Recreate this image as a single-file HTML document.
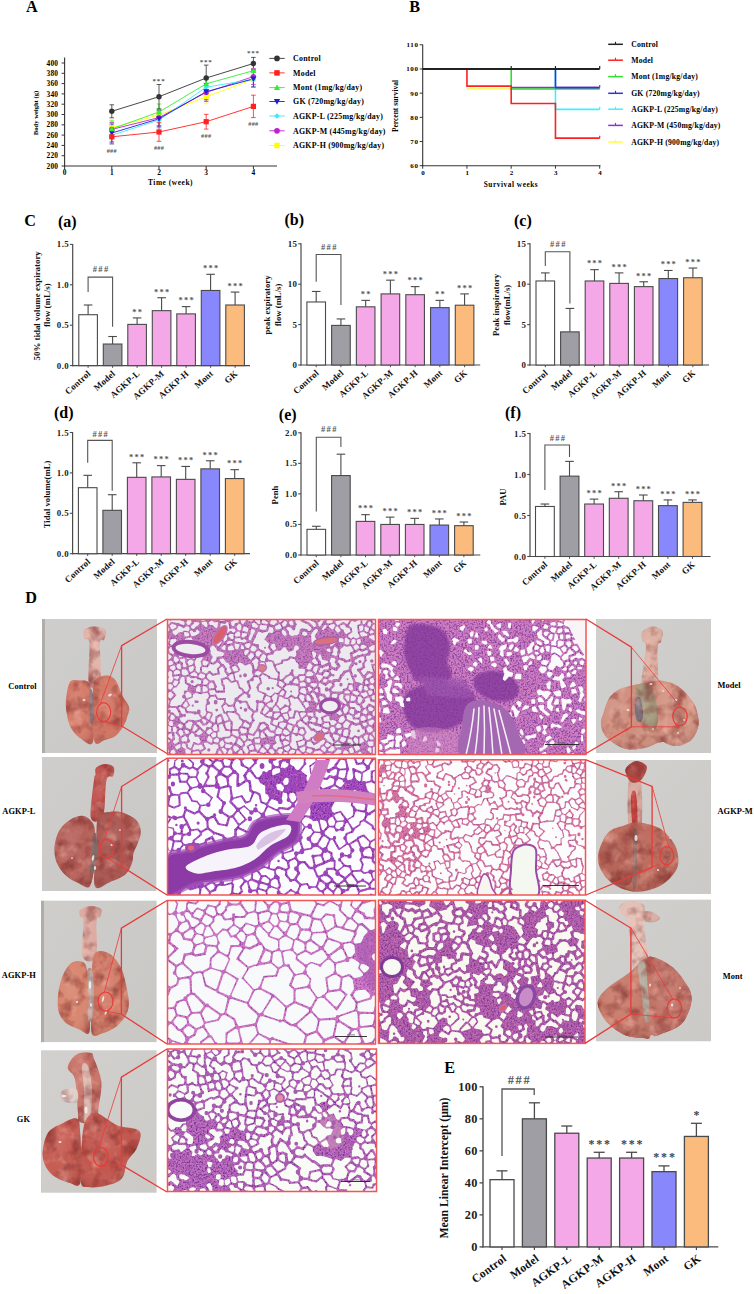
<!DOCTYPE html>
<html><head><meta charset="utf-8"><title>Figure</title>
<style>
html,body{margin:0;padding:0;background:#fff;}
body{width:754px;height:1294px;overflow:hidden;}
svg{display:block;font-family:"Liberation Serif", serif;font-weight:bold;}
</style></head>
<body>
<svg width="754" height="1294" viewBox="0 0 754 1294">
<defs><filter id="spk" x="0" y="0" width="1" height="1" color-interpolation-filters="sRGB">
<feTurbulence type="fractalNoise" baseFrequency="0.55" numOctaves="2" seed="4"/>
<feColorMatrix type="matrix" values="0 0 0 0 0.42 0 0 0 0 0.16 0 0 0 0 0.55 3.2 0 0 0 -1.45"/>
</filter><filter id="spk2" x="0" y="0" width="1" height="1" color-interpolation-filters="sRGB">
<feTurbulence type="fractalNoise" baseFrequency="0.7" numOctaves="2" seed="9"/>
<feColorMatrix type="matrix" values="0 0 0 0 0.95 0 0 0 0 0.55 0 0 0 0 0.75 0 3.0 0 0 -1.5"/>
</filter><filter id="soft" x="-2%" y="-2%" width="104%" height="104%"><feGaussianBlur stdDeviation="0.55"/></filter><filter id="soft2" x="-5%" y="-5%" width="110%" height="110%"><feGaussianBlur stdDeviation="1.2"/></filter><filter id="soft3" x="-20%" y="-20%" width="140%" height="140%"><feGaussianBlur stdDeviation="2.5"/></filter><filter id="lt" x="-5%" y="-5%" width="110%" height="110%" color-interpolation-filters="sRGB">
<feTurbulence type="fractalNoise" baseFrequency="0.07" numOctaves="3" seed="2" result="n"/>
<feColorMatrix in="n" type="matrix" values="0 0 0 0 0.45 0 0 0 0 0.12 0 0 0 0 0.12 1.4 0 0 0 -0.62" result="d"/>
<feComposite in="d" in2="SourceGraphic" operator="in" result="d2"/>
<feColorMatrix in="n" type="matrix" values="0 0 0 0 1 0 0 0 0 0.78 0 0 0 0 0.72 0 0 1.3 0 -0.7" result="l"/>
<feComposite in="l" in2="SourceGraphic" operator="in" result="l2"/>
<feMerge><feMergeNode in="SourceGraphic"/><feMergeNode in="d2"/><feMergeNode in="l2"/></feMerge>
<feGaussianBlur stdDeviation="0.75"/>
</filter><linearGradient id="bgg" x1="0" y1="0" x2="1" y2="1"><stop offset="0" stop-color="#d2d1cf"/><stop offset="1" stop-color="#c6c4c1"/></linearGradient><radialGradient id="lobeg" cx="0.4" cy="0.35" r="0.75"><stop offset="0" stop-color="#fff" stop-opacity="0.1"/><stop offset="0.55" stop-color="#fff" stop-opacity="0"/><stop offset="1" stop-color="#400" stop-opacity="0.18"/></radialGradient><clipPath id="c1"><rect x="167.5" y="619.5" width="208" height="135"/></clipPath><clipPath id="c2"><rect x="378.5" y="619.5" width="207.5" height="135"/></clipPath><clipPath id="c3"><rect x="167.5" y="758.2" width="208" height="136.8"/></clipPath><clipPath id="c4"><rect x="378.5" y="759.8" width="207" height="135.2"/></clipPath><clipPath id="c5"><rect x="167.5" y="900.5" width="208" height="143.5"/></clipPath><clipPath id="c6"><rect x="378.5" y="900.2" width="206.5" height="143.2"/></clipPath><clipPath id="c7"><rect x="167.5" y="1049" width="209" height="142.5"/></clipPath><clipPath id="c8"><rect x="42" y="619" width="115" height="134"/></clipPath><clipPath id="c9"><rect x="596" y="619" width="115" height="134"/></clipPath><clipPath id="c10"><rect x="42" y="757" width="114.5" height="134"/></clipPath><clipPath id="c11"><rect x="596" y="760" width="115" height="134"/></clipPath><clipPath id="c12"><rect x="41" y="900.5" width="115.7" height="141.8"/></clipPath><clipPath id="c13"><rect x="596" y="899.5" width="115" height="141.9"/></clipPath><clipPath id="c14"><rect x="41" y="1050.2" width="115.7" height="142.6"/></clipPath></defs>
<text x="26.00" y="12.40" font-size="16.2">A</text>
<text x="409.30" y="12.40" font-size="16.2">B</text>
<text x="24.30" y="226.20" font-size="16.2">C</text>
<text x="25.30" y="602.70" font-size="16.2">D</text>
<text x="444.30" y="1072.70" font-size="16.2">E</text>
<line x1="64.60" y1="57.40" x2="64.60" y2="166.60" stroke="#333" stroke-width="1.1"/>
<line x1="64.10" y1="166.00" x2="277.00" y2="166.00" stroke="#333" stroke-width="1.1"/>
<line x1="61.60" y1="166.00" x2="64.60" y2="166.00" stroke="#333" stroke-width="1"/>
<text x="58.00" y="168.60" font-size="7.4" text-anchor="end" letter-spacing="0.1">200</text>
<line x1="61.60" y1="155.70" x2="64.60" y2="155.70" stroke="#333" stroke-width="1"/>
<text x="58.00" y="158.30" font-size="7.4" text-anchor="end" letter-spacing="0.1">220</text>
<line x1="61.60" y1="145.40" x2="64.60" y2="145.40" stroke="#333" stroke-width="1"/>
<text x="58.00" y="148.00" font-size="7.4" text-anchor="end" letter-spacing="0.1">240</text>
<line x1="61.60" y1="135.10" x2="64.60" y2="135.10" stroke="#333" stroke-width="1"/>
<text x="58.00" y="137.70" font-size="7.4" text-anchor="end" letter-spacing="0.1">260</text>
<line x1="61.60" y1="124.80" x2="64.60" y2="124.80" stroke="#333" stroke-width="1"/>
<text x="58.00" y="127.40" font-size="7.4" text-anchor="end" letter-spacing="0.1">280</text>
<line x1="61.60" y1="114.50" x2="64.60" y2="114.50" stroke="#333" stroke-width="1"/>
<text x="58.00" y="117.10" font-size="7.4" text-anchor="end" letter-spacing="0.1">300</text>
<line x1="61.60" y1="104.20" x2="64.60" y2="104.20" stroke="#333" stroke-width="1"/>
<text x="58.00" y="106.80" font-size="7.4" text-anchor="end" letter-spacing="0.1">320</text>
<line x1="61.60" y1="93.90" x2="64.60" y2="93.90" stroke="#333" stroke-width="1"/>
<text x="58.00" y="96.50" font-size="7.4" text-anchor="end" letter-spacing="0.1">340</text>
<line x1="61.60" y1="83.60" x2="64.60" y2="83.60" stroke="#333" stroke-width="1"/>
<text x="58.00" y="86.20" font-size="7.4" text-anchor="end" letter-spacing="0.1">360</text>
<line x1="61.60" y1="73.30" x2="64.60" y2="73.30" stroke="#333" stroke-width="1"/>
<text x="58.00" y="75.90" font-size="7.4" text-anchor="end" letter-spacing="0.1">380</text>
<line x1="61.60" y1="63.00" x2="64.60" y2="63.00" stroke="#333" stroke-width="1"/>
<text x="58.00" y="65.60" font-size="7.4" text-anchor="end" letter-spacing="0.1">400</text>
<line x1="64.60" y1="166.00" x2="64.60" y2="169.00" stroke="#333" stroke-width="1"/>
<text x="64.60" y="175.30" font-size="7.4" text-anchor="middle">0</text>
<line x1="111.80" y1="166.00" x2="111.80" y2="169.00" stroke="#333" stroke-width="1"/>
<text x="111.80" y="175.30" font-size="7.4" text-anchor="middle">1</text>
<line x1="159.00" y1="166.00" x2="159.00" y2="169.00" stroke="#333" stroke-width="1"/>
<text x="159.00" y="175.30" font-size="7.4" text-anchor="middle">2</text>
<line x1="206.20" y1="166.00" x2="206.20" y2="169.00" stroke="#333" stroke-width="1"/>
<text x="206.20" y="175.30" font-size="7.4" text-anchor="middle">3</text>
<line x1="253.40" y1="166.00" x2="253.40" y2="169.00" stroke="#333" stroke-width="1"/>
<text x="253.40" y="175.30" font-size="7.4" text-anchor="middle">4</text>
<text x="170.50" y="185.00" font-size="7.4" text-anchor="middle" letter-spacing="0.55">Time (week)</text>
<text x="38.00" y="113.00" font-size="6.6" text-anchor="middle" transform="rotate(-90 38.00 113.00)">Body weight (g)</text>
<polyline points="111.80,127.80 159.00,115.00 206.20,96.70 253.40,79.30" fill="none" stroke="#ffff00" stroke-width="0.9"/>
<line x1="111.80" y1="119.80" x2="111.80" y2="135.80" stroke="#ffff00" stroke-width="0.8"/>
<line x1="109.50" y1="119.80" x2="114.10" y2="119.80" stroke="#ffff00" stroke-width="0.8"/>
<line x1="109.50" y1="135.80" x2="114.10" y2="135.80" stroke="#ffff00" stroke-width="0.8"/>
<line x1="159.00" y1="108.00" x2="159.00" y2="122.00" stroke="#ffff00" stroke-width="0.8"/>
<line x1="156.70" y1="108.00" x2="161.30" y2="108.00" stroke="#ffff00" stroke-width="0.8"/>
<line x1="156.70" y1="122.00" x2="161.30" y2="122.00" stroke="#ffff00" stroke-width="0.8"/>
<line x1="206.20" y1="89.70" x2="206.20" y2="103.70" stroke="#ffff00" stroke-width="0.8"/>
<line x1="203.90" y1="89.70" x2="208.50" y2="89.70" stroke="#ffff00" stroke-width="0.8"/>
<line x1="203.90" y1="103.70" x2="208.50" y2="103.70" stroke="#ffff00" stroke-width="0.8"/>
<line x1="253.40" y1="71.30" x2="253.40" y2="87.30" stroke="#ffff00" stroke-width="0.8"/>
<line x1="251.10" y1="71.30" x2="255.70" y2="71.30" stroke="#ffff00" stroke-width="0.8"/>
<line x1="251.10" y1="87.30" x2="255.70" y2="87.30" stroke="#ffff00" stroke-width="0.8"/>
<polyline points="111.80,129.40 159.00,117.60 206.20,92.40 253.40,76.60" fill="none" stroke="#c020d0" stroke-width="0.9"/>
<line x1="111.80" y1="122.40" x2="111.80" y2="136.40" stroke="#c020d0" stroke-width="0.8"/>
<line x1="109.50" y1="122.40" x2="114.10" y2="122.40" stroke="#c020d0" stroke-width="0.8"/>
<line x1="109.50" y1="136.40" x2="114.10" y2="136.40" stroke="#c020d0" stroke-width="0.8"/>
<line x1="159.00" y1="109.60" x2="159.00" y2="125.60" stroke="#c020d0" stroke-width="0.8"/>
<line x1="156.70" y1="109.60" x2="161.30" y2="109.60" stroke="#c020d0" stroke-width="0.8"/>
<line x1="156.70" y1="125.60" x2="161.30" y2="125.60" stroke="#c020d0" stroke-width="0.8"/>
<line x1="206.20" y1="83.40" x2="206.20" y2="101.40" stroke="#c020d0" stroke-width="0.8"/>
<line x1="203.90" y1="83.40" x2="208.50" y2="83.40" stroke="#c020d0" stroke-width="0.8"/>
<line x1="203.90" y1="101.40" x2="208.50" y2="101.40" stroke="#c020d0" stroke-width="0.8"/>
<line x1="253.40" y1="68.60" x2="253.40" y2="84.60" stroke="#c020d0" stroke-width="0.8"/>
<line x1="251.10" y1="68.60" x2="255.70" y2="68.60" stroke="#c020d0" stroke-width="0.8"/>
<line x1="251.10" y1="84.60" x2="255.70" y2="84.60" stroke="#c020d0" stroke-width="0.8"/>
<polyline points="111.80,135.20 159.00,120.00 206.20,87.20 253.40,79.30" fill="none" stroke="#40e8ff" stroke-width="0.9"/>
<line x1="111.80" y1="126.20" x2="111.80" y2="144.20" stroke="#40e8ff" stroke-width="0.8"/>
<line x1="109.50" y1="126.20" x2="114.10" y2="126.20" stroke="#40e8ff" stroke-width="0.8"/>
<line x1="109.50" y1="144.20" x2="114.10" y2="144.20" stroke="#40e8ff" stroke-width="0.8"/>
<line x1="159.00" y1="112.00" x2="159.00" y2="128.00" stroke="#40e8ff" stroke-width="0.8"/>
<line x1="156.70" y1="112.00" x2="161.30" y2="112.00" stroke="#40e8ff" stroke-width="0.8"/>
<line x1="156.70" y1="128.00" x2="161.30" y2="128.00" stroke="#40e8ff" stroke-width="0.8"/>
<line x1="206.20" y1="79.20" x2="206.20" y2="95.20" stroke="#40e8ff" stroke-width="0.8"/>
<line x1="203.90" y1="79.20" x2="208.50" y2="79.20" stroke="#40e8ff" stroke-width="0.8"/>
<line x1="203.90" y1="95.20" x2="208.50" y2="95.20" stroke="#40e8ff" stroke-width="0.8"/>
<line x1="253.40" y1="71.30" x2="253.40" y2="87.30" stroke="#40e8ff" stroke-width="0.8"/>
<line x1="251.10" y1="71.30" x2="255.70" y2="71.30" stroke="#40e8ff" stroke-width="0.8"/>
<line x1="251.10" y1="87.30" x2="255.70" y2="87.30" stroke="#40e8ff" stroke-width="0.8"/>
<polyline points="111.80,133.00 159.00,118.80 206.20,91.70 253.40,78.90" fill="none" stroke="#2020d0" stroke-width="0.9"/>
<line x1="111.80" y1="124.00" x2="111.80" y2="142.00" stroke="#2020d0" stroke-width="0.8"/>
<line x1="109.50" y1="124.00" x2="114.10" y2="124.00" stroke="#2020d0" stroke-width="0.8"/>
<line x1="109.50" y1="142.00" x2="114.10" y2="142.00" stroke="#2020d0" stroke-width="0.8"/>
<line x1="159.00" y1="110.80" x2="159.00" y2="126.80" stroke="#2020d0" stroke-width="0.8"/>
<line x1="156.70" y1="110.80" x2="161.30" y2="110.80" stroke="#2020d0" stroke-width="0.8"/>
<line x1="156.70" y1="126.80" x2="161.30" y2="126.80" stroke="#2020d0" stroke-width="0.8"/>
<line x1="206.20" y1="83.70" x2="206.20" y2="99.70" stroke="#2020d0" stroke-width="0.8"/>
<line x1="203.90" y1="83.70" x2="208.50" y2="83.70" stroke="#2020d0" stroke-width="0.8"/>
<line x1="203.90" y1="99.70" x2="208.50" y2="99.70" stroke="#2020d0" stroke-width="0.8"/>
<line x1="253.40" y1="70.90" x2="253.40" y2="86.90" stroke="#2020d0" stroke-width="0.8"/>
<line x1="251.10" y1="70.90" x2="255.70" y2="70.90" stroke="#2020d0" stroke-width="0.8"/>
<line x1="251.10" y1="86.90" x2="255.70" y2="86.90" stroke="#2020d0" stroke-width="0.8"/>
<polyline points="111.80,128.90 159.00,112.00 206.20,83.80 253.40,70.70" fill="none" stroke="#30f030" stroke-width="0.9"/>
<line x1="111.80" y1="120.90" x2="111.80" y2="136.90" stroke="#30f030" stroke-width="0.8"/>
<line x1="109.50" y1="120.90" x2="114.10" y2="120.90" stroke="#30f030" stroke-width="0.8"/>
<line x1="109.50" y1="136.90" x2="114.10" y2="136.90" stroke="#30f030" stroke-width="0.8"/>
<line x1="159.00" y1="104.00" x2="159.00" y2="120.00" stroke="#30f030" stroke-width="0.8"/>
<line x1="156.70" y1="104.00" x2="161.30" y2="104.00" stroke="#30f030" stroke-width="0.8"/>
<line x1="156.70" y1="120.00" x2="161.30" y2="120.00" stroke="#30f030" stroke-width="0.8"/>
<line x1="206.20" y1="77.80" x2="206.20" y2="89.80" stroke="#30f030" stroke-width="0.8"/>
<line x1="203.90" y1="77.80" x2="208.50" y2="77.80" stroke="#30f030" stroke-width="0.8"/>
<line x1="203.90" y1="89.80" x2="208.50" y2="89.80" stroke="#30f030" stroke-width="0.8"/>
<line x1="253.40" y1="64.70" x2="253.40" y2="76.70" stroke="#30f030" stroke-width="0.8"/>
<line x1="251.10" y1="64.70" x2="255.70" y2="64.70" stroke="#30f030" stroke-width="0.8"/>
<line x1="251.10" y1="76.70" x2="255.70" y2="76.70" stroke="#30f030" stroke-width="0.8"/>
<polyline points="111.80,136.80 159.00,132.00 206.20,121.70 253.40,106.40" fill="none" stroke="#ff2020" stroke-width="0.9"/>
<line x1="111.80" y1="129.80" x2="111.80" y2="143.80" stroke="#ff2020" stroke-width="0.8"/>
<line x1="109.50" y1="129.80" x2="114.10" y2="129.80" stroke="#ff2020" stroke-width="0.8"/>
<line x1="109.50" y1="143.80" x2="114.10" y2="143.80" stroke="#ff2020" stroke-width="0.8"/>
<line x1="159.00" y1="122.70" x2="159.00" y2="141.30" stroke="#ff2020" stroke-width="0.8"/>
<line x1="156.70" y1="122.70" x2="161.30" y2="122.70" stroke="#ff2020" stroke-width="0.8"/>
<line x1="156.70" y1="141.30" x2="161.30" y2="141.30" stroke="#ff2020" stroke-width="0.8"/>
<line x1="206.20" y1="114.30" x2="206.20" y2="129.10" stroke="#ff2020" stroke-width="0.8"/>
<line x1="203.90" y1="114.30" x2="208.50" y2="114.30" stroke="#ff2020" stroke-width="0.8"/>
<line x1="203.90" y1="129.10" x2="208.50" y2="129.10" stroke="#ff2020" stroke-width="0.8"/>
<line x1="253.40" y1="95.20" x2="253.40" y2="117.60" stroke="#ff2020" stroke-width="0.8"/>
<line x1="251.10" y1="95.20" x2="255.70" y2="95.20" stroke="#ff2020" stroke-width="0.8"/>
<line x1="251.10" y1="117.60" x2="255.70" y2="117.60" stroke="#ff2020" stroke-width="0.8"/>
<polyline points="111.80,111.30 159.00,96.70 206.20,78.00 253.40,63.50" fill="none" stroke="#333333" stroke-width="0.9"/>
<line x1="111.80" y1="104.80" x2="111.80" y2="117.80" stroke="#333333" stroke-width="0.8"/>
<line x1="109.50" y1="104.80" x2="114.10" y2="104.80" stroke="#333333" stroke-width="0.8"/>
<line x1="109.50" y1="117.80" x2="114.10" y2="117.80" stroke="#333333" stroke-width="0.8"/>
<line x1="159.00" y1="84.50" x2="159.00" y2="108.90" stroke="#333333" stroke-width="0.8"/>
<line x1="156.70" y1="84.50" x2="161.30" y2="84.50" stroke="#333333" stroke-width="0.8"/>
<line x1="156.70" y1="108.90" x2="161.30" y2="108.90" stroke="#333333" stroke-width="0.8"/>
<line x1="206.20" y1="65.10" x2="206.20" y2="90.90" stroke="#333333" stroke-width="0.8"/>
<line x1="203.90" y1="65.10" x2="208.50" y2="65.10" stroke="#333333" stroke-width="0.8"/>
<line x1="203.90" y1="90.90" x2="208.50" y2="90.90" stroke="#333333" stroke-width="0.8"/>
<line x1="253.40" y1="57.40" x2="253.40" y2="69.60" stroke="#333333" stroke-width="0.8"/>
<line x1="251.10" y1="57.40" x2="255.70" y2="57.40" stroke="#333333" stroke-width="0.8"/>
<line x1="251.10" y1="69.60" x2="255.70" y2="69.60" stroke="#333333" stroke-width="0.8"/>
<rect x="109.20" y="125.20" width="5.20" height="5.20" fill="#ffff00"/>
<rect x="156.40" y="112.40" width="5.20" height="5.20" fill="#ffff00"/>
<rect x="203.60" y="94.10" width="5.20" height="5.20" fill="#ffff00"/>
<rect x="250.80" y="76.70" width="5.20" height="5.20" fill="#ffff00"/>
<circle cx="111.80" cy="129.40" r="2.70" fill="#c020d0"/>
<circle cx="159.00" cy="117.60" r="2.70" fill="#c020d0"/>
<circle cx="206.20" cy="92.40" r="2.70" fill="#c020d0"/>
<circle cx="253.40" cy="76.60" r="2.70" fill="#c020d0"/>
<path d="M111.80 132.60L114.40 135.20L111.80 137.80L109.20 135.20Z" fill="#40e8ff"/>
<path d="M159.00 117.40L161.60 120.00L159.00 122.60L156.40 120.00Z" fill="#40e8ff"/>
<path d="M206.20 84.60L208.80 87.20L206.20 89.80L203.60 87.20Z" fill="#40e8ff"/>
<path d="M253.40 76.70L256.00 79.30L253.40 81.90L250.80 79.30Z" fill="#40e8ff"/>
<path d="M111.80 136.00L114.80 130.60L108.80 130.60Z" fill="#2020d0"/>
<path d="M159.00 121.80L162.00 116.40L156.00 116.40Z" fill="#2020d0"/>
<path d="M206.20 94.70L209.20 89.30L203.20 89.30Z" fill="#2020d0"/>
<path d="M253.40 81.90L256.40 76.50L250.40 76.50Z" fill="#2020d0"/>
<path d="M111.80 125.90L114.80 131.30L108.80 131.30Z" fill="#30f030"/>
<path d="M159.00 109.00L162.00 114.40L156.00 114.40Z" fill="#30f030"/>
<path d="M206.20 80.80L209.20 86.20L203.20 86.20Z" fill="#30f030"/>
<path d="M253.40 67.70L256.40 73.10L250.40 73.10Z" fill="#30f030"/>
<rect x="109.20" y="134.20" width="5.20" height="5.20" fill="#ff2020"/>
<rect x="156.40" y="129.40" width="5.20" height="5.20" fill="#ff2020"/>
<rect x="203.60" y="119.10" width="5.20" height="5.20" fill="#ff2020"/>
<rect x="250.80" y="103.80" width="5.20" height="5.20" fill="#ff2020"/>
<circle cx="111.80" cy="111.30" r="2.70" fill="#333333"/>
<circle cx="159.00" cy="96.70" r="2.70" fill="#333333"/>
<circle cx="206.20" cy="78.00" r="2.70" fill="#333333"/>
<circle cx="253.40" cy="63.50" r="2.70" fill="#333333"/>
<text x="159.00" y="83.40" font-size="7" text-anchor="middle" letter-spacing="0.8" fill="#555">***</text>
<text x="206.20" y="64.20" font-size="7" text-anchor="middle" letter-spacing="0.8" fill="#555">***</text>
<text x="253.40" y="55.40" font-size="7" text-anchor="middle" letter-spacing="0.8" fill="#555">***</text>
<text x="111.80" y="153.30" font-size="6.2" text-anchor="middle" letter-spacing="0.3" fill="#555">###</text>
<text x="159.00" y="149.90" font-size="6.2" text-anchor="middle" letter-spacing="0.3" fill="#555">###</text>
<text x="206.20" y="137.50" font-size="6.2" text-anchor="middle" letter-spacing="0.3" fill="#555">###</text>
<text x="253.40" y="125.60" font-size="6.2" text-anchor="middle" letter-spacing="0.3" fill="#555">###</text>
<line x1="269.30" y1="58.40" x2="284.70" y2="58.40" stroke="#333333" stroke-width="0.9"/>
<circle cx="277.00" cy="58.40" r="2.84" fill="#333333"/>
<text x="293.00" y="61.10" font-size="7.9" letter-spacing="0.25">Control</text>
<line x1="269.30" y1="72.90" x2="284.70" y2="72.90" stroke="#ff2020" stroke-width="0.9"/>
<rect x="274.27" y="70.17" width="5.46" height="5.46" fill="#ff2020"/>
<text x="293.00" y="75.60" font-size="7.9" letter-spacing="0.25">Model</text>
<line x1="269.30" y1="87.60" x2="284.70" y2="87.60" stroke="#30f030" stroke-width="0.9"/>
<path d="M277.00 84.45L280.15 90.12L273.85 90.12Z" fill="#30f030"/>
<text x="293.00" y="90.30" font-size="7.9" letter-spacing="0.25">Mont (1mg/kg/day)</text>
<line x1="269.30" y1="101.50" x2="284.70" y2="101.50" stroke="#2020d0" stroke-width="0.9"/>
<path d="M277.00 104.65L280.15 98.98L273.85 98.98Z" fill="#2020d0"/>
<text x="293.00" y="104.20" font-size="7.9" letter-spacing="0.25">GK (720mg/kg/day)</text>
<line x1="269.30" y1="116.00" x2="284.70" y2="116.00" stroke="#40e8ff" stroke-width="0.9"/>
<path d="M277.00 113.27L279.73 116.00L277.00 118.73L274.27 116.00Z" fill="#40e8ff"/>
<text x="293.00" y="118.70" font-size="7.9" letter-spacing="0.25">AGKP-L (225mg/kg/day)</text>
<line x1="269.30" y1="130.80" x2="284.70" y2="130.80" stroke="#c020d0" stroke-width="0.9"/>
<circle cx="277.00" cy="130.80" r="2.84" fill="#c020d0"/>
<text x="293.00" y="133.50" font-size="7.9" letter-spacing="0.25">AGKP-M (445mg/kg/day)</text>
<line x1="269.30" y1="145.50" x2="284.70" y2="145.50" stroke="#ffff00" stroke-width="0.9"/>
<rect x="274.27" y="142.77" width="5.46" height="5.46" fill="#ffff00"/>
<text x="293.00" y="148.20" font-size="7.9" letter-spacing="0.25">AGKP-H (900mg/kg/day)</text>
<line x1="422.70" y1="44.50" x2="422.70" y2="166.30" stroke="#333" stroke-width="1.1"/>
<line x1="422.20" y1="165.70" x2="600.50" y2="165.70" stroke="#333" stroke-width="1.1"/>
<line x1="419.70" y1="165.70" x2="422.70" y2="165.70" stroke="#333" stroke-width="1"/>
<text x="418.50" y="168.20" font-size="7.0" text-anchor="end" letter-spacing="0.6">60</text>
<line x1="419.70" y1="141.52" x2="422.70" y2="141.52" stroke="#333" stroke-width="1"/>
<text x="418.50" y="144.02" font-size="7.0" text-anchor="end" letter-spacing="0.6">70</text>
<line x1="419.70" y1="117.34" x2="422.70" y2="117.34" stroke="#333" stroke-width="1"/>
<text x="418.50" y="119.84" font-size="7.0" text-anchor="end" letter-spacing="0.6">80</text>
<line x1="419.70" y1="93.16" x2="422.70" y2="93.16" stroke="#333" stroke-width="1"/>
<text x="418.50" y="95.66" font-size="7.0" text-anchor="end" letter-spacing="0.6">90</text>
<line x1="419.70" y1="68.98" x2="422.70" y2="68.98" stroke="#333" stroke-width="1"/>
<text x="418.50" y="71.48" font-size="7.0" text-anchor="end" letter-spacing="0.6">100</text>
<line x1="419.70" y1="44.80" x2="422.70" y2="44.80" stroke="#333" stroke-width="1"/>
<text x="418.50" y="47.30" font-size="7.0" text-anchor="end" letter-spacing="0.6">110</text>
<line x1="422.70" y1="165.70" x2="422.70" y2="168.70" stroke="#333" stroke-width="1"/>
<text x="423.00" y="175.30" font-size="7.0" text-anchor="middle">0</text>
<line x1="466.95" y1="165.70" x2="466.95" y2="168.70" stroke="#333" stroke-width="1"/>
<text x="467.25" y="175.30" font-size="7.0" text-anchor="middle">1</text>
<line x1="511.20" y1="165.70" x2="511.20" y2="168.70" stroke="#333" stroke-width="1"/>
<text x="511.50" y="175.30" font-size="7.0" text-anchor="middle">2</text>
<line x1="555.45" y1="165.70" x2="555.45" y2="168.70" stroke="#333" stroke-width="1"/>
<text x="555.75" y="175.30" font-size="7.0" text-anchor="middle">3</text>
<line x1="599.70" y1="165.70" x2="599.70" y2="168.70" stroke="#333" stroke-width="1"/>
<text x="600.00" y="175.30" font-size="7.0" text-anchor="middle">4</text>
<text x="511.00" y="187.00" font-size="7.3" text-anchor="middle" letter-spacing="0.55">Survival weeks</text>
<text x="397.80" y="106.00" font-size="7.5" text-anchor="middle" transform="rotate(-90 397.80 106.00)">Percent survival</text>
<path d="M466.95 89.05 L511.20 89.05" stroke="#ffff40" stroke-width="1.6" fill="none"/>
<path d="M511.20 87.60 L555.45 87.60 L599.70 87.60" stroke="#9030d0" stroke-width="1.6" fill="none"/>
<path d="M555.45 68.98 L555.45 109.36 L599.70 109.36" stroke="#40f0ff" stroke-width="1.6" fill="none"/>
<path d="M511.20 68.98 L511.20 89.05 L599.70 89.05" stroke="#30e030" stroke-width="1.6" fill="none"/>
<path d="M555.45 68.98 L555.45 87.60 L599.70 87.60" stroke="#3030e0" stroke-width="1.6" fill="none"/>
<path d="M466.95 68.98 L466.95 86.15 L511.20 86.15 L511.20 103.56 L555.45 103.56 L555.45 138.13 L599.70 138.13" stroke="#ff2020" stroke-width="1.6" fill="none"/>
<path d="M422.70 68.98 L599.70 68.98" stroke="#222" stroke-width="2.0" fill="none"/>
<line x1="511.20" y1="65.98" x2="511.20" y2="68.98" stroke="#222" stroke-width="1.2"/>
<line x1="555.45" y1="65.98" x2="555.45" y2="68.98" stroke="#222" stroke-width="1.2"/>
<line x1="599.70" y1="65.98" x2="599.70" y2="68.98" stroke="#222" stroke-width="1.2"/>
<line x1="599.70" y1="85.10" x2="599.70" y2="87.60" stroke="#9030d0" stroke-width="1.2"/>
<line x1="599.70" y1="106.86" x2="599.70" y2="109.36" stroke="#40f0ff" stroke-width="1.2"/>
<line x1="599.70" y1="135.63" x2="599.70" y2="138.13" stroke="#ff2020" stroke-width="1.2"/>
<line x1="608.20" y1="44.30" x2="622.90" y2="44.30" stroke="#222" stroke-width="1.5"/>
<line x1="615.50" y1="41.80" x2="615.50" y2="44.30" stroke="#222" stroke-width="1.1"/>
<text x="631.20" y="47.00" font-size="7.7" letter-spacing="0.2">Control</text>
<line x1="608.20" y1="60.20" x2="622.90" y2="60.20" stroke="#ff2020" stroke-width="1.5"/>
<line x1="615.50" y1="57.70" x2="615.50" y2="60.20" stroke="#ff2020" stroke-width="1.1"/>
<text x="631.20" y="62.90" font-size="7.7" letter-spacing="0.2">Model</text>
<line x1="608.20" y1="76.60" x2="622.90" y2="76.60" stroke="#30e030" stroke-width="1.5"/>
<line x1="615.50" y1="74.10" x2="615.50" y2="76.60" stroke="#30e030" stroke-width="1.1"/>
<text x="631.20" y="79.30" font-size="7.7" letter-spacing="0.2">Mont (1mg/kg/day)</text>
<line x1="608.20" y1="93.30" x2="622.90" y2="93.30" stroke="#3030e0" stroke-width="1.5"/>
<line x1="615.50" y1="90.80" x2="615.50" y2="93.30" stroke="#3030e0" stroke-width="1.1"/>
<text x="631.20" y="96.00" font-size="7.7" letter-spacing="0.2">GK (720mg/kg/day)</text>
<line x1="608.20" y1="109.20" x2="622.90" y2="109.20" stroke="#40f0ff" stroke-width="1.5"/>
<line x1="615.50" y1="106.70" x2="615.50" y2="109.20" stroke="#40f0ff" stroke-width="1.1"/>
<text x="631.20" y="111.90" font-size="7.7" letter-spacing="0.2">AGKP-L (225mg/kg/day)</text>
<line x1="608.20" y1="125.40" x2="622.90" y2="125.40" stroke="#9030d0" stroke-width="1.5"/>
<line x1="615.50" y1="122.90" x2="615.50" y2="125.40" stroke="#9030d0" stroke-width="1.1"/>
<text x="631.20" y="128.10" font-size="7.7" letter-spacing="0.2">AGKP-M (450mg/kg/day)</text>
<line x1="608.20" y1="142.00" x2="622.90" y2="142.00" stroke="#ffff40" stroke-width="1.5"/>
<line x1="615.50" y1="139.50" x2="615.50" y2="142.00" stroke="#ffff40" stroke-width="1.1"/>
<text x="631.20" y="144.70" font-size="7.7" letter-spacing="0.2">AGKP-H (900mg/kg/day)</text>
<line x1="72.70" y1="243.90" x2="72.70" y2="366.20" stroke="#4a4a4a" stroke-width="1.2"/>
<line x1="72.10" y1="365.60" x2="250.00" y2="365.60" stroke="#4a4a4a" stroke-width="1.2"/>
<line x1="69.90" y1="365.60" x2="72.70" y2="365.60" stroke="#4a4a4a" stroke-width="1.1"/>
<text x="69.10" y="368.63" font-size="8.9" text-anchor="end" letter-spacing="0.4" fill="#222">0.0</text>
<line x1="69.90" y1="325.20" x2="72.70" y2="325.20" stroke="#4a4a4a" stroke-width="1.1"/>
<text x="69.10" y="328.23" font-size="8.9" text-anchor="end" letter-spacing="0.4" fill="#222">0.5</text>
<line x1="69.90" y1="284.80" x2="72.70" y2="284.80" stroke="#4a4a4a" stroke-width="1.1"/>
<text x="69.10" y="287.83" font-size="8.9" text-anchor="end" letter-spacing="0.4" fill="#222">1.0</text>
<line x1="69.90" y1="244.40" x2="72.70" y2="244.40" stroke="#4a4a4a" stroke-width="1.1"/>
<text x="69.10" y="247.43" font-size="8.9" text-anchor="end" letter-spacing="0.4" fill="#222">1.5</text>
<line x1="88.10" y1="314.70" x2="88.10" y2="305.00" stroke="#4a4a4a" stroke-width="1.1"/>
<line x1="83.80" y1="305.00" x2="92.40" y2="305.00" stroke="#4a4a4a" stroke-width="1.1"/>
<rect x="78.80" y="314.70" width="18.60" height="50.90" fill="#ffffff" stroke="#4a4a4a" stroke-width="1.1"/>
<line x1="88.10" y1="365.60" x2="88.10" y2="367.80" stroke="#4a4a4a" stroke-width="1"/>
<text x="91.30" y="374.40" font-size="9.0" text-anchor="end" transform="rotate(-42 91.30 374.40)" letter-spacing="0.15" fill="#111">Control</text>
<line x1="112.60" y1="344.03" x2="112.60" y2="336.51" stroke="#4a4a4a" stroke-width="1.1"/>
<line x1="108.30" y1="336.51" x2="116.90" y2="336.51" stroke="#4a4a4a" stroke-width="1.1"/>
<rect x="103.30" y="344.03" width="18.60" height="21.57" fill="#9e9ea4" stroke="#4a4a4a" stroke-width="1.1"/>
<line x1="112.60" y1="365.60" x2="112.60" y2="367.80" stroke="#4a4a4a" stroke-width="1"/>
<text x="115.80" y="374.40" font-size="9.0" text-anchor="end" transform="rotate(-42 115.80 374.40)" letter-spacing="0.15" fill="#111">Model</text>
<line x1="137.10" y1="324.39" x2="137.10" y2="317.93" stroke="#4a4a4a" stroke-width="1.1"/>
<line x1="132.80" y1="317.93" x2="141.40" y2="317.93" stroke="#4a4a4a" stroke-width="1.1"/>
<rect x="127.80" y="324.39" width="18.60" height="41.21" fill="#f5a8e8" stroke="#4a4a4a" stroke-width="1.1"/>
<line x1="137.10" y1="365.60" x2="137.10" y2="367.80" stroke="#4a4a4a" stroke-width="1"/>
<text x="140.30" y="374.40" font-size="9.0" text-anchor="end" transform="rotate(-42 140.30 374.40)" letter-spacing="0.15" fill="#111">AGKP-L</text>
<text x="137.70" y="314.73" font-size="8.5" text-anchor="middle" letter-spacing="1.2" fill="#555">**</text>
<line x1="161.60" y1="310.66" x2="161.60" y2="297.73" stroke="#4a4a4a" stroke-width="1.1"/>
<line x1="157.30" y1="297.73" x2="165.90" y2="297.73" stroke="#4a4a4a" stroke-width="1.1"/>
<rect x="152.30" y="310.66" width="18.60" height="54.94" fill="#f5a8e8" stroke="#4a4a4a" stroke-width="1.1"/>
<line x1="161.60" y1="365.60" x2="161.60" y2="367.80" stroke="#4a4a4a" stroke-width="1"/>
<text x="164.80" y="374.40" font-size="9.0" text-anchor="end" transform="rotate(-42 164.80 374.40)" letter-spacing="0.15" fill="#111">AGKP-M</text>
<text x="162.20" y="294.53" font-size="8.5" text-anchor="middle" letter-spacing="1.2" fill="#555">***</text>
<line x1="186.10" y1="313.89" x2="186.10" y2="306.62" stroke="#4a4a4a" stroke-width="1.1"/>
<line x1="181.80" y1="306.62" x2="190.40" y2="306.62" stroke="#4a4a4a" stroke-width="1.1"/>
<rect x="176.80" y="313.89" width="18.60" height="51.71" fill="#f5a8e8" stroke="#4a4a4a" stroke-width="1.1"/>
<line x1="186.10" y1="365.60" x2="186.10" y2="367.80" stroke="#4a4a4a" stroke-width="1"/>
<text x="189.30" y="374.40" font-size="9.0" text-anchor="end" transform="rotate(-42 189.30 374.40)" letter-spacing="0.15" fill="#111">AGKP-H</text>
<text x="186.70" y="303.42" font-size="8.5" text-anchor="middle" letter-spacing="1.2" fill="#555">***</text>
<line x1="210.60" y1="290.46" x2="210.60" y2="274.30" stroke="#4a4a4a" stroke-width="1.1"/>
<line x1="206.30" y1="274.30" x2="214.90" y2="274.30" stroke="#4a4a4a" stroke-width="1.1"/>
<rect x="201.30" y="290.46" width="18.60" height="75.14" fill="#8888fc" stroke="#4a4a4a" stroke-width="1.1"/>
<line x1="210.60" y1="365.60" x2="210.60" y2="367.80" stroke="#4a4a4a" stroke-width="1"/>
<text x="213.80" y="374.40" font-size="9.0" text-anchor="end" transform="rotate(-42 213.80 374.40)" letter-spacing="0.15" fill="#111">Mont</text>
<text x="211.20" y="271.10" font-size="8.5" text-anchor="middle" letter-spacing="1.2" fill="#555">***</text>
<line x1="235.10" y1="305.00" x2="235.10" y2="292.07" stroke="#4a4a4a" stroke-width="1.1"/>
<line x1="230.80" y1="292.07" x2="239.40" y2="292.07" stroke="#4a4a4a" stroke-width="1.1"/>
<rect x="225.80" y="305.00" width="18.60" height="60.60" fill="#fbbb7c" stroke="#4a4a4a" stroke-width="1.1"/>
<line x1="235.10" y1="365.60" x2="235.10" y2="367.80" stroke="#4a4a4a" stroke-width="1"/>
<text x="238.30" y="374.40" font-size="9.0" text-anchor="end" transform="rotate(-42 238.30 374.40)" letter-spacing="0.15" fill="#111">GK</text>
<text x="235.70" y="288.87" font-size="8.5" text-anchor="middle" letter-spacing="1.2" fill="#555">***</text>
<path d="M88.10 292.00V277.10H112.60V326.80" stroke="#555" stroke-width="1.1" fill="none"/>
<text x="101.15" y="272.00" font-size="8.5" text-anchor="middle" letter-spacing="1.3" fill="#555">###</text>
<line x1="301.00" y1="243.30" x2="301.00" y2="365.60" stroke="#4a4a4a" stroke-width="1.2"/>
<line x1="300.40" y1="365.00" x2="480.20" y2="365.00" stroke="#4a4a4a" stroke-width="1.2"/>
<line x1="298.20" y1="365.00" x2="301.00" y2="365.00" stroke="#4a4a4a" stroke-width="1.1"/>
<text x="297.40" y="368.03" font-size="8.9" text-anchor="end" letter-spacing="0.4" fill="#222">0</text>
<line x1="298.20" y1="324.60" x2="301.00" y2="324.60" stroke="#4a4a4a" stroke-width="1.1"/>
<text x="297.40" y="327.63" font-size="8.9" text-anchor="end" letter-spacing="0.4" fill="#222">5</text>
<line x1="298.20" y1="284.20" x2="301.00" y2="284.20" stroke="#4a4a4a" stroke-width="1.1"/>
<text x="297.40" y="287.23" font-size="8.9" text-anchor="end" letter-spacing="0.4" fill="#222">10</text>
<line x1="298.20" y1="243.80" x2="301.00" y2="243.80" stroke="#4a4a4a" stroke-width="1.1"/>
<text x="297.40" y="246.83" font-size="8.9" text-anchor="end" letter-spacing="0.4" fill="#222">15</text>
<line x1="316.20" y1="301.98" x2="316.20" y2="291.47" stroke="#4a4a4a" stroke-width="1.1"/>
<line x1="311.90" y1="291.47" x2="320.50" y2="291.47" stroke="#4a4a4a" stroke-width="1.1"/>
<rect x="306.90" y="301.98" width="18.60" height="63.02" fill="#ffffff" stroke="#4a4a4a" stroke-width="1.1"/>
<line x1="316.20" y1="365.00" x2="316.20" y2="367.20" stroke="#4a4a4a" stroke-width="1"/>
<text x="319.40" y="373.80" font-size="9.0" text-anchor="end" transform="rotate(-42 319.40 373.80)" letter-spacing="0.15" fill="#111">Control</text>
<line x1="340.93" y1="325.41" x2="340.93" y2="318.94" stroke="#4a4a4a" stroke-width="1.1"/>
<line x1="336.63" y1="318.94" x2="345.23" y2="318.94" stroke="#4a4a4a" stroke-width="1.1"/>
<rect x="331.63" y="325.41" width="18.60" height="39.59" fill="#9e9ea4" stroke="#4a4a4a" stroke-width="1.1"/>
<line x1="340.93" y1="365.00" x2="340.93" y2="367.20" stroke="#4a4a4a" stroke-width="1"/>
<text x="344.13" y="373.80" font-size="9.0" text-anchor="end" transform="rotate(-42 344.13 373.80)" letter-spacing="0.15" fill="#111">Model</text>
<line x1="365.66" y1="306.82" x2="365.66" y2="300.36" stroke="#4a4a4a" stroke-width="1.1"/>
<line x1="361.36" y1="300.36" x2="369.96" y2="300.36" stroke="#4a4a4a" stroke-width="1.1"/>
<rect x="356.36" y="306.82" width="18.60" height="58.18" fill="#f5a8e8" stroke="#4a4a4a" stroke-width="1.1"/>
<line x1="365.66" y1="365.00" x2="365.66" y2="367.20" stroke="#4a4a4a" stroke-width="1"/>
<text x="368.86" y="373.80" font-size="9.0" text-anchor="end" transform="rotate(-42 368.86 373.80)" letter-spacing="0.15" fill="#111">AGKP-L</text>
<text x="366.26" y="297.16" font-size="8.5" text-anchor="middle" letter-spacing="1.2" fill="#555">**</text>
<line x1="390.39" y1="293.90" x2="390.39" y2="280.16" stroke="#4a4a4a" stroke-width="1.1"/>
<line x1="386.09" y1="280.16" x2="394.69" y2="280.16" stroke="#4a4a4a" stroke-width="1.1"/>
<rect x="381.09" y="293.90" width="18.60" height="71.10" fill="#f5a8e8" stroke="#4a4a4a" stroke-width="1.1"/>
<line x1="390.39" y1="365.00" x2="390.39" y2="367.20" stroke="#4a4a4a" stroke-width="1"/>
<text x="393.59" y="373.80" font-size="9.0" text-anchor="end" transform="rotate(-42 393.59 373.80)" letter-spacing="0.15" fill="#111">AGKP-M</text>
<text x="390.99" y="276.96" font-size="8.5" text-anchor="middle" letter-spacing="1.2" fill="#555">***</text>
<line x1="415.12" y1="294.70" x2="415.12" y2="286.62" stroke="#4a4a4a" stroke-width="1.1"/>
<line x1="410.82" y1="286.62" x2="419.42" y2="286.62" stroke="#4a4a4a" stroke-width="1.1"/>
<rect x="405.82" y="294.70" width="18.60" height="70.30" fill="#f5a8e8" stroke="#4a4a4a" stroke-width="1.1"/>
<line x1="415.12" y1="365.00" x2="415.12" y2="367.20" stroke="#4a4a4a" stroke-width="1"/>
<text x="418.32" y="373.80" font-size="9.0" text-anchor="end" transform="rotate(-42 418.32 373.80)" letter-spacing="0.15" fill="#111">AGKP-H</text>
<text x="415.72" y="283.42" font-size="8.5" text-anchor="middle" letter-spacing="1.2" fill="#555">***</text>
<line x1="439.85" y1="307.63" x2="439.85" y2="300.36" stroke="#4a4a4a" stroke-width="1.1"/>
<line x1="435.55" y1="300.36" x2="444.15" y2="300.36" stroke="#4a4a4a" stroke-width="1.1"/>
<rect x="430.55" y="307.63" width="18.60" height="57.37" fill="#8888fc" stroke="#4a4a4a" stroke-width="1.1"/>
<line x1="439.85" y1="365.00" x2="439.85" y2="367.20" stroke="#4a4a4a" stroke-width="1"/>
<text x="443.05" y="373.80" font-size="9.0" text-anchor="end" transform="rotate(-42 443.05 373.80)" letter-spacing="0.15" fill="#111">Mont</text>
<text x="440.45" y="297.16" font-size="8.5" text-anchor="middle" letter-spacing="1.2" fill="#555">**</text>
<line x1="464.58" y1="305.21" x2="464.58" y2="293.90" stroke="#4a4a4a" stroke-width="1.1"/>
<line x1="460.28" y1="293.90" x2="468.88" y2="293.90" stroke="#4a4a4a" stroke-width="1.1"/>
<rect x="455.28" y="305.21" width="18.60" height="59.79" fill="#fbbb7c" stroke="#4a4a4a" stroke-width="1.1"/>
<line x1="464.58" y1="365.00" x2="464.58" y2="367.20" stroke="#4a4a4a" stroke-width="1"/>
<text x="467.78" y="373.80" font-size="9.0" text-anchor="end" transform="rotate(-42 467.78 373.80)" letter-spacing="0.15" fill="#111">GK</text>
<text x="465.18" y="290.70" font-size="8.5" text-anchor="middle" letter-spacing="1.2" fill="#555">***</text>
<path d="M316.20 281.70V254.50H340.93V305.00" stroke="#555" stroke-width="1.1" fill="none"/>
<text x="329.37" y="250.00" font-size="8.5" text-anchor="middle" letter-spacing="1.3" fill="#555">###</text>
<line x1="530.00" y1="243.30" x2="530.00" y2="365.60" stroke="#4a4a4a" stroke-width="1.2"/>
<line x1="529.40" y1="365.00" x2="709.00" y2="365.00" stroke="#4a4a4a" stroke-width="1.2"/>
<line x1="527.20" y1="365.00" x2="530.00" y2="365.00" stroke="#4a4a4a" stroke-width="1.1"/>
<text x="526.40" y="368.03" font-size="8.9" text-anchor="end" letter-spacing="0.4" fill="#222">0</text>
<line x1="527.20" y1="324.60" x2="530.00" y2="324.60" stroke="#4a4a4a" stroke-width="1.1"/>
<text x="526.40" y="327.63" font-size="8.9" text-anchor="end" letter-spacing="0.4" fill="#222">5</text>
<line x1="527.20" y1="284.20" x2="530.00" y2="284.20" stroke="#4a4a4a" stroke-width="1.1"/>
<text x="526.40" y="287.23" font-size="8.9" text-anchor="end" letter-spacing="0.4" fill="#222">10</text>
<line x1="527.20" y1="243.80" x2="530.00" y2="243.80" stroke="#4a4a4a" stroke-width="1.1"/>
<text x="526.40" y="246.83" font-size="8.9" text-anchor="end" letter-spacing="0.4" fill="#222">15</text>
<line x1="545.30" y1="280.97" x2="545.30" y2="272.89" stroke="#4a4a4a" stroke-width="1.1"/>
<line x1="541.00" y1="272.89" x2="549.60" y2="272.89" stroke="#4a4a4a" stroke-width="1.1"/>
<rect x="536.00" y="280.97" width="18.60" height="84.03" fill="#ffffff" stroke="#4a4a4a" stroke-width="1.1"/>
<line x1="545.30" y1="365.00" x2="545.30" y2="367.20" stroke="#4a4a4a" stroke-width="1"/>
<text x="548.50" y="373.80" font-size="9.0" text-anchor="end" transform="rotate(-42 548.50 373.80)" letter-spacing="0.15" fill="#111">Control</text>
<line x1="569.90" y1="331.87" x2="569.90" y2="308.44" stroke="#4a4a4a" stroke-width="1.1"/>
<line x1="565.60" y1="308.44" x2="574.20" y2="308.44" stroke="#4a4a4a" stroke-width="1.1"/>
<rect x="560.60" y="331.87" width="18.60" height="33.13" fill="#9e9ea4" stroke="#4a4a4a" stroke-width="1.1"/>
<line x1="569.90" y1="365.00" x2="569.90" y2="367.20" stroke="#4a4a4a" stroke-width="1"/>
<text x="573.10" y="373.80" font-size="9.0" text-anchor="end" transform="rotate(-42 573.10 373.80)" letter-spacing="0.15" fill="#111">Model</text>
<line x1="594.50" y1="280.97" x2="594.50" y2="269.66" stroke="#4a4a4a" stroke-width="1.1"/>
<line x1="590.20" y1="269.66" x2="598.80" y2="269.66" stroke="#4a4a4a" stroke-width="1.1"/>
<rect x="585.20" y="280.97" width="18.60" height="84.03" fill="#f5a8e8" stroke="#4a4a4a" stroke-width="1.1"/>
<line x1="594.50" y1="365.00" x2="594.50" y2="367.20" stroke="#4a4a4a" stroke-width="1"/>
<text x="597.70" y="373.80" font-size="9.0" text-anchor="end" transform="rotate(-42 597.70 373.80)" letter-spacing="0.15" fill="#111">AGKP-L</text>
<text x="595.10" y="266.46" font-size="8.5" text-anchor="middle" letter-spacing="1.2" fill="#555">***</text>
<line x1="619.10" y1="283.39" x2="619.10" y2="272.89" stroke="#4a4a4a" stroke-width="1.1"/>
<line x1="614.80" y1="272.89" x2="623.40" y2="272.89" stroke="#4a4a4a" stroke-width="1.1"/>
<rect x="609.80" y="283.39" width="18.60" height="81.61" fill="#f5a8e8" stroke="#4a4a4a" stroke-width="1.1"/>
<line x1="619.10" y1="365.00" x2="619.10" y2="367.20" stroke="#4a4a4a" stroke-width="1"/>
<text x="622.30" y="373.80" font-size="9.0" text-anchor="end" transform="rotate(-42 622.30 373.80)" letter-spacing="0.15" fill="#111">AGKP-M</text>
<text x="619.70" y="269.69" font-size="8.5" text-anchor="middle" letter-spacing="1.2" fill="#555">***</text>
<line x1="643.70" y1="286.62" x2="643.70" y2="281.78" stroke="#4a4a4a" stroke-width="1.1"/>
<line x1="639.40" y1="281.78" x2="648.00" y2="281.78" stroke="#4a4a4a" stroke-width="1.1"/>
<rect x="634.40" y="286.62" width="18.60" height="78.38" fill="#f5a8e8" stroke="#4a4a4a" stroke-width="1.1"/>
<line x1="643.70" y1="365.00" x2="643.70" y2="367.20" stroke="#4a4a4a" stroke-width="1"/>
<text x="646.90" y="373.80" font-size="9.0" text-anchor="end" transform="rotate(-42 646.90 373.80)" letter-spacing="0.15" fill="#111">AGKP-H</text>
<text x="644.30" y="278.58" font-size="8.5" text-anchor="middle" letter-spacing="1.2" fill="#555">***</text>
<line x1="668.30" y1="278.54" x2="668.30" y2="270.46" stroke="#4a4a4a" stroke-width="1.1"/>
<line x1="664.00" y1="270.46" x2="672.60" y2="270.46" stroke="#4a4a4a" stroke-width="1.1"/>
<rect x="659.00" y="278.54" width="18.60" height="86.46" fill="#8888fc" stroke="#4a4a4a" stroke-width="1.1"/>
<line x1="668.30" y1="365.00" x2="668.30" y2="367.20" stroke="#4a4a4a" stroke-width="1"/>
<text x="671.50" y="373.80" font-size="9.0" text-anchor="end" transform="rotate(-42 671.50 373.80)" letter-spacing="0.15" fill="#111">Mont</text>
<text x="668.90" y="267.26" font-size="8.5" text-anchor="middle" letter-spacing="1.2" fill="#555">***</text>
<line x1="692.90" y1="277.74" x2="692.90" y2="268.04" stroke="#4a4a4a" stroke-width="1.1"/>
<line x1="688.60" y1="268.04" x2="697.20" y2="268.04" stroke="#4a4a4a" stroke-width="1.1"/>
<rect x="683.60" y="277.74" width="18.60" height="87.26" fill="#fbbb7c" stroke="#4a4a4a" stroke-width="1.1"/>
<line x1="692.90" y1="365.00" x2="692.90" y2="367.20" stroke="#4a4a4a" stroke-width="1"/>
<text x="696.10" y="373.80" font-size="9.0" text-anchor="end" transform="rotate(-42 696.10 373.80)" letter-spacing="0.15" fill="#111">GK</text>
<text x="693.50" y="264.84" font-size="8.5" text-anchor="middle" letter-spacing="1.2" fill="#555">***</text>
<path d="M545.30 266.00V251.70H569.90V303.40" stroke="#555" stroke-width="1.1" fill="none"/>
<text x="558.40" y="247.00" font-size="8.5" text-anchor="middle" letter-spacing="1.3" fill="#555">###</text>
<line x1="72.60" y1="432.00" x2="72.60" y2="554.30" stroke="#4a4a4a" stroke-width="1.2"/>
<line x1="72.00" y1="553.70" x2="250.00" y2="553.70" stroke="#4a4a4a" stroke-width="1.2"/>
<line x1="69.80" y1="553.70" x2="72.60" y2="553.70" stroke="#4a4a4a" stroke-width="1.1"/>
<text x="69.00" y="556.73" font-size="8.9" text-anchor="end" letter-spacing="0.4" fill="#222">0.0</text>
<line x1="69.80" y1="513.30" x2="72.60" y2="513.30" stroke="#4a4a4a" stroke-width="1.1"/>
<text x="69.00" y="516.33" font-size="8.9" text-anchor="end" letter-spacing="0.4" fill="#222">0.5</text>
<line x1="69.80" y1="472.90" x2="72.60" y2="472.90" stroke="#4a4a4a" stroke-width="1.1"/>
<text x="69.00" y="475.93" font-size="8.9" text-anchor="end" letter-spacing="0.4" fill="#222">1.0</text>
<line x1="69.80" y1="432.50" x2="72.60" y2="432.50" stroke="#4a4a4a" stroke-width="1.1"/>
<text x="69.00" y="435.53" font-size="8.9" text-anchor="end" letter-spacing="0.4" fill="#222">1.5</text>
<line x1="87.70" y1="487.69" x2="87.70" y2="475.32" stroke="#4a4a4a" stroke-width="1.1"/>
<line x1="83.40" y1="475.32" x2="92.00" y2="475.32" stroke="#4a4a4a" stroke-width="1.1"/>
<rect x="78.40" y="487.69" width="18.60" height="66.01" fill="#ffffff" stroke="#4a4a4a" stroke-width="1.1"/>
<line x1="87.70" y1="553.70" x2="87.70" y2="555.90" stroke="#4a4a4a" stroke-width="1"/>
<text x="90.90" y="562.50" font-size="9.0" text-anchor="end" transform="rotate(-42 90.90 562.50)" letter-spacing="0.15" fill="#111">Control</text>
<line x1="112.20" y1="510.31" x2="112.20" y2="494.72" stroke="#4a4a4a" stroke-width="1.1"/>
<line x1="107.90" y1="494.72" x2="116.50" y2="494.72" stroke="#4a4a4a" stroke-width="1.1"/>
<rect x="102.90" y="510.31" width="18.60" height="43.39" fill="#9e9ea4" stroke="#4a4a4a" stroke-width="1.1"/>
<line x1="112.20" y1="553.70" x2="112.20" y2="555.90" stroke="#4a4a4a" stroke-width="1"/>
<text x="115.40" y="562.50" font-size="9.0" text-anchor="end" transform="rotate(-42 115.40 562.50)" letter-spacing="0.15" fill="#111">Model</text>
<line x1="136.70" y1="477.34" x2="136.70" y2="462.80" stroke="#4a4a4a" stroke-width="1.1"/>
<line x1="132.40" y1="462.80" x2="141.00" y2="462.80" stroke="#4a4a4a" stroke-width="1.1"/>
<rect x="127.40" y="477.34" width="18.60" height="76.36" fill="#f5a8e8" stroke="#4a4a4a" stroke-width="1.1"/>
<line x1="136.70" y1="553.70" x2="136.70" y2="555.90" stroke="#4a4a4a" stroke-width="1"/>
<text x="139.90" y="562.50" font-size="9.0" text-anchor="end" transform="rotate(-42 139.90 562.50)" letter-spacing="0.15" fill="#111">AGKP-L</text>
<text x="137.30" y="459.60" font-size="8.5" text-anchor="middle" letter-spacing="1.2" fill="#555">***</text>
<line x1="161.20" y1="476.94" x2="161.20" y2="465.63" stroke="#4a4a4a" stroke-width="1.1"/>
<line x1="156.90" y1="465.63" x2="165.50" y2="465.63" stroke="#4a4a4a" stroke-width="1.1"/>
<rect x="151.90" y="476.94" width="18.60" height="76.76" fill="#f5a8e8" stroke="#4a4a4a" stroke-width="1.1"/>
<line x1="161.20" y1="553.70" x2="161.20" y2="555.90" stroke="#4a4a4a" stroke-width="1"/>
<text x="164.40" y="562.50" font-size="9.0" text-anchor="end" transform="rotate(-42 164.40 562.50)" letter-spacing="0.15" fill="#111">AGKP-M</text>
<text x="161.80" y="462.43" font-size="8.5" text-anchor="middle" letter-spacing="1.2" fill="#555">***</text>
<line x1="185.70" y1="479.36" x2="185.70" y2="466.44" stroke="#4a4a4a" stroke-width="1.1"/>
<line x1="181.40" y1="466.44" x2="190.00" y2="466.44" stroke="#4a4a4a" stroke-width="1.1"/>
<rect x="176.40" y="479.36" width="18.60" height="74.34" fill="#f5a8e8" stroke="#4a4a4a" stroke-width="1.1"/>
<line x1="185.70" y1="553.70" x2="185.70" y2="555.90" stroke="#4a4a4a" stroke-width="1"/>
<text x="188.90" y="562.50" font-size="9.0" text-anchor="end" transform="rotate(-42 188.90 562.50)" letter-spacing="0.15" fill="#111">AGKP-H</text>
<text x="186.30" y="463.24" font-size="8.5" text-anchor="middle" letter-spacing="1.2" fill="#555">***</text>
<line x1="210.20" y1="468.86" x2="210.20" y2="460.78" stroke="#4a4a4a" stroke-width="1.1"/>
<line x1="205.90" y1="460.78" x2="214.50" y2="460.78" stroke="#4a4a4a" stroke-width="1.1"/>
<rect x="200.90" y="468.86" width="18.60" height="84.84" fill="#8888fc" stroke="#4a4a4a" stroke-width="1.1"/>
<line x1="210.20" y1="553.70" x2="210.20" y2="555.90" stroke="#4a4a4a" stroke-width="1"/>
<text x="213.40" y="562.50" font-size="9.0" text-anchor="end" transform="rotate(-42 213.40 562.50)" letter-spacing="0.15" fill="#111">Mont</text>
<text x="210.80" y="457.58" font-size="8.5" text-anchor="middle" letter-spacing="1.2" fill="#555">***</text>
<line x1="234.70" y1="478.56" x2="234.70" y2="469.67" stroke="#4a4a4a" stroke-width="1.1"/>
<line x1="230.40" y1="469.67" x2="239.00" y2="469.67" stroke="#4a4a4a" stroke-width="1.1"/>
<rect x="225.40" y="478.56" width="18.60" height="75.14" fill="#fbbb7c" stroke="#4a4a4a" stroke-width="1.1"/>
<line x1="234.70" y1="553.70" x2="234.70" y2="555.90" stroke="#4a4a4a" stroke-width="1"/>
<text x="237.90" y="562.50" font-size="9.0" text-anchor="end" transform="rotate(-42 237.90 562.50)" letter-spacing="0.15" fill="#111">GK</text>
<text x="235.30" y="466.47" font-size="8.5" text-anchor="middle" letter-spacing="1.2" fill="#555">***</text>
<path d="M87.70 462.70V440.40H112.20V490.80" stroke="#555" stroke-width="1.1" fill="none"/>
<text x="100.75" y="436.50" font-size="8.5" text-anchor="middle" letter-spacing="1.3" fill="#555">###</text>
<line x1="301.00" y1="432.30" x2="301.00" y2="555.60" stroke="#4a4a4a" stroke-width="1.2"/>
<line x1="300.40" y1="555.00" x2="480.30" y2="555.00" stroke="#4a4a4a" stroke-width="1.2"/>
<line x1="298.20" y1="555.00" x2="301.00" y2="555.00" stroke="#4a4a4a" stroke-width="1.1"/>
<text x="297.40" y="558.03" font-size="8.9" text-anchor="end" letter-spacing="0.4" fill="#222">0.0</text>
<line x1="298.20" y1="524.45" x2="301.00" y2="524.45" stroke="#4a4a4a" stroke-width="1.1"/>
<text x="297.40" y="527.48" font-size="8.9" text-anchor="end" letter-spacing="0.4" fill="#222">0.5</text>
<line x1="298.20" y1="493.90" x2="301.00" y2="493.90" stroke="#4a4a4a" stroke-width="1.1"/>
<text x="297.40" y="496.93" font-size="8.9" text-anchor="end" letter-spacing="0.4" fill="#222">1.0</text>
<line x1="298.20" y1="463.35" x2="301.00" y2="463.35" stroke="#4a4a4a" stroke-width="1.1"/>
<text x="297.40" y="466.38" font-size="8.9" text-anchor="end" letter-spacing="0.4" fill="#222">1.5</text>
<line x1="298.20" y1="432.80" x2="301.00" y2="432.80" stroke="#4a4a4a" stroke-width="1.1"/>
<text x="297.40" y="435.83" font-size="8.9" text-anchor="end" letter-spacing="0.4" fill="#222">2.0</text>
<line x1="316.30" y1="529.34" x2="316.30" y2="526.28" stroke="#4a4a4a" stroke-width="1.1"/>
<line x1="312.00" y1="526.28" x2="320.60" y2="526.28" stroke="#4a4a4a" stroke-width="1.1"/>
<rect x="307.00" y="529.34" width="18.60" height="25.66" fill="#ffffff" stroke="#4a4a4a" stroke-width="1.1"/>
<line x1="316.30" y1="555.00" x2="316.30" y2="557.20" stroke="#4a4a4a" stroke-width="1"/>
<text x="319.50" y="563.80" font-size="9.0" text-anchor="end" transform="rotate(-42 319.50 563.80)" letter-spacing="0.15" fill="#111">Control</text>
<line x1="340.90" y1="475.57" x2="340.90" y2="454.19" stroke="#4a4a4a" stroke-width="1.1"/>
<line x1="336.60" y1="454.19" x2="345.20" y2="454.19" stroke="#4a4a4a" stroke-width="1.1"/>
<rect x="331.60" y="475.57" width="18.60" height="79.43" fill="#9e9ea4" stroke="#4a4a4a" stroke-width="1.1"/>
<line x1="340.90" y1="555.00" x2="340.90" y2="557.20" stroke="#4a4a4a" stroke-width="1"/>
<text x="344.10" y="563.80" font-size="9.0" text-anchor="end" transform="rotate(-42 344.10 563.80)" letter-spacing="0.15" fill="#111">Model</text>
<line x1="365.50" y1="521.39" x2="365.50" y2="514.67" stroke="#4a4a4a" stroke-width="1.1"/>
<line x1="361.20" y1="514.67" x2="369.80" y2="514.67" stroke="#4a4a4a" stroke-width="1.1"/>
<rect x="356.20" y="521.39" width="18.60" height="33.61" fill="#f5a8e8" stroke="#4a4a4a" stroke-width="1.1"/>
<line x1="365.50" y1="555.00" x2="365.50" y2="557.20" stroke="#4a4a4a" stroke-width="1"/>
<text x="368.70" y="563.80" font-size="9.0" text-anchor="end" transform="rotate(-42 368.70 563.80)" letter-spacing="0.15" fill="#111">AGKP-L</text>
<text x="366.10" y="511.47" font-size="8.5" text-anchor="middle" letter-spacing="1.2" fill="#555">***</text>
<line x1="390.10" y1="524.45" x2="390.10" y2="517.12" stroke="#4a4a4a" stroke-width="1.1"/>
<line x1="385.80" y1="517.12" x2="394.40" y2="517.12" stroke="#4a4a4a" stroke-width="1.1"/>
<rect x="380.80" y="524.45" width="18.60" height="30.55" fill="#f5a8e8" stroke="#4a4a4a" stroke-width="1.1"/>
<line x1="390.10" y1="555.00" x2="390.10" y2="557.20" stroke="#4a4a4a" stroke-width="1"/>
<text x="393.30" y="563.80" font-size="9.0" text-anchor="end" transform="rotate(-42 393.30 563.80)" letter-spacing="0.15" fill="#111">AGKP-M</text>
<text x="390.70" y="513.92" font-size="8.5" text-anchor="middle" letter-spacing="1.2" fill="#555">***</text>
<line x1="414.70" y1="524.45" x2="414.70" y2="518.34" stroke="#4a4a4a" stroke-width="1.1"/>
<line x1="410.40" y1="518.34" x2="419.00" y2="518.34" stroke="#4a4a4a" stroke-width="1.1"/>
<rect x="405.40" y="524.45" width="18.60" height="30.55" fill="#f5a8e8" stroke="#4a4a4a" stroke-width="1.1"/>
<line x1="414.70" y1="555.00" x2="414.70" y2="557.20" stroke="#4a4a4a" stroke-width="1"/>
<text x="417.90" y="563.80" font-size="9.0" text-anchor="end" transform="rotate(-42 417.90 563.80)" letter-spacing="0.15" fill="#111">AGKP-H</text>
<text x="415.30" y="515.14" font-size="8.5" text-anchor="middle" letter-spacing="1.2" fill="#555">***</text>
<line x1="439.30" y1="525.06" x2="439.30" y2="518.95" stroke="#4a4a4a" stroke-width="1.1"/>
<line x1="435.00" y1="518.95" x2="443.60" y2="518.95" stroke="#4a4a4a" stroke-width="1.1"/>
<rect x="430.00" y="525.06" width="18.60" height="29.94" fill="#8888fc" stroke="#4a4a4a" stroke-width="1.1"/>
<line x1="439.30" y1="555.00" x2="439.30" y2="557.20" stroke="#4a4a4a" stroke-width="1"/>
<text x="442.50" y="563.80" font-size="9.0" text-anchor="end" transform="rotate(-42 442.50 563.80)" letter-spacing="0.15" fill="#111">Mont</text>
<text x="439.90" y="515.75" font-size="8.5" text-anchor="middle" letter-spacing="1.2" fill="#555">***</text>
<line x1="463.90" y1="525.67" x2="463.90" y2="522.01" stroke="#4a4a4a" stroke-width="1.1"/>
<line x1="459.60" y1="522.01" x2="468.20" y2="522.01" stroke="#4a4a4a" stroke-width="1.1"/>
<rect x="454.60" y="525.67" width="18.60" height="29.33" fill="#fbbb7c" stroke="#4a4a4a" stroke-width="1.1"/>
<line x1="463.90" y1="555.00" x2="463.90" y2="557.20" stroke="#4a4a4a" stroke-width="1"/>
<text x="467.10" y="563.80" font-size="9.0" text-anchor="end" transform="rotate(-42 467.10 563.80)" letter-spacing="0.15" fill="#111">GK</text>
<text x="464.50" y="518.81" font-size="8.5" text-anchor="middle" letter-spacing="1.2" fill="#555">***</text>
<path d="M316.30 511.40V437.20H340.90V447.00" stroke="#555" stroke-width="1.1" fill="none"/>
<text x="329.40" y="431.60" font-size="8.5" text-anchor="middle" letter-spacing="1.3" fill="#555">###</text>
<line x1="530.00" y1="433.00" x2="530.00" y2="557.10" stroke="#4a4a4a" stroke-width="1.2"/>
<line x1="529.40" y1="556.50" x2="710.60" y2="556.50" stroke="#4a4a4a" stroke-width="1.2"/>
<line x1="527.20" y1="556.50" x2="530.00" y2="556.50" stroke="#4a4a4a" stroke-width="1.1"/>
<text x="526.40" y="559.53" font-size="8.9" text-anchor="end" letter-spacing="0.4" fill="#222">0.0</text>
<line x1="527.20" y1="515.50" x2="530.00" y2="515.50" stroke="#4a4a4a" stroke-width="1.1"/>
<text x="526.40" y="518.53" font-size="8.9" text-anchor="end" letter-spacing="0.4" fill="#222">0.5</text>
<line x1="527.20" y1="474.50" x2="530.00" y2="474.50" stroke="#4a4a4a" stroke-width="1.1"/>
<text x="526.40" y="477.53" font-size="8.9" text-anchor="end" letter-spacing="0.4" fill="#222">1.0</text>
<line x1="527.20" y1="433.50" x2="530.00" y2="433.50" stroke="#4a4a4a" stroke-width="1.1"/>
<text x="526.40" y="436.53" font-size="8.9" text-anchor="end" letter-spacing="0.4" fill="#222">1.5</text>
<line x1="544.90" y1="506.48" x2="544.90" y2="504.02" stroke="#4a4a4a" stroke-width="1.1"/>
<line x1="540.60" y1="504.02" x2="549.20" y2="504.02" stroke="#4a4a4a" stroke-width="1.1"/>
<rect x="535.50" y="506.48" width="18.80" height="50.02" fill="#ffffff" stroke="#4a4a4a" stroke-width="1.1"/>
<line x1="544.90" y1="556.50" x2="544.90" y2="558.70" stroke="#4a4a4a" stroke-width="1"/>
<text x="548.10" y="565.30" font-size="9.0" text-anchor="end" transform="rotate(-42 548.10 565.30)" letter-spacing="0.15" fill="#111">Control</text>
<line x1="569.50" y1="476.14" x2="569.50" y2="461.38" stroke="#4a4a4a" stroke-width="1.1"/>
<line x1="565.20" y1="461.38" x2="573.80" y2="461.38" stroke="#4a4a4a" stroke-width="1.1"/>
<rect x="560.10" y="476.14" width="18.80" height="80.36" fill="#9e9ea4" stroke="#4a4a4a" stroke-width="1.1"/>
<line x1="569.50" y1="556.50" x2="569.50" y2="558.70" stroke="#4a4a4a" stroke-width="1"/>
<text x="572.70" y="565.30" font-size="9.0" text-anchor="end" transform="rotate(-42 572.70 565.30)" letter-spacing="0.15" fill="#111">Model</text>
<line x1="594.10" y1="504.02" x2="594.10" y2="499.10" stroke="#4a4a4a" stroke-width="1.1"/>
<line x1="589.80" y1="499.10" x2="598.40" y2="499.10" stroke="#4a4a4a" stroke-width="1.1"/>
<rect x="584.70" y="504.02" width="18.80" height="52.48" fill="#f5a8e8" stroke="#4a4a4a" stroke-width="1.1"/>
<line x1="594.10" y1="556.50" x2="594.10" y2="558.70" stroke="#4a4a4a" stroke-width="1"/>
<text x="597.30" y="565.30" font-size="9.0" text-anchor="end" transform="rotate(-42 597.30 565.30)" letter-spacing="0.15" fill="#111">AGKP-L</text>
<text x="594.70" y="495.90" font-size="8.5" text-anchor="middle" letter-spacing="1.2" fill="#555">***</text>
<line x1="618.70" y1="498.28" x2="618.70" y2="491.72" stroke="#4a4a4a" stroke-width="1.1"/>
<line x1="614.40" y1="491.72" x2="623.00" y2="491.72" stroke="#4a4a4a" stroke-width="1.1"/>
<rect x="609.30" y="498.28" width="18.80" height="58.22" fill="#f5a8e8" stroke="#4a4a4a" stroke-width="1.1"/>
<line x1="618.70" y1="556.50" x2="618.70" y2="558.70" stroke="#4a4a4a" stroke-width="1"/>
<text x="621.90" y="565.30" font-size="9.0" text-anchor="end" transform="rotate(-42 621.90 565.30)" letter-spacing="0.15" fill="#111">AGKP-M</text>
<text x="619.30" y="488.52" font-size="8.5" text-anchor="middle" letter-spacing="1.2" fill="#555">***</text>
<line x1="643.30" y1="500.74" x2="643.30" y2="495.00" stroke="#4a4a4a" stroke-width="1.1"/>
<line x1="639.00" y1="495.00" x2="647.60" y2="495.00" stroke="#4a4a4a" stroke-width="1.1"/>
<rect x="633.90" y="500.74" width="18.80" height="55.76" fill="#f5a8e8" stroke="#4a4a4a" stroke-width="1.1"/>
<line x1="643.30" y1="556.50" x2="643.30" y2="558.70" stroke="#4a4a4a" stroke-width="1"/>
<text x="646.50" y="565.30" font-size="9.0" text-anchor="end" transform="rotate(-42 646.50 565.30)" letter-spacing="0.15" fill="#111">AGKP-H</text>
<text x="643.90" y="491.80" font-size="8.5" text-anchor="middle" letter-spacing="1.2" fill="#555">***</text>
<line x1="667.90" y1="505.66" x2="667.90" y2="499.92" stroke="#4a4a4a" stroke-width="1.1"/>
<line x1="663.60" y1="499.92" x2="672.20" y2="499.92" stroke="#4a4a4a" stroke-width="1.1"/>
<rect x="658.50" y="505.66" width="18.80" height="50.84" fill="#8888fc" stroke="#4a4a4a" stroke-width="1.1"/>
<line x1="667.90" y1="556.50" x2="667.90" y2="558.70" stroke="#4a4a4a" stroke-width="1"/>
<text x="671.10" y="565.30" font-size="9.0" text-anchor="end" transform="rotate(-42 671.10 565.30)" letter-spacing="0.15" fill="#111">Mont</text>
<text x="668.50" y="496.72" font-size="8.5" text-anchor="middle" letter-spacing="1.2" fill="#555">***</text>
<line x1="692.50" y1="502.38" x2="692.50" y2="499.92" stroke="#4a4a4a" stroke-width="1.1"/>
<line x1="688.20" y1="499.92" x2="696.80" y2="499.92" stroke="#4a4a4a" stroke-width="1.1"/>
<rect x="683.10" y="502.38" width="18.80" height="54.12" fill="#fbbb7c" stroke="#4a4a4a" stroke-width="1.1"/>
<line x1="692.50" y1="556.50" x2="692.50" y2="558.70" stroke="#4a4a4a" stroke-width="1"/>
<text x="695.70" y="565.30" font-size="9.0" text-anchor="end" transform="rotate(-42 695.70 565.30)" letter-spacing="0.15" fill="#111">GK</text>
<text x="693.10" y="496.72" font-size="8.5" text-anchor="middle" letter-spacing="1.2" fill="#555">***</text>
<path d="M544.90 490.00V445.00H569.50V457.00" stroke="#555" stroke-width="1.1" fill="none"/>
<text x="558.00" y="441.30" font-size="8.5" text-anchor="middle" letter-spacing="1.3" fill="#555">###</text>
<text x="58.00" y="226.50" font-size="16">(a)</text>
<text x="284.50" y="224.70" font-size="16">(b)</text>
<text x="514.00" y="225.80" font-size="16">(c)</text>
<text x="54.00" y="418.40" font-size="16">(d)</text>
<text x="278.80" y="420.20" font-size="16">(e)</text>
<text x="505.00" y="418.20" font-size="16">(f)</text>
<text x="39.80" y="305.80" font-size="8.9" text-anchor="middle" transform="rotate(-90 39.80 305.80)" fill="#111">50% tidal volume expiratory</text>
<text x="50.10" y="305.10" font-size="8.9" text-anchor="middle" transform="rotate(-90 50.10 305.10)" fill="#111">flow (mL/s)</text>
<text x="269.50" y="305.00" font-size="8.7" text-anchor="middle" transform="rotate(-90 269.50 305.00)" fill="#111">peak expiratory</text>
<text x="280.50" y="305.00" font-size="8.7" text-anchor="middle" transform="rotate(-90 280.50 305.00)" fill="#111">flow (mL/s)</text>
<text x="498.50" y="305.00" font-size="8.7" text-anchor="middle" transform="rotate(-90 498.50 305.00)" fill="#111">Peak inspiratory</text>
<text x="509.50" y="305.00" font-size="8.7" text-anchor="middle" transform="rotate(-90 509.50 305.00)" fill="#111">flow(mL/s)</text>
<text x="49.50" y="494.50" font-size="8.7" text-anchor="middle" transform="rotate(-90 49.50 494.50)" fill="#111">Tidal volume(mL)</text>
<text x="277.80" y="495.00" font-size="8.7" text-anchor="middle" transform="rotate(-90 277.80 495.00)" fill="#111">Penh</text>
<text x="505.60" y="497.00" font-size="8.7" text-anchor="middle" transform="rotate(-90 505.60 497.00)" fill="#111">PAU</text>
<line x1="483.00" y1="1086.30" x2="483.00" y2="1247.60" stroke="#4a4a4a" stroke-width="1.4"/>
<line x1="482.30" y1="1246.90" x2="718.30" y2="1246.90" stroke="#4a4a4a" stroke-width="1.4"/>
<line x1="479.50" y1="1246.90" x2="483.00" y2="1246.90" stroke="#4a4a4a" stroke-width="1.3"/>
<text x="477.70" y="1251.10" font-size="12.3" text-anchor="end" letter-spacing="0.3" fill="#222">0</text>
<line x1="479.50" y1="1214.88" x2="483.00" y2="1214.88" stroke="#4a4a4a" stroke-width="1.3"/>
<text x="477.70" y="1219.08" font-size="12.3" text-anchor="end" letter-spacing="0.3" fill="#222">20</text>
<line x1="479.50" y1="1182.86" x2="483.00" y2="1182.86" stroke="#4a4a4a" stroke-width="1.3"/>
<text x="477.70" y="1187.06" font-size="12.3" text-anchor="end" letter-spacing="0.3" fill="#222">40</text>
<line x1="479.50" y1="1150.84" x2="483.00" y2="1150.84" stroke="#4a4a4a" stroke-width="1.3"/>
<text x="477.70" y="1155.04" font-size="12.3" text-anchor="end" letter-spacing="0.3" fill="#222">60</text>
<line x1="479.50" y1="1118.82" x2="483.00" y2="1118.82" stroke="#4a4a4a" stroke-width="1.3"/>
<text x="477.70" y="1123.02" font-size="12.3" text-anchor="end" letter-spacing="0.3" fill="#222">80</text>
<line x1="479.50" y1="1086.80" x2="483.00" y2="1086.80" stroke="#4a4a4a" stroke-width="1.3"/>
<text x="477.70" y="1091.00" font-size="12.3" text-anchor="end" letter-spacing="0.3" fill="#222">100</text>
<line x1="502.00" y1="1179.66" x2="502.00" y2="1170.85" stroke="#4a4a4a" stroke-width="1.3"/>
<line x1="496.50" y1="1170.85" x2="507.50" y2="1170.85" stroke="#4a4a4a" stroke-width="1.3"/>
<rect x="490.00" y="1179.66" width="24.00" height="67.24" fill="#ffffff" stroke="#4a4a4a" stroke-width="1.3"/>
<line x1="502.00" y1="1246.90" x2="502.00" y2="1249.90" stroke="#4a4a4a" stroke-width="1.2"/>
<text x="507.40" y="1260.10" font-size="11.6" text-anchor="end" transform="rotate(-36 507.40 1260.10)" letter-spacing="0.2" fill="#111">Control</text>
<line x1="534.40" y1="1118.82" x2="534.40" y2="1102.81" stroke="#4a4a4a" stroke-width="1.3"/>
<line x1="528.90" y1="1102.81" x2="539.90" y2="1102.81" stroke="#4a4a4a" stroke-width="1.3"/>
<rect x="522.40" y="1118.82" width="24.00" height="128.08" fill="#9e9ea4" stroke="#4a4a4a" stroke-width="1.3"/>
<line x1="534.40" y1="1246.90" x2="534.40" y2="1249.90" stroke="#4a4a4a" stroke-width="1.2"/>
<text x="539.80" y="1260.10" font-size="11.6" text-anchor="end" transform="rotate(-36 539.80 1260.10)" letter-spacing="0.2" fill="#111">Model</text>
<line x1="566.80" y1="1133.23" x2="566.80" y2="1126.02" stroke="#4a4a4a" stroke-width="1.3"/>
<line x1="561.30" y1="1126.02" x2="572.30" y2="1126.02" stroke="#4a4a4a" stroke-width="1.3"/>
<rect x="554.80" y="1133.23" width="24.00" height="113.67" fill="#f5a8e8" stroke="#4a4a4a" stroke-width="1.3"/>
<line x1="566.80" y1="1246.90" x2="566.80" y2="1249.90" stroke="#4a4a4a" stroke-width="1.2"/>
<text x="572.20" y="1260.10" font-size="11.6" text-anchor="end" transform="rotate(-36 572.20 1260.10)" letter-spacing="0.2" fill="#111">AGKP-L</text>
<line x1="599.20" y1="1158.04" x2="599.20" y2="1152.28" stroke="#4a4a4a" stroke-width="1.3"/>
<line x1="593.70" y1="1152.28" x2="604.70" y2="1152.28" stroke="#4a4a4a" stroke-width="1.3"/>
<rect x="587.20" y="1158.04" width="24.00" height="88.86" fill="#f5a8e8" stroke="#4a4a4a" stroke-width="1.3"/>
<line x1="599.20" y1="1246.90" x2="599.20" y2="1249.90" stroke="#4a4a4a" stroke-width="1.2"/>
<text x="604.60" y="1260.10" font-size="11.6" text-anchor="end" transform="rotate(-36 604.60 1260.10)" letter-spacing="0.2" fill="#111">AGKP-M</text>
<text x="600.20" y="1147.78" font-size="12" text-anchor="middle" letter-spacing="1.8" fill="#444">***</text>
<line x1="631.60" y1="1158.04" x2="631.60" y2="1152.28" stroke="#4a4a4a" stroke-width="1.3"/>
<line x1="626.10" y1="1152.28" x2="637.10" y2="1152.28" stroke="#4a4a4a" stroke-width="1.3"/>
<rect x="619.60" y="1158.04" width="24.00" height="88.86" fill="#f5a8e8" stroke="#4a4a4a" stroke-width="1.3"/>
<line x1="631.60" y1="1246.90" x2="631.60" y2="1249.90" stroke="#4a4a4a" stroke-width="1.2"/>
<text x="637.00" y="1260.10" font-size="11.6" text-anchor="end" transform="rotate(-36 637.00 1260.10)" letter-spacing="0.2" fill="#111">AGKP-H</text>
<text x="632.60" y="1147.78" font-size="12" text-anchor="middle" letter-spacing="1.8" fill="#444">***</text>
<line x1="664.00" y1="1171.65" x2="664.00" y2="1165.89" stroke="#4a4a4a" stroke-width="1.3"/>
<line x1="658.50" y1="1165.89" x2="669.50" y2="1165.89" stroke="#4a4a4a" stroke-width="1.3"/>
<rect x="652.00" y="1171.65" width="24.00" height="75.25" fill="#8888fc" stroke="#4a4a4a" stroke-width="1.3"/>
<line x1="664.00" y1="1246.90" x2="664.00" y2="1249.90" stroke="#4a4a4a" stroke-width="1.2"/>
<text x="669.40" y="1260.10" font-size="11.6" text-anchor="end" transform="rotate(-36 669.40 1260.10)" letter-spacing="0.2" fill="#111">Mont</text>
<text x="665.00" y="1161.39" font-size="12" text-anchor="middle" letter-spacing="1.8" fill="#444">***</text>
<line x1="696.40" y1="1136.43" x2="696.40" y2="1123.30" stroke="#4a4a4a" stroke-width="1.3"/>
<line x1="690.90" y1="1123.30" x2="701.90" y2="1123.30" stroke="#4a4a4a" stroke-width="1.3"/>
<rect x="684.40" y="1136.43" width="24.00" height="110.47" fill="#fbbb7c" stroke="#4a4a4a" stroke-width="1.3"/>
<line x1="696.40" y1="1246.90" x2="696.40" y2="1249.90" stroke="#4a4a4a" stroke-width="1.2"/>
<text x="701.80" y="1260.10" font-size="11.6" text-anchor="end" transform="rotate(-36 701.80 1260.10)" letter-spacing="0.2" fill="#111">GK</text>
<text x="697.40" y="1118.80" font-size="12" text-anchor="middle" letter-spacing="1.8" fill="#444">*</text>
<path d="M502 1156.0V1089H534.2V1095" stroke="#555" stroke-width="1.3" fill="none"/>
<text x="519.50" y="1083.50" font-size="12.5" text-anchor="middle" letter-spacing="1.6" fill="#555">###</text>
<text x="447.50" y="1168.00" font-size="11.7" text-anchor="middle" transform="rotate(-90 447.50 1168.00)" fill="#111">Mean Linear Intercept (μm)</text>
<g clip-path="url(#c1)"><g filter="url(#soft)"><rect x="167.5" y="619.5" width="208" height="135" fill="#c47cbc"/><rect x="167.5" y="619.5" width="208" height="135" filter="url(#spk2)" opacity="0.5"/><rect x="167.5" y="619.5" width="208" height="135" filter="url(#spk)" opacity="0.6"/><path fill="#eceaef" stroke="#eceaef" stroke-width="4.0" stroke-linejoin="round" transform="scale(.5)" d="M482 1400l13-1 7 14 7 6 1 0 2-19 11-1 3-9-12-5-3-10 2-7 5-4-2-7-6-1-3 6-6 3 4 12-9 14-6-2-11 9zM523 1354l4 13-7 6-1 2 1 5 12 4 1 3 8 3 8-8 5 2 6-6-10-6 3-10-18-3 0-3-9-5zM399 1382l0-7-2-1-3 4 0 3zM673 1244l2 4 1 0 10-6zM694 1246l4-8-4-3-4 1-3 6zM350 1486l6-4-1-2 1-5-5-7 1 12-4 3zM352 1459l-2-4-2 1 0 6 2 1zM613 1414l3-3-1-4-4-1-2 1zM333 1381l-4-4 0 10zM542 1431l2-8-9 7zM557 1421l-5-7-6 7zM564 1424l9-2 3-4-1-2-4 0-8 6zM615 1392l0 7 4 1 1-2-4-6zM619 1381l3-2-5-4zM619 1362l0-3-4-1 0 2 2 4zM638 1315l6 8 0 5 10-4-11-3-3-10zM663 1324l2 7 6 2 1-1-5-7 2-6-5-2-3 5zM447 1240l2-1-2-6-5 1-1 6zM487 1497l6 9 2-4-4-9zM502 1485l-6-2-4 4 0 3zM741 1477l4 0-4-5zM753 1488l4-3 0-3-3-1-2 1zM405 1505l1 6-4 4 14 0 7-9 6 0 3-9 3-2-1-4-7-1-4 3-11-6-2 1 5 10zM607 1465l-2-5-3 0-2 5 5 2zM356 1320l-5-5-1 0-1 3 2 5zM367 1324l2-3-1-2-6 1zM368 1332l3 0-3-7zM668 1251l-1-1-7 2 0 1 5 4zM337 1242l-4 2 1 2 3 1 3-4zM359 1245l8 3 0-3-8-3 0-9-4 0-1 4-10 5zM383 1411l-8 7 1 2 14 1 1 1 7-1 8 11 1 0 4-7-2-3 0-13 4-4-2-5 5-8-2-4-9 1-2 2-12-3-3 2-1 7-10 4zM396 1446l6 6 7 7 3-6-8 0-5-7zM420 1452l2-3-3-2-5 6zM593 1239l-1 1 4 9-7 12-12-5-2 1 5 5 0 6 5 2 4-2 4 1 3-2 2-9 5-3 11 1 4 4 3-3-6-6-15-6-1-5zM414 1303l-1-5-3-2-2 3 1 6zM682 1303l-2 10 12 3 1 2 6-2-2-11 7-4-3-7-8 2-4-2-7 6zM416 1337l-10-1 0 6 6 3 7-6 8 6 6-1-2-7 7-7-3-3-8 5-6-2zM362 1365l-8 12-4 0-3 3 9 10-11 12-1 0-2 8 12 0 1-2 6 0 7-9-4-4 3-14 6-2 1-7-6-3-1-13-2-1-4 7zM563 1357l8-9 2 0 11-6 7 9 2 0 4-5 10 0 1-4 0-2-11-2-3-10-3-1-3-7-6-1-2 3-12 3-1 4-13 4 3 7 5 3-1 14zM753 1368l-1 1 1 3 4 0 0-5zM704 1244l-4 7 5 4 2 10-9 7 4 3 5-3 6 3 4-2-3-6-2-18 7-3 0-5-9 5zM733 1479l1-8-5 3 4 6zM560 1323l1-5 14-3 4-5 10 2 3-4-2-5 6-7-2-3-3 0-2 9-12 5-8-11-8 8-6-1-6 3-1 4-11 3 0 4 12 3 2 6zM646 1241l1 0 1-4-5 0 0 5-5 4 1 5zM568 1485l1 4 7-3-6-3zM438 1511l4-3-3-5-1 6 0 6 1 0zM625 1387l-1 1 6 8-1 3 4 4 1 0-4-11zM595 1365l-2-6-2 1-3 4zM602 1371l8-1 0-1-2-3-7 2zM571 1446l-10 2-1 3 6 4 2-1zM656 1434l-7 3 1 4 11 0 3 7 3 0 4-4-12-4-1-4zM734 1339l10 3-4-13 3-4 12 1 1-7-5-4 0-6-2-2-7 0-1 4-7 3 2 8-5 6 2 8-9 6 4 6zM671 1490l2 3 7-1 1-3-5-3-3 1zM496 1453l1-2-7-5-2 5zM518 1484l0-5-7 1-1 3zM519 1287l1 9 11 4 0 2 3 2 5-1-6-8 3-7-10-9 10-14-12 3-6-3-4 7 1 1-7 12zM544 1264l1-4-1-3-4-1-2 8zM542 1415l6-8 0-2 3-3 2-11-2-1-5 5 2 9-12 5zM428 1235l4 2 1-4-5 0zM606 1268l3 2 4-2-3-3-3 0zM625 1283l4 2 11 1 1-2-10-4-4-8 7-11-1-1-3 1-6 8zM651 1253l0-2-5 7zM731 1426l2-1-3-5-3 5zM737 1404l2 1-2-8-5 2 1 5-7 6 3 4zM751 1411l-1-4-10-2zM705 1341l8 21 4 0 2 2 4 1 2-7-1 0-12-19 11-7-1-6 5-6-1-5-8 2-7 5 2 4-8 11 1 3zM400 1350l-1 3 6 2 3-2 0-2-6-2zM379 1365l10 5 6-5 5 1 0-4-7-2-1-2-11 1-4-4-2 1 1 8zM601 1354l-1 1 2 5 5-2 1-4zM622 1351l3-3-4-3-5 0-2 5zM597 1449l3 3 9-1-8-7-3 2zM616 1466l-5 6 1 4 2 2 4-1 2-4 10-4 0-2-4-3-4 1-11-13-1 0zM463 1438l5 5-1 13 8 0 3-5 2-1 3-6-7-5-1-6-7-5-11-1zM674 1506l6-1 1-4-6 0-1 3-5 4 0 6zM740 1447l3 1 4-5-2-2-6 3zM517 1443l13-2 8 7 2-9-11-3-2-3-10-5 1-2-7 1-3 6 4 8-7 9 0 5-4 4-1 5 5 2 7-10zM526 1410l-2-2-5 0-1 16zM540 1453l3 6 4 0 2-4-9-4zM683 1512l-4 1-1 2 6 0 1-1zM693 1423l2-6-2-3-2 1-3 5 2 5zM457 1508l3 2 4-4-3-5-2 1zM476 1239l-7 2-2 3-3 1 1 5 2 0 2-5 6-2zM343 1476l-1-7-3 1-2 2zM672 1259l4 4 3-2-4-6-1 0zM555 1442l-7 0-1 4 6 3zM565 1440l-3-5-6 7zM747 1241l1 3 6 1 2-1-5-6zM610 1386l1-1-2-7-6 1-1 4zM702 1505l4-2-3-6-1 0-2 2zM690 1406l1 0-7-8 1-8-4 1-1 6 2 3zM698 1385l-3-2-3 1-1 1zM714 1389l2-2-2-2-5-1-2 1zM702 1412l9 0 4 8 4 0 1-2-3-5-4-1-3-4-9 0zM628 1235l0 2 5 2 1-1 1-5-4 0zM425 1354l-6-5-3 3 0 2 5 5 8-1 7 15-2 4 1 2 9 0 0-5-3-3-2-15 12-4 1-1-6-8 1-4-3-4-4 4 3 11zM594 1508l2 4 5-4-6-5zM613 1512l2-2-4-2-1 1zM420 1429l-3-1-3 6 3 3zM476 1421l-1 2 7 6 1 5 5 4 3-1 9 6 2-3-3-7 4-8-10-8 0-3-3-7-10 1-6-3-2 6zM509 1327l2 9 4-1-2-9 2-4-1-2-2-1-6 5zM582 1414l2 5-5 7 2 6 3 0 3-12 8-2 3 2 11 0-15-21-5 1-6-4-2 2 4 11zM724 1259l1-6-2 0-3 1 1 6zM683 1381l2-5 7-2 3-11 10 2-8-19-5 2-3 6-2 0-6 12-10 0 1 7-7 7 1 1zM359 1329l-4 2 1 4 4 1zM366 1348l4 1 5-2-3-6-7 0zM522 1317l1 3 7 0 0-8-3-2zM537 1336l-9 6 1 2 13 7 0 2 11 2 1-8-3-2-6-12-2-7-10-2zM503 1265l1 2-5 9 1 3 8-17-4-2zM683 1444l5-5-2-5-5 2-2 6zM672 1479l2-1 2-5-5-3-4 1zM669 1460l-2-4-3 0-2 2 2 6 4-2zM746 1427l2 3 4-3-2-4zM625 1455l3-1 7 6 6-2 0-2-13-3 0-1-8-3zM649 1463l5-2-8-2zM336 1509l-6-1-1 4 2 3zM347 1501l-3 1-1 3 4 2 3-2zM559 1515l-7-5-4 4zM559 1250l-7 4 1 3 8-1 0-1zM702 1458l2 3-3 11 2 1 6-5 8 3 11-7-1-3-4-1-4-8-9 2-5-3zM561 1414l9-6 6 1 1-1-3-8-7 0-2-3-5-2-2 11-2 2zM565 1238l0-1-7-1 0 1 2 6zM473 1358l5 1 4 14 4 1 5 7 2 1 3-6-5-13 3-4 7-3 3-5-2-6 2-3-3-10-2-2-8 4-10-7-3 1-1 1 6 10-5 7-7 2zM350 1254l1-2-7-2-2 2 2 5zM508 1301l3-3 0-3-6-1-2 4 1 2zM428 1382l-8 1 2 5 8-1zM437 1394l17 0 0 10 5 4 5-1 4-8-1-2 16-13-2-3-5-2-4-13-2 0-8 3-9-9-5 2 1 5 3 3 0 17-18 1zM732 1366l3 0-2-4zM742 1350l-4-1-4 5 1 1zM352 1494l2 3 5-3 0-4zM626 1305l2 9 3-6-4-3zM626 1322l4 4 4 0-5-7zM350 1270l6-7 8-1 2-3 10 1 1-2-1-3-4 0-4 3-10-4-3 6-8 4zM343 1281l-1 6 4 1 5-7-2-3zM360 1416l8 16-6 5 1 4 5 3 6-7 14 1 1 1 11-2-5-7-6 1-2-2-17-1-2-8-7-4zM409 1445l2-2-3-3-2 0zM387 1461l1 0 5-5-3-4zM720 1514l5-1-5-8-2 2zM744 1512l-7-1-5 4 11 0zM498 1475l6 2 2-3-8-2zM516 1472l0-8 0 0-6 9zM448 1326l8 11-1 4 3 3 3-1-4-8 1-3-3-5-4 0-5-8-5 1 4 6zM724 1291l-1 1 0 3 2 1 6-3-1-1zM742 1300l5-1 1-7-8 4zM717 1307l1 1 6-2-5-3-7 5-2 0-3 2 1 2zM729 1306l5-2-1-2-6 3zM345 1390l-5-5-3 6 1 2 3 2zM733 1239l-5-1-2 1 1 7 1 1zM372 1451l0 1 8 4 3-10-5-1zM629 1513l7-4 4 1 3-4-4-3-9 2-4 5zM682 1461l-5 2 0 1 3 2zM682 1480l4 3 3-2 1-3-6-2zM640 1474l3-1 0-4-2-2-3 1-1 3zM587 1505l1-3-4-1-4 4 0 1zM568 1475l-4-2 1 4zM577 1478l0-4-4 2zM747 1467l4 7 1 0 1-6-3-3zM390 1265l-8-2 0 1 2 6 2 1 3-2 6-1 2-4-3-3zM508 1509l4-3-2-1 0 0-8 1-2 3zM520 1492l-1-1-7 0 3 8zM523 1515l1 0 0-4-8-3zM694 1287l3-1 0-5-5-4-1 9zM449 1298l0-6-4 4zM463 1284l-4-1-3 3zM570 1361l3 4 6-1 5-8-2-4-8 5zM754 1394l-6-2-3 2 1 3 7 1 3-2zM453 1483l10 0 4 2 3-7-6-4-3 4-10 1zM375 1243l0 4 3 1 3-4 1-2-2-2zM504 1240l1-2-3-4-5 3 0 2 5 2zM680 1423l-4-1-2 3 5 3 3-1zM724 1388l4 4 5-2-2-4-4 0zM440 1412l6-8 0-2-13 0-4-7-7 1-3 5 2 6-5 5 0 8 1 1 9 1 2 8-5 10 5 3 1-11 12-7 4 1zM450 1440l5-2-5-9-4 0 0-1zM518 1246l0-7-6 2zM521 1256l4 2 6-1 1-4-10-1zM366 1493l5 3-2-7-3 0zM372 1509l-12 5-5-2-3 3 34 0-8-3 2-9-1-1-6-3zM645 1339l-3-1-2 5 2 0zM655 1337l1-3-8 3zM458 1237l4-1-1-3-5 0zM729 1451l3-2-1-2-4 1zM741 1434l-2-2-2 2 0 2zM634 1379l-3 2 3 2zM644 1405l1-2 13 6-2-7-6 0-5-7-5-1zM637 1412l-2 4 4 1 4-9zM637 1495l4-7 4-1 3-5-3-1-3 0-2 6-13 6-7-8-4 1-1 4 1 1 14 3 1 2zM739 1504l2 0 0-7-3 0-1 1zM649 1360l-1 2 2 1 3-3zM663 1359l3-3 9 0 5-10 2 0 3-6 11-3-1-3 6-9-12 3-3-4-8-2 0 1 6 9-10 13-10-4-1 1 4 9-8 7zM397 1496l3 2 5-2-3-5-5 2-7-2-3 7zM697 1431l-2 1 1 5 8 3-1-6zM712 1444l5-1-1-2-10 0zM329 1418l0 3 5 5-1 5 3 1 4-10 7 1 8 8 2-1-6-12-18-1 0-3zM336 1402l-1-1-5 4 4 8zM427 1473l3-1 0-5-2 0-4 3zM440 1451l1 13-4 2 0 6 5 3 2-1 1-2 12-1 2-2-1-5-9 0-5-14zM521 1457l2 1 7-5-3-3-4 1zM742 1372l-1 1 0 2 5 1-1-4zM751 1384l3 1 1-5-5-1zM659 1302l0-4-4 2zM671 1283l0 0 0-3-1 0-4 7-4 0 0 4zM629 1483l5-2 1-2-2-2-7 2zM332 1366l4-4 6 1 3-7-2 0-1-11-2-1-3 3 3 8-2 3-9 5zM355 1357l1-3-6 1zM333 1294l2-3-6-1 0 4zM408 1323l-1 1 1 5 4 0 3-4zM412 1367l3-3-4-4-2 1-1 6zM345 1438l3-3-4-4-2 6zM499 1289l-2-1-5 2 2 4 3 0zM633 1431l6 4-2 10 4 1 1-2-3-11 11-5-6-3-4 2-7-2zM600 1394l5 7 1-1 1-7-5-2zM450 1249l-7 0-1 11-3 1 0 5 4 0 5-4 6 2 7-4 6 3 2-2-1-2-11 1-2-14zM420 1245l1 3 5 0 5 5 2 1 1-8-5 1-6-4zM334 1337l-1-2-4 1 0 6zM466 1298l-2-5-6 2 0 4zM468 1496l3 6 5-5-6-4zM469 1513l5 2 0 0-3-5zM670 1416l3-3-6 1zM681 1414l1-2-3-2-3 3zM420 1375l7-1-3-7-3 1-2 4zM459 1271l1 4 5 1 0-6-3-1zM367 1236l3 2 4-2-5-3-2 0zM697 1393l-4 0-1 2 4 5zM565 1389l2-5-2-1-4 5zM566 1369l-3-4-3-1-1 5 5 3zM440 1282l-5 6 2 2 4-5-1-9-1 0zM639 1372l4 3 0 10 7 1 5 7 2 0 1-6-5-8 9-9 0-1-3-1-7 7-12-7zM666 1404l5 0 1-2-6 0zM397 1247l-7-1-1 3-5 4 1 2 2 1zM752 1285l2 2 3 0 0-4-3 1zM391 1329l3 4-1 7 4 4 1-2 0-8 3-3-2-9 4-5 0-5-1-1-2-10-2 0-2 2 4 6-8 14zM739 1251l2-4-2-2-2 4zM741 1265l5-1-3-2zM554 1474l-2 3 3 10-8 6 5 4 3-4 7-1-2-6-2 0-2-12zM710 1477l-1 2 3 6 2 0 0-6zM444 1482l-3 5 2 5 2-1 2-4zM612 1443l3-2 0-4-2-2-5 4zM752 1500l-2-5-2 1 0 10 1 0zM362 1470l3-2-2-6-3 0-1 2zM384 1468l-5 5 2 11-4 3 1 6 3 1 5-13 11 4 2-2-3-7-7-2-2-4zM544 1507l3-3-4-5-3 3zM333 1485l5-3-5-4-2 1 1 5zM688 1469l5 2 2-9-1-1-4 0zM336 1454l-2 3 4 5 2 0 0-6zM639 1360l5-7-10-2zM653 1351l3-3-1-2-4 0-3 5zM570 1506l-3 7 5 0 2-3-1-3zM634 1334l-4 1-2 5 3 4zM360 1454l4-1 0-1-4-2-2 1zM373 1466l1 0 2-2-5-3zM675 1236l7-1 1-2-7 0zM576 1382l-4 11 3 0 7-7 9 6 2 0 2-6-1-2 1-8-1-2-13-2-8 1-3 4zM672 1310l2-10-4-4-2 2 1 6-3 4zM661 1515l0-6-6-1-2 2-2 0-5 5zM621 1244l8 8 1-1-1-4-9-4-1-7-2-2-7 5zM706 1511l1 3 6 1-2-6zM583 1453l-6-2-1 4 5 5zM545 1471l2-2-1-1-8-2-4-5-3 2 7 8zM494 1262l1-4-6-3-2 5zM719 1405l4-5 0-2-3-3-2 1-1 6zM416 1480l6 3 1-4-5-5zM703 1372l-3 0-1 5 4 2 1-1zM467 1467l8 4 1-2-2-5-8 0zM476 1486l6 4 2-2 0-1-6-7zM668 1233l-4 0-1 1 5 2zM340 1299l1 5 5 2 0-9 0-1-4 0zM334 1444l2-4-7-2 0 3zM498 1313l3 4 5-5-1-3-3-1zM589 1447l3-7 6-3-4-11-4 12-9 2-3 3zM452 1493l4 2 5-2 1-2-9-1zM580 1245l0 2 5 2-2-6zM709 1238l4-2-1-3-2 0-5 4zM426 1323l5-4 0-7 14-2 1-3-14-4 0-3-6-7-4 4 2 7-1 2 5 8-4 8zM336 1318l5-3 0-2-6-4-3-7-3 0 0 11zM525 1497l-3 5 5 2 3-2zM367 1301l4 2 2-10 8 1 4-7-2-3 0-6-2-1-9 2-1 2-7 3 5 10-2 2zM373 1313l3 3 2-1 0-3-4-2zM489 1480l2-3-1-4-7 0zM682 1253l5 6 6 7 6-4-1-3-11-8zM484 1244l2 2 4-5-1-2-1-1-4 1zM652 1490l3 3 4-3-5-3zM455 1456l4 1 0-12-7 3zM381 1392l0-3-5-4-3 2-1 5 2 2zM711 1298l5-3 0-2-4-2-3 2zM606 1502l2-1 1-6-8 3zM433 1460l-1-9-2 0-3 5 2 4zM475 1296l2-6-6-1 2 8zM492 1269l-6-1-1 5 5-1zM568 1465l4 3 5-2-7-6-1 1zM585 1485l-2 2-1 2 3 5 7 2 1 0-4-15 15-4-1-3-7-2-3 1-8-3zM420 1236l0-3-3 0-2 1 1 4zM448 1414l3 8 2-2 14 0-2-5-9 1-5-5zM697 1483l4 6 2 0 2-1-3-7-4-1zM339 1329l5-2-2-4-3 1zM472 1279l0 2 15 2 0 1 4-2-1-2-8 2-3-4zM483 1296l4 1-3-5zM491 1308l1 0 4-6-6-1zM578 1237l-2-4-3 0-1 2 0 2 3 2zM566 1261l0 6 4 3 1-1 0-3zM711 1433l6 0 2-5-5 0zM451 1513l-1 0-3 2 7 0zM598 1486l1 4 8-3 1-3-1-1zM386 1334l-7 2 0 1 2 5 4-3zM753 1360l4 0 0-4-6-2zM588 1514l-1-2-7 1 0 2 7 0zM665 1485l0-1-7-12 0-2-7 1-1 3 6 4 0 2zM482 1460l2 5 7-1 1-3-9-3zM704 1287l5-2 0-4-2-1-2 1zM449 1281l4-4-1-5-2-1-1 1zM537 1239l1-1-1-5-7 0zM358 1346l0-3-5-1-3 2 0 3zM552 1434l6-6-8 1-1 5zM700 1515l-1-3-5 3zM518 1349l3-4-1-2-9 3 0 1zM391 1309l-2-3-4 5 1 4 2 1zM423 1463l-2-3-3 0-3 5 3 2zM656 1453l1-1-1-4-6 0-2 3zM553 1464l1 2 4 0 3-1 1-5-6-2zM689 1453l5 1 4-7-5-3-5 6zM723 1380l0-8-3 0-1 7 3 2zM573 1439l2-3-2-7-5 1zM384 1350l9 0 0-1-5-3-5 3zM398 1468l5-3-3-4-6 6zM735 1458l3 5 2 0 4-3-3-4-3-1zM681 1453l0-2-5-2-2 3 1 3zM413 1381l1-2-3-4-4-1 0 8zM382 1321l-4 2-1 2 2 4 5-2 1-4zM413 1251l-1-6-7 1 7 6zM527 1327l-4 0-1 1 2 8 5-3zM628 1373l3-2 1-2-7-1-2 1zM544 1242l-2 4 5 2 5-4-1-2zM339 1377l2 0 3-4-1-2-4-1-3 3zM644 1497l6 5 1-1 0-2-4-5zM665 1494l-7 6 6 1 3-2 0-2zM695 1506l-2-3-4 0-1 4 2 2zM751 1339l5-3 1-2-8-1zM500 1494l1 4 5-1-1-5zM539 1400l0-3-6-3-3 8 2 1zM703 1400l6-1 1-3-6-3zM739 1490l4 0 2-1 0-4-8 0zM335 1255l-2-1-3 4 2 4 5-2zM532 1415l-5 10 2 1 7-7zM540 1514l-6-6-2 2 0 4zM718 1497l-2-5-5 0-1 1 3 7zM616 1499l-1 3 5 2 3-3zM655 1244l2 1 7-2-7-4zM620 1337l3-5-4-4-4 9zM754 1269l1 7 2-1 0-5zM722 1267l2 4 9-1-1-1-5-3zM593 1465l1-7-3-3-3 8zM435 1483l2-3-4-2-3 2-1 2zM475 1254l2 4 3 1 1-7-2-2-4 2zM629 1443l1-4-3-2-4 2-1 2zM343 1450l2-1-2-5-2 0-2 4zM371 1481l2-1-1-5-2-1-5 3 0 4zM573 1248l-1-3-2-1-4 4 1 3zM442 1442l-2-7-3 2-1 7zM360 1313l6-2 1-2-3-2-5 4zM733 1375l-3-1 0 5 4 0zM740 1388l3-2 0-3-5 0zM395 1510l2-2 0-2-2-2-8 2 0 1zM561 1507l3-6 0-1-5 0-2 3zM335 1283l1-3-6-4-1 6zM748 1251l-2 4 4 2 1-6zM604 1433l6-6-8 0zM571 1498l4 2 3-4-1-2-7 3zM484 1507l-2-5-4 4 2 3zM382 1301l-4-1-1 4 4 2 2-4zM648 1418l5 2 2-3-6-3zM535 1497l4-5-4-2-4 2zM746 1365l1-2-2-5-4 2 2 4zM706 1427l2-3-2-4-4 0-1 4zM370 1266l1 5 6-1-2-3zM469 1341l5-1 0-1-3-5-5 1zM726 1482l-3-5-2 2 0 6zM331 1327l1-3-3-2 0 6zM521 1306l-5-2-3 3 1 3 3 1zM665 1393l7 1 1-4-7 0zM745 1418l-6-3-1 2 3 5zM755 1302l0 1 2-1 0-7-2 0zM548 1289l-3 1-2 4 4 5 3-2zM513 1254l1-2-6-5-2 1 0 4zM466 1359l-2-9-5 3 0 1 5 6zM372 1405l-4 6 3 2 3-3zM330 1500l1 2 5 1 0-4-3-2zM731 1260l3 2 2-4-5-3zM716 1285l3 2 1-1-1-6-3 1zM526 1245l8 1-8-6zM351 1370l4-6-5-1-2 5 2 2zM472 1271l6 0 0-5-2-1-4 4zM410 1239l-1-3-4-2-1 6zM529 1473l-5-7-1 8zM342 1336l4 3 3-3-1-3-6 2zM685 1279l-6-1 0 4 6 1zM447 1498l-2 0 5 8 2-5zM729 1435l-4-2-2 3 1 4 6-2zM621 1432l4-1-1-4-7 1zM748 1279l-1-7-7 2z"/><path fill="#b06cb0" d="M264.0 647.8a1.0 1.0 0 1 0 2.1 0a1.0 1.0 0 1 0 -2.1 0zM364.6 644.1a1.4 1.4 0 1 0 2.7 0a1.4 1.4 0 1 0 -2.7 0zM373.3 643.9a0.9 0.9 0 1 0 1.7 0a0.9 0.9 0 1 0 -1.7 0zM271.7 653.2a0.9 0.9 0 1 0 1.7 0a0.9 0.9 0 1 0 -1.7 0zM360.1 643.7a1.4 1.4 0 1 0 2.9 0a1.4 1.4 0 1 0 -2.9 0zM368.0 651.8a1.9 1.9 0 1 0 3.8 0a1.9 1.9 0 1 0 -3.8 0zM289.8 673.6a1.8 1.8 0 1 0 3.5 0a1.8 1.8 0 1 0 -3.5 0zM290.9 670.7a1.4 1.4 0 1 0 2.8 0a1.4 1.4 0 1 0 -2.8 0zM325.0 689.4a1.7 1.7 0 1 0 3.3 0a1.7 1.7 0 1 0 -3.3 0zM366.8 637.4a0.9 0.9 0 1 0 1.7 0a0.9 0.9 0 1 0 -1.7 0zM176.1 624.5a1.7 1.7 0 1 0 3.4 0a1.7 1.7 0 1 0 -3.4 0zM182.1 626.8a1.4 1.4 0 1 0 2.8 0a1.4 1.4 0 1 0 -2.8 0zM370.8 747.1a1.2 1.2 0 1 0 2.4 0a1.2 1.2 0 1 0 -2.4 0zM357.0 669.8a1.2 1.2 0 1 0 2.4 0a1.2 1.2 0 1 0 -2.4 0zM372.2 693.7a1.4 1.4 0 1 0 2.8 0a1.4 1.4 0 1 0 -2.8 0zM358.2 645.2a1.4 1.4 0 1 0 2.8 0a1.4 1.4 0 1 0 -2.8 0zM358.4 661.6a1.6 1.6 0 1 0 3.2 0a1.6 1.6 0 1 0 -3.2 0zM357.4 656.3a1.2 1.2 0 1 0 2.5 0a1.2 1.2 0 1 0 -2.5 0zM354.6 663.7a1.5 1.5 0 1 0 3.0 0a1.5 1.5 0 1 0 -3.0 0zM367.2 654.0a1.7 1.7 0 1 0 3.5 0a1.7 1.7 0 1 0 -3.5 0zM370.0 661.0a1.8 1.8 0 1 0 3.6 0a1.8 1.8 0 1 0 -3.6 0zM339.5 684.6a1.5 1.5 0 1 0 2.9 0a1.5 1.5 0 1 0 -2.9 0zM325.1 698.7a1.0 1.0 0 1 0 2.0 0a1.0 1.0 0 1 0 -2.0 0zM252.8 621.0a1.1 1.1 0 1 0 2.2 0a1.1 1.1 0 1 0 -2.2 0zM260.8 631.3a1.4 1.4 0 1 0 2.9 0a1.4 1.4 0 1 0 -2.9 0zM307.4 661.7a0.9 0.9 0 1 0 1.9 0a0.9 0.9 0 1 0 -1.9 0zM271.6 652.0a1.3 1.3 0 1 0 2.7 0a1.3 1.3 0 1 0 -2.7 0zM289.2 683.0a2.0 2.0 0 1 0 3.9 0a2.0 2.0 0 1 0 -3.9 0zM311.5 698.5a1.0 1.0 0 1 0 2.0 0a1.0 1.0 0 1 0 -2.0 0zM316.2 695.6a1.7 1.7 0 1 0 3.3 0a1.7 1.7 0 1 0 -3.3 0zM316.5 696.3a0.9 0.9 0 1 0 1.9 0a0.9 0.9 0 1 0 -1.9 0zM298.8 687.7a1.0 1.0 0 1 0 2.1 0a1.0 1.0 0 1 0 -2.1 0zM267.2 624.9a1.2 1.2 0 1 0 2.4 0a1.2 1.2 0 1 0 -2.4 0zM267.8 634.4a1.9 1.9 0 1 0 3.9 0a1.9 1.9 0 1 0 -3.9 0zM367.2 635.3a0.9 0.9 0 1 0 1.8 0a0.9 0.9 0 1 0 -1.8 0zM191.1 620.6a1.9 1.9 0 1 0 3.8 0a1.9 1.9 0 1 0 -3.8 0zM184.1 620.7a1.4 1.4 0 1 0 2.8 0a1.4 1.4 0 1 0 -2.8 0zM214.9 723.3a1.1 1.1 0 1 0 2.3 0a1.1 1.1 0 1 0 -2.3 0zM221.6 722.6a1.9 1.9 0 1 0 3.8 0a1.9 1.9 0 1 0 -3.8 0zM180.7 675.5a0.9 0.9 0 1 0 1.8 0a0.9 0.9 0 1 0 -1.8 0zM178.1 682.4a1.0 1.0 0 1 0 2.0 0a1.0 1.0 0 1 0 -2.0 0zM169.5 630.9a1.2 1.2 0 1 0 2.3 0a1.2 1.2 0 1 0 -2.3 0zM172.0 636.9a1.9 1.9 0 1 0 3.7 0a1.9 1.9 0 1 0 -3.7 0zM179.6 674.6a1.3 1.3 0 1 0 2.6 0a1.3 1.3 0 1 0 -2.6 0zM179.2 670.3a1.3 1.3 0 1 0 2.6 0a1.3 1.3 0 1 0 -2.6 0zM186.4 668.6a1.2 1.2 0 1 0 2.3 0a1.2 1.2 0 1 0 -2.3 0zM170.4 659.1a1.4 1.4 0 1 0 2.8 0a1.4 1.4 0 1 0 -2.8 0zM235.5 753.0a1.1 1.1 0 1 0 2.3 0a1.1 1.1 0 1 0 -2.3 0zM341.1 743.8a1.4 1.4 0 1 0 2.8 0a1.4 1.4 0 1 0 -2.8 0zM223.6 712.6a0.9 0.9 0 1 0 1.8 0a0.9 0.9 0 1 0 -1.8 0zM273.8 742.7a1.3 1.3 0 1 0 2.6 0a1.3 1.3 0 1 0 -2.6 0zM366.3 753.4a1.8 1.8 0 1 0 3.5 0a1.8 1.8 0 1 0 -3.5 0zM360.1 749.1a1.1 1.1 0 1 0 2.1 0a1.1 1.1 0 1 0 -2.1 0zM362.8 700.9a1.1 1.1 0 1 0 2.2 0a1.1 1.1 0 1 0 -2.2 0zM373.0 684.2a1.0 1.0 0 1 0 1.9 0a1.0 1.0 0 1 0 -1.9 0zM354.0 675.9a1.4 1.4 0 1 0 2.7 0a1.4 1.4 0 1 0 -2.7 0zM356.9 670.1a1.7 1.7 0 1 0 3.4 0a1.7 1.7 0 1 0 -3.4 0zM346.6 679.2a0.9 0.9 0 1 0 1.9 0a0.9 0.9 0 1 0 -1.9 0zM346.1 704.8a1.6 1.6 0 1 0 3.2 0a1.6 1.6 0 1 0 -3.2 0zM341.8 692.7a1.1 1.1 0 1 0 2.2 0a1.1 1.1 0 1 0 -2.2 0zM297.1 748.0a1.1 1.1 0 1 0 2.3 0a1.1 1.1 0 1 0 -2.3 0zM246.2 620.8a0.9 0.9 0 1 0 1.8 0a0.9 0.9 0 1 0 -1.8 0zM248.7 627.9a0.9 0.9 0 1 0 1.9 0a0.9 0.9 0 1 0 -1.9 0zM207.4 653.1a1.2 1.2 0 1 0 2.5 0a1.2 1.2 0 1 0 -2.5 0zM295.8 651.9a1.5 1.5 0 1 0 3.1 0a1.5 1.5 0 1 0 -3.1 0zM300.0 648.0a0.9 0.9 0 1 0 1.7 0a0.9 0.9 0 1 0 -1.7 0zM298.3 667.2a1.6 1.6 0 1 0 3.2 0a1.6 1.6 0 1 0 -3.2 0zM304.8 670.5a1.6 1.6 0 1 0 3.3 0a1.6 1.6 0 1 0 -3.3 0zM303.2 659.3a1.4 1.4 0 1 0 2.8 0a1.4 1.4 0 1 0 -2.8 0zM296.2 654.4a1.8 1.8 0 1 0 3.6 0a1.8 1.8 0 1 0 -3.6 0zM294.7 658.4a1.0 1.0 0 1 0 1.9 0a1.0 1.0 0 1 0 -1.9 0zM280.9 680.6a1.6 1.6 0 1 0 3.2 0a1.6 1.6 0 1 0 -3.2 0zM255.2 645.8a1.9 1.9 0 1 0 3.8 0a1.9 1.9 0 1 0 -3.8 0zM225.9 646.0a1.4 1.4 0 1 0 2.8 0a1.4 1.4 0 1 0 -2.8 0zM335.7 698.9a1.7 1.7 0 1 0 3.5 0a1.7 1.7 0 1 0 -3.5 0zM296.8 697.4a1.0 1.0 0 1 0 2.0 0a1.0 1.0 0 1 0 -2.0 0zM279.8 629.9a1.3 1.3 0 1 0 2.6 0a1.3 1.3 0 1 0 -2.6 0zM345.4 625.7a1.9 1.9 0 1 0 3.9 0a1.9 1.9 0 1 0 -3.9 0zM359.8 637.5a1.0 1.0 0 1 0 2.0 0a1.0 1.0 0 1 0 -2.0 0zM194.3 735.2a1.5 1.5 0 1 0 3.0 0a1.5 1.5 0 1 0 -3.0 0zM187.1 741.0a1.4 1.4 0 1 0 2.7 0a1.4 1.4 0 1 0 -2.7 0zM185.9 735.5a1.7 1.7 0 1 0 3.4 0a1.7 1.7 0 1 0 -3.4 0zM195.2 628.0a1.4 1.4 0 1 0 2.8 0a1.4 1.4 0 1 0 -2.8 0zM206.4 712.1a1.2 1.2 0 1 0 2.4 0a1.2 1.2 0 1 0 -2.4 0zM182.5 727.2a1.8 1.8 0 1 0 3.5 0a1.8 1.8 0 1 0 -3.5 0zM197.0 674.1a1.2 1.2 0 1 0 2.5 0a1.2 1.2 0 1 0 -2.5 0zM204.7 677.5a1.0 1.0 0 1 0 2.0 0a1.0 1.0 0 1 0 -2.0 0zM181.0 646.9a1.2 1.2 0 1 0 2.4 0a1.2 1.2 0 1 0 -2.4 0zM180.5 663.5a0.9 0.9 0 1 0 1.9 0a0.9 0.9 0 1 0 -1.9 0zM207.2 749.9a1.6 1.6 0 1 0 3.2 0a1.6 1.6 0 1 0 -3.2 0zM254.2 750.2a1.2 1.2 0 1 0 2.4 0a1.2 1.2 0 1 0 -2.4 0zM325.2 751.6a1.7 1.7 0 1 0 3.4 0a1.7 1.7 0 1 0 -3.4 0zM326.1 748.7a1.2 1.2 0 1 0 2.5 0a1.2 1.2 0 1 0 -2.5 0zM226.3 711.7a1.0 1.0 0 1 0 2.0 0a1.0 1.0 0 1 0 -2.0 0zM266.2 736.7a0.9 0.9 0 1 0 1.8 0a0.9 0.9 0 1 0 -1.8 0zM269.6 747.1a1.7 1.7 0 1 0 3.3 0a1.7 1.7 0 1 0 -3.3 0zM283.1 750.5a1.0 1.0 0 1 0 2.0 0a1.0 1.0 0 1 0 -2.0 0zM284.0 739.7a1.1 1.1 0 1 0 2.2 0a1.1 1.1 0 1 0 -2.2 0zM374.1 730.3a1.2 1.2 0 1 0 2.5 0a1.2 1.2 0 1 0 -2.5 0zM370.3 733.4a0.9 0.9 0 1 0 1.9 0a0.9 0.9 0 1 0 -1.9 0zM354.1 712.1a1.9 1.9 0 1 0 3.7 0a1.9 1.9 0 1 0 -3.7 0zM348.5 708.1a1.3 1.3 0 1 0 2.6 0a1.3 1.3 0 1 0 -2.6 0zM359.9 714.4a1.6 1.6 0 1 0 3.3 0a1.6 1.6 0 1 0 -3.3 0zM369.0 713.3a1.8 1.8 0 1 0 3.5 0a1.8 1.8 0 1 0 -3.5 0zM344.7 661.2a0.8 0.8 0 1 0 1.7 0a0.8 0.8 0 1 0 -1.7 0zM366.8 679.4a1.7 1.7 0 1 0 3.4 0a1.7 1.7 0 1 0 -3.4 0zM328.4 663.6a1.1 1.1 0 1 0 2.1 0a1.1 1.1 0 1 0 -2.1 0zM335.0 662.0a1.2 1.2 0 1 0 2.4 0a1.2 1.2 0 1 0 -2.4 0zM329.0 674.7a1.4 1.4 0 1 0 2.9 0a1.4 1.4 0 1 0 -2.9 0zM331.9 675.3a1.3 1.3 0 1 0 2.6 0a1.3 1.3 0 1 0 -2.6 0zM343.5 672.2a0.9 0.9 0 1 0 1.8 0a0.9 0.9 0 1 0 -1.8 0zM349.0 670.3a1.0 1.0 0 1 0 1.9 0a1.0 1.0 0 1 0 -1.9 0zM357.0 684.3a1.8 1.8 0 1 0 3.6 0a1.8 1.8 0 1 0 -3.6 0zM361.6 691.1a1.6 1.6 0 1 0 3.1 0a1.6 1.6 0 1 0 -3.1 0zM326.5 712.2a1.1 1.1 0 1 0 2.2 0a1.1 1.1 0 1 0 -2.2 0zM328.3 707.8a1.6 1.6 0 1 0 3.2 0a1.6 1.6 0 1 0 -3.2 0zM240.7 638.7a1.1 1.1 0 1 0 2.2 0a1.1 1.1 0 1 0 -2.2 0zM242.0 644.1a1.6 1.6 0 1 0 3.2 0a1.6 1.6 0 1 0 -3.2 0zM239.9 631.5a1.2 1.2 0 1 0 2.4 0a1.2 1.2 0 1 0 -2.4 0zM253.2 636.6a1.4 1.4 0 1 0 2.8 0a1.4 1.4 0 1 0 -2.8 0zM253.4 636.0a0.9 0.9 0 1 0 1.7 0a0.9 0.9 0 1 0 -1.7 0zM244.4 637.9a1.9 1.9 0 1 0 3.8 0a1.9 1.9 0 1 0 -3.8 0zM216.5 649.0a1.7 1.7 0 1 0 3.4 0a1.7 1.7 0 1 0 -3.4 0zM203.3 645.7a1.1 1.1 0 1 0 2.1 0a1.1 1.1 0 1 0 -2.1 0zM183.1 638.9a1.0 1.0 0 1 0 2.0 0a1.0 1.0 0 1 0 -2.0 0zM296.5 644.1a1.2 1.2 0 1 0 2.4 0a1.2 1.2 0 1 0 -2.4 0zM296.7 677.4a1.2 1.2 0 1 0 2.5 0a1.2 1.2 0 1 0 -2.5 0zM311.2 658.6a0.8 0.8 0 1 0 1.7 0a0.8 0.8 0 1 0 -1.7 0zM290.1 691.6a1.0 1.0 0 1 0 2.0 0a1.0 1.0 0 1 0 -2.0 0zM290.3 684.1a1.0 1.0 0 1 0 2.0 0a1.0 1.0 0 1 0 -2.0 0zM289.8 683.8a1.3 1.3 0 1 0 2.6 0a1.3 1.3 0 1 0 -2.6 0zM279.4 634.8a1.7 1.7 0 1 0 3.4 0a1.7 1.7 0 1 0 -3.4 0zM282.2 642.5a1.8 1.8 0 1 0 3.6 0a1.8 1.8 0 1 0 -3.6 0zM274.3 637.3a1.7 1.7 0 1 0 3.5 0a1.7 1.7 0 1 0 -3.5 0zM275.2 640.9a1.0 1.0 0 1 0 2.0 0a1.0 1.0 0 1 0 -2.0 0zM363.0 625.4a1.2 1.2 0 1 0 2.4 0a1.2 1.2 0 1 0 -2.4 0zM166.9 733.0a1.3 1.3 0 1 0 2.7 0a1.3 1.3 0 1 0 -2.7 0zM192.5 630.3a1.9 1.9 0 1 0 3.8 0a1.9 1.9 0 1 0 -3.8 0zM191.5 637.8a1.8 1.8 0 1 0 3.6 0a1.8 1.8 0 1 0 -3.6 0zM167.6 690.4a1.2 1.2 0 1 0 2.4 0a1.2 1.2 0 1 0 -2.4 0zM215.3 710.1a1.4 1.4 0 1 0 2.8 0a1.4 1.4 0 1 0 -2.8 0zM213.9 702.2a1.8 1.8 0 1 0 3.5 0a1.8 1.8 0 1 0 -3.5 0zM212.1 681.5a1.0 1.0 0 1 0 2.0 0a1.0 1.0 0 1 0 -2.0 0zM214.3 686.7a1.3 1.3 0 1 0 2.6 0a1.3 1.3 0 1 0 -2.6 0zM206.3 702.9a1.9 1.9 0 1 0 3.9 0a1.9 1.9 0 1 0 -3.9 0zM167.0 706.9a1.6 1.6 0 1 0 3.2 0a1.6 1.6 0 1 0 -3.2 0zM192.1 721.1a0.9 0.9 0 1 0 1.7 0a0.9 0.9 0 1 0 -1.7 0zM198.7 727.9a1.2 1.2 0 1 0 2.4 0a1.2 1.2 0 1 0 -2.4 0zM206.0 728.4a1.6 1.6 0 1 0 3.3 0a1.6 1.6 0 1 0 -3.3 0zM199.8 720.6a0.9 0.9 0 1 0 1.7 0a0.9 0.9 0 1 0 -1.7 0zM202.9 717.6a1.7 1.7 0 1 0 3.5 0a1.7 1.7 0 1 0 -3.5 0zM174.3 654.7a1.2 1.2 0 1 0 2.4 0a1.2 1.2 0 1 0 -2.4 0zM175.7 655.3a1.4 1.4 0 1 0 2.9 0a1.4 1.4 0 1 0 -2.9 0zM232.2 753.1a1.8 1.8 0 1 0 3.7 0a1.8 1.8 0 1 0 -3.7 0zM226.5 749.6a1.3 1.3 0 1 0 2.5 0a1.3 1.3 0 1 0 -2.5 0zM218.7 739.4a1.8 1.8 0 1 0 3.6 0a1.8 1.8 0 1 0 -3.6 0zM251.2 741.2a1.8 1.8 0 1 0 3.6 0a1.8 1.8 0 1 0 -3.6 0zM243.6 709.8a1.9 1.9 0 1 0 3.8 0a1.9 1.9 0 1 0 -3.8 0zM242.0 721.2a1.5 1.5 0 1 0 3.0 0a1.5 1.5 0 1 0 -3.0 0zM258.4 731.2a1.7 1.7 0 1 0 3.4 0a1.7 1.7 0 1 0 -3.4 0zM255.6 701.6a1.7 1.7 0 1 0 3.5 0a1.7 1.7 0 1 0 -3.5 0zM272.2 712.5a1.3 1.3 0 1 0 2.7 0a1.3 1.3 0 1 0 -2.7 0zM279.7 714.2a1.5 1.5 0 1 0 3.0 0a1.5 1.5 0 1 0 -3.0 0zM283.4 721.0a1.9 1.9 0 1 0 3.9 0a1.9 1.9 0 1 0 -3.9 0zM353.3 744.2a1.4 1.4 0 1 0 2.7 0a1.4 1.4 0 1 0 -2.7 0zM328.0 728.9a1.0 1.0 0 1 0 2.0 0a1.0 1.0 0 1 0 -2.0 0zM223.2 633.6a1.3 1.3 0 1 0 2.6 0a1.3 1.3 0 1 0 -2.6 0zM226.8 638.9a1.9 1.9 0 1 0 3.8 0a1.9 1.9 0 1 0 -3.8 0zM229.1 632.4a1.5 1.5 0 1 0 3.1 0a1.5 1.5 0 1 0 -3.1 0zM234.6 624.5a1.5 1.5 0 1 0 3.1 0a1.5 1.5 0 1 0 -3.1 0zM229.2 627.7a1.1 1.1 0 1 0 2.3 0a1.1 1.1 0 1 0 -2.3 0zM226.0 620.2a1.1 1.1 0 1 0 2.2 0a1.1 1.1 0 1 0 -2.2 0zM209.3 634.0a1.1 1.1 0 1 0 2.2 0a1.1 1.1 0 1 0 -2.2 0zM222.6 622.3a1.7 1.7 0 1 0 3.4 0a1.7 1.7 0 1 0 -3.4 0zM218.2 622.0a1.1 1.1 0 1 0 2.2 0a1.1 1.1 0 1 0 -2.2 0zM224.0 628.1a1.0 1.0 0 1 0 2.0 0a1.0 1.0 0 1 0 -2.0 0zM222.3 629.7a1.2 1.2 0 1 0 2.4 0a1.2 1.2 0 1 0 -2.4 0zM200.9 654.4a1.7 1.7 0 1 0 3.4 0a1.7 1.7 0 1 0 -3.4 0zM184.7 646.0a1.1 1.1 0 1 0 2.3 0a1.1 1.1 0 1 0 -2.3 0zM185.9 643.4a1.0 1.0 0 1 0 2.0 0a1.0 1.0 0 1 0 -2.0 0zM208.3 672.0a1.3 1.3 0 1 0 2.6 0a1.3 1.3 0 1 0 -2.6 0zM192.4 665.0a1.4 1.4 0 1 0 2.8 0a1.4 1.4 0 1 0 -2.8 0zM309.6 677.4a1.7 1.7 0 1 0 3.5 0a1.7 1.7 0 1 0 -3.5 0zM305.9 684.7a1.9 1.9 0 1 0 3.7 0a1.9 1.9 0 1 0 -3.7 0zM312.9 645.3a1.2 1.2 0 1 0 2.4 0a1.2 1.2 0 1 0 -2.4 0zM340.6 631.0a1.7 1.7 0 1 0 3.4 0a1.7 1.7 0 1 0 -3.4 0zM268.2 678.1a0.9 0.9 0 1 0 1.9 0a0.9 0.9 0 1 0 -1.9 0zM276.6 679.5a1.7 1.7 0 1 0 3.5 0a1.7 1.7 0 1 0 -3.5 0zM271.6 688.2a1.1 1.1 0 1 0 2.2 0a1.1 1.1 0 1 0 -2.2 0zM264.0 694.7a1.3 1.3 0 1 0 2.5 0a1.3 1.3 0 1 0 -2.5 0zM252.1 671.2a1.8 1.8 0 1 0 3.5 0a1.8 1.8 0 1 0 -3.5 0zM259.1 669.4a1.3 1.3 0 1 0 2.6 0a1.3 1.3 0 1 0 -2.6 0zM260.6 670.3a1.5 1.5 0 1 0 2.9 0a1.5 1.5 0 1 0 -2.9 0zM208.4 661.2a0.9 0.9 0 1 0 1.8 0a0.9 0.9 0 1 0 -1.8 0zM234.2 650.7a1.1 1.1 0 1 0 2.3 0a1.1 1.1 0 1 0 -2.3 0zM234.2 650.8a1.3 1.3 0 1 0 2.5 0a1.3 1.3 0 1 0 -2.5 0zM182.4 752.9a1.6 1.6 0 1 0 3.2 0a1.6 1.6 0 1 0 -3.2 0zM175.5 753.6a1.5 1.5 0 1 0 2.9 0a1.5 1.5 0 1 0 -2.9 0zM234.3 699.3a1.8 1.8 0 1 0 3.7 0a1.8 1.8 0 1 0 -3.7 0zM229.6 667.4a1.3 1.3 0 1 0 2.6 0a1.3 1.3 0 1 0 -2.6 0zM199.9 685.7a1.7 1.7 0 1 0 3.4 0a1.7 1.7 0 1 0 -3.4 0zM190.6 681.7a1.6 1.6 0 1 0 3.2 0a1.6 1.6 0 1 0 -3.2 0zM183.9 692.0a1.2 1.2 0 1 0 2.3 0a1.2 1.2 0 1 0 -2.3 0zM182.1 696.7a1.9 1.9 0 1 0 3.8 0a1.9 1.9 0 1 0 -3.8 0zM193.5 712.9a1.6 1.6 0 1 0 3.2 0a1.6 1.6 0 1 0 -3.2 0zM197.0 711.8a1.8 1.8 0 1 0 3.5 0a1.8 1.8 0 1 0 -3.5 0zM174.7 717.6a1.6 1.6 0 1 0 3.3 0a1.6 1.6 0 1 0 -3.3 0zM167.7 718.4a1.3 1.3 0 1 0 2.6 0a1.3 1.3 0 1 0 -2.6 0zM167.5 711.5a1.6 1.6 0 1 0 3.1 0a1.6 1.6 0 1 0 -3.1 0zM182.8 715.3a1.6 1.6 0 1 0 3.3 0a1.6 1.6 0 1 0 -3.3 0zM179.6 715.5a1.7 1.7 0 1 0 3.3 0a1.7 1.7 0 1 0 -3.3 0zM166.9 661.1a0.9 0.9 0 1 0 1.8 0a0.9 0.9 0 1 0 -1.8 0zM221.6 738.6a1.5 1.5 0 1 0 3.0 0a1.5 1.5 0 1 0 -3.0 0zM229.6 743.3a1.5 1.5 0 1 0 3.0 0a1.5 1.5 0 1 0 -3.0 0zM256.5 687.4a1.1 1.1 0 1 0 2.3 0a1.1 1.1 0 1 0 -2.3 0zM266.4 688.7a1.8 1.8 0 1 0 3.6 0a1.8 1.8 0 1 0 -3.6 0zM247.3 696.0a1.6 1.6 0 1 0 3.1 0a1.6 1.6 0 1 0 -3.1 0zM245.4 693.2a1.6 1.6 0 1 0 3.3 0a1.6 1.6 0 1 0 -3.3 0zM270.6 718.0a1.7 1.7 0 1 0 3.4 0a1.7 1.7 0 1 0 -3.4 0zM249.4 724.3a1.2 1.2 0 1 0 2.3 0a1.2 1.2 0 1 0 -2.3 0zM288.3 709.4a1.6 1.6 0 1 0 3.3 0a1.6 1.6 0 1 0 -3.3 0zM279.2 709.5a1.0 1.0 0 1 0 2.0 0a1.0 1.0 0 1 0 -2.0 0zM283.7 705.7a1.5 1.5 0 1 0 3.0 0a1.5 1.5 0 1 0 -3.0 0zM270.3 701.0a1.5 1.5 0 1 0 3.1 0a1.5 1.5 0 1 0 -3.1 0zM275.0 703.2a0.9 0.9 0 1 0 1.8 0a0.9 0.9 0 1 0 -1.8 0zM269.0 709.7a1.9 1.9 0 1 0 3.7 0a1.9 1.9 0 1 0 -3.7 0zM269.4 709.7a1.9 1.9 0 1 0 3.9 0a1.9 1.9 0 1 0 -3.9 0zM270.8 718.6a1.8 1.8 0 1 0 3.7 0a1.8 1.8 0 1 0 -3.7 0zM350.8 722.4a1.1 1.1 0 1 0 2.2 0a1.1 1.1 0 1 0 -2.2 0zM348.7 730.9a0.9 0.9 0 1 0 1.8 0a0.9 0.9 0 1 0 -1.8 0zM304.5 711.6a1.7 1.7 0 1 0 3.4 0a1.7 1.7 0 1 0 -3.4 0zM318.3 711.1a1.6 1.6 0 1 0 3.1 0a1.6 1.6 0 1 0 -3.1 0zM318.3 739.0a1.4 1.4 0 1 0 2.7 0a1.4 1.4 0 1 0 -2.7 0zM322.1 734.0a1.5 1.5 0 1 0 3.0 0a1.5 1.5 0 1 0 -3.0 0zM312.8 743.8a1.4 1.4 0 1 0 2.9 0a1.4 1.4 0 1 0 -2.9 0zM312.9 749.0a1.0 1.0 0 1 0 2.0 0a1.0 1.0 0 1 0 -2.0 0zM329.8 734.2a1.6 1.6 0 1 0 3.3 0a1.6 1.6 0 1 0 -3.3 0zM329.5 735.6a1.7 1.7 0 1 0 3.5 0a1.7 1.7 0 1 0 -3.5 0zM292.5 717.4a1.2 1.2 0 1 0 2.4 0a1.2 1.2 0 1 0 -2.4 0zM293.9 711.7a1.3 1.3 0 1 0 2.6 0a1.3 1.3 0 1 0 -2.6 0zM308.2 717.9a1.7 1.7 0 1 0 3.3 0a1.7 1.7 0 1 0 -3.3 0zM199.3 621.7a1.1 1.1 0 1 0 2.3 0a1.1 1.1 0 1 0 -2.3 0zM205.4 620.8a1.3 1.3 0 1 0 2.7 0a1.3 1.3 0 1 0 -2.7 0zM196.3 627.9a1.0 1.0 0 1 0 2.0 0a1.0 1.0 0 1 0 -2.0 0zM192.2 651.2a1.3 1.3 0 1 0 2.5 0a1.3 1.3 0 1 0 -2.5 0zM286.5 632.1a1.1 1.1 0 1 0 2.2 0a1.1 1.1 0 1 0 -2.2 0zM337.8 649.1a1.3 1.3 0 1 0 2.6 0a1.3 1.3 0 1 0 -2.6 0zM337.2 651.9a1.8 1.8 0 1 0 3.6 0a1.8 1.8 0 1 0 -3.6 0zM329.7 641.1a1.8 1.8 0 1 0 3.7 0a1.8 1.8 0 1 0 -3.7 0zM265.1 660.1a1.7 1.7 0 1 0 3.3 0a1.7 1.7 0 1 0 -3.3 0zM245.7 656.3a1.1 1.1 0 1 0 2.2 0a1.1 1.1 0 1 0 -2.2 0zM241.2 650.7a1.8 1.8 0 1 0 3.6 0a1.8 1.8 0 1 0 -3.6 0zM244.0 648.7a1.5 1.5 0 1 0 3.0 0a1.5 1.5 0 1 0 -3.0 0zM239.3 676.0a1.2 1.2 0 1 0 2.3 0a1.2 1.2 0 1 0 -2.3 0zM243.1 675.2a1.9 1.9 0 1 0 3.9 0a1.9 1.9 0 1 0 -3.9 0zM225.4 651.6a1.8 1.8 0 1 0 3.6 0a1.8 1.8 0 1 0 -3.6 0zM286.2 624.9a1.9 1.9 0 1 0 3.8 0a1.9 1.9 0 1 0 -3.8 0zM279.4 623.5a1.2 1.2 0 1 0 2.4 0a1.2 1.2 0 1 0 -2.4 0zM168.2 749.2a1.8 1.8 0 1 0 3.6 0a1.8 1.8 0 1 0 -3.6 0zM175.7 750.8a1.1 1.1 0 1 0 2.2 0a1.1 1.1 0 1 0 -2.2 0zM173.0 747.7a1.1 1.1 0 1 0 2.2 0a1.1 1.1 0 1 0 -2.2 0zM208.7 696.0a1.1 1.1 0 1 0 2.3 0a1.1 1.1 0 1 0 -2.3 0zM206.5 700.3a1.0 1.0 0 1 0 1.9 0a1.0 1.0 0 1 0 -1.9 0zM196.3 701.7a1.2 1.2 0 1 0 2.4 0a1.2 1.2 0 1 0 -2.4 0zM188.0 684.8a1.3 1.3 0 1 0 2.6 0a1.3 1.3 0 1 0 -2.6 0zM245.2 734.4a1.5 1.5 0 1 0 3.0 0a1.5 1.5 0 1 0 -3.0 0zM250.3 679.6a1.8 1.8 0 1 0 3.6 0a1.8 1.8 0 1 0 -3.6 0zM239.2 702.0a1.3 1.3 0 1 0 2.5 0a1.3 1.3 0 1 0 -2.5 0zM239.7 707.9a1.2 1.2 0 1 0 2.5 0a1.2 1.2 0 1 0 -2.5 0zM357.2 730.9a1.3 1.3 0 1 0 2.7 0a1.3 1.3 0 1 0 -2.7 0zM361.9 728.0a1.1 1.1 0 1 0 2.3 0a1.1 1.1 0 1 0 -2.3 0zM358.9 723.1a1.6 1.6 0 1 0 3.1 0a1.6 1.6 0 1 0 -3.1 0zM315.6 718.6a1.2 1.2 0 1 0 2.4 0a1.2 1.2 0 1 0 -2.4 0zM340.7 724.2a1.3 1.3 0 1 0 2.5 0a1.3 1.3 0 1 0 -2.5 0zM337.9 716.3a1.4 1.4 0 1 0 2.8 0a1.4 1.4 0 1 0 -2.8 0zM344.9 719.9a1.2 1.2 0 1 0 2.4 0a1.2 1.2 0 1 0 -2.4 0zM343.7 715.0a1.0 1.0 0 1 0 2.0 0a1.0 1.0 0 1 0 -2.0 0zM335.2 729.8a1.5 1.5 0 1 0 2.9 0a1.5 1.5 0 1 0 -2.9 0zM333.9 732.8a1.8 1.8 0 1 0 3.7 0a1.8 1.8 0 1 0 -3.7 0zM283.7 728.1a1.7 1.7 0 1 0 3.4 0a1.7 1.7 0 1 0 -3.4 0zM286.2 723.1a1.2 1.2 0 1 0 2.5 0a1.2 1.2 0 1 0 -2.5 0zM196.7 635.7a1.9 1.9 0 1 0 3.9 0a1.9 1.9 0 1 0 -3.9 0zM330.0 648.2a1.8 1.8 0 1 0 3.6 0a1.8 1.8 0 1 0 -3.6 0zM321.9 651.2a1.6 1.6 0 1 0 3.3 0a1.6 1.6 0 1 0 -3.3 0zM291.6 627.3a1.9 1.9 0 1 0 3.7 0a1.9 1.9 0 1 0 -3.7 0zM336.9 642.1a1.1 1.1 0 1 0 2.3 0a1.1 1.1 0 1 0 -2.3 0zM219.9 665.0a1.4 1.4 0 1 0 2.9 0a1.4 1.4 0 1 0 -2.9 0zM232.1 658.4a1.5 1.5 0 1 0 3.1 0a1.5 1.5 0 1 0 -3.1 0zM240.3 656.8a1.2 1.2 0 1 0 2.4 0a1.2 1.2 0 1 0 -2.4 0zM194.4 701.7a1.4 1.4 0 1 0 2.9 0a1.4 1.4 0 1 0 -2.9 0zM191.6 705.6a1.1 1.1 0 1 0 2.3 0a1.1 1.1 0 1 0 -2.3 0zM329.5 718.4a1.6 1.6 0 1 0 3.1 0a1.6 1.6 0 1 0 -3.1 0zM314.2 724.0a1.5 1.5 0 1 0 3.1 0a1.5 1.5 0 1 0 -3.1 0zM294.9 734.5a1.7 1.7 0 1 0 3.4 0a1.7 1.7 0 1 0 -3.4 0zM289.6 733.9a1.0 1.0 0 1 0 2.0 0a1.0 1.0 0 1 0 -2.0 0zM327.3 646.7a1.5 1.5 0 1 0 2.9 0a1.5 1.5 0 1 0 -2.9 0zM326.6 641.5a1.4 1.4 0 1 0 2.8 0a1.4 1.4 0 1 0 -2.8 0zM317.9 629.3a1.9 1.9 0 1 0 3.7 0a1.9 1.9 0 1 0 -3.7 0zM300.7 629.9a1.7 1.7 0 1 0 3.4 0a1.7 1.7 0 1 0 -3.4 0zM304.4 630.3a1.6 1.6 0 1 0 3.2 0a1.6 1.6 0 1 0 -3.2 0zM293.7 624.5a1.3 1.3 0 1 0 2.7 0a1.3 1.3 0 1 0 -2.7 0zM317.9 619.9a1.2 1.2 0 1 0 2.3 0a1.2 1.2 0 1 0 -2.3 0zM322.8 622.6a1.6 1.6 0 1 0 3.1 0a1.6 1.6 0 1 0 -3.1 0zM335.8 637.2a1.8 1.8 0 1 0 3.7 0a1.8 1.8 0 1 0 -3.7 0zM316.0 638.0a1.1 1.1 0 1 0 2.1 0a1.1 1.1 0 1 0 -2.1 0zM292.0 628.8a1.6 1.6 0 1 0 3.3 0a1.6 1.6 0 1 0 -3.3 0zM292.1 628.8a1.5 1.5 0 1 0 3.1 0a1.5 1.5 0 1 0 -3.1 0zM302.7 637.7a1.5 1.5 0 1 0 2.9 0a1.5 1.5 0 1 0 -2.9 0z"/><g transform="rotate(6 190.5 649)"><ellipse cx="190.5" cy="649" rx="19" ry="9" fill="#9c4ca2"/><ellipse cx="190.5" cy="649" rx="15.0" ry="5.0" fill="#efecf2"/></g><g transform="rotate(-55 220 635)"><ellipse cx="220" cy="635" rx="11.5" ry="5.1" fill="#c070b0"/><ellipse cx="220" cy="635" rx="10" ry="3.6" fill="#d8606a"/></g><g transform="rotate(-8 326 641)"><ellipse cx="326" cy="641" rx="13" ry="4.5" fill="#b060aa"/><ellipse cx="326" cy="641" rx="11.4" ry="2.9" fill="#d9727c"/></g><g transform="rotate(0 330 706)"><ellipse cx="330" cy="706" rx="11" ry="8.5" fill="#9c4ca2"/><ellipse cx="330" cy="706" rx="7.8" ry="5.3" fill="#efecf2"/></g><g transform="rotate(-30 319 737)"><ellipse cx="319" cy="737" rx="6.0" ry="4.5" fill="#c070b0"/><ellipse cx="319" cy="737" rx="4.5" ry="3" fill="#d8707a"/></g><g transform="rotate(0 262 668)"><ellipse cx="262" cy="668" rx="5.0" ry="4.1" fill="#c070b0"/><ellipse cx="262" cy="668" rx="3.5" ry="2.6" fill="#d8808a"/></g><line x1="333" y1="745" x2="361" y2="745" stroke="#222" stroke-width="0.9"/><line x1="343.0" y1="743.4" x2="351.0" y2="743.4" stroke="#555" stroke-width="0.7"/></g></g><rect x="167.5" y="619.5" width="208" height="135" fill="none" stroke="#f25555" stroke-width="1.5"/>
<g clip-path="url(#c2)"><g filter="url(#soft)"><rect x="378.5" y="619.5" width="207.5" height="135" fill="#c97cc2"/><rect x="378.5" y="619.5" width="207.5" height="135" filter="url(#spk2)" opacity="0.6"/><rect x="378.5" y="619.5" width="207.5" height="135" filter="url(#spk)" opacity="0.55"/><g filter="url(#soft2)" fill="#8c409f" opacity="0.9"><path d="M408.0 628.0C410.7 623.3 415.3 624.2 420.0 624.0C424.7 623.8 431.7 625.3 436.0 627.0C440.3 628.7 443.7 630.5 446.0 634.0C448.3 637.5 449.8 643.3 450.0 648.0C450.2 652.7 446.7 657.5 447.0 662.0C447.3 666.5 452.5 671.3 452.0 675.0C451.5 678.7 447.7 682.5 444.0 684.0C440.3 685.5 434.7 684.7 430.0 684.0C425.3 683.3 419.5 682.7 416.0 680.0C412.5 677.3 411.0 672.7 409.0 668.0C407.0 663.3 404.2 658.7 404.0 652.0C403.8 645.3 405.3 632.7 408.0 628.0Z"/><path d="M406.0 694.0C408.8 690.7 414.3 687.7 420.0 686.0C425.7 684.3 433.7 684.0 440.0 684.0C446.3 684.0 452.7 684.7 458.0 686.0C463.3 687.3 469.0 689.0 472.0 692.0C475.0 695.0 476.3 700.0 476.0 704.0C475.7 708.0 473.3 712.3 470.0 716.0C466.7 719.7 461.7 723.3 456.0 726.0C450.3 728.7 442.3 731.3 436.0 732.0C429.7 732.7 422.8 732.0 418.0 730.0C413.2 728.0 409.5 724.0 407.0 720.0C404.5 716.0 403.2 710.3 403.0 706.0C402.8 701.7 403.2 697.3 406.0 694.0Z"/><path d="M474.0 678.0C475.7 674.5 483.0 671.8 488.0 671.0C493.0 670.2 499.3 671.2 504.0 673.0C508.7 674.8 513.7 678.5 516.0 682.0C518.3 685.5 519.3 690.8 518.0 694.0C516.7 697.2 512.3 700.0 508.0 701.0C503.7 702.0 497.0 701.5 492.0 700.0C487.0 698.5 481.0 695.7 478.0 692.0C475.0 688.3 472.3 681.5 474.0 678.0Z"/></g><g filter="url(#soft2)" fill="#a058b0" opacity="0.75"><path d="M418 676L466 680L474 698L428 696Z"/></g><rect x="378.5" y="619.5" width="207.5" height="135" filter="url(#spk)" opacity="0.35"/><path fill="#fbf9fb" stroke="#fbf9fb" stroke-width="3.2" stroke-linejoin="round" transform="scale(.5)" d="M1000 1515l6 0 2-2 1 1 3-3-11 2-2-4-4 1zM1139 1420l3 2 0-4-2-2zM1159 1439l2 1 2-2-4-2zM1125 1408l2 11 2-1 3-13 8 1 2-3-3-4-6 2-8-3-1 0zM1164 1465l1 1 3-2 2-2-2-3-3 0zM1163 1480l1 2 1-1-1-10zM992 1433l3 7 3-2-2-9 5-4 0-3-8 8zM792 1478l2 3-2 12 6-1-1-9 7-6-2-5-9 1zM1154 1309l-1 3-10 3-1 3 1 1 8-6 7 3 6-3 8 5 2-1 0-4-2-2-8 2-6-6zM999 1298l4 4-2 7 5 3-1-13 5-2 2-7-9 3zM975 1245l5 2 4 10 3 1 4 6 4-2-8-5-2-5-4-3-1-7-2-2zM1028 1279l-11 1-1 2 3 1 7-2 5 3 4-3 0-5-2-1zM760 1345l0-5-1-1-4 2 1 8zM1066 1415l-1 3 2 4 7 1-4-9zM1089 1496l1 0 4-4-3-6-4 10-7 2 1 3zM1102 1475l-4-2-5 3 0 5zM1164 1243l4-1-5-2zM787 1287l5-5-4-1-5 6zM1139 1275l1-2-1-2-6 0 1 5zM1156 1273l-2-4-9 4zM1169 1275l3-2 0-3-5 4zM775 1387l0 8 6 7 1-1 1-10-6-5 3-14 1 0 2-10-1-1-6 3 2 9-8 4 4 9zM1034 1233l-5 0 2 3zM813 1474l9-4 8 6-1-11-1-3-4 1-1 4-12 2zM990 1333l2-2 0-2-2-2-6 2 0 1zM1060 1475l10-1 1-5-10 4-2-1-6 1-1 1 4 4 3-2zM1084 1345l3 0 5-6-1-4-8-1-4 5zM908 1283l-1 2 2 4 3-6 5-2-7-3-1-1-3 2zM1083 1238l3 3 0-5zM1088 1254l1 2 5 0 1-3-1-1-4-2zM970 1512l-5-1 0 4 6 0zM987 1491l-3-2-4 1-1 5 1 1 4 1zM972 1288l1-1-1-4-7 0 0 2zM768 1259l-1 2 1 5 5 1 1-4-4-4zM1090 1281l0 6 6-1 1-3-5-3-1 0-9-9 0-9 0-1-7 6 3 8zM1024 1416l0 2 4 2 3 13 2 0 5-10-4-1-7-10zM1046 1419l10-4 1-2-7-1zM1163 1374l-5 1 5 11-2 4 1 4-4 7 2 2 2-2-1-3 6-8-4-6 2-5zM987 1481l1 1 5-6-5-3-1 1zM1176 1386l2 0 0-3-3 1zM929 1253l-2-1-6 4 1 3 3 1zM753 1403l-2 2 0 6 4 11 4 1 0-7-1-1-2-10zM758 1440l2 3 1 0-1-7zM1057 1306l7-4-2-6 5-8 0-3-2 0-8 11-2 0zM1073 1308l3-1-1-2-4 0zM951 1273l4 1-1-7-1-1zM1099 1354l5-6-1-2-6-1-2 3zM1094 1368l2 8 3 1 1-13-1 0zM1113 1391l5 0 3-1-1-7-1-1-11 3zM928 1237l3-2-6-1zM1130 1340l2-1-1-4-5 4zM1138 1326l-2-1-3 1 0 5zM1152 1328l1-1-1-3-3 2zM1015 1466l-1 1 7 4 0 7 3-1 0-1 0-3-2-1-2-5zM1103 1320l1 3-6 10 0 4 7 2 7-10 8 4 5-3-1-6-5-4-1-4-9-6-4 2zM942 1272l2 0 2-8-2 0-3 3zM1096 1403l0 12 7 6 2-7-5-5 5-13-1-2zM876 1490l4 1 0-2-5-6-1 0zM785 1326l5 4 1 0 1-3-3-4zM1141 1373l9-2 0-1-2-4-2-1zM1096 1323l-9-2-3 3 0 3 8 2zM764 1333l1 1 11-1 7 8 2-5-7-5-2 0-3-2-8-1zM782 1348l2 4 4-3-5-7zM972 1261l2-1-1-4-3 3zM929 1482l2-1-1-4-6 3zM1079 1453l-5 2 1 6 2 1 1 0 3-4zM797 1240l-3-6-1 0-3 1 0 3 2 3zM1140 1300l-1 0-4 8-6 2-4 5 0 2 3 2 7-2 1-8 10-3zM1092 1397l8-11 0-1-8-2-4 2-10-5-3 4 3 5 6-1zM938 1286l4-1 0-6-3 0-3 1zM877 1502l0-4-4-1 0 1-1 6zM961 1440l3 1 3-6 0-2-4-1zM1121 1360l2 14 2 1 6-3-9-13 5-5-1-5-2-1-5 7-9-1-3 5zM1124 1250l1-1-8-3 0 5zM1139 1253l2-2-7-5 0-7-3 1-2 9zM1048 1323l3 0 6-8-4-2-8 3zM1068 1317l0-3-3-4-6 3zM937 1307l1 2 4-1 0-2-7 0-4-6-2 2zM1150 1495l0-2-4 2 1 3zM1155 1486l-4-1 0 5zM1150 1379l-6 1 1 6 7-1zM788 1501l-6-1-10 5 9 10 7 0 0-6 8-1 3-2 0-7zM1104 1454l5-3 11 4 2-1-6-4-4 2-7-4-2 2 1 5zM1152 1236l2-1 0-2-5 0zM962 1322l1 3-1-8-4 2zM1111 1257l-8-1-1 5 1 1 6 2zM1109 1282l-5 2 0 5 7 1 0-9 4-3-1-7-3-2zM1065 1246l4-7-3-3-1 1zM786 1383l2 2 9-1-6-5-4-1zM951 1292l0 6 4 0 1-6zM1164 1252l5 3 5-5zM777 1426l1-1-3-9-7 2-1 7zM1020 1499l6-1-6-1zM1033 1500l9 1 0-8-7 2-3 4zM1048 1487l1-3-3-4-3 11zM1152 1261l1-3-6-2-3 3 0 5zM756 1304l3 1 3 7 2-6 2 0-5-5-6 2zM1135 1348l0 4 4 0 1-2-3-4zM1147 1335l-3-2-4 4 0 2zM776 1355l-3-6 2-6-2-2-5 1 0 3 5 4-1 8zM1064 1400l0 6 5 0 0-6zM1082 1420l1 0 11 10 4 0 0-1-12-10 1-8-9 1zM1151 1341l-6 4 1 2 5-1 0-4zM1022 1309l0-3-7-1 0 6zM1157 1337l5 0 1-1-5-1-2 1zM1178 1333l0-7-4 0-1 5zM1039 1413l3-6-2-3-5 0-1 1zM949 1481l4-2 5 4 2-2-8-3-1-3zM1035 1302l1-3-4-4-3 6zM1069 1261l6-5-7-3-1 0-1 6zM757 1513l1 0 7-6 0-1-7-1zM781 1492l4 1 1-9-6 2-1 3-8 4 0 4zM1000 1472l1-2-4-5-3 3zM1121 1271l1 6 3 0 0-7zM1157 1425l2 0 9 4 2-2-1-3-9-1-2-3-5 1zM997 1499l0-5 0-1 4-9-1-2-5 5 2 3-4 10zM1102 1269l-4 6 4 3 1-1 1-7zM1006 1461l1-2-1-7-1-5-1-1-2 2 2 7-2 3zM808 1492l3-4-2-5-4 3 1 6zM1011 1346l-4 12 3 2 7-8 6 0 2-5-11-4-2-6-1-1-3 2 1 7zM756 1332l0-4-5-1 0 7zM1142 1515l5 0 2-1-3-7-5 4zM768 1486l6-2 1-4 11-3 0-4-9-3-2 9-12 3zM1041 1357l0-8-8 0-2 7 2 1zM940 1489l-1-3-4 0-1 1 0 6zM1075 1286l7 3 0 0 0-3-7-4-1 0zM952 1449l3-1 1-1-3-3-4 4zM1014 1328l1 1 2-3-5-7-2 1zM1019 1446l1-5-3 0-4 3 1 4zM761 1396l5-3-6 0-2 2zM1134 1288l4 5 3-5-2-4-5 1zM1170 1400l4 2 2-1 1-6-3-1zM1156 1251l0-2-1-6-1 0-3 5zM1160 1263l3 3 3-3-5-3zM790 1370l6 0 6 6 1-4-2-4-10-1zM792 1395l0 5 8 3 2 8 5 2-1-6-2-2 2-7-4-4zM1155 1299l0-1-2-4-5-1-2 3 6 5zM1124 1297l4 6 2-1 2-4-3-4zM1087 1403l-6-7-2 0-2 2 1 5zM758 1497l0 1 5 0 0-6-3-3zM1114 1417l-1 4 4 1-1-5zM1123 1442l2 0 6-9 3 0 0-4-2-1-4 2zM1072 1292l-2 6 5 0 2-3zM1089 1458l4-4 0-2-6-1zM1086 1465l3 3 3-1-3-6zM1135 1496l0 7 2 2 3-3-3-6zM1009 1268l3 0 2 3 3 0-5-8-6 0zM1147 1446l3-5 0-2-6 1zM751 1485l0 6 1 0 2-6zM997 1272l2 5 2 1 3 4 3-1 1-3-1-1-4-1-4-6zM794 1460l0 5 7-1-2-7zM1117 1265l6-2 0-5-5 1-2 5zM1039 1512l0-3-5-1-2 7 3 0zM1161 1323l0 4 4 2 2-5-3-2zM1119 1283l-2 1 0 8 2 0 7-4 0-4zM1026 1291l-1-1-4 1-2 6 3 1zM1083 1437l2-2-4-4-1 1zM1092 1508l-2-3-5 3 2 4zM1094 1301l3 1 1-9-6 1zM819 1401l0-4-1-1-4 2 0 3zM1050 1339l2 0 2-7-6 0zM1062 1327l1-3-2 0-3 5zM977 1294l0 1 6 1-3-5zM1087 1302l-2-7-1 1-3 5 2 4zM1105 1482l-5 4 2 4 1 0 5-5zM1044 1309l5-2-1-7-5 1-1 4zM1006 1497l-1 6 7-1 0-3zM954 1328l-3-3-4 3 0 1 4 3zM1110 1303l11 7 2-3-5-8-4-1-2-2-7-1-2 10zM942 1342l4-4-3-3-6 2 0 1zM981 1316l2 5 4-1 0-4-3-1zM759 1380l1 4 5 1-2-7zM1096 1265l-6 0-1 3 3 3zM977 1310l4-1 0-5-5-1zM793 1257l-5-2-1 4 3 2 3 0zM1042 1460l-1 5 4 4 1-1-3-8zM1149 1286l4 0 1-5-7 0zM1111 1408l5-1 0-8-3 0-4 8zM1107 1245l-5 3 1 1 7 1 0-4zM1032 1472l0 1 8 2 1-1-5-4zM853 1479l-2-5-1 0-3 7 0 1zM751 1314l0 6 4 0-3-7zM1018 1255l2 0 1-8-4 1zM795 1252l3-3 0-2-5 0-1 3zM774 1407l-5-5-4 2 1 5zM1131 1263l6 0-1-3-6-2zM1122 1236l-2 0 0 4 4 1 1-3zM1000 1248l-6 3 6 4zM973 1499l-5 1 0 4 3 1 3-5zM1075 1315l0 3 4 1 3-3-1-4zM1023 1434l-2-8 0 0-4 3 1 4zM798 1359l-3-6-6 5z"/><g><path d="M466.0 706.0C469.0 701.3 475.0 700.3 480.0 700.0C485.0 699.7 491.0 701.7 496.0 704.0C501.0 706.3 506.3 709.3 510.0 714.0C513.7 718.7 516.0 725.2 518.0 732.0C520.0 738.8 531.3 751.2 522.0 755.0C512.7 758.8 472.0 759.5 462.0 755.0C452.0 750.5 461.3 736.2 462.0 728.0C462.7 719.8 463.0 710.7 466.0 706.0Z" fill="#a468b2"/><g stroke="#f6f2f8" stroke-width="1.5" fill="none" stroke-linecap="round"><path d="M474.0 709.0Q472.0 730.0 466.0 755"/><path d="M479.0 707.5Q478.5 730.0 475.0 755"/><path d="M484.0 706.0Q485.0 730.0 484.0 755"/><path d="M489.0 707.5Q491.5 730.0 493.0 755"/><path d="M494.0 709.0Q498.0 730.0 502.0 755"/><path d="M499.0 710.5Q504.5 730.0 511.0 755"/></g><path d="M412 730C428 724 446 728 458 734L458 755L406 755Z" fill="#d08cc4" opacity="0.45"/></g><path d="M566 619L588 619L588 660C580 650 572 635 566 619Z" fill="#f8f4f8"/><line x1="545" y1="744.5" x2="579" y2="744.5" stroke="#222" stroke-width="0.9"/><line x1="558.0" y1="742.9" x2="566.0" y2="742.9" stroke="#555" stroke-width="0.7"/></g></g><rect x="378.5" y="619.5" width="207.5" height="135" fill="none" stroke="#f25555" stroke-width="1.5"/>
<g clip-path="url(#c3)"><g filter="url(#soft)"><rect x="167.5" y="758.2" width="208" height="136.8" fill="#a64cc6"/><rect x="167.5" y="758.2" width="208" height="136.8" filter="url(#spk2)" opacity="0.6"/><rect x="167.5" y="758.2" width="208" height="136.8" filter="url(#spk)" opacity="0.9"/><path fill="#fdfcfe" stroke="#fdfcfe" stroke-width="4.8" stroke-linejoin="round" transform="scale(.5)" d="M580 1666l-4 8 3 11-13 12 0 3 2 2 13-4-1-12 18-11-16-9zM609 1695l11-2 1-2-9-14 11-13-5-7-6 1-9 17zM416 1684l0 2 2 4 10 1-6-10zM435 1708l2 1 6 0 2-11 11-5-3-9-1 0-8 11-10 2zM728 1548l-1 14 12-3 0-18zM755 1536l2 1 0-15-8 0-9 13 1 4zM588 1660l11 6 6-12-6-7-6 0zM539 1636l4 0 14 12 2-1 4-9-9-13-1 0-16-8-6 12zM515 1525l0 2-10 11 10 14 2 0 9-11 11 1 5-8-6-14 10-6 1-4-21 0zM712 1675l1-3 16-6 12 13 12-7-1-6-11-7 0-5-14-9-3 2-1 5-13 9-1 6-12 4-2 5 3 8zM359 1519l-6 5 0 7 5 3 7-9 14 7 3-1 0-3-12-11 2-7-14 0zM440 1552l-3 4 2 13 2 2 11-3-2-10zM660 1522l-10 8 0 2 7 4 9-5 0-2 13-17 11 1 3-2-31-1zM410 1579l19 15-10 19-15 2-1 6 12 12 15-7 10 18 10 2 3-10-17-11 7-18-13-12 4-17-2-2-22 1zM379 1514l12 11-1 7 4 2 7-7-1-5 8-12-9 0-5 4-13-4zM704 1690l6 11-9 16-14-2-3 4 7 8 12 2 3 9 13-1 2-8-5-9 4-7-2-13 1-1-6-14zM355 1543l-6-4-5 2 0 4 11-1zM377 1543l4 7 9 0 1-5 0-2-6-4-6 3-12-6-5 7zM454 1512l10 3 5-3-1-2-15 0zM384 1580l-4 5 7 13 9 1 6 8 12-1 5-9-16-13-2-8zM412 1554l-3-7 4-11-6-3-8 8 2 4-4 9 7 16zM526 1637l-7 5 2 7 5 2 6-10zM554 1742l2 9 3 2 6 19-4 7 0 4 7 2 13-10 11 6 4-10-7-7-9 2-13-15 1-7-11-4zM349 1653l3 10 7 0 0-12 10-6-4-7-15 3-3-2-2 0-8 12zM345 1666l-2-6-8-2-4 7-2 0 0 17 6-10 6 0zM448 1775l-5-3-6 3-3 8-10 4 0 2 8 6 4 0 10-8 6 9 7 0-4-8 5-4 1-13zM379 1645l5 11 13-2 5 5 9-5-1-13-13-13-8 4-15-7-2 8zM333 1514l-4 0 0 16 1 2-1 3 0 17 6-2 1-1-1-13 10-5 1-11 5-4-1-6-13 0zM740 1633l-3 0-3 6 15 10 1 5 6 3 1-1 0-22-6-9zM495 1759l4-3 2-12-4-1-8 11 3 4zM518 1753l-6-8-3 0-1 11 8 3zM521 1774l10 3 2-4-11-3zM545 1763l-2 6 11 4 1-2-3-12zM646 1574l19-7 1-7-6-2-5 5-16-3-1 5zM396 1686l11-4 1-5 16-8-9-7-9 5 0 5-14 11zM436 1686l2 0 6-8-2-3-12-4-2 1zM352 1794l2-2-1-2-12-7-2 0-4 10-6 3 23 0zM553 1793l0 3 29 0 5-9-5-2-12 10-16-7-1-7-12-4-4 6 1 5zM689 1736l-10 8 11 7 9-8-2-6zM717 1759l9-3 12 7 4-5-3-10-12 3-6-5-13 0zM674 1568l7 4 7-8-12-4zM704 1556l-2-20 5-2 17 7 7-5-6-5-14 2-5-13-7-2-3 2 5 20-2 1-4 17zM343 1631l6-1 2 2 12-3 6-16 20 9 5-3 2-7-4-5-10-1-9-16-9 1-1 1 1 21-16 7-11-4-6 9zM330 1560l0 1 5 9 7 1 5 14 10 1 3-4 13-1 3-5-5-8-15 0-2-14-11 0-3 4zM662 1674l7-1 11 20 9-7-4-10 5-12 11-4-7-12-6 14-17 3-5-7-7-1-8 9zM348 1611l7-3-1-14-9 0-2 2-2 12zM464 1721l0-1-15-4-2 1-12 2-6-4-6 3-3 7 2 4 13-3 7 5 9-4 2 1zM487 1559l-4-8 9-12-12-6-2-10-4-3-5 4-3 8 5 7 3 1 7 8-1 16zM638 1796l8 0-4-10-5 0-6-8-14 1-5-7-8 2-4 10 7 5-1 7 13 0 1-4 9-1zM486 1775l3 9-6 6 0 6 5 0 8-9 11 9 6 0-3-11-13 2-5-20zM729 1628l-16-3-3 10-11 6 8 12 9-6 1-6 8-4zM749 1755l8 0-1-11-9 3zM506 1525l-7-8-12 5 1 5 10 6zM378 1563l6 9 11-3-5-11-9 1zM689 1786l-3 6 5 3 7-1 2-3 14-5-4-10-8 1-3 7zM728 1795l4 0 8-11 16 6-1-8-17 0-17 5zM358 1763l-8 6-3 7 9 5 9-12 0-2zM589 1721l-8 4 2 12-6 5 0 6 6 8 4-1 5-9-4-8 5-12zM526 1665l11 9 7-7 0-3 6-11-10-7-10 16-12-4-7 5 5 6zM561 1655l-2 1-6 10 0 4-11 13 3 4-1 12 1 1 13-2 0-5 11-11-2-9 5-10zM513 1768l-10-4-3 1 4 12 8-1zM523 1796l13 0-6-2-1-8-11-4zM461 1753l-15 2 1 9 2 2 12-4 2-8zM430 1661l19 6 4 7 3 1 10-5 0-12 6-6 1-1-9-13-2 0-5 18-23-4-8-14-7 3 1 13zM668 1716l6 4-1 16 2 1 8-6-8-11 7-15 15 3 3-7-5-9-16 11-4-1-11-20-1 0-7 16 11 5zM664 1619l4 4 14-5 13 17 8-5 2-10 0-2-6-6 2-13-4-6-5 0-3 9-17 2zM461 1569l4 2 3 21 17-5 9 13 3-1 4-12-5-3-1-17-1-1-17 11-7-3 1-23-2-2-9 8zM681 1783l-5-5-5 8 0 2 3 2 3-1zM638 1525l-14 9 1 10 8 4 8-14-1-8 12-9 1-7-19 0zM553 1616l4-5 18 2 6-4-8-7-1-13-4-3-4 22-20-7-5 8zM566 1575l-5-5-6 1 1 6 9 3zM426 1519l1-1 0-8-9 0zM548 1735l7-6 16 6 2-1-2-9-10-8 0-8-1-3-12 3 0 11-4 3-2 11zM481 1597l-15 4 0 1 11 12 11-6zM503 1620l8-5 13 9 6-12-11-4-4-16-5-3-7 17-11 4zM751 1703l1 13-2 2 0 2 7 6 0-24zM399 1759l2-8-6-5-9 7zM440 1592l14 13-7 16 12 8 4-1 7-8-15-16 4-7-2-20-14 3zM581 1589l0 9 5 4 6-6-1-5-5-3zM578 1639l-6 2-4 8 10 8 2 0 6-15zM599 1639l8-12 11 2 1-10-8-7 0-5-1-2-13-3-6 7 10 10-9 19zM755 1574l-12-7-9 2 4 13 11 2 4 17 2 2 2 0 0-21-5-7 5-2 0-2zM469 1796l5 0 0-4-7-1zM621 1512l-7 7-1 5 2 4-10 13 12 9-2 7 9 16-2 4 8 6 8-4-10-12 2-11-12-7-2-19 13-9-2-7zM650 1784l4 9 9-5 0-1-9-7zM621 1648l9 12 8 1-4-17-9 1-6-7-8-1-5 6 5 7zM402 1729l-3 5 0 3 9 8 12-4 7 6 8-1 2-8-4-3-14 4-6-10zM482 1705l-8-8-9 4-3-1-9 4 0 4 13 4zM729 1595l1 6 8 6-2 16 1 0 15-10-8-6-3-15-6-1zM713 1616l14 2 1-7-6-5-2-10-10 5-2 8 4 4zM605 1527l0-8-9-7-5 3-3 0-7 8 2 5 6 2 5 8 2 0zM382 1694l1 12 3 2-4 17 10 2 5-7 15 0 5-10 8-3 0-6-8-1-4 9-20 4-2-19-5-3zM495 1552l2 5 7 3 2 18 2 2 4 0 11 6 3 15 6 2 5-9-9-6 0-15-9-5-4-7-5-1-11-14zM652 1553l5-5-10-6-6 9zM670 1550l2-9-1-1-13 7zM528 1738l-7 4 4 6 7-1 10 8 5-3-1-8zM495 1729l4 6 7 2 1-10-9-7zM430 1755l-1 7 4 4 6-2-2-10zM757 1773l0-9-9 0-4 5 0 4zM648 1744l3-11 14 0 0-8-1-1-12 5-1 1-18 7 5 12zM472 1690l2-8-4-4-8 4 3 10zM498 1640l-17 13 15 7 7-3 10-6-3-12 10-8-9-7-8 6-15-13-6 4zM406 1795l9-7 0-3-9-10-3 21 3 0zM420 1761l1-8-3-2-8 2-3 13 0 2zM687 1555l3-12-9 0-2 9zM478 1510l5 4 8-4zM510 1516l5-6-10 0zM329 1706l0 11 4 0 10 13 9-3 7 7 9-2 1-1-9-7-7 4-16-14 0-11zM340 1698l3-14-3-3-4 5zM654 1764l5-4-8-7-7 3zM641 1766l-3 7 4 5 2 0 5-6zM532 1682l-8-6-2 1 2 9zM755 1693l2-14-13 8-1 4 4 4zM338 1746l0-6-9 5 0 5zM527 1700l8-2 1-7-11 5 0 1-11 6-13-7-6 11 3 3 2 0 12 10 7-3 2-5 1 0zM366 1717l7 5 2-9-8 2zM476 1671l9 8-4 12 7 8 9-17 17 9 2 0-4-12-10-12-6 3-19-9-1 1zM565 1527l-1 7 2 2 9-6-4-8zM580 1510l-9 1 2 8zM598 1737l5 9-7 12 7 7 13-2 5 7 9 0 4-12-3-2-6-15-8 0-10-12-6 1zM753 1736l-12-12 0-4-14-1-1 1 4 8-3 12 2 2 13-3 1 0zM621 1712l2-4 17-2 2-4-10-7-3 0-4 6-16 3-2 3-10 4-1 3 4 6 11-1 10 12 4 0zM329 1735l5-2-5-7zM462 1744l5 3 5-14-5-5-12 9-4-1-6 3-2 8zM468 1765l3 3-2 15 7 1 3-3-3-8 9-11-4-4-10-3zM490 1738l-2-3-8 1-4 12 6 1zM355 1697l7-8-1-2-10 0-2 10zM658 1742l-1 3 12 11 0 3 7 6 8-7-13-8-1-5-3-3zM700 1767l11-1-9-13-7 6zM721 1777l14-4-1-2-9-6-8 4zM729 1709l13 2-1-9-3-4-10 5zM570 1632l7-3 8 3 5-11-4-4-8 6-17-2zM675 1639l11-1-7-10-8 3zM714 1589l-4-7-5 1-2 5 4 5zM346 1710l8 7 3-1 3-9 14-3-2-9-4-1-8 11-14 0zM433 1525l-3 4 9 8 4-4-3-7zM424 1537l-2 0-3 9 3 8-7 13 14 0-2-14 7-8zM641 1669l-11-1-7 10 6 8 2 0zM545 1545l2 3 13-6-2-3-9 0zM473 1721l5 6 8-2 4-10-2-2-16 6zM740 1519l-5-5-3 3-1 7 4 4zM748 1513l6 0 0-3-9 0zM753 1545l-5 1 0 13 5 3 4-5 0-10zM332 1605l2-8-5-2 0 8zM726 1693l9-3 1-5-10-9-6 3zM723 1517l-5-2-3 3 2 5 5-1zM375 1664l1-3-4-8-4 3 0 9zM655 1680l-7-5-9 14 9 6zM648 1711l3 8 8-3-1-7-7-4zM376 1736l4 11 11-9 0-2-14-3zM350 1678l9 0 1-6-8-1-3 5zM527 1757l-2 4 10 3 1-3-6-5zM407 1702l3-8-1-3-9 3 1 9zM540 1706l-1 0-6 1-2 6 9 3zM598 1793l-3-3-4 6 7 0zM526 1729l8 2 1-8-8-3-2 3-10 5 0 8zM397 1666l-3-3-10 2-3 7-12 2-2 8 2 3 7 2 7-4 0-4 14-11zM633 1727l10-4-3-8-9 1zM363 1788l0 1 11 3 7-5 14 4 1-12-16 5-9-7zM570 1710l0 3 6 5 11-5 1-8zM601 1699l-4-13-8 5 1 12zM454 1549l8-6-4-5-8 0-4 6zM410 1524l8 4 2-1 1-1-8-7zM479 1644l7-6-10-12-5 7zM685 1646l-10 1-2 6 2 3 7-2zM575 1566l0-7-3-2-4 7 3 4zM666 1778l4-6-6-4-5 4zM687 1777l5-1 1-3-4-7-7 5zM364 1559l7 0 2-4-1-3-10-1zM666 1649l2-5-4-8-6 5 2 8zM338 1588l0 0-3-8-2 0-4 3 0 2zM436 1516l6 1 3-3-1-3-8-1zM554 1520l-6 4 2 5 5 1 1-9 7-4-1-4-6-2zM675 1579l-6-4-5 3 5 7zM451 1529l6 0 2-6-9-3-1 2zM679 1535l11-1-2-11-5-1-7 10zM416 1773l5 6 5-3 1-3-3-4zM646 1658l6-7-2-7-8-2zM331 1645l5-7-7-3 0 8zM713 1556l6 4 1-11-8-3z"/><path fill="#9a44b8" d="M167.0 760.4a1.2 1.2 0 1 0 2.5 0a1.2 1.2 0 1 0 -2.5 0zM185.8 845.8a2.4 2.4 0 1 0 4.8 0a2.4 2.4 0 1 0 -4.8 0zM243.0 853.5a1.8 1.8 0 1 0 3.6 0a1.8 1.8 0 1 0 -3.6 0zM242.3 839.7a2.3 2.3 0 1 0 4.7 0a2.3 2.3 0 1 0 -4.7 0zM246.5 857.3a1.3 1.3 0 1 0 2.6 0a1.3 1.3 0 1 0 -2.6 0zM243.1 864.8a1.8 1.8 0 1 0 3.7 0a1.8 1.8 0 1 0 -3.7 0zM371.5 794.2a1.1 1.1 0 1 0 2.2 0a1.1 1.1 0 1 0 -2.2 0zM364.8 793.0a2.2 2.2 0 1 0 4.5 0a2.2 2.2 0 1 0 -4.5 0zM362.4 783.1a1.7 1.7 0 1 0 3.3 0a1.7 1.7 0 1 0 -3.3 0zM368.1 813.9a1.2 1.2 0 1 0 2.5 0a1.2 1.2 0 1 0 -2.5 0zM373.0 802.0a1.2 1.2 0 1 0 2.5 0a1.2 1.2 0 1 0 -2.5 0zM365.2 813.8a1.6 1.6 0 1 0 3.1 0a1.6 1.6 0 1 0 -3.1 0zM361.3 801.9a1.7 1.7 0 1 0 3.5 0a1.7 1.7 0 1 0 -3.5 0zM355.2 788.6a1.1 1.1 0 1 0 2.2 0a1.1 1.1 0 1 0 -2.2 0zM335.2 873.5a2.4 2.4 0 1 0 4.8 0a2.4 2.4 0 1 0 -4.8 0zM321.0 891.3a1.6 1.6 0 1 0 3.3 0a1.6 1.6 0 1 0 -3.3 0zM289.7 890.1a1.2 1.2 0 1 0 2.5 0a1.2 1.2 0 1 0 -2.5 0zM276.8 892.8a1.9 1.9 0 1 0 3.7 0a1.9 1.9 0 1 0 -3.7 0zM196.6 823.1a1.5 1.5 0 1 0 3.1 0a1.5 1.5 0 1 0 -3.1 0zM171.0 784.0a2.0 2.0 0 1 0 3.9 0a2.0 2.0 0 1 0 -3.9 0zM166.6 776.8a2.2 2.2 0 1 0 4.4 0a2.2 2.2 0 1 0 -4.4 0zM173.1 818.2a2.1 2.1 0 1 0 4.3 0a2.1 2.1 0 1 0 -4.3 0zM175.2 824.9a1.2 1.2 0 1 0 2.4 0a1.2 1.2 0 1 0 -2.4 0zM179.5 826.7a2.2 2.2 0 1 0 4.3 0a2.2 2.2 0 1 0 -4.3 0zM172.8 833.2a2.0 2.0 0 1 0 4.1 0a2.0 2.0 0 1 0 -4.1 0zM169.3 838.1a2.0 2.0 0 1 0 3.9 0a2.0 2.0 0 1 0 -3.9 0zM176.6 850.4a2.1 2.1 0 1 0 4.1 0a2.1 2.1 0 1 0 -4.1 0zM186.2 864.1a2.1 2.1 0 1 0 4.3 0a2.1 2.1 0 1 0 -4.3 0zM185.4 864.6a1.8 1.8 0 1 0 3.6 0a1.8 1.8 0 1 0 -3.6 0zM188.0 854.0a1.5 1.5 0 1 0 3.0 0a1.5 1.5 0 1 0 -3.0 0zM178.9 859.5a1.2 1.2 0 1 0 2.4 0a1.2 1.2 0 1 0 -2.4 0zM180.0 855.3a1.7 1.7 0 1 0 3.4 0a1.7 1.7 0 1 0 -3.4 0zM226.9 840.0a1.4 1.4 0 1 0 2.8 0a1.4 1.4 0 1 0 -2.8 0zM237.2 840.1a2.3 2.3 0 1 0 4.6 0a2.3 2.3 0 1 0 -4.6 0zM222.7 839.1a2.0 2.0 0 1 0 3.9 0a2.0 2.0 0 1 0 -3.9 0zM281.4 857.5a1.5 1.5 0 1 0 3.0 0a1.5 1.5 0 1 0 -3.0 0zM247.8 818.7a2.1 2.1 0 1 0 4.1 0a2.1 2.1 0 1 0 -4.1 0zM351.3 829.4a1.7 1.7 0 1 0 3.4 0a1.7 1.7 0 1 0 -3.4 0zM204.9 818.9a2.2 2.2 0 1 0 4.5 0a2.2 2.2 0 1 0 -4.5 0zM230.1 799.0a1.7 1.7 0 1 0 3.4 0a1.7 1.7 0 1 0 -3.4 0zM284.5 836.9a1.5 1.5 0 1 0 3.0 0a1.5 1.5 0 1 0 -3.0 0zM276.5 837.3a1.2 1.2 0 1 0 2.4 0a1.2 1.2 0 1 0 -2.4 0zM325.4 759.6a2.2 2.2 0 1 0 4.4 0a2.2 2.2 0 1 0 -4.4 0zM340.6 891.1a2.3 2.3 0 1 0 4.7 0a2.3 2.3 0 1 0 -4.7 0zM306.5 838.8a2.3 2.3 0 1 0 4.6 0a2.3 2.3 0 1 0 -4.6 0zM298.4 837.4a2.2 2.2 0 1 0 4.4 0a2.2 2.2 0 1 0 -4.4 0zM323.3 873.4a2.4 2.4 0 1 0 4.7 0a2.4 2.4 0 1 0 -4.7 0zM195.1 845.6a2.5 2.5 0 1 0 5.0 0a2.5 2.5 0 1 0 -5.0 0zM203.9 843.1a1.3 1.3 0 1 0 2.7 0a1.3 1.3 0 1 0 -2.7 0zM166.1 889.9a1.9 1.9 0 1 0 3.7 0a1.9 1.9 0 1 0 -3.7 0zM223.6 850.5a1.3 1.3 0 1 0 2.6 0a1.3 1.3 0 1 0 -2.6 0zM203.8 852.5a1.1 1.1 0 1 0 2.3 0a1.1 1.1 0 1 0 -2.3 0zM225.5 825.2a1.1 1.1 0 1 0 2.2 0a1.1 1.1 0 1 0 -2.2 0zM247.2 857.3a1.8 1.8 0 1 0 3.6 0a1.8 1.8 0 1 0 -3.6 0zM260.9 858.0a1.3 1.3 0 1 0 2.5 0a1.3 1.3 0 1 0 -2.5 0zM276.1 844.2a1.5 1.5 0 1 0 3.0 0a1.5 1.5 0 1 0 -3.0 0zM267.6 850.7a2.4 2.4 0 1 0 4.8 0a2.4 2.4 0 1 0 -4.8 0zM270.7 852.4a1.3 1.3 0 1 0 2.6 0a1.3 1.3 0 1 0 -2.6 0zM297.9 839.6a1.8 1.8 0 1 0 3.5 0a1.8 1.8 0 1 0 -3.5 0zM260.7 815.4a2.3 2.3 0 1 0 4.5 0a2.3 2.3 0 1 0 -4.5 0zM261.2 835.4a1.2 1.2 0 1 0 2.5 0a1.2 1.2 0 1 0 -2.5 0zM257.0 826.2a1.7 1.7 0 1 0 3.4 0a1.7 1.7 0 1 0 -3.4 0zM255.8 837.3a2.2 2.2 0 1 0 4.5 0a2.2 2.2 0 1 0 -4.5 0zM256.4 888.5a1.6 1.6 0 1 0 3.2 0a1.6 1.6 0 1 0 -3.2 0zM261.9 866.7a1.6 1.6 0 1 0 3.2 0a1.6 1.6 0 1 0 -3.2 0zM257.4 882.2a1.9 1.9 0 1 0 3.9 0a1.9 1.9 0 1 0 -3.9 0zM250.0 870.8a2.5 2.5 0 1 0 5.0 0a2.5 2.5 0 1 0 -5.0 0zM253.2 869.9a1.9 1.9 0 1 0 3.7 0a1.9 1.9 0 1 0 -3.7 0zM267.5 868.0a1.2 1.2 0 1 0 2.4 0a1.2 1.2 0 1 0 -2.4 0zM277.3 861.0a1.2 1.2 0 1 0 2.5 0a1.2 1.2 0 1 0 -2.5 0zM213.8 889.9a1.2 1.2 0 1 0 2.5 0a1.2 1.2 0 1 0 -2.5 0zM219.5 883.3a2.3 2.3 0 1 0 4.5 0a2.3 2.3 0 1 0 -4.5 0zM371.2 849.7a1.8 1.8 0 1 0 3.6 0a1.8 1.8 0 1 0 -3.6 0zM360.0 850.4a1.3 1.3 0 1 0 2.5 0a1.3 1.3 0 1 0 -2.5 0zM359.4 849.5a2.5 2.5 0 1 0 4.9 0a2.5 2.5 0 1 0 -4.9 0zM348.7 789.5a2.5 2.5 0 1 0 4.9 0a2.5 2.5 0 1 0 -4.9 0zM352.8 810.0a2.0 2.0 0 1 0 4.0 0a2.0 2.0 0 1 0 -4.0 0zM352.6 807.8a1.4 1.4 0 1 0 2.8 0a1.4 1.4 0 1 0 -2.8 0zM200.9 791.0a2.3 2.3 0 1 0 4.7 0a2.3 2.3 0 1 0 -4.7 0zM217.7 773.1a2.1 2.1 0 1 0 4.1 0a2.1 2.1 0 1 0 -4.1 0zM214.6 785.7a2.5 2.5 0 1 0 4.9 0a2.5 2.5 0 1 0 -4.9 0zM206.0 804.7a2.3 2.3 0 1 0 4.6 0a2.3 2.3 0 1 0 -4.6 0zM212.9 814.9a1.6 1.6 0 1 0 3.3 0a1.6 1.6 0 1 0 -3.3 0zM214.4 760.1a1.5 1.5 0 1 0 3.0 0a1.5 1.5 0 1 0 -3.0 0zM267.3 773.0a2.5 2.5 0 1 0 4.9 0a2.5 2.5 0 1 0 -4.9 0zM262.3 772.5a1.6 1.6 0 1 0 3.2 0a1.6 1.6 0 1 0 -3.2 0zM254.8 805.3a1.2 1.2 0 1 0 2.5 0a1.2 1.2 0 1 0 -2.5 0zM249.2 812.4a2.2 2.2 0 1 0 4.5 0a2.2 2.2 0 1 0 -4.5 0zM253.4 809.9a2.1 2.1 0 1 0 4.1 0a2.1 2.1 0 1 0 -4.1 0zM236.7 809.7a1.4 1.4 0 1 0 2.7 0a1.4 1.4 0 1 0 -2.7 0zM218.7 811.5a2.1 2.1 0 1 0 4.1 0a2.1 2.1 0 1 0 -4.1 0zM221.9 803.1a2.1 2.1 0 1 0 4.2 0a2.1 2.1 0 1 0 -4.2 0zM325.0 820.0a1.7 1.7 0 1 0 3.5 0a1.7 1.7 0 1 0 -3.5 0zM320.4 833.0a2.1 2.1 0 1 0 4.1 0a2.1 2.1 0 1 0 -4.1 0zM286.6 800.0a1.9 1.9 0 1 0 3.9 0a1.9 1.9 0 1 0 -3.9 0zM277.8 801.2a2.4 2.4 0 1 0 4.7 0a2.4 2.4 0 1 0 -4.7 0zM352.4 779.6a1.9 1.9 0 1 0 3.7 0a1.9 1.9 0 1 0 -3.7 0zM319.1 808.9a2.0 2.0 0 1 0 4.0 0a2.0 2.0 0 1 0 -4.0 0zM316.8 819.7a1.5 1.5 0 1 0 3.1 0a1.5 1.5 0 1 0 -3.1 0zM346.5 769.1a1.3 1.3 0 1 0 2.5 0a1.3 1.3 0 1 0 -2.5 0zM282.2 759.5a2.1 2.1 0 1 0 4.3 0a2.1 2.1 0 1 0 -4.3 0zM280.1 770.5a2.4 2.4 0 1 0 4.7 0a2.4 2.4 0 1 0 -4.7 0zM280.6 772.6a1.7 1.7 0 1 0 3.3 0a1.7 1.7 0 1 0 -3.3 0zM273.6 783.6a1.2 1.2 0 1 0 2.3 0a1.2 1.2 0 1 0 -2.3 0zM285.5 760.9a2.4 2.4 0 1 0 4.8 0a2.4 2.4 0 1 0 -4.8 0zM288.1 766.0a1.7 1.7 0 1 0 3.4 0a1.7 1.7 0 1 0 -3.4 0zM348.7 866.6a1.3 1.3 0 1 0 2.5 0a1.3 1.3 0 1 0 -2.5 0zM338.3 859.8a1.4 1.4 0 1 0 2.7 0a1.4 1.4 0 1 0 -2.7 0zM329.7 859.4a2.3 2.3 0 1 0 4.6 0a2.3 2.3 0 1 0 -4.6 0zM347.1 886.1a2.0 2.0 0 1 0 4.0 0a2.0 2.0 0 1 0 -4.0 0zM322.9 849.9a2.5 2.5 0 1 0 4.9 0a2.5 2.5 0 1 0 -4.9 0zM321.3 834.5a1.8 1.8 0 1 0 3.6 0a1.8 1.8 0 1 0 -3.6 0zM313.0 866.4a2.0 2.0 0 1 0 4.0 0a2.0 2.0 0 1 0 -4.0 0zM294.0 853.5a2.1 2.1 0 1 0 4.3 0a2.1 2.1 0 1 0 -4.3 0zM307.9 887.6a1.6 1.6 0 1 0 3.2 0a1.6 1.6 0 1 0 -3.2 0zM325.0 885.0a2.1 2.1 0 1 0 4.1 0a2.1 2.1 0 1 0 -4.1 0zM335.9 885.3a2.0 2.0 0 1 0 4.1 0a2.0 2.0 0 1 0 -4.1 0zM189.5 788.2a1.4 1.4 0 1 0 2.7 0a1.4 1.4 0 1 0 -2.7 0zM180.8 760.9a1.5 1.5 0 1 0 3.0 0a1.5 1.5 0 1 0 -3.0 0zM187.0 834.0a2.1 2.1 0 1 0 4.3 0a2.1 2.1 0 1 0 -4.3 0zM172.4 817.3a1.5 1.5 0 1 0 2.9 0a1.5 1.5 0 1 0 -2.9 0zM183.8 807.9a1.5 1.5 0 1 0 3.1 0a1.5 1.5 0 1 0 -3.1 0zM169.8 874.1a1.1 1.1 0 1 0 2.2 0a1.1 1.1 0 1 0 -2.2 0zM177.0 893.4a1.9 1.9 0 1 0 3.7 0a1.9 1.9 0 1 0 -3.7 0zM168.4 888.9a2.3 2.3 0 1 0 4.5 0a2.3 2.3 0 1 0 -4.5 0zM182.2 881.9a2.2 2.2 0 1 0 4.4 0a2.2 2.2 0 1 0 -4.4 0zM187.0 876.7a2.4 2.4 0 1 0 4.7 0a2.4 2.4 0 1 0 -4.7 0zM199.2 885.1a2.5 2.5 0 1 0 4.9 0a2.5 2.5 0 1 0 -4.9 0zM236.9 865.8a1.4 1.4 0 1 0 2.8 0a1.4 1.4 0 1 0 -2.8 0zM289.2 880.5a1.6 1.6 0 1 0 3.2 0a1.6 1.6 0 1 0 -3.2 0zM267.9 886.4a1.7 1.7 0 1 0 3.5 0a1.7 1.7 0 1 0 -3.5 0zM267.1 884.6a1.8 1.8 0 1 0 3.6 0a1.8 1.8 0 1 0 -3.6 0zM275.7 877.9a2.1 2.1 0 1 0 4.2 0a2.1 2.1 0 1 0 -4.2 0zM285.1 842.0a1.9 1.9 0 1 0 3.7 0a1.9 1.9 0 1 0 -3.7 0zM278.9 850.7a2.2 2.2 0 1 0 4.5 0a2.2 2.2 0 1 0 -4.5 0zM235.8 809.8a2.2 2.2 0 1 0 4.4 0a2.2 2.2 0 1 0 -4.4 0zM247.9 890.9a2.3 2.3 0 1 0 4.7 0a2.3 2.3 0 1 0 -4.7 0zM233.9 875.5a1.3 1.3 0 1 0 2.7 0a1.3 1.3 0 1 0 -2.7 0zM243.6 880.9a1.5 1.5 0 1 0 3.0 0a1.5 1.5 0 1 0 -3.0 0zM231.0 893.3a1.3 1.3 0 1 0 2.6 0a1.3 1.3 0 1 0 -2.6 0zM348.1 794.3a1.2 1.2 0 1 0 2.3 0a1.2 1.2 0 1 0 -2.3 0zM229.4 786.9a1.1 1.1 0 1 0 2.3 0a1.1 1.1 0 1 0 -2.3 0zM232.1 771.9a2.1 2.1 0 1 0 4.3 0a2.1 2.1 0 1 0 -4.3 0zM240.5 764.8a1.8 1.8 0 1 0 3.6 0a1.8 1.8 0 1 0 -3.6 0zM333.1 837.9a1.5 1.5 0 1 0 2.9 0a1.5 1.5 0 1 0 -2.9 0zM335.0 830.1a1.7 1.7 0 1 0 3.4 0a1.7 1.7 0 1 0 -3.4 0zM340.2 829.0a2.2 2.2 0 1 0 4.4 0a2.2 2.2 0 1 0 -4.4 0zM343.2 838.1a1.8 1.8 0 1 0 3.7 0a1.8 1.8 0 1 0 -3.7 0zM278.6 825.4a2.5 2.5 0 1 0 5.0 0a2.5 2.5 0 1 0 -5.0 0zM263.0 830.2a1.7 1.7 0 1 0 3.4 0a1.7 1.7 0 1 0 -3.4 0zM261.9 827.9a2.1 2.1 0 1 0 4.2 0a2.1 2.1 0 1 0 -4.2 0zM277.8 801.0a2.3 2.3 0 1 0 4.5 0a2.3 2.3 0 1 0 -4.5 0zM268.3 795.4a2.5 2.5 0 1 0 5.0 0a2.5 2.5 0 1 0 -5.0 0zM342.6 780.2a2.5 2.5 0 1 0 5.0 0a2.5 2.5 0 1 0 -5.0 0zM307.5 826.3a2.3 2.3 0 1 0 4.5 0a2.3 2.3 0 1 0 -4.5 0zM296.0 798.5a2.0 2.0 0 1 0 4.0 0a2.0 2.0 0 1 0 -4.0 0zM291.4 805.3a1.8 1.8 0 1 0 3.7 0a1.8 1.8 0 1 0 -3.7 0zM283.2 790.9a1.6 1.6 0 1 0 3.1 0a1.6 1.6 0 1 0 -3.1 0zM297.5 781.7a1.5 1.5 0 1 0 2.9 0a1.5 1.5 0 1 0 -2.9 0zM293.8 771.4a1.9 1.9 0 1 0 3.8 0a1.9 1.9 0 1 0 -3.8 0zM307.9 786.6a1.7 1.7 0 1 0 3.3 0a1.7 1.7 0 1 0 -3.3 0zM278.4 762.1a1.9 1.9 0 1 0 3.9 0a1.9 1.9 0 1 0 -3.9 0zM271.4 767.1a2.0 2.0 0 1 0 4.0 0a2.0 2.0 0 1 0 -4.0 0zM272.3 758.3a2.3 2.3 0 1 0 4.7 0a2.3 2.3 0 1 0 -4.7 0zM268.5 760.8a2.3 2.3 0 1 0 4.5 0a2.3 2.3 0 1 0 -4.5 0zM282.3 776.1a2.3 2.3 0 1 0 4.6 0a2.3 2.3 0 1 0 -4.6 0zM288.3 784.1a1.7 1.7 0 1 0 3.3 0a1.7 1.7 0 1 0 -3.3 0zM283.6 786.7a1.7 1.7 0 1 0 3.5 0a1.7 1.7 0 1 0 -3.5 0zM361.5 880.1a1.3 1.3 0 1 0 2.5 0a1.3 1.3 0 1 0 -2.5 0zM368.2 871.8a2.4 2.4 0 1 0 4.8 0a2.4 2.4 0 1 0 -4.8 0zM340.0 854.9a2.1 2.1 0 1 0 4.1 0a2.1 2.1 0 1 0 -4.1 0zM347.2 856.2a2.3 2.3 0 1 0 4.6 0a2.3 2.3 0 1 0 -4.6 0zM350.2 850.4a2.1 2.1 0 1 0 4.3 0a2.1 2.1 0 1 0 -4.3 0zM321.7 850.4a2.2 2.2 0 1 0 4.4 0a2.2 2.2 0 1 0 -4.4 0zM320.4 855.2a1.3 1.3 0 1 0 2.6 0a1.3 1.3 0 1 0 -2.6 0zM311.1 845.2a2.2 2.2 0 1 0 4.4 0a2.2 2.2 0 1 0 -4.4 0zM314.4 844.9a2.0 2.0 0 1 0 4.1 0a2.0 2.0 0 1 0 -4.1 0zM299.7 851.4a2.3 2.3 0 1 0 4.5 0a2.3 2.3 0 1 0 -4.5 0zM311.3 856.3a1.7 1.7 0 1 0 3.4 0a1.7 1.7 0 1 0 -3.4 0zM311.7 856.3a1.3 1.3 0 1 0 2.5 0a1.3 1.3 0 1 0 -2.5 0zM296.3 892.7a1.3 1.3 0 1 0 2.5 0a1.3 1.3 0 1 0 -2.5 0zM197.7 786.0a2.4 2.4 0 1 0 4.7 0a2.4 2.4 0 1 0 -4.7 0zM177.7 773.5a1.6 1.6 0 1 0 3.3 0a1.6 1.6 0 1 0 -3.3 0zM177.6 769.9a1.5 1.5 0 1 0 3.1 0a1.5 1.5 0 1 0 -3.1 0zM180.7 765.3a2.4 2.4 0 1 0 4.9 0a2.4 2.4 0 1 0 -4.9 0zM170.3 794.6a1.6 1.6 0 1 0 3.2 0a1.6 1.6 0 1 0 -3.2 0zM167.9 787.8a1.5 1.5 0 1 0 3.1 0a1.5 1.5 0 1 0 -3.1 0zM197.6 862.7a2.2 2.2 0 1 0 4.3 0a2.2 2.2 0 1 0 -4.3 0zM220.9 856.7a1.8 1.8 0 1 0 3.7 0a1.8 1.8 0 1 0 -3.7 0zM223.0 865.9a2.4 2.4 0 1 0 4.8 0a2.4 2.4 0 1 0 -4.8 0zM297.4 873.2a1.4 1.4 0 1 0 2.9 0a1.4 1.4 0 1 0 -2.9 0zM273.8 876.9a2.3 2.3 0 1 0 4.6 0a2.3 2.3 0 1 0 -4.6 0zM337.0 769.6a1.5 1.5 0 1 0 3.1 0a1.5 1.5 0 1 0 -3.1 0zM333.7 778.0a2.3 2.3 0 1 0 4.5 0a2.3 2.3 0 1 0 -4.5 0zM327.4 809.9a2.2 2.2 0 1 0 4.5 0a2.2 2.2 0 1 0 -4.5 0zM320.6 808.2a1.2 1.2 0 1 0 2.4 0a1.2 1.2 0 1 0 -2.4 0zM259.7 766.0a2.4 2.4 0 1 0 4.7 0a2.4 2.4 0 1 0 -4.7 0zM254.1 762.9a1.3 1.3 0 1 0 2.7 0a1.3 1.3 0 1 0 -2.7 0zM254.0 761.9a1.2 1.2 0 1 0 2.4 0a1.2 1.2 0 1 0 -2.4 0zM352.4 769.5a1.2 1.2 0 1 0 2.3 0a1.2 1.2 0 1 0 -2.3 0zM365.5 767.4a2.3 2.3 0 1 0 4.7 0a2.3 2.3 0 1 0 -4.7 0zM310.4 808.7a1.8 1.8 0 1 0 3.5 0a1.8 1.8 0 1 0 -3.5 0zM309.2 817.4a1.5 1.5 0 1 0 3.0 0a1.5 1.5 0 1 0 -3.0 0zM297.2 783.6a1.3 1.3 0 1 0 2.6 0a1.3 1.3 0 1 0 -2.6 0zM291.5 786.4a2.5 2.5 0 1 0 5.0 0a2.5 2.5 0 1 0 -5.0 0zM295.1 794.4a2.3 2.3 0 1 0 4.6 0a2.3 2.3 0 1 0 -4.6 0zM303.7 763.7a1.3 1.3 0 1 0 2.7 0a1.3 1.3 0 1 0 -2.7 0zM371.3 858.1a1.3 1.3 0 1 0 2.6 0a1.3 1.3 0 1 0 -2.6 0zM205.1 773.2a1.5 1.5 0 1 0 3.0 0a1.5 1.5 0 1 0 -3.0 0zM199.9 761.6a2.4 2.4 0 1 0 4.8 0a2.4 2.4 0 1 0 -4.8 0zM168.3 796.8a1.1 1.1 0 1 0 2.2 0a1.1 1.1 0 1 0 -2.2 0zM210.7 875.5a2.3 2.3 0 1 0 4.6 0a2.3 2.3 0 1 0 -4.6 0zM219.2 867.9a1.5 1.5 0 1 0 3.0 0a1.5 1.5 0 1 0 -3.0 0zM294.0 868.8a2.4 2.4 0 1 0 4.9 0a2.4 2.4 0 1 0 -4.9 0zM297.4 862.8a1.7 1.7 0 1 0 3.3 0a1.7 1.7 0 1 0 -3.3 0zM327.1 771.1a1.6 1.6 0 1 0 3.1 0a1.6 1.6 0 1 0 -3.1 0zM321.5 767.5a1.3 1.3 0 1 0 2.6 0a1.3 1.3 0 1 0 -2.6 0zM293.9 821.3a1.5 1.5 0 1 0 3.0 0a1.5 1.5 0 1 0 -3.0 0zM332.1 795.9a1.6 1.6 0 1 0 3.2 0a1.6 1.6 0 1 0 -3.2 0zM332.7 800.1a1.6 1.6 0 1 0 3.1 0a1.6 1.6 0 1 0 -3.1 0z"/><g><path d="M166.0 858.0C169.2 850.5 178.5 853.2 185.0 851.0C191.5 848.8 198.3 846.8 205.0 845.0C211.7 843.2 218.3 841.5 225.0 840.0C231.7 838.5 240.0 839.0 245.0 836.0C250.0 833.0 249.8 825.3 255.0 822.0C260.2 818.7 269.2 817.0 276.0 816.0C282.8 815.0 292.0 814.3 296.0 816.0C300.0 817.7 300.0 821.7 300.0 826.0C300.0 830.3 299.7 837.5 296.0 842.0C292.3 846.5 283.7 849.0 278.0 853.0C272.3 857.0 268.3 862.0 262.0 866.0C255.7 870.0 247.8 874.5 240.0 877.0C232.2 879.5 222.5 879.8 215.0 881.0C207.5 882.2 201.7 881.8 195.0 884.0C188.3 886.2 179.8 892.0 175.0 894.0C170.2 896.0 167.5 902.0 166.0 896.0C164.5 890.0 162.8 865.5 166.0 858.0Z" fill="#8c3aa6"/><path d="M166.0 858.0C169.2 850.5 178.5 853.2 185.0 851.0C191.5 848.8 198.3 846.8 205.0 845.0C211.7 843.2 218.3 841.5 225.0 840.0C231.7 838.5 240.0 839.0 245.0 836.0C250.0 833.0 249.8 825.3 255.0 822.0C260.2 818.7 269.2 817.0 276.0 816.0C282.8 815.0 292.0 814.3 296.0 816.0C300.0 817.7 300.0 821.7 300.0 826.0C300.0 830.3 299.7 837.5 296.0 842.0C292.3 846.5 283.7 849.0 278.0 853.0C272.3 857.0 268.3 862.0 262.0 866.0C255.7 870.0 247.8 874.5 240.0 877.0C232.2 879.5 222.5 879.8 215.0 881.0C207.5 882.2 201.7 881.8 195.0 884.0C188.3 886.2 179.8 892.0 175.0 894.0C170.2 896.0 167.5 902.0 166.0 896.0C164.5 890.0 162.8 865.5 166.0 858.0Z" fill="none" stroke="#a352b8" stroke-width="4" opacity="0.7"/><path d="M185.9 866.6C187.6 863.6 200.0 858.4 206.8 855.6C213.6 852.8 219.4 851.4 226.7 849.7C234.0 848.1 244.9 848.5 250.5 845.7C256.1 842.9 255.8 836.1 260.5 832.8C265.1 829.5 273.4 827.0 278.4 825.8C283.4 824.6 288.6 824.1 290.3 825.8C292.0 827.5 291.6 832.5 288.3 835.8C285.0 839.1 276.0 841.7 270.4 845.7C264.8 849.7 260.1 856.0 254.5 859.6C248.9 863.2 243.5 865.6 236.6 867.6C229.7 869.6 219.4 870.6 212.8 871.6C206.2 872.6 201.3 874.3 196.8 873.5C192.3 872.7 184.2 869.6 185.9 866.6Z" fill="#f7f3fa"/><path d="M256 846C262 836 272 830 286 829C282 836 272 842 258 850Z" fill="#d9c2e4"/><path d="M286 820C296 806 306 790 316 760L330 760C322 786 312 806 300 822Z" fill="#cf7cc4"/><path d="M296 792C326 786 354 790 378 794L378 806C354 802 326 800 298 804Z" fill="#d282bc"/><path d="M312 796C334 794 356 798 378 800" stroke="#e46a8a" stroke-width="1.6" fill="none"/><ellipse cx="191" cy="848" rx="6" ry="5" fill="#a24ea8"/><ellipse cx="191" cy="848" rx="3" ry="2.4" fill="#e06a80"/></g><line x1="334" y1="886" x2="366" y2="886" stroke="#222" stroke-width="0.9"/><line x1="346.0" y1="884.4" x2="354.0" y2="884.4" stroke="#555" stroke-width="0.7"/></g></g><rect x="167.5" y="758.2" width="208" height="136.8" fill="none" stroke="#f25555" stroke-width="1.5"/>
<g clip-path="url(#c4)"><g filter="url(#soft)"><rect x="378.5" y="759.8" width="207" height="135.2" fill="#d9789f"/><rect x="378.5" y="759.8" width="207" height="135.2" filter="url(#spk2)" opacity="0.6"/><rect x="378.5" y="759.8" width="207" height="135.2" filter="url(#spk)" opacity="0.55"/><path fill="#fdfcfd" stroke="#fdfcfd" stroke-width="4.0" stroke-linejoin="round" transform="scale(.5)" d="M905 1674l12-4 3 3 4-1 6-7 12 4 3-3-1-5 10-8-9 0-4-7-5 7-13-2-2 6-10 1-5 9zM922 1641l-4 1 3 6zM946 1636l-3-5-3 0-1 6 2 3zM966 1657l2-6-6 1zM819 1568l0-4-2-2 2-14-4-9-2 1 0 10-2 2 3 7-1 12zM907 1627l2 1 2-3-1-4-1-1-3 2zM879 1522l-8 2-2 5 0 1 12-4 8-4 8 3 1-1-2-5-2-1 0 1-14-2zM987 1527l8-2 8 12-3 9-1 1 3 11 1 0 9-10 7 1 12 5 0-9 6-3 1-4-2-1-12 2-3-12-3-1-7 2-7-5-2-8-2-1-12 5-2-5-10 0 4 7 0 1zM911 1651l4 0-4-7-4 2zM823 1582l1-3-3-4-5 3zM754 1698l9-12 5 4 9 1 1-2-6-8 1-3-3-8-4-2-3 12-10 2-2-3 0 16zM767 1657l-5-4-1-8-6 5 1 3 5 4 1 5 4 4zM763 1643l3-6-1-4-2-1-3 7 1 5zM751 1713l7 2 2-5-5-4zM1049 1729l2 5 2-1 4-8zM1067 1727l3-2-9-9 4-10 14 1 3 4 7-1-4-9-4 0-5-3-4-13 4-7 0-1-8-4-2-7-4-2-6 5 8 9 0 3-8 6 8 13-8 5-2 6 6 6-2 7zM1079 1731l2-3-4-4-6 2zM1126 1657l1-9-6-2-2 2 5 9zM1131 1676l-6 3 1 14-11 0-3 3 7 8 0 2 6 11 0 2 7 2 3-1-2-7 6-7 0-3 8-7 0 0-9-2-5-9 2-7 12-1 1-4-11 1-3-10-6-3zM981 1604l9-4 7 10 5-3-4-11 11-6 0-6-3-2 0-2-11-3-2-10-4 1-6-4-1 1-2 5 5 4-1 7 6 4 1 6-4 7-9 1zM1082 1694l7 0 7 16-1 3 2 4-3 7 3 3 7-10 13-1-5-10-6-7-4 0-6-13-2-1-4 1-9-3-2 3zM1074 1744l3 5-2 4 9 9-3-14 12-7-12-2zM1101 1746l7 0 5 6 8-3-1-4 4-7-4-4-8 4-7-11-4 6 0 3-5 6zM1109 1763l4 2 1-1-2-6zM1071 1771l1 2 5 3 2 0 5-9 12 3 2-4-5-3-9 1 0-1zM807 1565l-5 1 0 3 5 2zM788 1626l9-5-3-7 2-5-6-1-5-6-6 5-7-4-3 2 2 3-1 7 8-1 3 16-8 3 5 1 1-2 10 0zM800 1606l3-4-1-1-1 0-4 6zM1009 1515l1 4 2 1 3-1 0-5-4 0zM814 1703l4-3 0-6-5 8zM818 1692l6-3-1-4-4-1-1 1-5 0-1 3 6 5zM1016 1585l0 9-9 5 2 7-1 3 5 6 5-1 3-2 9 3 3-2 6 2 2-2-2-4-6 1-6-4 0-4-9-6 5-10-2-2zM1043 1687l-2-5-4-2-4 7zM1047 1694l7 4 1 0-6-8-3 0zM1119 1757l1 4 7 0-4-6zM1131 1763l9 5 1 3 6-1 1-4-8 1-4-6-5 1zM1175 1583l2-1 0-5-1 0-2 2zM954 1713l3 2 0-5-3-1zM957 1727l6 11 3 2-3 10 9 10-1 4-5 5 0 1 6 7 2 0 2 4 9 2 2-9 0-9-5-3 2-7-8-8 5-9-1-3-12 2-5-12-3-1zM990 1793l1 3 6 0-1-3-6-1zM990 1645l2 0 2-8 9-2 2-10 14 2 1-1 8 0 1-1 9-1-1-3-2 0-4 2-9-3-1 1-11 1-6-7-5 2-2 5-11-1-1 2 5 4 0 11-7 5-9-2-1 5 8 2 4 6zM875 1628l1-3-1-3-5 1-1 2zM1155 1534l2-5-5 1zM1167 1523l4-5-4-4-3 2 1 6zM1150 1715l1-3 14 3 3 14 2 5-3 11 6 3 2-12 2 0 0-12-2 1-7-12 6-7-10-10-10-4 0 7-8 7 0 2-6 7 1 2zM1150 1685l-1-1-9 0 2 4 9 2zM928 1690l-6 8 2 6-2 11 4 4 3-1 12 2 3 5 7-1 2-3-7-6 1-6-6-4-2-10-4-8-7 0-4-8-3 0 0 4zM775 1787l3-5-1-2 5-10-3-2-3 9-8 2-1 2zM859 1667l6 3 1-7-4 0zM847 1726l0 2 5 3 7-4 7 10 2-2-4-14 13-3 5 6 4-1-5-12 3-2-2-7-8 0-3-7-3-1-2 2-2 8-2 0-4 12-7 2-7-4-4 5zM895 1733l1-1 0-6-3 0zM770 1583l2-5 8-2 2-4-2-4 6-7-11 1-2-3-4 1-3 9-9-2-2 5 8 2 1 10zM803 1792l-6 1-2 3 15 0-1-9-3-2zM835 1792l-1-4-13 8 11 0zM832 1687l3 0 4 4 2 8 1 1 4-2-2-11 1-1-10-5-1-1-5-1zM884 1602l-4-7-3 6zM1158 1522l-1-5-4-2-6 5 1 4zM1036 1636l8 1 2 3 13 2-2 11 3 2 3-12 13 1-3-9 4-6-2-2-10 7-6-10-7 0-4-8-3 3 3 12-13 1zM1050 1608l-5-2 3 7zM861 1651l0 1 2 4 7 1 0-3-5-5zM872 1672l1 0 6-6-6-6zM792 1556l1 2 1 0 1-5 5-3-2-2-4 2zM1019 1556l-5-1-5 6 5 7-2 9 2 1 9-1 5 4 5-5-4-8 2-6zM1045 1555l6 5 2 0 2-10-10 5-6-7-2 1 0 8zM1062 1548l1-2-2-3-4 1-2 6zM1026 1594l7 4 1 4 1 1 4-1 5-5 11 5 1-5-2-3-7-1-2 3-11 0-6-6zM752 1528l3 1 3 6 2-6 5-3 0-2-1-2 0-8-3 4 1 7-11 2zM1126 1788l0 4 5 0 1-7-3 0zM933 1791l-1 0-3 2 1 3 3 0zM1106 1580l-1 7 7-2 11 9-5 10 3 3 3 7 3-1 1-12 7-1 8-8 8 4 6-3 0-2-5-8 7-8 0-4-5 0-3 7-8 1-5 11-11 0-12-20-1 0-4 9zM801 1592l7-1 3 7 5 1 5 9-1 7 4-5-1-9 10-4-13-6 0-1-13-8-1-3-4-2-3 10-1-1zM816 1618l-2 4 2 1 2-4-1-1zM829 1642l0-2-1-2-8 0-3-2-3 2 0 2 3 3zM816 1653l2 2 1 0-1-6zM947 1731l3 11-4 5 3 5 1 1 6-4 2-6-7-13zM1155 1666l-1 13 3 4 0 4 11 3 1 1 8-5 0-8-3-1 3-4 0-10-3-3 2-6-1-1-13 6-6-4-8 2-5-6-9 0-1 5 7 3 2 8zM832 1745l-6 2-4 9-8-3-2 2 3 5-5 6 4 2 2-3 8-2 2-9 7-3 5 4 5 0 1-5 6-2 1-2-10 1-3-8-4 1zM837 1626l-3 7 1 1 9-3 4 2 1 9 2 0 1-8 5-2 1-3-6-3-7 0-6-5-3 4zM860 1793l-5 0-1 3 7 0zM886 1663l4-3 6-2 6 2 3-5-5-8 0-1-3-2-10 6-5-4-5 7 0 3zM1082 1608l5 2 3-6-2-3-4-2-4 3zM1173 1552l-1-5-3-1-4 6zM952 1793l-1 3 5 0 2-3zM972 1792l3 4 1 0 7-5 0-1-11-3-2-3-8 4-1 2zM890 1542l-11 6-1 4 6 2 6-11 16 6 2 4 11-7 2 0 6-4-1-7 6-4-1-4-9 0-4-9-14 1 3 8-9 7-9-4-2 2zM1082 1648l0 6 12 8-12 13 0 1 8 3 4-1 7 3 5 11 6-6 7 0 0-10 5-3-2-10-2 0-10-17 7-5 0-5-5-1-2 10-15 1zM824 1780l-1 2 2 3 7-5zM837 1781l4-2 1-5-3-1-4 2-2 4zM917 1775l-3-1-7 8-6-1-2 1-1 5 10 3 1 2 4 1 3-3-4-5 6-9zM1063 1796l0-2-6 2zM1049 1796l-3-9-4 2 1 7zM953 1590l6 0 0-5-3-3zM962 1571l-2-5 9-11 9 3 2 0 0-3-10-6-1-3-9 8-10-2-2-8-2 0-4 4 1 3 6 1 8 14-13 7 0 1 12 3zM974 1535l6-1 2-2-5-4-4 5-2 0-4 6 2 5zM1160 1565l0-6-6 3 0 2zM825 1544l4-1 0-3-4-3-3 1zM842 1558l-2 9-14 0 0 2 7 8-4 9 10 4 2 4 5 0 1-1 1-8 17-7 3 4 5 1 3-7-9-4-2-6-12 0-6-11 0-2-4-5-6 1zM1034 1517l0 1 7 4-1 10 2 1 3-1 4-10 12 5 1-4-8-5 0-4-15 0zM752 1587l4-1-1-5-4-2 0 8zM1030 1668l-5-5-3 3 0 4zM1028 1653l-1-1-3 3 1 5zM802 1516l3-2-9 0-2 3 1 1 7 0zM868 1750l5 3 0 0 14 4 2 4 6 0 0-8 5-4 0-1-8-5 0-4-5-10-7 3-5-7-3 1 3 11-5 6-2 0zM992 1785l10 3 1 8 6 0 1-7 5-4 1-5-4-2-2-8-5 0-4 8-8 0zM867 1539l-5-6-5-1-2 2 7 11 0 3-7 6 3 5 13 0 2 7 13 6-7 14 1 1 1 1 7-4 2-5 11 0 2-8 3-1 2-7-2-3-2 0-3-5-8-3-5 10-18-4 2-14 10-5-1-5zM1074 1581l-1 4 4-1zM1086 1592l3 1 6-7 3 0 1-7-4-2-1-8-5 0 4 11-1 3-8 4zM1043 1771l6 6 3-1 9 1 4-3-2-5-9 3-7-5-4 2zM1073 1761l-6-7 2-5-1-4-3-1-4 7 5 4 0 11zM1028 1783l-5-2-1 1 0 3 3 4 4-4zM961 1704l6-3-4-5-5 3 0 4zM900 1694l2 6 5 0 3 2 6-1 0-1-9-4-1-3zM905 1634l-4 2 3 4 8-4zM913 1636l11-3 2 2 6-1 2-17-11 2-1-1-5 3 2 6-7 8zM762 1701l9 7-5 8 5 2 6-5 1 1 1-13 7-1 0-4-2-1-3 5-16-2zM788 1678l6 1 2-5 0-5-2 0-6 9-9-8 3 8-1 2 3 3zM1062 1579l2 6-4 6 3 4-2 12-3 2-2 5 1 3 6 0 4 6 7-5 7 4 3-6-7-2-6-14 8-6-1-2-10 1-4-8 3-7-3-1zM758 1598l2 0-2-4-2 1zM1131 1583l2 0 5-11 8 0 1-4-1-3 1-5-5-7 0-5-6 0-6-5-3 8-7 1-3 4-7 0-5 8-4 2 1 6 2 1 1 0 4-9 10-2zM1149 1543l2-4-4-3 0 8zM788 1751l3 1-2-7-2 0-2 3zM793 1771l-3 0-5 9 1 2-4 8 5 5 0 0 5-9 6-1 4-7 6 0 5 3 3-1 2-5-6 1-13-9 7-8-8-2-2 1zM828 1773l-2-3-5 1-1 2zM793 1578l1-3-6 0-1 3zM965 1520l0 3 4 2 4-3-4-7zM904 1774l8-8 7 2 3-4 0-6 6-7 11 5 3-2-3-8 4-6-2-6-6 6 1 5-6 6-11-3-3 10-3 6-11 2zM791 1687l-1 1 1 1 7-1zM804 1686l2-4-3-3-3 8zM1047 1565l-4-3-6 2-1 3 3 4 7-1zM964 1717l4 2 5 10 11-2 4 8 5 1 2-1 2-8 3-2 2-7-11-1-3-5-14 4-5-9-4 3zM825 1517l0 2 3 3 10-3 2 1 10-4-1-2-21 0zM787 1765l2-7-2 0-4 4zM800 1525l-7 0-1 2 3 4 5 1zM1060 1514l5 3 2-1 0-2-7 0zM945 1691l2 10 4 2 0-8 7-4-5-6 4-13-1 1-6-2-6 6-12-4-2 3 2 4 7 1zM967 1672l2-5-3-2-9 7zM1164 1758l4 0 1-5-5-3-2 1zM795 1658l0 2 5 2 1-1 1-4-4-2-1 0zM1016 1766l2 8 1 1 5-1 6 2 6-5 0-5 1-3 10-3 8 5 4-2 0-5-7-5 6-11-3-3-9 2-3-12-7-3-12 6 9 5 0 10 4 4-12 14-8-1zM939 1530l5 1 3 5 4 1 0-8 7-5 0-2-5 0-4 6-11-3zM956 1545l2 1 3-3-1-2-6-2zM766 1746l-2 5-11 6-2-1 0 20 2 1-1 13 2 1 9-18 7-2 2-6-5-5-1-3 5-8-3-4zM1157 1734l-6 4-7-3-8 6-4-2-1 1-3 6 0 4 3 4 8-1 4 7 2-1 0-6 16-9 2-10-1 0-3-13-3-1zM947 1767l2-3-2-5-4 3-1 5zM1074 1668l3 2 7-7-8-5-1-7-6 0-2 8 5 3zM822 1708l-7 4-4-1-2 2 1 2 9-3 3 3 5 2-5-5 1-4zM892 1719l5 0-4-6-4 0zM903 1736l-5 3 9 6 0 8-5 3 0 3 6-1 6-18 14 4 1-1-1-6 10-9-1-2-7-1-5 2-10-10 2-8-5 0 0 9-3 5-6 0zM813 1729l0 12 2 4 3 1 0-1-4-4 1-18-4 1-1 2zM1040 1668l-3 2 1 3 8 3 3 7 1 0 6-4-8-10zM1056 1661l-4-3-1 0-1 8zM1127 1514l4 3 4-2-1-1zM795 1741l2 7 3-4-4-4zM952 1665l3 0 6-4-3-3-6 5zM1053 1531l-3 7-6 2-1 3 4 3 2-1 2-6 8-3 1-2zM1070 1529l4-4-1-2-2-1-2 1-1 6zM1004 1731l-1 5 5 4 3-1 2-6zM1161 1584l1 2 6-1-1-4-3 0zM862 1775l-5 11 3 1 7-8 1 1 4-6-4-16-6-4-1 12-13 1-4-5-3 0 1 5 6 1 0 2zM861 1746l-3 1-1 3 4 2zM884 1774l3-2 9 3 1 0-2-8-8 1-9 4zM1161 1638l2 5-2 7 2 1 14-6 0-20-4 0-2-2-8 9zM862 1622l1-2-1-2-4 2zM863 1638l-4 2 0 4 7-3 7 6 4-7-1-2-10-7zM889 1630l-1-3-6 1-2 6zM1127 1625l3 1 10-11-5-8-1 0-1 10-8 4zM1150 1629l-2 5 7 1 3-8 2-1 6-6-6-2-4 7-13-7-1 1zM1174 1617l3 2 0-5-2 1zM994 1762l9-17-5-3-4 2-7-2-2 4 7 6-1 7 3 2 1 10 2 0 1-3zM766 1548l0 4 0 1 5-1-3-5zM753 1642l-1-3 6-15-4-4-1 1 0 7-2 2 0 13zM1001 1571l5 2 1-3-4-6-4 1zM1076 1793l6-4-1-7-5 2-7-4-3 3 0 4 5 3 0 6 4 0zM1100 1781l1 3 4 4 1 0 5-9 10 3 2-2-2-5 3-7-4 0-4 8-11-8-4 11-14-3-2 4zM1102 1515l2 3 8 2 2-5 3-1-14 0zM862 1587l-7 3 0 2 5 2zM1174 1540l2-2-1-4-3-1-1 6zM1160 1775l-3-7-2 1-1 3 4 6 0 0zM871 1688l5 1 2 5 10 0 3 11 5 0-7-16 19-5 1 1 5-3 0-3-9 4-8-5 1-11-3-1-1 0-5 4-3 0-11 10-5-1zM904 1716l1 0 0-8-7-1zM1082 1636l1 5 9-2 13 0 4-21 8-2-2-5-4-3-15 0-4 8-1 0-4 14-2 1zM1114 1596l-4-3-1 0 1 10zM764 1788l-4 8 0 0 6 0 4-4zM809 1695l-3-3-2 1 0 5 3 1zM796 1569l0-4-3 0-3 4zM848 1619l2 0 1-3 14-8 4 8 3 0-4-9 2-3-6-3-2 8-10 1 0 2-9 3zM899 1592l5 2 3 9 5-2 3-7 6-1-1-12 9-3 7 4 2-5-4-7 13-7-3-5-3 0-3 3-14-1-4-7-7 5 2 4-3 12-3 2-2 10-12 0zM1010 1633l-1 8-10 2-1 3 6 5-3 9 5 7 0 5-9 4 4 7 5-2 1-7 9-3-1-7 3-4-1-4-12-3 3-12 9-2 0-5zM811 1647l-2-2-4 2-2 3 3 1 3-1zM1095 1601l8 0-1-8-3 0-5 5zM936 1610l2 1 4-1 6 1 8-6 5 2 4-11-16 3-2-6-9-3-1 1-9-6-1 0 1 10-3 3-5 2-2 3 7 6 0 2zM966 1595l17-3 1-3-4-2-6 2-4-3-4 0 0 10zM1008 1725l6 1-1-11 6-5-2-3-5-3zM1035 1718l6-9 7-1 1-4-8-5-2-4-5-1 4 12-9 6zM934 1542l3 1 3-4-1-2-3-1-2 2zM866 1791l3 5 6 0-3-2-1-5-2-2zM1101 1558l5-8 8-1 2-3 6-1 3-8 4-1 3-6 10-2-2-8-9 5-9-6-3 1-4 7-12-2-1 1-1 6 6 7-2 6-9 5zM979 1658l-2-4-3 0-2 7 2 1zM944 1624l3-2-1-4-4-1-1 7zM1166 1771l11-5 0-12-1 0-2 9-10 2zM833 1732l5 0 1-3-4-4-1 0-2 6zM959 1770l0 0-5-2-1 3 1 3zM1093 1735l1-2-7-5-1 5zM1089 1717l-6 0-1 3 4 4zM825 1559l9 0-4-8-4 1zM969 1692l5 8 0 1 4 7 10-3 0-2 9-6-1-3-14-1-2-6-6-1zM794 1646l1 2 2 0 1-4-3-6zM928 1645l4 1 3-3-1-2-6 0zM783 1640l0 4 4 0 1-5zM777 1549l3-5-5 1zM788 1541l3 3 5-3 1-2-7-2-4-6-2 10zM1083 1550l4-2-4-6-2 1-2 3 2 4zM1151 1649l3-1 2-5-1-2-6 0-1 5zM970 1680l-8-1-1 4 3 3zM985 1680l2 6 8 0-8-13 11-5-3-4-7 2-3-3-9 7-4 9zM851 1522l-8 3 1 6-8 9 0 2 10-1 6 6 3-2-8-12 6-5zM812 1676l0 1 3 0 0-4zM967 1644l1-7 6-3 7 2 2-2 0-4-6-4 4-12 11 0-4-6-10 5-7-13-7 14-7-2-5 4 3 8-6 5 5 9-7 6 2 2 10 0 0 0zM812 1611l1-1-2-4-2 0-2 3zM752 1515l-1 0 0 4 3 0-1-3 2-2-2 0zM859 1526l3 0 2-4-3-4-5 0zM1022 1520l1 1 4-3 0-2-3-2-1 0zM878 1790l5 2 6-3 2-1 1-7-4-1-3 1-8-2-2 4 3 3zM806 1533l4 1 3-1-1-6-5-2zM762 1725l8 5 0 8 9-7 7 7 3-1 1-1-4-5-1 0-8-7-4 3-11-4zM1015 1756l7 1 5-6-2-1 1-9-6-3-4 8-6 1-3 5zM841 1644l0-3-4 1 0 1zM848 1652l5-2-5 0zM841 1662l1 2 3 0-1-4zM1174 1775l-7 3-3 5-2 1 1 8 3 1 5-4 0-4 2-2zM1029 1722l-6-6-3 3 1 7zM1042 1721l4 2 7-4-4-3-4 0zM1023 1643l-9 3-1 2 6 2 9-9 7 11 4-2 1-6-10 0-2-11-4 0zM1032 1660l3 4 0-1 0-8zM782 1653l3 5-2 5 3 2 2-3-1-4 3-6-1-1-6 0zM1005 1700l4-2 2-7-4-3-4 1-1 2 2 9-10 7 1 4 8 0zM877 1765l5-3-7-2zM765 1591l2 6 2-1 1-5zM1119 1789l-4-1-4 8-5 0 5 0 1-1 7 1zM1142 1795l0-6-3-1-1 8zM807 1752l2-4-1-2-2 0-3 5zM761 1616l1-6-2-3-3-1-2 2 3 5zM853 1697l5 1 1-3-6-5zM1169 1600l5 8 3-1 0-6-5-2-2-8-6 2-1 1zM969 1568l3 1 2-4-3-1-2 3zM1019 1689l-3 10 3 1 7-9-4-1-4-13-5 2-1 4zM1173 1696l4 4 0-6zM1067 1554l-6 2-2 10-5 1-3 9-11 2 0 1-6 6 3 4 4-1 3-3 10 2 2-3-2-7 6-8 4 0 4-12 13 6-1-6-5-2-2-6-4 0zM1079 1576l4 3 2-1-3-6zM823 1631l4 0 2-5-5-2-3 6zM987 1551l0 7 4 2 4 0-4-16 3-2 1-4-3-5-3 1-4 7-6 1-2 3zM1124 1640l4 1 2-6-1-3-4-1-2 3zM758 1674l1-5-1-2-6 3-1 0 5 4zM1080 1524l3 1 1-1 0-6-4 3zM878 1613l5-4-7-1zM774 1661l2 0 0-2-1-3zM926 1551l2 3 7 0 1-1-1-3-4-2zM1173 1796l4 0 0-3zM775 1742l2 4 2 0 2-3-3-3zM751 1721l0 9 1 0 10 7 0-3-8-5 1-7zM1090 1756l2 0 3-5-1-2-5 2zM1073 1515l2 1 3-2-5 0zM823 1725l0 13 1 1 2-1 1-1-4-5 2-6zM1038 1784l5-3-4-4-4 4 0 2zM1069 1739l1 0 5-4-5-2zM776 1596l2 1 5-5-2-8-2 1zM1154 1616l1-2-1-2-5-4-2-6-3-1-3 3 4 8zM914 1607l-4 2 1 5 2 1 6-3zM819 1527l1 3 5-1-4-4zM833 1533l4-4-1-2-8 2zM781 1520l4 4 3-3-1-3-5-3zM838 1610l9-4 1-2 8-1 1-3-5-2-3 3-9 0-1 2-7 3 0 3 5 2zM881 1621l12-2 3 11 1 1 3-3-2-9 7-4-1-6-2-2-3-8-1 0-7 5-1 2 2 4-12 9zM826 1697l0 3 6 4 0 5 3 4 3-5-5-4-2-8-2-1zM835 1767l-1-6-2-2-1 6 2 3zM795 1696l0 10-8 2 0 3 5 2 3-5 7 1 2-3-6-3-1-7zM831 1620l3-3-4-2-3 3zM752 1748l6-2 0-2-7-6 0 8zM803 1543l4 4 0 0 0-7-3-1zM824 1660l-4 2-1 4 2 1 1 0 3-4zM842 1787l0 2 7 1 0-1 0-3 3-7-3-1-2 6zM932 1519l0-2-5-3-2 0 0 1 2 4zM888 1642l6-4 0-1-1-1-8 4zM1141 1644l0-5-5 0-2 5zM772 1623l-6 1 0 2 2 1 4-2zM1139 1541l1 0 0-6-4 1-1 2zM755 1661l-3-2-1 0 0 4zM861 1676l-7-4-2 10zM1149 1784l1 12 4 0 2-2-1-10-2 0-5-7-7 1-1 2zM1177 1528l0-6 0 0-4 5zM800 1728l-6-3-2 2 3 4zM1022 1795l-5-4-1 1 0 4zM1095 1796l3 0 2-4-2-1zM1093 1544l6-3-2-4-8 1zM1135 1773l-4-2-2 4 1 3 3 0 2-4zM933 1780l1 4 3 1 6-4 7 5 5 0-2-5-3-1-3-6-9 0zM1115 1729l2-1 2-5-8 1zM926 1769l-2 3 0 2 4 1 3-3zM1152 1549l-3 1 0 1 3 4 6-2zM776 1759l5-5-1-2-2 0-4 5zM1079 1536l4-1-1-4-4-1-2 2zM846 1677l1-5-5 0-1 3zM804 1722l0-1-2-5-4 0-1 2zM1157 1606l5-4-3-3-5 3 1 2zM1166 1574l3 1 2-2-1-3-5-1zM1096 1518l-6 0 1 8-3 3 1 2 6-1 0-6 2-3zM852 1710l3-6-4-1-5 4zM939 1519l7 1 1-3-1-2-4-1-2 2zM960 1782l5-3-3-3-3 2zM873 1590l-4-1-2 6 4 3 3-7zM1066 1538l2 4 5 0 1-1-5-5-2-1zM1162 1612l7 2 0-1-3-5-5 3zM1139 1730l-1-4-5 2-8-1 0 2 4 3 4-1 2 1zM1146 1728l4 2-1-8-5 1zM1152 1757l1 5 4-1-1-6zM1102 1761l5-7-2-1-3 0-4 5zM1034 1531l0-5-3-2-4 2 2 6zM1095 1561l-5-7-3 2 1 6zM922 1788l2 0 4-2-2-5-3-1-3 5zM1025 1707l5-3-2-5-4 6zM1135 1631l7 1 0-2-3-4-4 4zM843 1735l2 5 4-1 0-3-5-2zM762 1557l-1-1-5 1-1 2 6 2zM821 1789l-3-3-2 1 0 5zM1118 1629l3-2-2-4-4 1-1 5zM1165 1537l1-7-2-1-2 7zM814 1521l4-3 0-1-4-2-4 4zM1032 1675l-7 2 2 6zM953 1515l6 1 2-2-8 0zM1059 1787l0-3-7-1 2 7zM895 1794l0 2 7 0zM805 1636l-3 1 2 4 3-1 0-3zM1167 1563l4 1 4-6-9 1zM855 1756l-2-2-3 1 0 3 1 2 4 0zM1064 1732l-3-1-2 4 4 3zM839 1655l2-2 0-2-5-1-1 3zM1076 1718l1-3-1-2-7 0 0 1 4 5zM772 1527l1 1 7-1-3-3-5 1zM961 1763l2-2-5-5-3 2 1 3zM940 1791l0 5 5 0 0-4-2-2zM1072 1567l-1 5 1 1 4-4zM863 1690l1-1-1-7-5 4zM928 1760l1 3 6 4 1-5-7-3zM785 1554l2-5-1-1-5 7zM778 1538l1-5-4 1-1 4zM771 1519l4-1 1-3-5-1zM806 1740l-1-8 0 0-5 4zM866 1514l3 3 4-1 1-2zM857 1735l-2 2 0 4 5-2zM967 1575l-4 5 1 1 5-1 0-5zM890 1590l-4 2 3 5 4-3zM1048 1652l2 0 1-4-5-1-1 4zM1036 1795l-1-5-1-1-4 5zM1088 1790l2 1 3-4-5 0zM918 1693l2-2-3-3-4 2zM962 1529l-4 4 0 1 3 1 3-5zM1042 1662l3 0 0-5-3-1-1 0zM995 1657l2-4-3-2-4 7zM1162 1543l-4-2-2 3 4 3zM807 1559l-2-5-4 3 0 3zM949 1582l-5-1-2 4 5 1zM1002 1761l2 3 6-1 0-1-7-3z"/><path fill="#d0709a" d="M555.1 837.2a0.9 0.9 0 1 0 1.9 0a0.9 0.9 0 1 0 -1.9 0zM451.8 786.8a1.1 1.1 0 1 0 2.2 0a1.1 1.1 0 1 0 -2.2 0zM583.0 847.7a1.1 1.1 0 1 0 2.2 0a1.1 1.1 0 1 0 -2.2 0zM526.9 875.9a1.4 1.4 0 1 0 2.8 0a1.4 1.4 0 1 0 -2.8 0zM529.9 878.4a1.4 1.4 0 1 0 2.8 0a1.4 1.4 0 1 0 -2.8 0zM377.6 760.8a1.1 1.1 0 1 0 2.1 0a1.1 1.1 0 1 0 -2.1 0zM484.4 850.4a1.0 1.0 0 1 0 2.0 0a1.0 1.0 0 1 0 -2.0 0zM424.8 867.4a1.1 1.1 0 1 0 2.2 0a1.1 1.1 0 1 0 -2.2 0zM420.4 871.6a1.3 1.3 0 1 0 2.6 0a1.3 1.3 0 1 0 -2.6 0zM382.4 804.5a0.8 0.8 0 1 0 1.5 0a0.8 0.8 0 1 0 -1.5 0zM493.3 893.7a0.7 0.7 0 1 0 1.4 0a0.7 0.7 0 1 0 -1.4 0zM500.8 889.7a1.4 1.4 0 1 0 2.8 0a1.4 1.4 0 1 0 -2.8 0zM504.7 883.1a1.4 1.4 0 1 0 2.9 0a1.4 1.4 0 1 0 -2.9 0zM505.9 880.3a1.4 1.4 0 1 0 2.9 0a1.4 1.4 0 1 0 -2.9 0zM579.8 827.4a1.4 1.4 0 1 0 2.7 0a1.4 1.4 0 1 0 -2.7 0zM568.2 835.2a1.5 1.5 0 1 0 3.0 0a1.5 1.5 0 1 0 -3.0 0zM580.1 858.8a1.0 1.0 0 1 0 2.0 0a1.0 1.0 0 1 0 -2.0 0zM513.9 845.3a0.7 0.7 0 1 0 1.4 0a0.7 0.7 0 1 0 -1.4 0zM483.8 851.1a1.5 1.5 0 1 0 3.1 0a1.5 1.5 0 1 0 -3.1 0zM479.6 854.0a1.0 1.0 0 1 0 2.0 0a1.0 1.0 0 1 0 -2.0 0zM428.3 863.7a1.1 1.1 0 1 0 2.3 0a1.1 1.1 0 1 0 -2.3 0zM425.9 871.9a1.5 1.5 0 1 0 2.9 0a1.5 1.5 0 1 0 -2.9 0zM410.4 781.7a1.0 1.0 0 1 0 1.9 0a1.0 1.0 0 1 0 -1.9 0zM583.3 763.6a0.7 0.7 0 1 0 1.5 0a0.7 0.7 0 1 0 -1.5 0zM485.3 841.2a0.9 0.9 0 1 0 1.8 0a0.9 0.9 0 1 0 -1.8 0zM473.7 818.7a1.4 1.4 0 1 0 2.8 0a1.4 1.4 0 1 0 -2.8 0zM490.2 829.7a1.5 1.5 0 1 0 2.9 0a1.5 1.5 0 1 0 -2.9 0zM523.5 890.7a0.7 0.7 0 1 0 1.3 0a0.7 0.7 0 1 0 -1.3 0zM578.0 818.9a0.8 0.8 0 1 0 1.5 0a0.8 0.8 0 1 0 -1.5 0zM578.7 821.5a1.2 1.2 0 1 0 2.3 0a1.2 1.2 0 1 0 -2.3 0zM581.3 839.1a1.2 1.2 0 1 0 2.4 0a1.2 1.2 0 1 0 -2.4 0zM577.5 834.4a1.5 1.5 0 1 0 2.9 0a1.5 1.5 0 1 0 -2.9 0zM579.4 880.9a1.1 1.1 0 1 0 2.2 0a1.1 1.1 0 1 0 -2.2 0zM581.9 865.7a0.8 0.8 0 1 0 1.6 0a0.8 0.8 0 1 0 -1.6 0zM573.3 881.5a1.2 1.2 0 1 0 2.4 0a1.2 1.2 0 1 0 -2.4 0zM574.2 866.9a1.1 1.1 0 1 0 2.3 0a1.1 1.1 0 1 0 -2.3 0zM502.1 857.2a1.0 1.0 0 1 0 2.1 0a1.0 1.0 0 1 0 -2.1 0zM502.6 851.0a1.2 1.2 0 1 0 2.4 0a1.2 1.2 0 1 0 -2.4 0zM507.6 865.4a1.2 1.2 0 1 0 2.3 0a1.2 1.2 0 1 0 -2.3 0zM513.1 846.1a1.4 1.4 0 1 0 2.8 0a1.4 1.4 0 1 0 -2.8 0zM549.0 888.8a1.1 1.1 0 1 0 2.3 0a1.1 1.1 0 1 0 -2.3 0zM552.2 860.3a0.7 0.7 0 1 0 1.4 0a0.7 0.7 0 1 0 -1.4 0zM384.7 770.7a0.7 0.7 0 1 0 1.5 0a0.7 0.7 0 1 0 -1.5 0zM450.7 875.5a0.9 0.9 0 1 0 1.8 0a0.9 0.9 0 1 0 -1.8 0zM443.3 846.8a0.9 0.9 0 1 0 1.8 0a0.9 0.9 0 1 0 -1.8 0zM403.3 860.3a0.8 0.8 0 1 0 1.6 0a0.8 0.8 0 1 0 -1.6 0zM409.3 875.5a0.8 0.8 0 1 0 1.6 0a0.8 0.8 0 1 0 -1.6 0zM393.6 883.8a1.2 1.2 0 1 0 2.5 0a1.2 1.2 0 1 0 -2.5 0zM412.4 882.9a1.0 1.0 0 1 0 2.0 0a1.0 1.0 0 1 0 -2.0 0zM435.2 878.5a1.1 1.1 0 1 0 2.2 0a1.1 1.1 0 1 0 -2.2 0zM399.6 837.4a1.0 1.0 0 1 0 1.9 0a1.0 1.0 0 1 0 -1.9 0zM393.4 837.1a0.9 0.9 0 1 0 1.9 0a0.9 0.9 0 1 0 -1.9 0zM407.2 767.6a1.0 1.0 0 1 0 2.1 0a1.0 1.0 0 1 0 -2.1 0zM430.2 789.5a1.4 1.4 0 1 0 2.8 0a1.4 1.4 0 1 0 -2.8 0zM394.0 774.0a1.4 1.4 0 1 0 2.7 0a1.4 1.4 0 1 0 -2.7 0zM392.6 778.4a1.2 1.2 0 1 0 2.5 0a1.2 1.2 0 1 0 -2.5 0zM394.9 780.7a1.0 1.0 0 1 0 1.9 0a1.0 1.0 0 1 0 -1.9 0zM397.5 780.8a1.1 1.1 0 1 0 2.2 0a1.1 1.1 0 1 0 -2.2 0zM403.9 780.4a1.2 1.2 0 1 0 2.4 0a1.2 1.2 0 1 0 -2.4 0zM582.2 770.8a1.5 1.5 0 1 0 3.1 0a1.5 1.5 0 1 0 -3.1 0zM546.1 821.3a1.0 1.0 0 1 0 2.1 0a1.0 1.0 0 1 0 -2.1 0zM552.1 828.3a0.7 0.7 0 1 0 1.4 0a0.7 0.7 0 1 0 -1.4 0zM471.2 814.0a1.4 1.4 0 1 0 2.9 0a1.4 1.4 0 1 0 -2.9 0zM453.7 794.0a0.8 0.8 0 1 0 1.6 0a0.8 0.8 0 1 0 -1.6 0zM470.5 821.5a1.0 1.0 0 1 0 1.9 0a1.0 1.0 0 1 0 -1.9 0zM478.5 824.9a0.7 0.7 0 1 0 1.3 0a0.7 0.7 0 1 0 -1.3 0zM465.8 824.8a1.2 1.2 0 1 0 2.5 0a1.2 1.2 0 1 0 -2.5 0zM530.4 894.8a1.1 1.1 0 1 0 2.2 0a1.1 1.1 0 1 0 -2.2 0zM523.4 890.7a0.7 0.7 0 1 0 1.4 0a0.7 0.7 0 1 0 -1.4 0zM494.8 887.6a0.7 0.7 0 1 0 1.4 0a0.7 0.7 0 1 0 -1.4 0zM571.3 823.6a1.0 1.0 0 1 0 1.9 0a1.0 1.0 0 1 0 -1.9 0zM575.0 882.7a0.7 0.7 0 1 0 1.3 0a0.7 0.7 0 1 0 -1.3 0zM577.8 874.8a1.2 1.2 0 1 0 2.4 0a1.2 1.2 0 1 0 -2.4 0zM582.2 865.8a0.7 0.7 0 1 0 1.3 0a0.7 0.7 0 1 0 -1.3 0zM575.2 842.0a1.5 1.5 0 1 0 3.0 0a1.5 1.5 0 1 0 -3.0 0zM574.4 840.3a0.8 0.8 0 1 0 1.7 0a0.8 0.8 0 1 0 -1.7 0zM568.7 845.5a1.4 1.4 0 1 0 2.7 0a1.4 1.4 0 1 0 -2.7 0zM566.8 868.3a0.8 0.8 0 1 0 1.6 0a0.8 0.8 0 1 0 -1.6 0zM523.8 855.8a1.3 1.3 0 1 0 2.7 0a1.3 1.3 0 1 0 -2.7 0zM509.4 836.9a0.8 0.8 0 1 0 1.5 0a0.8 0.8 0 1 0 -1.5 0zM508.1 836.5a1.5 1.5 0 1 0 2.9 0a1.5 1.5 0 1 0 -2.9 0zM537.9 854.8a0.8 0.8 0 1 0 1.6 0a0.8 0.8 0 1 0 -1.6 0zM380.7 765.7a0.9 0.9 0 1 0 1.8 0a0.9 0.9 0 1 0 -1.8 0zM377.4 760.9a1.3 1.3 0 1 0 2.7 0a1.3 1.3 0 1 0 -2.7 0zM377.7 763.1a1.1 1.1 0 1 0 2.3 0a1.1 1.1 0 1 0 -2.3 0zM442.5 882.0a0.9 0.9 0 1 0 1.7 0a0.9 0.9 0 1 0 -1.7 0zM451.4 839.3a1.1 1.1 0 1 0 2.2 0a1.1 1.1 0 1 0 -2.2 0zM453.1 844.5a1.3 1.3 0 1 0 2.7 0a1.3 1.3 0 1 0 -2.7 0zM428.9 850.6a1.5 1.5 0 1 0 3.1 0a1.5 1.5 0 1 0 -3.1 0zM470.6 864.2a0.7 0.7 0 1 0 1.5 0a0.7 0.7 0 1 0 -1.5 0zM449.8 888.3a0.7 0.7 0 1 0 1.4 0a0.7 0.7 0 1 0 -1.4 0zM382.3 870.5a0.7 0.7 0 1 0 1.4 0a0.7 0.7 0 1 0 -1.4 0zM386.7 874.5a1.2 1.2 0 1 0 2.4 0a1.2 1.2 0 1 0 -2.4 0zM384.1 879.1a1.1 1.1 0 1 0 2.1 0a1.1 1.1 0 1 0 -2.1 0zM401.7 863.9a1.0 1.0 0 1 0 2.0 0a1.0 1.0 0 1 0 -2.0 0zM403.5 871.4a1.3 1.3 0 1 0 2.5 0a1.3 1.3 0 1 0 -2.5 0zM417.2 879.6a1.3 1.3 0 1 0 2.6 0a1.3 1.3 0 1 0 -2.6 0zM414.2 888.3a1.2 1.2 0 1 0 2.4 0a1.2 1.2 0 1 0 -2.4 0zM436.5 884.6a0.9 0.9 0 1 0 1.8 0a0.9 0.9 0 1 0 -1.8 0zM382.0 822.5a1.0 1.0 0 1 0 1.9 0a1.0 1.0 0 1 0 -1.9 0zM381.5 841.2a1.1 1.1 0 1 0 2.2 0a1.1 1.1 0 1 0 -2.2 0zM379.2 838.4a1.1 1.1 0 1 0 2.2 0a1.1 1.1 0 1 0 -2.2 0zM383.2 785.6a0.8 0.8 0 1 0 1.6 0a0.8 0.8 0 1 0 -1.6 0zM391.6 785.7a1.4 1.4 0 1 0 2.8 0a1.4 1.4 0 1 0 -2.8 0zM410.6 793.9a1.5 1.5 0 1 0 3.0 0a1.5 1.5 0 1 0 -3.0 0zM415.1 769.4a1.2 1.2 0 1 0 2.4 0a1.2 1.2 0 1 0 -2.4 0zM415.5 772.7a0.8 0.8 0 1 0 1.5 0a0.8 0.8 0 1 0 -1.5 0zM579.5 795.1a1.0 1.0 0 1 0 1.9 0a1.0 1.0 0 1 0 -1.9 0zM579.5 762.4a1.3 1.3 0 1 0 2.6 0a1.3 1.3 0 1 0 -2.6 0zM564.7 769.2a0.8 0.8 0 1 0 1.6 0a0.8 0.8 0 1 0 -1.6 0zM563.4 763.1a1.4 1.4 0 1 0 2.9 0a1.4 1.4 0 1 0 -2.9 0zM578.5 807.5a1.0 1.0 0 1 0 2.0 0a1.0 1.0 0 1 0 -2.0 0zM577.8 804.8a0.9 0.9 0 1 0 1.8 0a0.9 0.9 0 1 0 -1.8 0zM461.6 819.2a1.0 1.0 0 1 0 2.1 0a1.0 1.0 0 1 0 -2.1 0zM466.2 796.9a1.0 1.0 0 1 0 2.0 0a1.0 1.0 0 1 0 -2.0 0zM467.3 799.5a1.4 1.4 0 1 0 2.8 0a1.4 1.4 0 1 0 -2.8 0zM452.9 778.6a1.5 1.5 0 1 0 3.0 0a1.5 1.5 0 1 0 -3.0 0zM465.8 785.6a0.8 0.8 0 1 0 1.7 0a0.8 0.8 0 1 0 -1.7 0zM457.8 788.3a1.1 1.1 0 1 0 2.2 0a1.1 1.1 0 1 0 -2.2 0zM488.5 804.4a1.3 1.3 0 1 0 2.6 0a1.3 1.3 0 1 0 -2.6 0zM492.9 802.3a1.5 1.5 0 1 0 3.0 0a1.5 1.5 0 1 0 -3.0 0zM438.5 842.6a1.1 1.1 0 1 0 2.3 0a1.1 1.1 0 1 0 -2.3 0zM457.7 826.8a1.5 1.5 0 1 0 3.0 0a1.5 1.5 0 1 0 -3.0 0zM494.2 881.7a0.9 0.9 0 1 0 1.8 0a0.9 0.9 0 1 0 -1.8 0zM568.7 809.9a1.0 1.0 0 1 0 2.0 0a1.0 1.0 0 1 0 -2.0 0zM554.1 877.1a1.0 1.0 0 1 0 2.0 0a1.0 1.0 0 1 0 -2.0 0zM576.7 890.4a0.9 0.9 0 1 0 1.8 0a0.9 0.9 0 1 0 -1.8 0zM563.3 879.2a1.4 1.4 0 1 0 2.9 0a1.4 1.4 0 1 0 -2.9 0zM561.6 874.6a0.7 0.7 0 1 0 1.4 0a0.7 0.7 0 1 0 -1.4 0zM567.0 857.0a1.3 1.3 0 1 0 2.6 0a1.3 1.3 0 1 0 -2.6 0zM541.6 891.8a1.0 1.0 0 1 0 1.9 0a1.0 1.0 0 1 0 -1.9 0zM535.3 874.6a1.1 1.1 0 1 0 2.2 0a1.1 1.1 0 1 0 -2.2 0zM550.8 847.7a1.1 1.1 0 1 0 2.1 0a1.1 1.1 0 1 0 -2.1 0zM546.1 872.4a1.0 1.0 0 1 0 1.9 0a1.0 1.0 0 1 0 -1.9 0zM445.4 868.4a1.2 1.2 0 1 0 2.4 0a1.2 1.2 0 1 0 -2.4 0zM439.9 873.3a1.0 1.0 0 1 0 2.0 0a1.0 1.0 0 1 0 -2.0 0zM423.6 849.7a1.5 1.5 0 1 0 3.0 0a1.5 1.5 0 1 0 -3.0 0zM454.9 870.1a1.5 1.5 0 1 0 3.1 0a1.5 1.5 0 1 0 -3.1 0zM458.1 857.9a1.4 1.4 0 1 0 2.9 0a1.4 1.4 0 1 0 -2.9 0zM462.1 861.5a0.7 0.7 0 1 0 1.5 0a0.7 0.7 0 1 0 -1.5 0zM460.2 888.2a0.9 0.9 0 1 0 1.7 0a0.9 0.9 0 1 0 -1.7 0zM387.6 881.5a1.0 1.0 0 1 0 1.9 0a1.0 1.0 0 1 0 -1.9 0zM385.7 887.1a0.8 0.8 0 1 0 1.6 0a0.8 0.8 0 1 0 -1.6 0zM398.1 876.5a0.9 0.9 0 1 0 1.8 0a0.9 0.9 0 1 0 -1.8 0zM390.7 871.0a1.4 1.4 0 1 0 2.8 0a1.4 1.4 0 1 0 -2.8 0zM388.5 847.3a0.7 0.7 0 1 0 1.3 0a0.7 0.7 0 1 0 -1.3 0zM416.8 859.9a1.0 1.0 0 1 0 1.9 0a1.0 1.0 0 1 0 -1.9 0zM407.3 859.0a1.5 1.5 0 1 0 3.0 0a1.5 1.5 0 1 0 -3.0 0zM411.6 840.9a1.3 1.3 0 1 0 2.7 0a1.3 1.3 0 1 0 -2.7 0zM385.0 833.4a1.3 1.3 0 1 0 2.5 0a1.3 1.3 0 1 0 -2.5 0zM387.7 826.7a1.4 1.4 0 1 0 2.7 0a1.4 1.4 0 1 0 -2.7 0zM411.2 793.3a0.8 0.8 0 1 0 1.6 0a0.8 0.8 0 1 0 -1.6 0zM396.4 795.0a0.9 0.9 0 1 0 1.7 0a0.9 0.9 0 1 0 -1.7 0zM385.8 809.5a1.3 1.3 0 1 0 2.7 0a1.3 1.3 0 1 0 -2.7 0zM394.5 817.9a1.1 1.1 0 1 0 2.2 0a1.1 1.1 0 1 0 -2.2 0zM412.2 762.6a1.5 1.5 0 1 0 3.0 0a1.5 1.5 0 1 0 -3.0 0zM483.7 778.4a0.8 0.8 0 1 0 1.6 0a0.8 0.8 0 1 0 -1.6 0zM466.3 761.4a0.8 0.8 0 1 0 1.5 0a0.8 0.8 0 1 0 -1.5 0zM452.3 778.3a0.8 0.8 0 1 0 1.6 0a0.8 0.8 0 1 0 -1.6 0zM424.2 785.5a1.5 1.5 0 1 0 2.9 0a1.5 1.5 0 1 0 -2.9 0zM427.9 773.0a1.5 1.5 0 1 0 3.1 0a1.5 1.5 0 1 0 -3.1 0zM563.8 776.5a1.4 1.4 0 1 0 2.8 0a1.4 1.4 0 1 0 -2.8 0zM575.2 772.8a0.7 0.7 0 1 0 1.5 0a0.7 0.7 0 1 0 -1.5 0zM455.4 819.8a1.0 1.0 0 1 0 2.1 0a1.0 1.0 0 1 0 -2.1 0zM466.7 806.5a1.2 1.2 0 1 0 2.4 0a1.2 1.2 0 1 0 -2.4 0zM465.2 802.3a1.3 1.3 0 1 0 2.5 0a1.3 1.3 0 1 0 -2.5 0zM519.3 768.4a1.2 1.2 0 1 0 2.4 0a1.2 1.2 0 1 0 -2.4 0zM484.3 791.3a1.4 1.4 0 1 0 2.8 0a1.4 1.4 0 1 0 -2.8 0zM473.8 795.3a0.9 0.9 0 1 0 1.8 0a0.9 0.9 0 1 0 -1.8 0zM481.3 783.4a0.9 0.9 0 1 0 1.9 0a0.9 0.9 0 1 0 -1.9 0zM488.5 781.3a0.8 0.8 0 1 0 1.7 0a0.8 0.8 0 1 0 -1.7 0zM503.3 789.7a1.3 1.3 0 1 0 2.7 0a1.3 1.3 0 1 0 -2.7 0zM503.8 821.9a1.5 1.5 0 1 0 3.1 0a1.5 1.5 0 1 0 -3.1 0zM404.1 820.8a0.8 0.8 0 1 0 1.6 0a0.8 0.8 0 1 0 -1.6 0zM433.0 845.4a0.7 0.7 0 1 0 1.4 0a0.7 0.7 0 1 0 -1.4 0zM433.5 837.1a1.0 1.0 0 1 0 1.9 0a1.0 1.0 0 1 0 -1.9 0zM445.7 839.6a0.8 0.8 0 1 0 1.7 0a0.8 0.8 0 1 0 -1.7 0zM436.0 828.4a0.8 0.8 0 1 0 1.6 0a0.8 0.8 0 1 0 -1.6 0zM418.9 806.2a1.3 1.3 0 1 0 2.6 0a1.3 1.3 0 1 0 -2.6 0zM461.5 882.8a1.3 1.3 0 1 0 2.6 0a1.3 1.3 0 1 0 -2.6 0zM461.2 879.6a1.4 1.4 0 1 0 2.7 0a1.4 1.4 0 1 0 -2.7 0zM468.0 885.2a1.0 1.0 0 1 0 2.0 0a1.0 1.0 0 1 0 -2.0 0zM487.7 885.1a0.8 0.8 0 1 0 1.7 0a0.8 0.8 0 1 0 -1.7 0zM565.2 817.2a1.5 1.5 0 1 0 3.0 0a1.5 1.5 0 1 0 -3.0 0zM559.7 821.3a0.7 0.7 0 1 0 1.4 0a0.7 0.7 0 1 0 -1.4 0zM564.6 814.9a0.7 0.7 0 1 0 1.5 0a0.7 0.7 0 1 0 -1.5 0zM560.2 893.1a0.9 0.9 0 1 0 1.8 0a0.9 0.9 0 1 0 -1.8 0zM555.5 891.7a0.8 0.8 0 1 0 1.6 0a0.8 0.8 0 1 0 -1.6 0zM531.3 870.3a1.5 1.5 0 1 0 3.1 0a1.5 1.5 0 1 0 -3.1 0zM538.7 839.2a1.1 1.1 0 1 0 2.2 0a1.1 1.1 0 1 0 -2.2 0zM546.5 869.1a0.8 0.8 0 1 0 1.6 0a0.8 0.8 0 1 0 -1.6 0zM525.2 827.0a1.2 1.2 0 1 0 2.5 0a1.2 1.2 0 1 0 -2.5 0zM530.3 830.3a1.1 1.1 0 1 0 2.2 0a1.1 1.1 0 1 0 -2.2 0zM504.2 830.6a0.7 0.7 0 1 0 1.4 0a0.7 0.7 0 1 0 -1.4 0zM514.9 826.5a1.1 1.1 0 1 0 2.1 0a1.1 1.1 0 1 0 -2.1 0zM522.6 832.7a1.0 1.0 0 1 0 2.0 0a1.0 1.0 0 1 0 -2.0 0zM523.3 828.0a0.8 0.8 0 1 0 1.5 0a0.8 0.8 0 1 0 -1.5 0zM524.6 843.2a1.1 1.1 0 1 0 2.3 0a1.1 1.1 0 1 0 -2.3 0zM453.5 853.0a0.8 0.8 0 1 0 1.5 0a0.8 0.8 0 1 0 -1.5 0zM470.1 847.1a1.0 1.0 0 1 0 2.0 0a1.0 1.0 0 1 0 -2.0 0zM390.4 852.6a1.5 1.5 0 1 0 3.1 0a1.5 1.5 0 1 0 -3.1 0zM412.5 865.8a1.4 1.4 0 1 0 2.7 0a1.4 1.4 0 1 0 -2.7 0zM408.6 865.9a1.0 1.0 0 1 0 1.9 0a1.0 1.0 0 1 0 -1.9 0zM416.7 859.7a1.1 1.1 0 1 0 2.2 0a1.1 1.1 0 1 0 -2.2 0zM417.6 850.8a1.0 1.0 0 1 0 1.9 0a1.0 1.0 0 1 0 -1.9 0zM397.4 842.0a1.3 1.3 0 1 0 2.6 0a1.3 1.3 0 1 0 -2.6 0zM402.6 844.4a0.9 0.9 0 1 0 1.8 0a0.9 0.9 0 1 0 -1.8 0zM427.8 881.3a1.2 1.2 0 1 0 2.5 0a1.2 1.2 0 1 0 -2.5 0zM429.4 882.5a0.9 0.9 0 1 0 1.8 0a0.9 0.9 0 1 0 -1.8 0zM396.6 790.8a1.2 1.2 0 1 0 2.4 0a1.2 1.2 0 1 0 -2.4 0zM397.9 786.4a1.1 1.1 0 1 0 2.2 0a1.1 1.1 0 1 0 -2.2 0zM475.9 774.2a0.7 0.7 0 1 0 1.5 0a0.7 0.7 0 1 0 -1.5 0zM476.1 768.0a1.2 1.2 0 1 0 2.4 0a1.2 1.2 0 1 0 -2.4 0zM483.6 764.7a0.7 0.7 0 1 0 1.4 0a0.7 0.7 0 1 0 -1.4 0zM433.3 767.4a0.7 0.7 0 1 0 1.4 0a0.7 0.7 0 1 0 -1.4 0zM441.9 779.4a1.3 1.3 0 1 0 2.7 0a1.3 1.3 0 1 0 -2.7 0zM447.7 784.8a1.3 1.3 0 1 0 2.6 0a1.3 1.3 0 1 0 -2.6 0zM447.7 782.0a1.1 1.1 0 1 0 2.3 0a1.1 1.1 0 1 0 -2.3 0zM574.5 800.1a0.7 0.7 0 1 0 1.4 0a0.7 0.7 0 1 0 -1.4 0zM565.8 780.6a0.9 0.9 0 1 0 1.7 0a0.9 0.9 0 1 0 -1.7 0zM564.7 780.0a1.2 1.2 0 1 0 2.4 0a1.2 1.2 0 1 0 -2.4 0zM531.8 815.8a1.0 1.0 0 1 0 1.9 0a1.0 1.0 0 1 0 -1.9 0zM531.2 803.9a0.9 0.9 0 1 0 1.9 0a0.9 0.9 0 1 0 -1.9 0zM494.4 773.1a0.7 0.7 0 1 0 1.5 0a0.7 0.7 0 1 0 -1.5 0zM521.7 760.4a0.8 0.8 0 1 0 1.6 0a0.8 0.8 0 1 0 -1.6 0zM503.1 788.7a1.1 1.1 0 1 0 2.1 0a1.1 1.1 0 1 0 -2.1 0zM498.3 786.9a0.8 0.8 0 1 0 1.6 0a0.8 0.8 0 1 0 -1.6 0zM501.1 780.6a1.2 1.2 0 1 0 2.4 0a1.2 1.2 0 1 0 -2.4 0zM496.0 818.4a1.1 1.1 0 1 0 2.3 0a1.1 1.1 0 1 0 -2.3 0zM490.4 819.6a0.7 0.7 0 1 0 1.4 0a0.7 0.7 0 1 0 -1.4 0zM499.4 798.2a0.9 0.9 0 1 0 1.7 0a0.9 0.9 0 1 0 -1.7 0zM425.6 842.7a0.9 0.9 0 1 0 1.8 0a0.9 0.9 0 1 0 -1.8 0zM435.3 800.9a1.0 1.0 0 1 0 2.0 0a1.0 1.0 0 1 0 -2.0 0zM423.4 804.6a1.3 1.3 0 1 0 2.5 0a1.3 1.3 0 1 0 -2.5 0zM449.8 810.3a1.0 1.0 0 1 0 2.0 0a1.0 1.0 0 1 0 -2.0 0zM486.0 874.0a1.5 1.5 0 1 0 2.9 0a1.5 1.5 0 1 0 -2.9 0zM566.2 891.0a1.4 1.4 0 1 0 2.9 0a1.4 1.4 0 1 0 -2.9 0zM563.0 882.8a1.4 1.4 0 1 0 2.8 0a1.4 1.4 0 1 0 -2.8 0zM567.7 885.0a1.1 1.1 0 1 0 2.1 0a1.1 1.1 0 1 0 -2.1 0zM568.1 887.3a1.4 1.4 0 1 0 2.9 0a1.4 1.4 0 1 0 -2.9 0zM507.5 801.8a1.0 1.0 0 1 0 2.0 0a1.0 1.0 0 1 0 -2.0 0zM501.7 804.9a0.9 0.9 0 1 0 1.8 0a0.9 0.9 0 1 0 -1.8 0zM504.8 808.9a1.0 1.0 0 1 0 2.1 0a1.0 1.0 0 1 0 -2.1 0zM510.2 814.9a0.7 0.7 0 1 0 1.5 0a0.7 0.7 0 1 0 -1.5 0zM515.5 803.3a1.5 1.5 0 1 0 3.0 0a1.5 1.5 0 1 0 -3.0 0zM407.2 830.0a1.5 1.5 0 1 0 3.0 0a1.5 1.5 0 1 0 -3.0 0zM406.8 833.5a1.1 1.1 0 1 0 2.2 0a1.1 1.1 0 1 0 -2.2 0zM436.5 887.4a1.4 1.4 0 1 0 2.8 0a1.4 1.4 0 1 0 -2.8 0zM557.8 797.5a1.5 1.5 0 1 0 3.0 0a1.5 1.5 0 1 0 -3.0 0zM555.7 802.7a0.9 0.9 0 1 0 1.8 0a0.9 0.9 0 1 0 -1.8 0zM561.1 796.8a1.2 1.2 0 1 0 2.5 0a1.2 1.2 0 1 0 -2.5 0zM560.1 809.5a0.8 0.8 0 1 0 1.6 0a0.8 0.8 0 1 0 -1.6 0zM558.3 804.4a1.0 1.0 0 1 0 2.0 0a1.0 1.0 0 1 0 -2.0 0zM550.1 780.5a1.3 1.3 0 1 0 2.7 0a1.3 1.3 0 1 0 -2.7 0zM543.9 806.5a0.8 0.8 0 1 0 1.6 0a0.8 0.8 0 1 0 -1.6 0zM536.1 811.4a1.0 1.0 0 1 0 2.1 0a1.0 1.0 0 1 0 -2.1 0zM514.9 814.2a0.7 0.7 0 1 0 1.4 0a0.7 0.7 0 1 0 -1.4 0zM516.1 808.3a0.9 0.9 0 1 0 1.7 0a0.9 0.9 0 1 0 -1.7 0zM519.3 808.9a0.9 0.9 0 1 0 1.8 0a0.9 0.9 0 1 0 -1.8 0zM521.6 814.8a1.5 1.5 0 1 0 3.0 0a1.5 1.5 0 1 0 -3.0 0zM512.9 792.6a1.2 1.2 0 1 0 2.4 0a1.2 1.2 0 1 0 -2.4 0zM395.2 814.1a1.2 1.2 0 1 0 2.5 0a1.2 1.2 0 1 0 -2.5 0zM410.0 809.4a1.3 1.3 0 1 0 2.5 0a1.3 1.3 0 1 0 -2.5 0zM438.8 819.0a1.3 1.3 0 1 0 2.7 0a1.3 1.3 0 1 0 -2.7 0zM444.2 831.3a1.5 1.5 0 1 0 3.1 0a1.5 1.5 0 1 0 -3.1 0zM480.0 886.0a1.3 1.3 0 1 0 2.5 0a1.3 1.3 0 1 0 -2.5 0zM478.0 894.6a1.0 1.0 0 1 0 1.9 0a1.0 1.0 0 1 0 -1.9 0zM473.3 895.0a0.9 0.9 0 1 0 1.7 0a0.9 0.9 0 1 0 -1.7 0zM429.3 829.2a1.0 1.0 0 1 0 2.1 0a1.0 1.0 0 1 0 -2.1 0zM427.7 826.5a0.9 0.9 0 1 0 1.8 0a0.9 0.9 0 1 0 -1.8 0zM566.6 793.4a1.3 1.3 0 1 0 2.6 0a1.3 1.3 0 1 0 -2.6 0zM563.2 793.4a1.2 1.2 0 1 0 2.4 0a1.2 1.2 0 1 0 -2.4 0zM536.3 772.8a1.3 1.3 0 1 0 2.7 0a1.3 1.3 0 1 0 -2.7 0zM534.5 766.1a0.9 0.9 0 1 0 1.8 0a0.9 0.9 0 1 0 -1.8 0zM521.4 800.6a0.9 0.9 0 1 0 1.8 0a0.9 0.9 0 1 0 -1.8 0zM523.1 786.4a1.0 1.0 0 1 0 2.1 0a1.0 1.0 0 1 0 -2.1 0zM528.5 792.3a1.5 1.5 0 1 0 2.9 0a1.5 1.5 0 1 0 -2.9 0zM443.0 823.7a1.0 1.0 0 1 0 2.1 0a1.0 1.0 0 1 0 -2.1 0zM415.7 823.3a0.9 0.9 0 1 0 1.9 0a0.9 0.9 0 1 0 -1.9 0zM543.9 790.1a0.7 0.7 0 1 0 1.4 0a0.7 0.7 0 1 0 -1.4 0zM533.0 797.1a1.3 1.3 0 1 0 2.6 0a1.3 1.3 0 1 0 -2.6 0zM541.5 782.8a1.1 1.1 0 1 0 2.2 0a1.1 1.1 0 1 0 -2.2 0zM533.3 779.3a1.4 1.4 0 1 0 2.7 0a1.4 1.4 0 1 0 -2.7 0zM539.5 783.8a1.1 1.1 0 1 0 2.3 0a1.1 1.1 0 1 0 -2.3 0z"/><g><path d="M512.0 895.0C507.5 890.8 510.8 877.2 511.0 870.0C511.2 862.8 511.5 856.0 513.0 852.0C514.5 848.0 517.2 847.2 520.0 846.0C522.8 844.8 527.3 844.3 530.0 845.0C532.7 845.7 535.0 845.8 536.0 850.0C537.0 854.2 535.7 862.5 536.0 870.0C536.3 877.5 542.0 890.8 538.0 895.0C534.0 899.2 516.5 899.2 512.0 895.0Z" fill="#f4f8f0" stroke="#9c4aa8" stroke-width="2"/><path d="M478.0 895.0C475.5 892.8 479.0 885.5 480.0 882.0C481.0 878.5 482.5 874.7 484.0 874.0C485.5 873.3 487.7 875.7 489.0 878.0C490.3 880.3 491.0 885.2 492.0 888.0C493.0 890.8 497.3 893.8 495.0 895.0C492.7 896.2 480.5 897.2 478.0 895.0Z" fill="#f8f4f0" stroke="#a050a8" stroke-width="1.6"/><path d="M500 895C504 888 510 886 512 890" stroke="#c0609a" stroke-width="2.5" fill="none"/></g><line x1="543" y1="885.5" x2="579" y2="885.5" stroke="#222" stroke-width="0.9"/><line x1="557.0" y1="883.9" x2="565.0" y2="883.9" stroke="#555" stroke-width="0.7"/></g></g><rect x="378.5" y="759.8" width="207" height="135.2" fill="none" stroke="#f25555" stroke-width="1.5"/>
<g clip-path="url(#c5)"><g filter="url(#soft)"><rect x="167.5" y="900.5" width="208" height="143.5" fill="#d07ac8"/><rect x="167.5" y="900.5" width="208" height="143.5" filter="url(#spk2)" opacity="0.6"/><rect x="167.5" y="900.5" width="208" height="143.5" filter="url(#spk)" opacity="0.6"/><g filter="url(#soft2)" fill="#a458ae" opacity="0.55"><path d="M358 922C366 918 376 922 376 930L376 992C370 988 362 980 358 962C355 948 355 930 358 922Z"/><path d="M368 1022C372 1018 376 1020 376 1022L376 1044L364 1044C364 1034 365 1026 368 1022Z"/></g><path fill="#f7f9fb" stroke="#f7f9fb" stroke-width="8.0" stroke-linejoin="round" transform="scale(.5)" d="M346 2088l-1 3 1 3 17 0zM643 2045l-3 15 10 13 12-5 5-24zM443 1886l-3 7 2 6 11 6 5-19 17 0-7-8-9 2-8-14-4-1-8 8zM706 2052l6 0-1-25-29 10zM744 2020l1-9 12-6 0-10-9 0-2 7-27 8 0 9zM522 1898l-2-4-20 10-8-3-9 15 15 13 10-4 3 0zM514 1937l-4-1-9 4-9 15 17 19 6-2 9-24 24-2 2-7-9-8-23 4zM587 1817l31 8 9-17-3-3-9-2-4-8-14 0-3 7-10 2zM623 1931l-6 4-1 9 11 13-3 15 13 18 7-2 6-7-4-28 19-10-1-14-7-6-16 14zM330 1846l-1 11 11 6 8-6 5-11-7-13-8 2-9-7 0 17zM665 1850l-2-14-9-1-6 6 7 15zM499 1890l12-6-5-10-8 2-4 13zM473 1846l8 5 9-11 22 7-2-17-2-1-10 3-6 8-19 0zM707 1856l3-5-10-9-7 11zM705 1821l-10-9 6-17-10 1-4 19-1 1 0 2 13 13zM611 1908l-12 6 0 1 13 10 9-6 18 5 11-10-7-10-21 11zM723 1872l8-9-9-8-1 0-4 9 1 4-7 14 1 1 7-1 4-8zM649 1875l-1-5-19 1-2 6 15 11zM353 1925l7-4 5-17 15-3 3-10-3-5-17-3-4-11-6-4-7 5-1 9 19 15-22 20zM364 1861l10-7-2-6-8 3-3 7zM518 1857l-3 10 9 14 2 1 7 11 12 5 7-3 0-11-19-7-1-6zM533 1838l4-9-1-1-14 3 1 11zM753 2050l4 5 0-19-1 0zM549 1984l24 23 10-6 0-20-10-9 9-22-9-13-4 0-7 4-5 16-25 2-5 15 20 10zM546 2084l-2 10 31 0zM605 1853l10 0 4-14-1-1-11-3-6 12zM439 1947l-17-5-11 6 5 18 14 8zM588 1874l2-1 5-14-3-5-8 1-6 13zM397 2080l14-10-7-10-6 3-4 11-14 8 0 1 15 6zM531 2026l29 10 2 0 4-20-18-17zM676 1931l0 12 9 5 15-5 10 9 12-3-11-12 4-9-11-7-4 1-1 3zM415 1913l-25 5-7-4-8 1-3 9 17 16 11-3 4 1 11-6 1-18 14-13-1-3-11-1zM427 1920l0 12 18 5 8-18-1-1-14-8zM491 2085l-3 9 7 0-4-6 19-22-3-10-24 4 6 23zM340 2039l7-10-2-7-13 1-1 9zM332 2066l14 10 21 7 1-4-9-13-5 0-12-14zM622 2030l-23 20 15 13 14-5 4-17zM699 1910l3-1 4-5-1-11-4-3-11 2zM645 1999l-7 2-10 18 0 1 12 13 29-2 2-3 2-1zM706 2016l1-9-10-14-22 34zM704 1977l-2-15-5-5-8 2-2 18 11 9zM332 1952l0 9 9 8 8-4 2-7-8-11 3-12-16-12zM557 1798l5 4 11-3-3-4-14 0zM732 2082l9-2 8-11 0-5-5-6-21 2zM380 1816l4 4 6-7-11-2zM407 1815l7-11 16 4 3-3 1-5-15-3-4 4-8-1-11 11zM371 1795l-15 0-1 2 6 10-4 14 6 0 5-4 0-11 3-4zM423 2067l3 0 9 16 7 3 5-1 0-22 19-12-3-9-14-8-3 1-6 10-27 6zM648 2094l28 0 4-5-13-9-13 5-2 7zM733 1823l2 6 9 1-1-12 5-8-2-4-17 6-1-1-6 7zM356 2037l-5 7 9 10 10-9-1-5zM477 1796l-13-1-3 4 1 4 11 0 2-1 2-5 5-2-5 0zM752 2085l5 6 0-13zM375 1961l-13 2-3 10-14 8-4 12-9 4-3 7 1 7 15-1 5-11 17-6 4-7 5-2zM432 2035l2-3-20-14-6 9 5 12zM585 2044l3 0 26-23-24-10-12 8-4 18zM558 1906l-1 0-7 2-2 15 9 7 5-3zM398 2019l5-7-17-18-3 0-3 2-2 2 9 22zM557 1873l5-4-10-11-1 0-7 11zM658 1904l18-14-18-6-6 12zM593 1955l-5 14 3 3 22-4 2-8-7-8zM616 1980l-21 3 0 17 24 10 8-14zM660 1872l24 9 15-2 5-11-22-6-1-1-9-2-13 8zM458 1818l1 4-8 8 2 3 10-2 2-3 21 0 1-2-9-12-2 1-15 0zM462 1913l3 5-9 22 24 14 10-17-23-18 13-21-13 0zM467 1990l26 9 8-18-20-21zM332 1880l2-7-5-2 0 10zM391 1982l23 22 2 0 27 19 2 0 6-25-21-10-1-2-23-11-6-25-10 2-3 4 1 26zM444 1852l9 2 9-7-1-3-15 1-6-10-4 0-3 3 0 7-7 7 7 11zM554 1811l-3-2-8 7 0 3 3 2 6 1zM362 1840l4-1-4-8-5 0zM653 1799l0-3 0-1-15 0-3 4 2 3 9 2zM518 2050l3 13 19 9 4-2 34 12 1-1 16 8 7-2 4-15-18-16-6 1-17-10-5 1-37-12zM520 2023l18-30-19-10-7 2-10 21 1 2zM374 1828l-1 1 3 6 3 1-1-4zM386 1850l8-6-13-6zM372 1870l1 2 8 1 3-6-1-4zM675 1974l2-16-7-5-11 6 2 17zM422 1867l-6-10 0 0-4 12zM660 1808l-12 9-11-3-8 17 11 2 10-11 23 4 4 22 5 1 7-11-16-16 1-6zM382 1800l7 1 6-6-13 0zM710 1835l8 8 7-2-3-8-8-4zM742 1856l5-1 2-2 1-9-1-1-22-1zM550 1833l-3 0-3 8 6 6 1 0 2-5zM459 2094l16 0 1-2-18 1zM403 2048l0-2-6-15-11 1-5 5 1 7 11 8zM563 1837l7 1 1-7-11-1zM708 1809l3 3 8-10-8-1zM421 1839l-9-5-4 8 5 4 3 0 5-6zM749 1911l-1 2 2 4 7 0 0-9zM414 1880l-1 3 2 2 16 1 0-1-2-9zM702 2088l16-6-7-18-3 1-12 20zM679 1795l-14 0 0 3 12 7zM485 1880l2-8-4-5-5 5zM333 1978l-4-4 0 11 2-1zM349 1809l-3-5-12 2-1 9 8 8 4-2zM736 1795l-6 0-1 1 1 1zM329 2079l0 10 4-2 1-4zM518 2074l-13 15 2 3 6 2 12 0 8-7 1-4zM593 1884l-3 14 5 5 10-5 0-8zM402 1852l-8 7 2 3 6 2 3-10zM497 1820l8-2 1-22 2-1-5 0 0 2-16 8zM538 1805l7-6 0-3-15-1zM618 2075l-3 13 8 4 18-9 0-1-10-12zM531 1816l0-1-11-13-2 1-2 17zM356 1945l3 6 19-3 1-1-15-14-6 3zM399 1833l4-7-7-3-5 7zM392 1904l12-2 2-9-1-1-10 3zM742 2092l-4 1 0 1 6 0zM724 1935l5 6 5-5-9-5zM457 2024l16 10 6 14 28-5 4-11-19-17-1-4-28-9zM723 2032l1 16 18-2 3-14zM711 1990l5 8 20-6 0-1-8-8-14 2zM358 2025l15 3 3-3-8-20-9 4-3 7zM344 1898l-7-6-8 3 0 4 6 8zM408 2087l-1 5 5 2 2 0 10-8-5-7zM582 1905l-12 2 3 18 7 1 12 18 13-3 1-6-19-14 1-9zM465 1867l3 0 6-7-6-4-6 6zM610 1879l6-4 2-8-2-1-10-1-4 10zM563 1882l0 14 1 1 15-3 3-11-11-6zM533 1906l-7 15 10-2 2-11zM457 1987l11-26-17-11-10 30zM426 1828l2-1-2-8-6-2-4 6zM450 1804l-4-1-1 9-7 5 1 6 2 0 5-6-1-3 6-7zM506 1857l-12-4-4 6 5 5 9-2zM377 2056l-6 5 6 8 6-3 2-5zM476 2081l-4-19-13 8-1 11zM566 1814l-1 4 9 1-1-7zM582 1841l1 1 7 0 4-9-11-4zM674 2070l12 8 10-17-18-12zM644 1859l-6-14-8-1-4 14 1 2zM395 1873l-5 8 2 3 10-3 1-4-1-2zM757 1983l0-10-4 10zM529 1852l8 8 4-6-5-5zM671 1920l17-5-6-13-17 12zM672 2009l13-18-6-5-21 3-3 3zM574 1850l-1-1-10-1-1 3 7 8zM621 1887l-4 2 0 9 6 3 10-5z"/><path fill="#c46cc0" d="M168.9 934.6a1.5 1.5 0 1 0 2.9 0a1.5 1.5 0 1 0 -2.9 0zM183.5 954.8a1.4 1.4 0 1 0 2.8 0a1.4 1.4 0 1 0 -2.8 0zM307.4 986.6a1.7 1.7 0 1 0 3.3 0a1.7 1.7 0 1 0 -3.3 0zM293.2 974.9a1.3 1.3 0 1 0 2.6 0a1.3 1.3 0 1 0 -2.6 0zM170.7 1022.4a0.9 0.9 0 1 0 1.9 0a0.9 0.9 0 1 0 -1.9 0zM168.5 1022.6a0.9 0.9 0 1 0 1.9 0a0.9 0.9 0 1 0 -1.9 0zM258.2 988.3a1.4 1.4 0 1 0 2.7 0a1.4 1.4 0 1 0 -2.7 0zM221.7 971.8a1.7 1.7 0 1 0 3.3 0a1.7 1.7 0 1 0 -3.3 0zM303.2 972.6a1.9 1.9 0 1 0 3.7 0a1.9 1.9 0 1 0 -3.7 0zM333.5 973.1a1.6 1.6 0 1 0 3.1 0a1.6 1.6 0 1 0 -3.1 0zM174.5 930.0a1.8 1.8 0 1 0 3.6 0a1.8 1.8 0 1 0 -3.6 0zM266.6 906.6a2.0 2.0 0 1 0 4.0 0a2.0 2.0 0 1 0 -4.0 0zM220.3 1015.1a0.9 0.9 0 1 0 1.9 0a0.9 0.9 0 1 0 -1.9 0zM179.8 1030.0a1.3 1.3 0 1 0 2.6 0a1.3 1.3 0 1 0 -2.6 0zM185.2 1038.9a2.1 2.1 0 1 0 4.1 0a2.1 2.1 0 1 0 -4.1 0zM189.7 993.8a1.2 1.2 0 1 0 2.5 0a1.2 1.2 0 1 0 -2.5 0zM254.6 1024.6a1.1 1.1 0 1 0 2.1 0a1.1 1.1 0 1 0 -2.1 0zM259.4 1014.6a2.0 2.0 0 1 0 4.0 0a2.0 2.0 0 1 0 -4.0 0zM205.8 1005.3a1.5 1.5 0 1 0 2.9 0a1.5 1.5 0 1 0 -2.9 0zM193.0 994.0a1.2 1.2 0 1 0 2.4 0a1.2 1.2 0 1 0 -2.4 0zM183.5 998.8a2.0 2.0 0 1 0 3.9 0a2.0 2.0 0 1 0 -3.9 0zM370.5 994.4a1.5 1.5 0 1 0 3.0 0a1.5 1.5 0 1 0 -3.0 0zM363.6 987.9a1.3 1.3 0 1 0 2.7 0a1.3 1.3 0 1 0 -2.7 0zM365.6 979.4a1.4 1.4 0 1 0 2.8 0a1.4 1.4 0 1 0 -2.8 0zM371.5 961.4a1.2 1.2 0 1 0 2.4 0a1.2 1.2 0 1 0 -2.4 0zM304.5 966.0a1.7 1.7 0 1 0 3.4 0a1.7 1.7 0 1 0 -3.4 0zM318.4 965.3a1.6 1.6 0 1 0 3.3 0a1.6 1.6 0 1 0 -3.3 0zM350.7 1029.4a1.4 1.4 0 1 0 2.7 0a1.4 1.4 0 1 0 -2.7 0zM309.5 1008.6a1.3 1.3 0 1 0 2.5 0a1.3 1.3 0 1 0 -2.5 0zM336.0 1016.5a1.6 1.6 0 1 0 3.2 0a1.6 1.6 0 1 0 -3.2 0zM217.5 942.8a1.1 1.1 0 1 0 2.1 0a1.1 1.1 0 1 0 -2.1 0zM180.7 934.0a1.6 1.6 0 1 0 3.3 0a1.6 1.6 0 1 0 -3.3 0zM216.6 951.6a1.7 1.7 0 1 0 3.5 0a1.7 1.7 0 1 0 -3.5 0zM193.2 945.3a1.8 1.8 0 1 0 3.7 0a1.8 1.8 0 1 0 -3.7 0zM203.4 911.5a1.3 1.3 0 1 0 2.6 0a1.3 1.3 0 1 0 -2.6 0zM328.6 900.7a1.0 1.0 0 1 0 2.0 0a1.0 1.0 0 1 0 -2.0 0zM274.7 900.5a1.0 1.0 0 1 0 1.9 0a1.0 1.0 0 1 0 -1.9 0zM184.0 1043.6a2.1 2.1 0 1 0 4.1 0a2.1 2.1 0 1 0 -4.1 0zM176.9 978.6a1.4 1.4 0 1 0 2.8 0a1.4 1.4 0 1 0 -2.8 0zM172.7 972.9a1.9 1.9 0 1 0 3.8 0a1.9 1.9 0 1 0 -3.8 0zM180.4 913.5a1.9 1.9 0 1 0 3.7 0a1.9 1.9 0 1 0 -3.7 0zM178.3 923.2a1.6 1.6 0 1 0 3.1 0a1.6 1.6 0 1 0 -3.1 0zM173.1 913.4a1.7 1.7 0 1 0 3.3 0a1.7 1.7 0 1 0 -3.3 0zM174.4 912.9a0.9 0.9 0 1 0 1.8 0a0.9 0.9 0 1 0 -1.8 0zM248.0 1005.8a1.0 1.0 0 1 0 2.0 0a1.0 1.0 0 1 0 -2.0 0zM277.6 949.6a1.3 1.3 0 1 0 2.5 0a1.3 1.3 0 1 0 -2.5 0zM363.6 976.5a0.9 0.9 0 1 0 1.8 0a0.9 0.9 0 1 0 -1.8 0zM368.4 956.4a1.8 1.8 0 1 0 3.7 0a1.8 1.8 0 1 0 -3.7 0zM360.2 962.4a1.9 1.9 0 1 0 3.8 0a1.9 1.9 0 1 0 -3.8 0zM338.6 906.5a1.6 1.6 0 1 0 3.2 0a1.6 1.6 0 1 0 -3.2 0zM332.4 915.5a1.4 1.4 0 1 0 2.9 0a1.4 1.4 0 1 0 -2.9 0zM345.4 959.8a2.0 2.0 0 1 0 3.9 0a2.0 2.0 0 1 0 -3.9 0zM346.4 918.4a1.7 1.7 0 1 0 3.4 0a1.7 1.7 0 1 0 -3.4 0zM357.4 924.7a1.0 1.0 0 1 0 1.9 0a1.0 1.0 0 1 0 -1.9 0zM373.0 930.5a1.7 1.7 0 1 0 3.4 0a1.7 1.7 0 1 0 -3.4 0zM368.7 943.4a1.8 1.8 0 1 0 3.6 0a1.8 1.8 0 1 0 -3.6 0zM363.4 902.1a1.2 1.2 0 1 0 2.4 0a1.2 1.2 0 1 0 -2.4 0zM286.8 965.7a1.6 1.6 0 1 0 3.3 0a1.6 1.6 0 1 0 -3.3 0zM356.9 1012.8a1.5 1.5 0 1 0 3.0 0a1.5 1.5 0 1 0 -3.0 0zM373.3 1013.3a1.5 1.5 0 1 0 3.0 0a1.5 1.5 0 1 0 -3.0 0zM342.7 1044.0a1.5 1.5 0 1 0 3.0 0a1.5 1.5 0 1 0 -3.0 0zM230.4 946.1a1.0 1.0 0 1 0 2.0 0a1.0 1.0 0 1 0 -2.0 0zM192.4 928.8a1.0 1.0 0 1 0 2.1 0a1.0 1.0 0 1 0 -2.1 0zM303.7 943.0a1.5 1.5 0 1 0 3.1 0a1.5 1.5 0 1 0 -3.1 0zM290.2 949.6a1.8 1.8 0 1 0 3.6 0a1.8 1.8 0 1 0 -3.6 0zM278.4 904.5a1.9 1.9 0 1 0 3.8 0a1.9 1.9 0 1 0 -3.8 0zM287.6 901.6a1.3 1.3 0 1 0 2.6 0a1.3 1.3 0 1 0 -2.6 0zM202.0 1026.0a1.5 1.5 0 1 0 3.0 0a1.5 1.5 0 1 0 -3.0 0zM321.6 996.3a1.9 1.9 0 1 0 3.8 0a1.9 1.9 0 1 0 -3.8 0zM322.5 905.3a1.0 1.0 0 1 0 1.9 0a1.0 1.0 0 1 0 -1.9 0zM319.9 919.7a0.9 0.9 0 1 0 1.9 0a0.9 0.9 0 1 0 -1.9 0zM363.8 938.0a1.2 1.2 0 1 0 2.3 0a1.2 1.2 0 1 0 -2.3 0zM293.6 1025.0a1.7 1.7 0 1 0 3.3 0a1.7 1.7 0 1 0 -3.3 0zM214.1 1043.9a1.6 1.6 0 1 0 3.1 0a1.6 1.6 0 1 0 -3.1 0zM224.6 1043.6a1.7 1.7 0 1 0 3.4 0a1.7 1.7 0 1 0 -3.4 0zM309.6 939.7a1.1 1.1 0 1 0 2.3 0a1.1 1.1 0 1 0 -2.3 0zM271.4 1038.3a1.1 1.1 0 1 0 2.1 0a1.1 1.1 0 1 0 -2.1 0zM278.4 1020.9a1.7 1.7 0 1 0 3.4 0a1.7 1.7 0 1 0 -3.4 0zM259.2 943.3a1.0 1.0 0 1 0 2.0 0a1.0 1.0 0 1 0 -2.0 0zM340.1 946.2a1.8 1.8 0 1 0 3.7 0a1.8 1.8 0 1 0 -3.7 0zM320.9 948.3a1.2 1.2 0 1 0 2.4 0a1.2 1.2 0 1 0 -2.4 0zM322.7 1040.2a1.5 1.5 0 1 0 3.0 0a1.5 1.5 0 1 0 -3.0 0zM317.2 1019.6a1.5 1.5 0 1 0 3.0 0a1.5 1.5 0 1 0 -3.0 0zM255.5 926.5a1.1 1.1 0 1 0 2.1 0a1.1 1.1 0 1 0 -2.1 0zM252.3 933.7a2.0 2.0 0 1 0 4.1 0a2.0 2.0 0 1 0 -4.1 0zM239.3 929.6a1.9 1.9 0 1 0 3.8 0a1.9 1.9 0 1 0 -3.8 0zM233.5 936.1a1.9 1.9 0 1 0 3.8 0a1.9 1.9 0 1 0 -3.8 0zM232.8 924.6a1.0 1.0 0 1 0 2.1 0a1.0 1.0 0 1 0 -2.1 0zM226.2 930.4a1.0 1.0 0 1 0 2.0 0a1.0 1.0 0 1 0 -2.0 0zM232.2 915.2a1.5 1.5 0 1 0 2.9 0a1.5 1.5 0 1 0 -2.9 0zM227.4 904.2a2.0 2.0 0 1 0 4.0 0a2.0 2.0 0 1 0 -4.0 0z"/><line x1="335" y1="1036.5" x2="367" y2="1036.5" stroke="#222" stroke-width="0.9"/><line x1="347.0" y1="1034.9" x2="355.0" y2="1034.9" stroke="#555" stroke-width="0.7"/></g></g><rect x="167.5" y="900.5" width="208" height="143.5" fill="none" stroke="#f25555" stroke-width="1.5"/>
<g clip-path="url(#c6)"><g filter="url(#soft)"><rect x="378.5" y="900.2" width="206.5" height="143.2" fill="#b462ad"/><rect x="378.5" y="900.2" width="206.5" height="143.2" filter="url(#spk2)" opacity="0.6"/><rect x="378.5" y="900.2" width="206.5" height="143.2" filter="url(#spk)" opacity="0.8"/><path fill="#f9f9f1" stroke="#f9f9f1" stroke-width="3.6" stroke-linejoin="round" transform="scale(.5)" d="M952 1852l-21 4 4-16-6-5-1 1 2 11-8 5 0 4 10 4 2 8-7 8 1 4 4 1 3-7-1-3 12-14 1 0zM1089 1799l4 3 9-5 8 5 1-8-13 0zM1109 1817l2 3 2 0 5-4-2-3-3-2zM808 2016l-1 5 3 3 7-6 9 4 2-6 7-1-6-2-11-6-3 7zM948 1952l2 0 8 12-3 5 2 2 2-5-1-5 10-8-6-4-3 4-12-4zM819 1913l6-8 11 0 1-4 13-7-1-3-15-1-3-12-2-1-9 9-3 14zM877 1871l-1-1-4 1 0 7 3 2 3-1zM1087 1910l5-1-6-6-4 2zM1098 1915l4-1 0-5-8 1zM941 1891l0 1 8 15-3 5 0 3 6 3 6-10 11 6 2-3-1-2-10-4 4-12-14-4-1-6-7-3-3 6zM996 1813l5 7 4-1 1-2-2-5-5-2-1-1-8-2 1 6zM927 1922l-11 4-1 3-8 3 0 4 3 3 9-6 10 8 2-1-2-10 7-3 1-13-9-1zM885 2093l4 0 3-7zM905 2088l6-10 14 5 1 0 2-5-8-10-2-1-14-2-6 8-14-8-5 5 1 2 15 5 0 7-1 1zM1142 1854l-6 5 0 5-18 4-2-2-5 4-1 10-3 1 0 5 3 1 10-11 4 1 6-1 5 2 6-4-3-11 6-4zM992 1946l11-2 6 6 4-4-1-3-8-4 1-15-2-1-1 1-6 13-6 3-8-11-1 0 1 6 4 3-2 7 5 5zM974 1836l-3-5-4 0 0 2 5 6zM1116 1893l2 11-8 4 0 7 3 2 1-1 6-9 9 2 2-1 4-10 12 3 4-4-2-3-10 2-6-10-4-1-7 1zM887 1832l-1 6 10 4 7 0 3-8-3-3-1-9 3-4-2-6-7 6-1 3-15 3zM821 1846l4-8 0-3 15-4 0-4-1-2-9 4-7-5-7 3-7-4-4 8 8 4 2 12zM982 1812l0-6-2 0-3 6zM1054 2083l3 4 3-5-6-5zM1006 1804l7-5-1-3-5 1-2 7zM756 2004l-4 1-1 5 0 5 1-1 10 12-5-15 2-3zM765 2029l-5 7 2 5 3-2 1-4 8-6 0-1-10 0zM1174 1942l2-1 0-24-1-1-1 9-6 5 3 6-5 8 4 5 3 0zM1176 1909l0-3-1-1-2 4 2 3zM811 1814l6 3 8-4 6 5 6-2-9-4-1 0-15-1zM845 1819l12-5 8 10 5-3-1-1-13-7 3-12-1-1-5 2-1 7-11 6zM783 1836l-8 2-1 1 4 3 7-4 12 6 3 7-3 7 3 2 5-11 1 0-1-7-6-3-2-3-6-2-6-9zM975 1966l5-1 4 2 3-2 1-2-2-3-7-7-1 1 0 5-7 5zM868 1983l-7 10 3 11-1 2 0 2 5 4 5-1 4-7 1 0-1-11-3-2-1-7zM890 2010l4-1-2-3-7 1zM980 1912l-5 9 2 0 8-3 6 9 4-9 3-2-1-4-4-3-3 1-12-8-1-6-5 0-1 4 7 3zM1029 1839l-2 3-8 3-1 3 12 5 1 4 2 1 8 13 4-6-4-9 1-3-9-5 0-8zM1038 1882l1 2 9 2 2-3-7-7zM1141 1909l-2 5-4 2 1 5 6 0 6 8 7-7-4 2-6-14zM1162 1923l3-3 0-5-8 6zM754 1806l8 1-3-6-5-1zM766 1821l3 1 4 6 2 0 2-11 6-2 0-3-8-3-6 2-3 0zM996 2039l-8 3-10 9 10 7-4 11 2 2 15-1 3 10 5 0 3-4-8-6 1-10-6-8 4-7zM1143 2014l2 2 3-1 3-7 12 0 6 9 7 5 0-21-3-2-7 6-9-4-7 5zM894 2018l-1 9-10 5-4-2-4 3 3 5 7-5 11 3 1 10 3 2 7-6 1-2 6-5-1-4-5-4-6 1-7-11zM1149 1963l3 1 5-7 7-1-5-6-5 0-5 7zM1172 1966l4-2 0-6-8 1zM1041 1914l0-6-2 0-1 1 1 4zM1043 1927l1 3 2-2 0-6-1 0zM1044 1946l-2-5-4 3zM1050 1951l9 6-2 10 4-1-2-14 14-3-4-18-3 4 2 6-5 9-13 0zM762 2089l-6 4-5-1 0 1 21 0 1-7-1-1-1-2-9-5zM896 1856l3 7 2 2 0 9 5 2 5-7 10 1 3-4-10-4 0-10-7-2-2 2-7-1zM1173 1812l-6-2-3 2 1 4zM961 1839l-3 1 0 5 2 3 3 1 3-5zM767 1864l3-11 1-1 1-2-5-4-3 1-1 3 2 2 1 12zM1114 1969l-1-2-3-1-2 8 6 6 0 2 2 4 3 1 5-4-3-5 3-9zM1138 1967l3-2 0-8-5-1-2 8zM1074 2092l-1-4-5-1-3 6zM815 1802l9 1 7-9-12 0zM1110 2078l3-5-5 1zM1106 2090l-7 3 16 0-3-5 0-1-2-4zM808 1987l-6-3-4 7 3 7-1 3 0 4 5 3 4-1 5-11 13 7 3-6-2-1-8-2-2-12zM1153 1818l5 1-2-4-4 1zM1162 1828l2 1 2-4-5-1zM790 1984l2 0 7-12 9 5 5-2-9-9 0-4 4-6-1-2-3-1-8 15-8 3zM1035 2071l-1-3-5 2-2 3 4 4zM1042 2056l0-3-3 0-1 0 1 5zM1160 1894l6 9 2-3-7-4 0-15 9-4 2-5-13-5-9-1-1 1 1 6 11 5-5 11 3 5zM1034 1801l7 5 0 10 4 2 0 13 6-7 2 0 3-5-7-4-2-7 6-9-3-1-7 5-8-5zM1055 1892l1 3 6 3 3 8 5 0 3-2 0-3 9-6 1-3-2-5 3-7-4-4-5 0-2 2-7-1zM921 2039l-17 15 1 4 12 1 0-2 14-16 3 1 6-7-8-7-10-3-4-8-2 0-3 5 7 6zM1097 1945l7 5 4-8 3 0 3-6 5-7-4-4-5 1-5-4-4 1-1 4 5 5-9 11 0 2zM1126 2093l21 0-1-3 3-1 1-7-4-2-2 11-15-1-2-3-4 1zM860 1979l3-5 12 1 3-4 3-1 2-4-6-7-3 1-6-4-6 2 0 3 4 7-10 9zM755 2044l-3-5-1 0 0 6zM766 2057l1 1 6 0 4-10 3-2 0-11-7 5 0 5-9 4zM884 1978l-3 3 1 5 1 1 11-1 3 5 13-1 3 1 1 4 9 5 1-3-3-6-7 0-4-15-5-1-7-9-6 3-5 8zM1017 1838l4-2 3-7 12 4 0-10-2 1-17-8 2-9-2-1-5 4 5 8-5 7 3 8-1 1zM981 1797l4 1 5-2 7 2 1-4-19 0zM756 1862l0-4-5 5 0 3zM1166 2044l3 10 3-2-1-4 4-7-1-2-6 3-7-3-1 3zM878 1839l0-4-5-5-6 3-1 2-14 4 0 5 6 5 8-5 5 0zM1122 1838l-2 2 2 2 7 0-3-4zM1133 1849l2-2-1-3-4 0zM760 1945l6-2-1-3-8 2zM940 2056l-6-7-10 11 0 1zM965 2058l2 8 10-1 2-4-13-9 12-12-12-3-2-5-2-1-7 2-1 1 5 10-9 11zM915 1961l-2-2-6 5 2 3 3 0zM921 1983l5 0 4 8 3 0-3-8 4-5-3-1-4 3-8-3zM869 1928l-5 4 1 2 4 2zM872 1947l4 2-3-8-3-2zM1064 2028l1-2-1-4-4 1 0 0zM1066 2037l4 2-4-5zM1073 2051l2 0 5-7 2 0 0-5-8 5-1-1zM886 1926l-8 2 0 6 2 1 3 10 3-1 1-9 12-2 1-7 8-3-2-4-11 2-3-6-6-1zM1091 1887l7 1 1-1 0-5-4-1-2 1zM1165 1995l7-6-6-5-6 9zM1165 1972l-3-6-5 5 1 1 6 3zM1130 1938l0-1 8-4-1-2-8 1-3 4zM1126 1917l-2 0-1 2 3 3zM827 1935l7 6-1 5 3 5 2 0 5-11 6 0 6-4-1-3-16 4-6-11zM836 1915l-6-1-2 3 5 5zM864 1920l-5-2 1 5zM1093 1823l1 5 5 2 1 11 10 3 0 12-9 4 6 3 5-4 3-12-5-6 5-7-3-6-7-1-3-7-5-1zM1073 2021l11-2 4 9 3 1 0 11 4-4-2-6 3-5-6-7 1-7-4-3-4 11-11-1zM1132 1972l-2 6 4 7-9 8 1 2 4 1 8-5 9 7 4-4-8-8 0-6 7-6 0-1-5-2-6 5zM1028 1914l2-1-1-8 4-3-2-3-3 1 1 7-5 4zM848 2029l-11 6 10 9-4 8 3 4 7-1 3-3 10 2 6-8 1-1 0-1-5-8-6-1-2-5-11-4zM861 2067l5-2-1-4-6-1zM848 1852l-4 1-1 2 1 2 7-3zM864 1864l-6 11 2 8-2 4 1 5 8 0 2-6-6-4 0-17 10-3 1-9-6 0-6 4zM888 1851l1-2-7-2-8 6zM908 1801l2 1 3 11 12-2 5 8 3-2 3-7-6-3-3-9 1-4-8 0-2 3-2-1-9 2zM1044 1899l3-2-1-3-7-2-1 2 2 5zM960 1804l1-4-5-2-2 1-2 6zM1103 2031l1 3 5 4 3-1 9 9 4-8 12 2 0-5-8-1-2-2-4-1-8 7-11-9zM1092 1836l-8 4-2 6-6 1-4 7 5 4 0 9 3 0 4-9 10 0-5-10 4-5zM1099 1873l3 1 1-4-3-2zM890 1961l10-3 12-9 12 6 0 2 6 2 8-5 0-7-2 0-8 4-9-7-7 4-4 0-12 8-6-5-6 3zM997 1991l0-3-10 0 0 2 6 3zM779 2079l10-6 8 3 3 5 6-1 1-4-5-1-10-13 1-2-6-7-3 0-1 0-3 8 1 1zM893 1809l6-6-2-5 1-4-9 0 0 8zM819 1869l-7 5 1 4 3 2 8-9zM838 1871l3 11 9 1 1-1-2-8 5-11-13 4-5-6-4 0-3 7zM769 2019l5 1 2-3-9-3zM1116 1959l2 2 8 1 3-12 2-2-11-5-3 6-4 1-4 7 0 2zM1144 1949l5-7 9-1 4-5-2-5-2 0-9 9-3-1-9 4-2 5zM966 1923l0-1-5-2-1 2zM971 1934l2 0 0-4-2-1zM1072 1819l-4-5-4 3 0 1 7 3zM1057 1809l3 2 10-8 8 12 1-12 2-2 0-2-4-3-12 6-3-1zM902 2012l4 8 0-1 3-4-3-4zM979 2087l-3 0-3 6 4 0zM946 1968l1-3-3-5-2 1zM942 1976l1 5-3 4 3 11 4 0-1-10 9-2 1-4-7-2-3-7zM1043 2066l3 6-7 9 2 1 4-1 1-10 5-2 1-5-1-2 1-2zM1054 2053l-2-3-2 2 2 7zM829 1849l3 4 2 0 2-7 8-2 0-5-11 3zM857 1830l-3-5-5 2 0 5zM807 2088l-11 3-6-9-9 5-1 6 30 0zM1043 2031l1-3-7-4-1 8 2 1zM1020 1965l-1 1-2 4 2 3-4 10 9 5 0 4 5 4 2-4-8-6 4-9zM885 1893l0-2-1-4-5 2-3 7 2 2zM892 1874l0-2-5 1 0 6zM933 2017l12-1 0-1-8-1-1 1-9-3-2 2 2 5 5 1zM845 2092l-1-2-12-4-9 7 21 0zM853 2078l-2-4 2-3-1-8-4 1 0 3 4 5-5 12zM1175 1831l-3 0-2 3 1 2 5-1zM1090 2053l-3-1-2 0-3 5 2 4 3 0 5-10zM1093 2050l9 0 11 4 2-1-6-6-1 1-7-5zM1138 2027l1-5-3-5-2 0-1 9zM1050 1937l1 4 7 0 0-1-1-3-5-2zM970 2080l9-2-2-5-10 1-2 4-3 2 3 10zM986 2083l9 3 2 0-2-7-10 1zM1003 2093l6-1-1-3-9-1zM977 1944l1-3-9 2 4 4zM913 1892l-4-3-3 3 2 5zM1028 1961l5 8 3 5 2-3-6-8 8-8-7-3zM1034 1984l2 1 1-2-1-3zM1080 1933l4-10 7 0 1-2-2-2-6 1-7-7 1 13zM1083 1951l-1 3 2 3 3-1 1-5-1-7-6-3zM886 1999l6-2-2-3-5 0zM900 2005l8-3 7 8 3 0 3-3-14-7 0-3-11 1zM935 2006l13 1 0-2-10-2-2-4-5 1-2 4zM1011 1917l17 10 0 4 5 4 2-1-2-6 2-7-1 0-8 3-11-9 1-7 4-4-1-6-5 5 0 2-8 5 1 6 2 1zM816 1952l17 11-9 12 11-1 4 6 4 0 2-3-7-6 2-10-1-1-8 0-8-12 1-4-6-4-1 0-3 8zM831 2045l6 4 1-3-6-6zM983 1836l-4 6 6 4 3-13 6-2 8 4 4-3-2-3-7 0-6-7-5 0-2-2-6 0 0 7zM1012 2022l3 2 6-6 0-2-5-2-1 0zM1087 1991l-9 3 1 3 5 3 4-1 8 5 9-5 4 3 7-1 3-3-2-4-6-2-3-4-11 4-7-9zM844 1918l-2 6 1 3 8-2-1-6zM1153 1906l2 5 5-3-4-5zM993 1848l6 3 2-1-2-7-4-2zM946 2038l-6 7 5 6 6-8-3-5zM1172 1978l3 3 1-1 0-6-3 1zM1021 2067l-3-5-4 1-1 3 6 4zM1016 2086l2 4 5-3 2-3-5-5zM1056 1910l-1-5-3-1-2 2 1 8 2 1zM1056 1927l3 1 1-2-4-4zM842 2024l1-1-1-1-8 2-1 5zM920 1822l-7 2-1 2 2 2 7 1 2-3zM941 1832l2-1 0-1-6-3-1 1zM963 1862l1-3-2-2-2-1-5 6 1 1zM867 2028l2 1 5-5-1-5-4 1-3 7zM1176 1891l0-6-6 2 0 4 4 2zM1031 2090l2 3 4 0 0-4-5-2zM1005 2027l-3 6 5 4 4-7zM845 1907l-1 2 8 1 4-3 10 2 4-4-3-3-12 0zM804 2031l-4-4-3 1-2 3 4 5zM1123 1800l-5-2-1 7 1 0zM1021 1798l3 2 2-6-5 0zM1028 1811l3 2 0-2-3-2zM1146 2039l5 1 3-8 0-4-5-5-2 1-2 8zM997 1966l-1 6-8 3 0 5 13-1 2 3 3 0 3-8-5 0-4-8zM1119 2061l2 4 4-4 0-2-3-2zM1122 2076l-3 5 6-2zM1134 2082l4 0 0-4-5 3zM985 1893l1 4 5 3 1-6-4-4zM939 1969l-3-5-2 1 0 5 3 1zM819 2037l0 6 5 2 2-12 0-1-8-4-3 3zM825 2055l2 2 4-4-5-3zM861 1942l-5 4 3 4 4-2zM916 1907l-2 7 1 2 3-1 1-9 4-4 14 2-6-10 0-3-5-2-3 3 0 3-9 8zM1090 2089l-2-5-4 0-2 2 0 4 8 0zM1120 1859l8-2-4-7-2 0zM914 2087l-3 6 9 0 1-3zM894 1945l2 1 6-4-1-1-7 1zM1001 2000l-1-2-4 2 0 3 2 3 3-1zM797 1826l1 1 3-8-8 1zM1090 1931l-2 4 3 2 4-5-1-1zM767 1797l3 4 2 0 3-7-6 0zM946 2030l1 0 3-5 1 0-9 1zM958 2023l0-5-4-2-2 9zM1007 1841l1 7 3 0 1-5-3-3zM897 2055l-4-2-5 4 0 1 8 5 2-3zM995 1860l-6-4-3 5 1 1zM1002 1865l2-3-1-3-4 2zM777 2009l1-7-2-1-5 5zM802 1892l6 4 1 0 3-9-2-1-7 5zM882 2023l3-1 1-5-6-3zM806 1867l2 1 5-4-2-6zM1142 2003l-4-2-3 1 1 7zM1089 1866l-2 4 3 4 1 0 1-8zM787 1992l-4 4 1 1 9 0-2-3zM979 1876l7 5 1-2-4-7zM926 1971l1-1 0-4-5-1-2 4zM917 1845l4-2-1-5-6-1-2 7zM1073 2029l3 4 5-3-1-2zM1098 1812l5 1 2-4-3-3-4 3zM889 1860l-8 1 0 3 2 1 7-2zM825 1858l-3-4-4 1 3 7 2 0zM1041 1839l0 5 5 3 1-1-3-6zM912 1882l5 3 3-3-1-4-4-1zM1100 2083l1-3-2-3-2 0-3 3 3 4zM1122 1823l-3 3 2 4 4 0 1-3zM1044 2093l5 0 2-1-3-3-4 1zM1083 1973l-2-7-5 6zM1149 2073l6 3 0-8zM1067 1922l2 0-1-7-5-1-1 2zM1172 1800l0 4 3 1 0-6zM1155 1987l4-6-4-2-4 4zM862 2018l-3-3-5 5 6 2zM849 1949l-3 7 0 1 8 0 0-1z"/><path fill="#a4569e" d="M378.1 995.6a1.3 1.3 0 1 0 2.5 0a1.3 1.3 0 1 0 -2.5 0zM451.6 911.8a1.9 1.9 0 1 0 3.7 0a1.9 1.9 0 1 0 -3.7 0zM558.5 940.6a1.9 1.9 0 1 0 3.9 0a1.9 1.9 0 1 0 -3.9 0zM570.8 959.9a0.9 0.9 0 1 0 1.8 0a0.9 0.9 0 1 0 -1.8 0zM565.2 955.3a2.1 2.1 0 1 0 4.1 0a2.1 2.1 0 1 0 -4.1 0zM567.8 951.5a1.1 1.1 0 1 0 2.2 0a1.1 1.1 0 1 0 -2.2 0zM568.4 963.1a1.5 1.5 0 1 0 2.9 0a1.5 1.5 0 1 0 -2.9 0zM418.6 951.7a1.6 1.6 0 1 0 3.2 0a1.6 1.6 0 1 0 -3.2 0zM389.7 983.5a1.4 1.4 0 1 0 2.8 0a1.4 1.4 0 1 0 -2.8 0zM377.2 962.0a1.9 1.9 0 1 0 3.7 0a1.9 1.9 0 1 0 -3.7 0zM403.6 974.5a1.4 1.4 0 1 0 2.9 0a1.4 1.4 0 1 0 -2.9 0zM524.9 984.8a1.0 1.0 0 1 0 1.9 0a1.0 1.0 0 1 0 -1.9 0zM524.8 979.5a1.9 1.9 0 1 0 3.7 0a1.9 1.9 0 1 0 -3.7 0zM565.0 919.6a1.3 1.3 0 1 0 2.7 0a1.3 1.3 0 1 0 -2.7 0zM462.5 912.5a1.9 1.9 0 1 0 3.9 0a1.9 1.9 0 1 0 -3.9 0zM554.7 946.1a0.9 0.9 0 1 0 1.9 0a0.9 0.9 0 1 0 -1.9 0zM552.1 938.4a1.0 1.0 0 1 0 1.9 0a1.0 1.0 0 1 0 -1.9 0zM406.5 942.3a1.9 1.9 0 1 0 3.7 0a1.9 1.9 0 1 0 -3.7 0zM387.3 973.7a1.1 1.1 0 1 0 2.1 0a1.1 1.1 0 1 0 -2.1 0zM380.6 939.1a0.9 0.9 0 1 0 1.8 0a0.9 0.9 0 1 0 -1.8 0zM408.4 967.9a1.6 1.6 0 1 0 3.1 0a1.6 1.6 0 1 0 -3.1 0zM413.0 971.3a1.1 1.1 0 1 0 2.2 0a1.1 1.1 0 1 0 -2.2 0zM419.2 965.6a1.3 1.3 0 1 0 2.5 0a1.3 1.3 0 1 0 -2.5 0zM403.5 982.0a1.3 1.3 0 1 0 2.5 0a1.3 1.3 0 1 0 -2.5 0zM477.2 1039.3a1.1 1.1 0 1 0 2.1 0a1.1 1.1 0 1 0 -2.1 0zM390.0 988.9a1.5 1.5 0 1 0 3.0 0a1.5 1.5 0 1 0 -3.0 0zM409.4 989.4a1.4 1.4 0 1 0 2.9 0a1.4 1.4 0 1 0 -2.9 0zM469.5 959.2a1.0 1.0 0 1 0 2.1 0a1.0 1.0 0 1 0 -2.1 0zM469.4 958.9a1.3 1.3 0 1 0 2.7 0a1.3 1.3 0 1 0 -2.7 0zM461.0 954.3a1.2 1.2 0 1 0 2.4 0a1.2 1.2 0 1 0 -2.4 0zM562.5 983.1a2.1 2.1 0 1 0 4.2 0a2.1 2.1 0 1 0 -4.2 0zM567.8 998.0a1.0 1.0 0 1 0 2.1 0a1.0 1.0 0 1 0 -2.1 0zM563.4 992.1a1.8 1.8 0 1 0 3.7 0a1.8 1.8 0 1 0 -3.7 0zM576.2 997.9a1.8 1.8 0 1 0 3.5 0a1.8 1.8 0 1 0 -3.5 0zM530.8 978.0a1.7 1.7 0 1 0 3.4 0a1.7 1.7 0 1 0 -3.4 0zM466.9 945.7a1.5 1.5 0 1 0 3.0 0a1.5 1.5 0 1 0 -3.0 0zM467.9 936.1a1.6 1.6 0 1 0 3.3 0a1.6 1.6 0 1 0 -3.3 0zM434.7 907.9a2.1 2.1 0 1 0 4.1 0a2.1 2.1 0 1 0 -4.1 0zM422.1 902.9a1.6 1.6 0 1 0 3.2 0a1.6 1.6 0 1 0 -3.2 0zM422.3 923.3a2.1 2.1 0 1 0 4.2 0a2.1 2.1 0 1 0 -4.2 0zM462.5 914.2a1.5 1.5 0 1 0 3.1 0a1.5 1.5 0 1 0 -3.1 0zM481.8 906.0a1.2 1.2 0 1 0 2.5 0a1.2 1.2 0 1 0 -2.5 0zM569.4 924.1a1.1 1.1 0 1 0 2.2 0a1.1 1.1 0 1 0 -2.2 0zM582.3 919.7a2.1 2.1 0 1 0 4.1 0a2.1 2.1 0 1 0 -4.1 0zM553.8 903.7a1.4 1.4 0 1 0 2.8 0a1.4 1.4 0 1 0 -2.8 0zM554.5 903.4a1.9 1.9 0 1 0 3.9 0a1.9 1.9 0 1 0 -3.9 0zM529.7 936.1a2.1 2.1 0 1 0 4.2 0a2.1 2.1 0 1 0 -4.2 0zM527.9 932.2a1.5 1.5 0 1 0 3.1 0a1.5 1.5 0 1 0 -3.1 0zM572.1 952.7a2.1 2.1 0 1 0 4.1 0a2.1 2.1 0 1 0 -4.1 0zM388.2 1015.3a1.6 1.6 0 1 0 3.3 0a1.6 1.6 0 1 0 -3.3 0zM390.6 975.6a1.2 1.2 0 1 0 2.4 0a1.2 1.2 0 1 0 -2.4 0zM379.6 1014.5a1.6 1.6 0 1 0 3.2 0a1.6 1.6 0 1 0 -3.2 0zM401.7 950.4a1.5 1.5 0 1 0 3.0 0a1.5 1.5 0 1 0 -3.0 0zM405.9 959.1a1.0 1.0 0 1 0 2.0 0a1.0 1.0 0 1 0 -2.0 0zM384.4 964.2a1.9 1.9 0 1 0 3.7 0a1.9 1.9 0 1 0 -3.7 0zM399.3 956.8a1.1 1.1 0 1 0 2.1 0a1.1 1.1 0 1 0 -2.1 0zM399.5 958.3a1.8 1.8 0 1 0 3.7 0a1.8 1.8 0 1 0 -3.7 0zM381.4 980.8a1.3 1.3 0 1 0 2.6 0a1.3 1.3 0 1 0 -2.6 0zM379.0 932.1a1.3 1.3 0 1 0 2.5 0a1.3 1.3 0 1 0 -2.5 0zM490.4 1038.0a1.2 1.2 0 1 0 2.4 0a1.2 1.2 0 1 0 -2.4 0zM497.9 1035.9a1.7 1.7 0 1 0 3.4 0a1.7 1.7 0 1 0 -3.4 0zM500.6 1026.0a1.6 1.6 0 1 0 3.2 0a1.6 1.6 0 1 0 -3.2 0zM391.7 994.2a1.1 1.1 0 1 0 2.1 0a1.1 1.1 0 1 0 -2.1 0zM396.6 1000.3a1.2 1.2 0 1 0 2.4 0a1.2 1.2 0 1 0 -2.4 0zM570.5 1036.8a1.2 1.2 0 1 0 2.5 0a1.2 1.2 0 1 0 -2.5 0zM573.9 1028.9a1.1 1.1 0 1 0 2.3 0a1.1 1.1 0 1 0 -2.3 0zM563.8 1043.1a2.0 2.0 0 1 0 4.1 0a2.0 2.0 0 1 0 -4.1 0zM448.4 1016.8a1.3 1.3 0 1 0 2.6 0a1.3 1.3 0 1 0 -2.6 0zM412.7 1003.7a2.0 2.0 0 1 0 3.9 0a2.0 2.0 0 1 0 -3.9 0zM499.2 996.8a1.2 1.2 0 1 0 2.3 0a1.2 1.2 0 1 0 -2.3 0zM489.7 986.5a2.1 2.1 0 1 0 4.1 0a2.1 2.1 0 1 0 -4.1 0zM511.1 963.5a1.8 1.8 0 1 0 3.6 0a1.8 1.8 0 1 0 -3.6 0zM557.7 1009.1a1.2 1.2 0 1 0 2.5 0a1.2 1.2 0 1 0 -2.5 0zM572.1 992.2a1.5 1.5 0 1 0 3.0 0a1.5 1.5 0 1 0 -3.0 0zM559.7 999.2a1.6 1.6 0 1 0 3.2 0a1.6 1.6 0 1 0 -3.2 0zM559.2 1006.5a2.0 2.0 0 1 0 4.0 0a2.0 2.0 0 1 0 -4.0 0zM564.0 1007.1a1.4 1.4 0 1 0 2.8 0a1.4 1.4 0 1 0 -2.8 0zM547.3 996.2a1.2 1.2 0 1 0 2.4 0a1.2 1.2 0 1 0 -2.4 0zM551.1 1001.8a1.4 1.4 0 1 0 2.7 0a1.4 1.4 0 1 0 -2.7 0zM543.1 997.2a2.1 2.1 0 1 0 4.2 0a2.1 2.1 0 1 0 -4.2 0zM516.8 995.3a1.1 1.1 0 1 0 2.3 0a1.1 1.1 0 1 0 -2.3 0zM521.3 975.7a1.2 1.2 0 1 0 2.4 0a1.2 1.2 0 1 0 -2.4 0zM556.1 960.1a2.1 2.1 0 1 0 4.1 0a2.1 2.1 0 1 0 -4.1 0zM551.5 978.4a0.9 0.9 0 1 0 1.8 0a0.9 0.9 0 1 0 -1.8 0zM528.4 1019.7a1.7 1.7 0 1 0 3.5 0a1.7 1.7 0 1 0 -3.5 0zM532.7 1003.1a1.1 1.1 0 1 0 2.2 0a1.1 1.1 0 1 0 -2.2 0zM526.9 996.7a1.5 1.5 0 1 0 2.9 0a1.5 1.5 0 1 0 -2.9 0zM527.2 996.7a1.2 1.2 0 1 0 2.3 0a1.2 1.2 0 1 0 -2.3 0zM529.1 1016.0a1.5 1.5 0 1 0 3.0 0a1.5 1.5 0 1 0 -3.0 0zM524.8 1012.3a1.9 1.9 0 1 0 3.7 0a1.9 1.9 0 1 0 -3.7 0zM502.9 1022.2a1.1 1.1 0 1 0 2.2 0a1.1 1.1 0 1 0 -2.2 0zM525.1 1021.9a1.7 1.7 0 1 0 3.4 0a1.7 1.7 0 1 0 -3.4 0zM535.5 1027.9a1.1 1.1 0 1 0 2.2 0a1.1 1.1 0 1 0 -2.2 0zM537.1 1028.0a1.3 1.3 0 1 0 2.5 0a1.3 1.3 0 1 0 -2.5 0zM551.5 1039.8a1.3 1.3 0 1 0 2.6 0a1.3 1.3 0 1 0 -2.6 0zM378.5 912.2a2.0 2.0 0 1 0 4.0 0a2.0 2.0 0 1 0 -4.0 0zM407.2 942.2a1.2 1.2 0 1 0 2.4 0a1.2 1.2 0 1 0 -2.4 0zM475.2 923.0a1.7 1.7 0 1 0 3.5 0a1.7 1.7 0 1 0 -3.5 0zM472.1 930.9a1.9 1.9 0 1 0 3.7 0a1.9 1.9 0 1 0 -3.7 0zM449.1 945.6a1.6 1.6 0 1 0 3.2 0a1.6 1.6 0 1 0 -3.2 0zM455.5 961.1a1.0 1.0 0 1 0 2.0 0a1.0 1.0 0 1 0 -2.0 0zM443.0 947.8a1.8 1.8 0 1 0 3.6 0a1.8 1.8 0 1 0 -3.6 0zM443.6 927.7a2.1 2.1 0 1 0 4.2 0a2.1 2.1 0 1 0 -4.2 0zM438.8 920.5a1.8 1.8 0 1 0 3.6 0a1.8 1.8 0 1 0 -3.6 0zM434.3 924.2a1.8 1.8 0 1 0 3.5 0a1.8 1.8 0 1 0 -3.5 0zM457.9 978.9a2.1 2.1 0 1 0 4.1 0a2.1 2.1 0 1 0 -4.1 0zM457.9 968.7a1.6 1.6 0 1 0 3.2 0a1.6 1.6 0 1 0 -3.2 0zM402.9 903.0a1.2 1.2 0 1 0 2.3 0a1.2 1.2 0 1 0 -2.3 0zM546.1 907.6a1.6 1.6 0 1 0 3.2 0a1.6 1.6 0 1 0 -3.2 0zM538.9 909.3a1.9 1.9 0 1 0 3.8 0a1.9 1.9 0 1 0 -3.8 0zM524.1 923.8a1.6 1.6 0 1 0 3.3 0a1.6 1.6 0 1 0 -3.3 0zM454.4 916.7a1.5 1.5 0 1 0 3.0 0a1.5 1.5 0 1 0 -3.0 0zM460.1 917.0a1.3 1.3 0 1 0 2.5 0a1.3 1.3 0 1 0 -2.5 0zM451.8 922.9a1.6 1.6 0 1 0 3.2 0a1.6 1.6 0 1 0 -3.2 0zM491.3 912.4a1.0 1.0 0 1 0 2.1 0a1.0 1.0 0 1 0 -2.1 0zM492.4 908.8a1.6 1.6 0 1 0 3.1 0a1.6 1.6 0 1 0 -3.1 0zM476.2 918.6a0.9 0.9 0 1 0 1.8 0a0.9 0.9 0 1 0 -1.8 0zM469.0 903.7a2.0 2.0 0 1 0 4.0 0a2.0 2.0 0 1 0 -4.0 0zM577.3 912.0a0.9 0.9 0 1 0 1.8 0a0.9 0.9 0 1 0 -1.8 0zM580.5 924.9a1.9 1.9 0 1 0 3.7 0a1.9 1.9 0 1 0 -3.7 0zM579.5 931.7a1.6 1.6 0 1 0 3.1 0a1.6 1.6 0 1 0 -3.1 0zM579.4 931.4a1.5 1.5 0 1 0 3.1 0a1.5 1.5 0 1 0 -3.1 0zM581.1 909.8a1.4 1.4 0 1 0 2.8 0a1.4 1.4 0 1 0 -2.8 0zM578.5 904.5a1.0 1.0 0 1 0 1.9 0a1.0 1.0 0 1 0 -1.9 0zM558.0 917.0a1.4 1.4 0 1 0 2.7 0a1.4 1.4 0 1 0 -2.7 0zM581.2 946.6a1.8 1.8 0 1 0 3.5 0a1.8 1.8 0 1 0 -3.5 0zM581.0 954.7a1.5 1.5 0 1 0 3.0 0a1.5 1.5 0 1 0 -3.0 0zM390.2 1016.3a1.6 1.6 0 1 0 3.2 0a1.6 1.6 0 1 0 -3.2 0zM381.8 1030.8a1.3 1.3 0 1 0 2.6 0a1.3 1.3 0 1 0 -2.6 0zM427.1 965.1a2.1 2.1 0 1 0 4.2 0a2.1 2.1 0 1 0 -4.2 0zM433.6 960.9a1.3 1.3 0 1 0 2.6 0a1.3 1.3 0 1 0 -2.6 0zM410.5 950.9a1.3 1.3 0 1 0 2.7 0a1.3 1.3 0 1 0 -2.7 0zM387.1 940.0a1.7 1.7 0 1 0 3.5 0a1.7 1.7 0 1 0 -3.5 0zM394.9 1039.5a1.9 1.9 0 1 0 3.9 0a1.9 1.9 0 1 0 -3.9 0zM398.1 1043.1a1.0 1.0 0 1 0 1.9 0a1.0 1.0 0 1 0 -1.9 0zM400.7 1035.6a1.4 1.4 0 1 0 2.7 0a1.4 1.4 0 1 0 -2.7 0zM495.0 1026.7a1.3 1.3 0 1 0 2.7 0a1.3 1.3 0 1 0 -2.7 0zM503.9 1029.5a1.0 1.0 0 1 0 1.9 0a1.0 1.0 0 1 0 -1.9 0zM502.8 1033.8a1.4 1.4 0 1 0 2.8 0a1.4 1.4 0 1 0 -2.8 0zM407.9 1008.8a1.1 1.1 0 1 0 2.2 0a1.1 1.1 0 1 0 -2.2 0zM569.1 1020.8a2.1 2.1 0 1 0 4.2 0a2.1 2.1 0 1 0 -4.2 0zM568.5 1015.6a1.8 1.8 0 1 0 3.6 0a1.8 1.8 0 1 0 -3.6 0zM469.5 984.8a1.6 1.6 0 1 0 3.3 0a1.6 1.6 0 1 0 -3.3 0zM466.9 997.2a2.1 2.1 0 1 0 4.1 0a2.1 2.1 0 1 0 -4.1 0zM465.8 1005.0a1.7 1.7 0 1 0 3.4 0a1.7 1.7 0 1 0 -3.4 0zM470.3 1029.6a1.4 1.4 0 1 0 2.9 0a1.4 1.4 0 1 0 -2.9 0zM419.1 978.2a1.6 1.6 0 1 0 3.1 0a1.6 1.6 0 1 0 -3.1 0zM423.6 988.0a1.3 1.3 0 1 0 2.7 0a1.3 1.3 0 1 0 -2.7 0zM420.0 984.7a0.9 0.9 0 1 0 1.9 0a0.9 0.9 0 1 0 -1.9 0zM425.9 1029.0a1.7 1.7 0 1 0 3.3 0a1.7 1.7 0 1 0 -3.3 0zM505.6 999.6a2.1 2.1 0 1 0 4.1 0a2.1 2.1 0 1 0 -4.1 0zM478.4 988.9a1.8 1.8 0 1 0 3.5 0a1.8 1.8 0 1 0 -3.5 0zM511.8 959.3a1.7 1.7 0 1 0 3.5 0a1.7 1.7 0 1 0 -3.5 0zM487.4 918.0a1.6 1.6 0 1 0 3.1 0a1.6 1.6 0 1 0 -3.1 0zM508.5 954.8a1.4 1.4 0 1 0 2.8 0a1.4 1.4 0 1 0 -2.8 0zM492.8 942.7a1.1 1.1 0 1 0 2.1 0a1.1 1.1 0 1 0 -2.1 0zM556.7 988.0a1.1 1.1 0 1 0 2.2 0a1.1 1.1 0 1 0 -2.2 0zM543.9 988.5a1.5 1.5 0 1 0 3.0 0a1.5 1.5 0 1 0 -3.0 0zM567.6 1006.7a1.3 1.3 0 1 0 2.6 0a1.3 1.3 0 1 0 -2.6 0zM550.3 1035.5a1.1 1.1 0 1 0 2.3 0a1.1 1.1 0 1 0 -2.3 0zM549.9 1027.6a1.5 1.5 0 1 0 3.0 0a1.5 1.5 0 1 0 -3.0 0zM549.2 1012.2a1.2 1.2 0 1 0 2.3 0a1.2 1.2 0 1 0 -2.3 0zM546.8 1015.2a2.0 2.0 0 1 0 4.1 0a2.0 2.0 0 1 0 -4.1 0zM545.2 1008.5a1.9 1.9 0 1 0 3.9 0a1.9 1.9 0 1 0 -3.9 0zM525.6 991.2a1.0 1.0 0 1 0 1.9 0a1.0 1.0 0 1 0 -1.9 0zM541.0 994.2a1.1 1.1 0 1 0 2.3 0a1.1 1.1 0 1 0 -2.3 0zM517.0 981.6a1.9 1.9 0 1 0 3.8 0a1.9 1.9 0 1 0 -3.8 0zM520.9 985.1a1.1 1.1 0 1 0 2.1 0a1.1 1.1 0 1 0 -2.1 0zM518.5 988.7a1.3 1.3 0 1 0 2.6 0a1.3 1.3 0 1 0 -2.6 0zM502.8 977.3a1.1 1.1 0 1 0 2.2 0a1.1 1.1 0 1 0 -2.2 0zM549.9 966.7a1.2 1.2 0 1 0 2.4 0a1.2 1.2 0 1 0 -2.4 0zM536.9 970.1a1.0 1.0 0 1 0 1.9 0a1.0 1.0 0 1 0 -1.9 0zM536.3 969.6a1.9 1.9 0 1 0 3.7 0a1.9 1.9 0 1 0 -3.7 0zM532.8 945.2a1.6 1.6 0 1 0 3.1 0a1.6 1.6 0 1 0 -3.1 0zM538.2 1007.1a1.8 1.8 0 1 0 3.5 0a1.8 1.8 0 1 0 -3.5 0zM522.5 1029.0a1.2 1.2 0 1 0 2.5 0a1.2 1.2 0 1 0 -2.5 0zM515.4 1010.7a1.0 1.0 0 1 0 1.9 0a1.0 1.0 0 1 0 -1.9 0zM452.7 931.6a1.3 1.3 0 1 0 2.6 0a1.3 1.3 0 1 0 -2.6 0zM453.0 942.3a1.2 1.2 0 1 0 2.4 0a1.2 1.2 0 1 0 -2.4 0zM465.7 971.2a2.0 2.0 0 1 0 4.0 0a2.0 2.0 0 1 0 -4.0 0zM418.2 910.2a1.4 1.4 0 1 0 2.8 0a1.4 1.4 0 1 0 -2.8 0zM410.5 909.6a1.5 1.5 0 1 0 2.9 0a1.5 1.5 0 1 0 -2.9 0zM413.5 912.1a1.9 1.9 0 1 0 3.9 0a1.9 1.9 0 1 0 -3.9 0zM430.7 915.2a1.0 1.0 0 1 0 2.1 0a1.0 1.0 0 1 0 -2.1 0zM430.2 916.1a1.2 1.2 0 1 0 2.4 0a1.2 1.2 0 1 0 -2.4 0zM412.0 902.4a2.0 2.0 0 1 0 4.0 0a2.0 2.0 0 1 0 -4.0 0zM501.5 926.6a1.5 1.5 0 1 0 3.0 0a1.5 1.5 0 1 0 -3.0 0zM523.4 945.4a1.3 1.3 0 1 0 2.5 0a1.3 1.3 0 1 0 -2.5 0zM517.4 918.6a0.9 0.9 0 1 0 1.9 0a0.9 0.9 0 1 0 -1.9 0zM514.3 930.6a1.0 1.0 0 1 0 2.1 0a1.0 1.0 0 1 0 -2.1 0zM485.3 906.6a1.1 1.1 0 1 0 2.2 0a1.1 1.1 0 1 0 -2.2 0zM525.1 904.7a1.1 1.1 0 1 0 2.2 0a1.1 1.1 0 1 0 -2.2 0zM571.9 906.7a1.3 1.3 0 1 0 2.5 0a1.3 1.3 0 1 0 -2.5 0zM572.8 911.1a1.8 1.8 0 1 0 3.7 0a1.8 1.8 0 1 0 -3.7 0zM567.4 907.6a1.2 1.2 0 1 0 2.4 0a1.2 1.2 0 1 0 -2.4 0zM570.5 932.6a1.0 1.0 0 1 0 2.1 0a1.0 1.0 0 1 0 -2.1 0zM535.5 929.9a1.2 1.2 0 1 0 2.4 0a1.2 1.2 0 1 0 -2.4 0zM378.8 1023.5a1.3 1.3 0 1 0 2.7 0a1.3 1.3 0 1 0 -2.7 0zM392.8 1033.8a1.3 1.3 0 1 0 2.6 0a1.3 1.3 0 1 0 -2.6 0zM392.9 1038.7a2.0 2.0 0 1 0 3.9 0a2.0 2.0 0 1 0 -3.9 0zM388.0 1042.0a1.1 1.1 0 1 0 2.2 0a1.1 1.1 0 1 0 -2.2 0zM480.1 1034.7a1.9 1.9 0 1 0 3.9 0a1.9 1.9 0 1 0 -3.9 0zM497.7 1016.7a0.9 0.9 0 1 0 1.8 0a0.9 0.9 0 1 0 -1.8 0zM508.6 1028.5a1.3 1.3 0 1 0 2.6 0a1.3 1.3 0 1 0 -2.6 0zM510.7 1024.9a1.3 1.3 0 1 0 2.5 0a1.3 1.3 0 1 0 -2.5 0zM462.7 1042.8a1.8 1.8 0 1 0 3.6 0a1.8 1.8 0 1 0 -3.6 0zM402.5 1027.1a0.9 0.9 0 1 0 1.9 0a0.9 0.9 0 1 0 -1.9 0zM403.3 1015.4a1.5 1.5 0 1 0 3.0 0a1.5 1.5 0 1 0 -3.0 0zM393.2 1015.6a1.9 1.9 0 1 0 3.8 0a1.9 1.9 0 1 0 -3.8 0zM578.1 1038.7a1.4 1.4 0 1 0 2.7 0a1.4 1.4 0 1 0 -2.7 0zM468.9 999.6a1.3 1.3 0 1 0 2.6 0a1.3 1.3 0 1 0 -2.6 0zM474.2 1000.7a1.6 1.6 0 1 0 3.2 0a1.6 1.6 0 1 0 -3.2 0zM422.9 989.0a2.0 2.0 0 1 0 4.0 0a2.0 2.0 0 1 0 -4.0 0zM421.1 1001.3a1.6 1.6 0 1 0 3.1 0a1.6 1.6 0 1 0 -3.1 0zM421.1 1013.4a1.6 1.6 0 1 0 3.3 0a1.6 1.6 0 1 0 -3.3 0zM413.1 1014.6a1.1 1.1 0 1 0 2.3 0a1.1 1.1 0 1 0 -2.3 0zM427.0 1002.3a2.0 2.0 0 1 0 4.1 0a2.0 2.0 0 1 0 -4.1 0zM518.5 959.7a1.6 1.6 0 1 0 3.2 0a1.6 1.6 0 1 0 -3.2 0zM514.9 953.3a1.7 1.7 0 1 0 3.5 0a1.7 1.7 0 1 0 -3.5 0zM503.9 916.4a1.3 1.3 0 1 0 2.6 0a1.3 1.3 0 1 0 -2.6 0zM475.7 943.0a1.0 1.0 0 1 0 2.1 0a1.0 1.0 0 1 0 -2.1 0zM494.4 939.7a1.1 1.1 0 1 0 2.1 0a1.1 1.1 0 1 0 -2.1 0zM547.1 982.1a1.3 1.3 0 1 0 2.5 0a1.3 1.3 0 1 0 -2.5 0zM575.1 1006.2a1.7 1.7 0 1 0 3.4 0a1.7 1.7 0 1 0 -3.4 0zM570.9 983.3a1.3 1.3 0 1 0 2.7 0a1.3 1.3 0 1 0 -2.7 0zM565.5 975.7a1.2 1.2 0 1 0 2.4 0a1.2 1.2 0 1 0 -2.4 0zM570.6 976.7a1.6 1.6 0 1 0 3.2 0a1.6 1.6 0 1 0 -3.2 0zM564.5 972.3a1.7 1.7 0 1 0 3.5 0a1.7 1.7 0 1 0 -3.5 0zM565.5 970.2a1.6 1.6 0 1 0 3.2 0a1.6 1.6 0 1 0 -3.2 0zM582.2 989.5a1.2 1.2 0 1 0 2.5 0a1.2 1.2 0 1 0 -2.5 0zM575.5 987.5a1.6 1.6 0 1 0 3.2 0a1.6 1.6 0 1 0 -3.2 0zM574.5 984.9a2.0 2.0 0 1 0 4.1 0a2.0 2.0 0 1 0 -4.1 0zM506.2 969.8a1.4 1.4 0 1 0 2.8 0a1.4 1.4 0 1 0 -2.8 0zM514.8 970.5a1.6 1.6 0 1 0 3.3 0a1.6 1.6 0 1 0 -3.3 0zM513.2 975.5a0.9 0.9 0 1 0 1.9 0a0.9 0.9 0 1 0 -1.9 0zM504.6 985.4a1.5 1.5 0 1 0 2.9 0a1.5 1.5 0 1 0 -2.9 0zM541.6 943.6a1.5 1.5 0 1 0 3.0 0a1.5 1.5 0 1 0 -3.0 0zM535.6 942.9a1.4 1.4 0 1 0 2.8 0a1.4 1.4 0 1 0 -2.8 0zM539.4 935.6a1.8 1.8 0 1 0 3.7 0a1.8 1.8 0 1 0 -3.7 0zM534.5 936.4a1.3 1.3 0 1 0 2.7 0a1.3 1.3 0 1 0 -2.7 0zM538.5 1034.6a1.0 1.0 0 1 0 2.0 0a1.0 1.0 0 1 0 -2.0 0zM413.0 919.2a1.8 1.8 0 1 0 3.6 0a1.8 1.8 0 1 0 -3.6 0zM395.2 923.8a1.3 1.3 0 1 0 2.7 0a1.3 1.3 0 1 0 -2.7 0zM390.5 918.4a1.9 1.9 0 1 0 3.8 0a1.9 1.9 0 1 0 -3.8 0zM390.8 934.4a1.3 1.3 0 1 0 2.6 0a1.3 1.3 0 1 0 -2.6 0zM446.1 932.8a1.6 1.6 0 1 0 3.2 0a1.6 1.6 0 1 0 -3.2 0zM446.6 933.4a1.9 1.9 0 1 0 3.8 0a1.9 1.9 0 1 0 -3.8 0zM555.9 930.4a2.0 2.0 0 1 0 4.0 0a2.0 2.0 0 1 0 -4.0 0zM505.2 908.7a0.9 0.9 0 1 0 1.9 0a0.9 0.9 0 1 0 -1.9 0zM499.6 937.4a1.8 1.8 0 1 0 3.7 0a1.8 1.8 0 1 0 -3.7 0zM521.5 918.3a2.1 2.1 0 1 0 4.2 0a2.1 2.1 0 1 0 -4.2 0zM533.4 903.8a1.3 1.3 0 1 0 2.5 0a1.3 1.3 0 1 0 -2.5 0zM440.1 1001.7a0.9 0.9 0 1 0 1.9 0a0.9 0.9 0 1 0 -1.9 0zM404.7 1036.6a1.5 1.5 0 1 0 3.0 0a1.5 1.5 0 1 0 -3.0 0zM417.0 1026.5a1.3 1.3 0 1 0 2.5 0a1.3 1.3 0 1 0 -2.5 0zM418.4 1026.4a1.1 1.1 0 1 0 2.3 0a1.1 1.1 0 1 0 -2.3 0zM462.3 1019.4a1.0 1.0 0 1 0 2.0 0a1.0 1.0 0 1 0 -2.0 0zM509.7 1006.4a1.9 1.9 0 1 0 3.9 0a1.9 1.9 0 1 0 -3.9 0zM399.5 1011.5a1.2 1.2 0 1 0 2.5 0a1.2 1.2 0 1 0 -2.5 0zM401.0 1006.1a1.2 1.2 0 1 0 2.5 0a1.2 1.2 0 1 0 -2.5 0zM555.8 1029.8a1.5 1.5 0 1 0 3.0 0a1.5 1.5 0 1 0 -3.0 0zM557.2 1033.2a0.9 0.9 0 1 0 1.9 0a0.9 0.9 0 1 0 -1.9 0zM561.8 1019.7a1.0 1.0 0 1 0 2.1 0a1.0 1.0 0 1 0 -2.1 0zM558.6 1026.1a1.8 1.8 0 1 0 3.6 0a1.8 1.8 0 1 0 -3.6 0zM559.6 1026.0a1.6 1.6 0 1 0 3.2 0a1.6 1.6 0 1 0 -3.2 0zM562.6 1028.4a1.9 1.9 0 1 0 3.7 0a1.9 1.9 0 1 0 -3.7 0zM578.1 1015.8a1.1 1.1 0 1 0 2.2 0a1.1 1.1 0 1 0 -2.2 0zM575.4 1023.2a1.4 1.4 0 1 0 2.8 0a1.4 1.4 0 1 0 -2.8 0zM581.4 1022.7a2.1 2.1 0 1 0 4.2 0a2.1 2.1 0 1 0 -4.2 0zM479.0 971.9a1.0 1.0 0 1 0 1.9 0a1.0 1.0 0 1 0 -1.9 0zM492.9 977.9a1.9 1.9 0 1 0 3.7 0a1.9 1.9 0 1 0 -3.7 0zM445.0 1000.4a1.7 1.7 0 1 0 3.5 0a1.7 1.7 0 1 0 -3.5 0zM460.4 1002.4a2.1 2.1 0 1 0 4.2 0a2.1 2.1 0 1 0 -4.2 0zM454.2 998.7a1.0 1.0 0 1 0 2.0 0a1.0 1.0 0 1 0 -2.0 0zM461.8 991.8a2.0 2.0 0 1 0 4.0 0a2.0 2.0 0 1 0 -4.0 0zM427.3 980.7a0.9 0.9 0 1 0 1.8 0a0.9 0.9 0 1 0 -1.8 0zM427.1 1021.2a1.2 1.2 0 1 0 2.3 0a1.2 1.2 0 1 0 -2.3 0zM422.7 1010.8a1.0 1.0 0 1 0 1.9 0a1.0 1.0 0 1 0 -1.9 0zM433.7 1033.4a1.8 1.8 0 1 0 3.6 0a1.8 1.8 0 1 0 -3.6 0zM435.6 1034.4a1.8 1.8 0 1 0 3.6 0a1.8 1.8 0 1 0 -3.6 0zM432.6 1042.7a1.0 1.0 0 1 0 1.9 0a1.0 1.0 0 1 0 -1.9 0zM481.1 932.5a1.8 1.8 0 1 0 3.5 0a1.8 1.8 0 1 0 -3.5 0zM476.7 933.8a0.9 0.9 0 1 0 1.8 0a0.9 0.9 0 1 0 -1.8 0zM476.1 939.4a1.3 1.3 0 1 0 2.6 0a1.3 1.3 0 1 0 -2.6 0zM491.6 925.6a1.1 1.1 0 1 0 2.2 0a1.1 1.1 0 1 0 -2.2 0zM496.5 932.4a1.2 1.2 0 1 0 2.4 0a1.2 1.2 0 1 0 -2.4 0zM572.4 967.8a1.6 1.6 0 1 0 3.1 0a1.6 1.6 0 1 0 -3.1 0zM573.9 972.8a1.8 1.8 0 1 0 3.7 0a1.8 1.8 0 1 0 -3.7 0zM583.2 977.0a1.0 1.0 0 1 0 2.0 0a1.0 1.0 0 1 0 -2.0 0zM583.0 985.7a1.7 1.7 0 1 0 3.4 0a1.7 1.7 0 1 0 -3.4 0zM547.2 959.8a1.4 1.4 0 1 0 2.8 0a1.4 1.4 0 1 0 -2.8 0zM514.7 1041.1a1.5 1.5 0 1 0 3.1 0a1.5 1.5 0 1 0 -3.1 0zM518.3 1035.9a2.1 2.1 0 1 0 4.1 0a2.1 2.1 0 1 0 -4.1 0zM531.8 1040.4a1.5 1.5 0 1 0 3.0 0a1.5 1.5 0 1 0 -3.0 0zM413.9 919.6a0.9 0.9 0 1 0 1.8 0a0.9 0.9 0 1 0 -1.8 0zM404.1 925.9a1.5 1.5 0 1 0 3.0 0a1.5 1.5 0 1 0 -3.0 0zM499.3 903.3a1.7 1.7 0 1 0 3.3 0a1.7 1.7 0 1 0 -3.3 0zM528.7 907.8a1.4 1.4 0 1 0 2.7 0a1.4 1.4 0 1 0 -2.7 0zM532.5 904.5a2.1 2.1 0 1 0 4.1 0a2.1 2.1 0 1 0 -4.1 0zM382.1 943.0a1.4 1.4 0 1 0 2.9 0a1.4 1.4 0 1 0 -2.9 0zM404.8 1036.4a1.7 1.7 0 1 0 3.5 0a1.7 1.7 0 1 0 -3.5 0zM411.7 1032.8a1.9 1.9 0 1 0 3.8 0a1.9 1.9 0 1 0 -3.8 0zM411.5 1041.6a2.1 2.1 0 1 0 4.2 0a2.1 2.1 0 1 0 -4.2 0zM421.3 1036.3a1.7 1.7 0 1 0 3.5 0a1.7 1.7 0 1 0 -3.5 0zM419.5 1034.0a1.7 1.7 0 1 0 3.4 0a1.7 1.7 0 1 0 -3.4 0zM500.2 1003.4a1.8 1.8 0 1 0 3.5 0a1.8 1.8 0 1 0 -3.5 0zM504.3 1005.8a2.0 2.0 0 1 0 4.0 0a2.0 2.0 0 1 0 -4.0 0zM466.9 1010.7a1.0 1.0 0 1 0 2.0 0a1.0 1.0 0 1 0 -2.0 0zM481.8 969.5a1.7 1.7 0 1 0 3.4 0a1.7 1.7 0 1 0 -3.4 0zM475.3 962.0a1.7 1.7 0 1 0 3.5 0a1.7 1.7 0 1 0 -3.5 0zM483.2 959.5a2.0 2.0 0 1 0 4.0 0a2.0 2.0 0 1 0 -4.0 0zM490.3 961.9a1.5 1.5 0 1 0 3.0 0a1.5 1.5 0 1 0 -3.0 0zM456.7 993.7a2.0 2.0 0 1 0 4.0 0a2.0 2.0 0 1 0 -4.0 0zM452.6 996.7a2.0 2.0 0 1 0 4.0 0a2.0 2.0 0 1 0 -4.0 0zM449.5 990.0a1.1 1.1 0 1 0 2.3 0a1.1 1.1 0 1 0 -2.3 0zM451.6 985.8a1.8 1.8 0 1 0 3.6 0a1.8 1.8 0 1 0 -3.6 0zM454.9 976.8a1.4 1.4 0 1 0 2.8 0a1.4 1.4 0 1 0 -2.8 0zM430.0 983.9a1.3 1.3 0 1 0 2.5 0a1.3 1.3 0 1 0 -2.5 0zM431.7 989.3a1.2 1.2 0 1 0 2.4 0a1.2 1.2 0 1 0 -2.4 0zM439.6 987.5a1.0 1.0 0 1 0 1.9 0a1.0 1.0 0 1 0 -1.9 0zM435.1 968.0a1.6 1.6 0 1 0 3.1 0a1.6 1.6 0 1 0 -3.1 0zM430.9 969.9a1.6 1.6 0 1 0 3.3 0a1.6 1.6 0 1 0 -3.3 0zM437.9 1012.9a1.4 1.4 0 1 0 2.9 0a1.4 1.4 0 1 0 -2.9 0zM488.5 1008.3a1.7 1.7 0 1 0 3.3 0a1.7 1.7 0 1 0 -3.3 0zM541.8 957.3a1.2 1.2 0 1 0 2.3 0a1.2 1.2 0 1 0 -2.3 0zM545.5 953.1a1.7 1.7 0 1 0 3.3 0a1.7 1.7 0 1 0 -3.3 0zM537.5 951.8a1.4 1.4 0 1 0 2.7 0a1.4 1.4 0 1 0 -2.7 0zM412.8 936.1a1.4 1.4 0 1 0 2.7 0a1.4 1.4 0 1 0 -2.7 0zM411.3 933.5a1.4 1.4 0 1 0 2.8 0a1.4 1.4 0 1 0 -2.8 0zM547.6 922.0a0.9 0.9 0 1 0 1.9 0a0.9 0.9 0 1 0 -1.9 0zM510.4 902.5a1.6 1.6 0 1 0 3.2 0a1.6 1.6 0 1 0 -3.2 0zM506.5 900.5a2.0 2.0 0 1 0 3.9 0a2.0 2.0 0 1 0 -3.9 0zM474.6 1014.7a1.8 1.8 0 1 0 3.6 0a1.8 1.8 0 1 0 -3.6 0zM436.5 968.8a2.0 2.0 0 1 0 3.9 0a2.0 2.0 0 1 0 -3.9 0zM443.0 967.0a1.1 1.1 0 1 0 2.1 0a1.1 1.1 0 1 0 -2.1 0zM447.4 1033.9a0.9 0.9 0 1 0 1.9 0a0.9 0.9 0 1 0 -1.9 0zM547.3 928.8a1.8 1.8 0 1 0 3.7 0a1.8 1.8 0 1 0 -3.7 0zM546.2 931.3a1.9 1.9 0 1 0 3.8 0a1.9 1.9 0 1 0 -3.8 0zM411.7 1041.8a1.8 1.8 0 1 0 3.6 0a1.8 1.8 0 1 0 -3.6 0zM453.9 1039.3a1.8 1.8 0 1 0 3.6 0a1.8 1.8 0 1 0 -3.6 0zM443.6 1039.8a1.9 1.9 0 1 0 3.7 0a1.9 1.9 0 1 0 -3.7 0z"/><g><g transform="rotate(0 392 967)"><ellipse cx="392" cy="967" rx="12" ry="11" fill="#7e3a96"/><ellipse cx="392" cy="967" rx="9.0" ry="8.0" fill="#f8f8f4"/></g><g transform="rotate(20 526 997)"><ellipse cx="526" cy="997" rx="10" ry="13" fill="#8a4aa0"/><ellipse cx="526" cy="997" rx="6.5" ry="9.5" fill="#c88cc8"/></g><g transform="rotate(-40 503 1008)"><ellipse cx="503" cy="1008" rx="5.0" ry="3.5" fill="#c070b0"/><ellipse cx="503" cy="1008" rx="3.5" ry="2" fill="#d8606a"/></g><line x1="545" y1="1037" x2="578" y2="1037" stroke="#222" stroke-width="0.9"/><line x1="557.5" y1="1035.4" x2="565.5" y2="1035.4" stroke="#555" stroke-width="0.7"/></g></g></g><rect x="378.5" y="900.2" width="206.5" height="143.2" fill="none" stroke="#f25555" stroke-width="1.5"/>
<g clip-path="url(#c7)"><g filter="url(#soft)"><rect x="167.5" y="1049" width="209" height="142.5" fill="#b96cbe"/><rect x="167.5" y="1049" width="209" height="142.5" filter="url(#spk2)" opacity="0.6"/><rect x="167.5" y="1049" width="209" height="142.5" filter="url(#spk)" opacity="0.9"/><g filter="url(#soft2)"><path d="M318 1112C330 1110 342 1122 344 1136C342 1148 332 1152 322 1146C314 1138 312 1122 318 1112Z" fill="#c98ab8" opacity="0.75"/></g><path fill="#f9fbf7" stroke="#f9fbf7" stroke-width="5.2" stroke-linejoin="round" transform="scale(.5)" d="M685 2184l-4-9-2-2 5-13-6-6 4-11-6 0-3 10-9 1-1 3 8 14-6 6 3 7zM681 2106l9 4 3 11 2 2-1 13 8 4 4-2-11-17 4-5-1-7-4-3-2 0-10-5zM559 2271l14 10 2-12 3-2-1-7-4 1-7 13-13-10-4 4 3 5-3 8 1 6zM603 2260l3 0 7-4 6 0 4-3 0-4 5-7-1-2-8-3-2 2-23 0-3-4-4 0-1 7 1 2 13 0zM674 2279l1 5 5 0-1-6zM688 2266l0-8-4 3 1 6zM693 2249l13 4 1-5-2-2-7-1-4-5-9 1 0 1 4 8zM358 2187l-3 3 4 4 7-3zM376 2198l5-2 5-12 12 2 1-2-3-9-4 1-8-4-4 2 1 12-9 6zM393 2103l-5-1-2 6 15 2-3 14 7 5 0-20 1-1-2-11-2-1zM554 2212l-12 0 1 6 8 1 3 6 13-1 3 3 0 8 2 3 5 0 1-6-4-3 1-11-8-4-2-9-6-1zM335 2363l7-5 12 10 2-5-5-3-1-7-3-3-8 8-9-3-1 2 0 2zM616 2293l-8 11-12-4-4 4 2 4 9 1 6-5 18 14 2-1 13 10 2-1 16 0 2-6-15-5-16-1-8-11 0-6zM340 2216l6-2-4-4-6 2zM355 2219l-1 12 2 1 6-5 11 1-1-9-5-4 3-10-3-4-4 2-2 7-12 4zM513 2329l0 6 13 1 0-1-9-10zM522 2311l-2-4-5 2 3 7zM372 2383l-1 0-3 0-3 6zM726 2269l2 2 2-2-2-6zM740 2251l-6-4-2-11-3 0-1 13-11 1-1 3 14 4zM751 2255l3-4-4-3-4 3zM530 2317l-3 4 6 7 3-2-3-9zM486 2386l1 3 6 0-1-2zM538 2092l5 4 1 12 7-4-7-10 1-2zM732 2110l3 4 4-1-4-7zM752 2120l7-6 0-12-1 0 0 9-12 3zM726 2294l3 2 4 9 7-9 7-1 0-5-2-1-11 2-4-2-4 3zM754 2307l2-1 1-2-8-7zM520 2282l2 8-15 8 0 1 2 1 15-7 7 14 2 0 1-1-2-12 8-5-2-8 3-7-2-2-10 6-6-2zM425 2115l3-1-6-6-5 2zM442 2124l2-1 0-11 9-5 0-6-5-1-4 5-1 4-10 6zM741 2386l4-6-10-1-2 2zM759 2380l0-10-8 3-3 6zM574 2097l3 3 7-4 0-4-11 0zM334 2094l7 6 5-3-2-5-13 0 0 1zM700 2100l6 4 2 15-2 3 5 8 6-8 10 1 1-3-8-11 9-9-4-5-10 4-7-7-4 0zM649 2107l4 9 3 0 6-3 1-2 9-5 1-7-11-3-1-4-12 0 0 5-13 5-1 2zM528 2219l3 3 4 0-1-7zM549 2204l4-6-1-2 2-10-6-4-5 2 2 9-7 8 1 3zM544 2234l2-5-1-2-5-1zM626 2263l2 7 8 2 4 8 10-7 2-4 8-2 3-7 0-1-12 1-3-3-2 0-9-10-4 6 0 4zM434 2356l3 1 2-2 0-4-4 0zM602 2177l2-7-3-4-2 1-4 11zM518 2133l2 8 13 5-8 17 4 2 9-9 14 3 1 1 8 4 4-5-13-3-3-7-6-2-5-12-8 1-7-6-2 1zM606 2320l-13-2-4 5 17 12-4 9 3 8 9 1 2-13 21-4-11-8-2 0-14-11zM648 2343l11 0 3-5-1-2-14 0-1 2zM752 2205l6-1 1-3-6-5-3 0zM422 2380l-4 9 5 0-1-14-3-6-3 1zM689 2151l2 3 12-2 3 4 0 15 2 3-2 11 7 2 6-6 0-6 12-6-2-9-9-3-3-9-6-3-8 5-12-6zM670 2386l1-5-14-5 1 9 11 3 0 1 3 0zM479 2360l11-1 3 6 9 2 0-10-1-1 0-11-8-1-4 10-12 0zM335 2389l14 0-7-4 4-9-4-3-2 1-4 0-3 4zM566 2300l11 5 2 15 5-8-1-4-4-1-10-17-6-4-5 9 1 7zM340 2315l2-8 1 0-3-3-4 6zM334 2340l0 5 2 0 3-2zM668 2331l5 7-6 11 2 5 10 2 1-1 9 0 4-12-8-10 13-12 1-3-8 0-8 7-11-4zM615 2096l1 4 11 1 1-6 9-3-19 0zM749 2187l7-2 3 3 0-4-9-10-4 1zM751 2215l-2 2 0 1 10 0 0-4zM478 2284l0 2 8 3 2 5 8 2-6-11zM497 2275l1-6-3-1 0 9zM388 2303l-2 7 1 0 8-6 7 4 2-2-13-6-1-6-9 2zM618 2387l-5-7-7 1-4 7 1 1 14 0zM616 2188l0 3 9 0 0-9zM422 2190l5 2 7-3 0-4-4-2-16 5-3-16-6 2 5 12-8 10-10-1-2 4 3 2 14-3zM420 2159l-1-5-3-1-2 2 2 6zM633 2168l-3-5-4-1-2 7 3 4 1 1zM332 2142l1-3-3-1-1 1 0 3zM352 2139l3-1 1-2-9-2-1 1zM716 2320l-2 0-6 1 0 0 6 5zM712 2348l-10-1-4 11 17-12 9 4 3 6 3 2 6-3 1-1-13-7 0-6-7-4zM712 2220l5 3 4 0-5-11zM727 2226l12 2 4 14 8-5 8 6 0-12-2-3-15-1-2-7-3-1-12 5zM336 2272l1 14 3 2 4-3-6-10 9-7-1-2-6 0-4-4-7 7 0 4zM493 2375l-2 3 9 2 2 8 5 1-5-12zM521 2366l-4-5-5 0 0 7zM757 2263l1 4-9 7 1 6 8 5 0 6 1 1 0-32zM534 2172l1 4 4 2 5-3 1-9-4 0zM638 2121l8-1-3-6-8-1 0 4zM653 2137l4 0 6 9 3-1 4-11 16 1 0-7-14 0-7-7-7 4-7-1zM596 2217l2-1-4-2zM584 2206l-9-3-1 1 1 4 4 1zM434 2239l2 2 2-4-2-2zM438 2249l-1 6 7 0 0-1zM453 2265l2 0 2-4-6-1zM544 2243l0 3 6 4 2-2 0-3-5-3zM736 2095l4-3 0 0-6 0zM749 2092l4 2 3-1 0-1zM625 2229l9 4 3 6 5-4-2-5-4 1-7-7zM507 2232l1-6-10 0-1 3zM514 2248l5 1 4-7 0-1-9-1zM498 2254l-1 4 6 2 6-9zM507 2274l5 2 1-2-5-3zM339 2246l1 7 3 4 4-1 4-5 7 1 7-8 5 0 0-7-5 0-6 7-11-5-5 1-8-5-3 7zM447 2241l-1 2 2 1 3-4zM462 2237l9-5 0-2-10-2-1 7zM418 2344l1-1-1-4-1 0zM565 2354l16 3 2 4 11-1 2-4-6-12 3-6-12-8-5 1-1 9-14 8zM567 2312l-1-1-5 2 0 4 7 4zM693 2096l1-4-7 0 0 1zM478 2340l0 4 5 0 2-4-2-3 2-9-3-1-3 4-8 2zM528 2093l-3 10 6 6 3-1 0-8-6-4 1-4-3 0zM734 2341l10 6 0-13 1-1 2-10-8 0 2 10-7 7zM743 2363l-8 3 1 4 6 1 2-5 8-3-6-8zM472 2316l-3 2 0 4 3 0 2-3-1-3zM500 2309l2 10 5 2 1-2-3-9-4-2zM613 2212l-1 3 5 10 10-15-2-11-9 1-2 3-20 0zM639 2222l3-1-5-7-5 0zM650 2232l2 0 0-1-4-5zM556 2339l10-5 1-3-11-6-8 5zM662 2218l-2 0-3 4 3 4 9-2 6 13 2 0 3-5 13-1 2-11-2-7-4-1-7 11-13-10zM517 2224l0 6 11 2 6 8 2-1-4-8-4 1-9-10zM529 2206l0-1-6 2-2 6zM535 2190l-1-5-1-1-4 4 3 6zM529 2251l3 0 3-3-1-6zM344 2175l-7 7-8-1 0 8 5 2 1 12 10-3 4 4 4-1 1-2-11-10 10-12zM369 2183l2-2-1-8-9 2-2 3zM516 2102l1-5-9 1-1 2 4 4zM416 2304l0 2 2 1 3 0 0-1-3-4zM429 2282l9 2 0-1-2-10 7-6-1-2-11 1-3-5-5 0-2 2 11 9-2 9-11 5 1 5zM364 2142l4 7 8 1 0 15 9-3 7 4-1-17-10-7 2-11-3-1-8 9-6 0zM604 2141l-6 8-8 0 0 7 6 3 3-1 2-3 14-7zM626 2154l5 1 8-9-7-9-5 2-4 10zM651 2154l4-1 1-3-4-5-2 0-5 2zM481 2175l-13 14 8 9 1 3 4 3 5 0 1-17 1-1 1-13 4-3 0-6-6-1-8 7-11-9-5 4 0 1zM563 2187l-3 8 7 3 4-3 0-6-5-4zM548 2296l-5 3 2 9-3 5 3 8 5-4 0-6zM362 2283l6 0 0-2-4-3zM593 2119l0 4 7 2-4-9zM491 2109l-16 0-4 6 1 2 8 1 6-7 15 5 5 9 6 1 5-4 4-1 3-6-5-5-8 4-4 0-10-12 2-8-10-2zM336 2107l-6-5-1 0 0 6 3 3zM558 2146l0 2 13 3 4 9-1 1 7-5 0-9-1-1-5 2-14-7zM567 2170l2 4 6-5-1-8zM331 2254l0-2-2-1 0 5zM479 2137l-2-10-7 0-3 4 2 8 1 0zM454 2202l0 2-11 15-11-1-1 3 4 3 6 0 5 8 5-1 1-9 2-2 1-12 11-7-5-5zM697 2266l4 2 2-1 1-5-7-3zM433 2295l-4 3 1 1 2-1zM466 2285l0-3-3-2-2 5zM491 2321l1-1 0-5-9 1zM580 2176l-6 4 6 6-1 9 8 2 3-4 18 1-1-5-3-3-15 0-2-5zM572 2251l6-1 0 0-1-2-6 0zM489 2142l1 13 7 1 7-6 13 10 4-9-9-4-3-12-9-2-5-10-6-2-3 3zM330 2172l4 0 8-7 12 4 2-3 10-1 0-6-4-1-6-10-1 1-1 9-13 7-3-1-9 3zM737 2140l-3 0-8 7 1 3 5 1 9-5 15 12 0-19 3-1 0-12-5 4-2 0zM756 2167l3 3 0-9-1 0zM414 2119l1 12 4-10zM418 2143l5 2 2-2-1-3-8-6zM346 2123l17 4 2 2 3 1 5-7-1-6-7-9-3 1-1 9-15 5-5-8-3 2zM594 2140l5-6 0-1-8-2-6 5 0 3 2 2zM332 2294l-3 1 0 6 5-6zM348 2297l11 0 4 4 7-6 0-2-14-1-2-2-2 0-6 5zM383 2285l1-10-11-8-4 2 9 8-1 9zM702 2234l1 1 7 1 4 5 5-1 1-8-5 1-10-6-2 0zM464 2219l15 4 1 2 8 1 3-5-3-8-9 1-7-5-8 4zM608 2130l-1 1 0 3 11 7 2-5-5-9zM434 2314l2 0 4 7 6-5 6-9 10 3-13-5-1-1-5-3-3 8-9 1zM704 2206l-2 3 1 8 7-14 5-3 6 2 5 12 5-2-6-10 5-7-7-6-8 8-14-5-1 1zM367 2261l3-1 1-8-2 0-4 5zM696 2376l3 11 14-2 3 4 2 0 5-7 0-3 5-6-2-7-7-3-3-6-18 13-8-6-6 0-3 12zM608 2122l3-2-1-13-1 0-7 3zM342 2154l3-2 1-5-5-3-2 3zM517 2181l4 1 6-5-1-3-8-4-1 1-13-10-2 2 0 6 13 4zM388 2093l3 1 2-2-6 0zM418 2095l-5 2 0 6 6-3 1-4zM556 2370l2 3 13 7 1 5 5 4 15 0-1-1 7-12-3-7-18 2-3-6-15-2-6-9-9 4-1 6zM450 2389l26 0-1-3 2-4-11-9-3-1-2 2 2 7-2 5zM380 2098l0-1-7 4 0 1 3 7zM382 2121l6 2 2 0 1-5-10-2zM428 2123l-3 7 8 4 0 7 4 2 8-6 14 6-4 13 3 2 6-5 0-6-3-3-3-11-9-3-4 3-7-1zM473 2305l1 1 5-8 0-1-5-2zM585 2298l8-10 11 4 5-6-4-3-3-13-7-2-3-14-5 1-1 1 3 16-5 3-2 13-2 1zM605 2362l-2 3 3 6 11-2 9 11 8-3 12 12 4 0-3-16 3-3-7-10-9 8-18-4 0-1zM623 2126l3 4 7-2-4-5zM644 2138l1 0-2-10-6 1zM480 2235l0 1 5 12-6 9 1 1 7 1 1-6-3-4 2-13zM535 2381l5 6 4 0 4 2 13 0 2-3-12-7-2-3-11-5-4 2zM522 2265l5 1 5-2-1-2-15-4-3 5 6 3zM420 2170l1 5 5-1-1-6zM436 2157l-2-6-3-1-2 2 1 7zM637 2160l3 4 7 0 7 8 4 0 3-3-5-8-8 2-6-7zM725 2322l-3 7 7 4 3-3-2-9zM747 2314l-4-7-6 8zM531 2363l2 0 2-7-6-6-3 6zM496 2205l3 12 11 0 5-18 7-2-3-6-4-1-4 6-15-2zM447 2182l-3 3-1 5 5 4 6-5-5-7zM716 2309l7 5 3-1-4-10-6-3 0-9-4-3-4 4-1 9-1 1 0 9zM638 2176l13 7 0 2 7 4 1-2-2-6-7 1-8-9-2 0zM658 2205l3 3 3-2-4-4zM680 2209l1-2-1-5-5 4zM686 2193l-5 1 1 4zM633 2193l3 12 2 0 5-4 7 0 2-4-10-8-9-5zM410 2233l0 2 4 4 3 0-8-15 12-5 4-12 13 2 5-7-5-4-11 5-5-3-10 6 1 6-1 7-13 5zM449 2173l5-5 0-2-5-3-3 0zM562 2111l13 6 0 3 6 7 4-3-1-4-11-5-1-7-7-7-1-9-8 4 7 10-14 10 1 1zM413 2272l3 3 2-1-5-3zM538 2115l-5 2-4 7 4 3 6 0 4-5-3-5zM505 2243l0-2-9-2-1 7zM457 2178l4 6 6-6-7-4zM753 2343l6 0 0-5-6 1zM382 2382l7-4-3-1-5 2zM407 2386l2-5-1-2-6 1zM744 2125l-4-3-4 1-2 4 2 3zM616 2265l-5 3 2 9 4 4 1 3 10 5 5-4-3-5-9-3-3-11zM554 2233l-2 3 3 2 7-4 0-1zM611 2166l6 0 2-8-1-2-11 5zM719 2276l-3 1 0 3 5 4 5-4zM735 2281l6-1-2-8-6 8zM747 2264l-5-4-4 3 2 7zM461 2253l-2-8 0 0-5 6zM588 2104l-6 4 0 1 6 3 4-4zM737 2189l3 0-3-13-9 4 0 2zM503 2336l0-6-6-2-1 1-2 6zM511 2351l6 0 3-5-9-2zM575 2139l2-1 0-3-6-7-6 6zM546 2131l3 9 2 0 4-5-7-6zM350 2112l3 0 0-6-2-2-5 3zM737 2158l2 10 10-3 0-2-8-7zM363 2351l-2 1 0 2 3 2 4 0 4 2 3-2-5-3zM525 2380l0-4-12 2 3 7zM736 2203l4 7 2 1 1-2-2-11-3 1zM400 2143l1 4 6 1 2-2-2-8-4 0-10-7-2 7zM702 2330l-5 4 3 3 6 1 2-4zM462 2100l0 12-9 5 0 5 7 2 3-4-2-6 8-15 11 0 0-7-7 0-7 6zM759 2318l0-3-4 1 0 1zM562 2121l-6 3 4 4 5-6zM356 2096l0 1 3 3 6-1-6-7-5 0zM626 2115l1-5-9 0 1 8zM697 2168l0-6-4 1-3 5zM560 2172l-7-2-1 5 7 4 2-1zM541 2255l-2 3 2 4 5-5zM563 2259l1-3 0-2-6 0-1 1zM410 2297l2-2-2-4-7 1-1 2zM631 2358l10-8-3-5-14 3-1 8zM649 2353l11 15 12 5 3-10-12-2-4-8zM419 2332l2 0 2-2-1-3-5-1zM384 2205l-6 2-1 5 9 0 1-4zM667 2192l-2 3 5 4 3-3 0-4zM605 2097l-8-4-3 1-1 3 6 5 6-3zM337 2130l1-1-9-8 0 7zM441 2095l-1-3-5 0-1 2 5 4zM651 2293l4-2-3-8-7 4zM720 2140l8-6-1-3-6 0-4 7zM682 2389l8 0-1-4-9 0zM676 2120l7-1-1-3-6-2-4 2zM465 2362l5 2 1-1-2-8-5 1zM585 2218l-1 7 5 0zM599 2229l9-1-3-5zM697 2185l2-9-8 0 4 9 1 1zM445 2155l2 0 2-7-3-2-3 3zM483 2375l2-7-7 0-1 2zM504 2289l7-4 0-1-8-2-2 2zM586 2163l-3 2 0 4 5 3 3-6zM391 2388l0 1 7 0-3-4zM541 2336l-5 2-1 2 7 9 7-4zM479 2158l3-2-1-9-8 1 0 4zM427 2102l5 5 3-2-7-6zM329 2151l0 6 4-1-1-5zM759 2357l0-5-4 0zM498 2177l-1 8 10 2 1-3-1-4zM395 2210l-1 4 1 1 9-3-1-4zM470 2252l4-5-2-5-5 2zM445 2368l0-6-2-1-2 1-1 6 3 1zM434 2167l1 8 4 2 1-1-3-9zM353 2273l-4 4 4 5 3-8zM428 2230l-3-3-4 2 4 7zM454 2368l4-4-1-4-5 2 0 5zM610 2180l1 2 8-6-1-2-6 0zM689 2204l7 0-2-6-5 5zM742 2102l3 4 4-2 1-3-5-2zM662 2251l1-3-6-3-3 6zM755 2325l-1 6 5-1 0-3zM401 2165l6-1-2-7-4-1zM465 2301l1-6-5-1-2 5z"/><path fill="#a85cb0" d="M166.7 1114.8a1.2 1.2 0 1 0 2.4 0a1.2 1.2 0 1 0 -2.4 0zM167.9 1110.5a1.3 1.3 0 1 0 2.5 0a1.3 1.3 0 1 0 -2.5 0zM198.6 1085.3a1.0 1.0 0 1 0 2.1 0a1.0 1.0 0 1 0 -2.1 0zM323.4 1149.2a2.1 2.1 0 1 0 4.1 0a2.1 2.1 0 1 0 -4.1 0zM257.9 1101.5a1.5 1.5 0 1 0 2.9 0a1.5 1.5 0 1 0 -2.9 0zM211.7 1105.6a2.2 2.2 0 1 0 4.4 0a2.2 2.2 0 1 0 -4.4 0zM211.2 1111.3a1.6 1.6 0 1 0 3.2 0a1.6 1.6 0 1 0 -3.2 0zM267.7 1121.2a1.8 1.8 0 1 0 3.7 0a1.8 1.8 0 1 0 -3.7 0zM170.1 1102.4a1.6 1.6 0 1 0 3.2 0a1.6 1.6 0 1 0 -3.2 0zM172.6 1109.2a1.1 1.1 0 1 0 2.3 0a1.1 1.1 0 1 0 -2.3 0zM179.2 1110.3a1.6 1.6 0 1 0 3.2 0a1.6 1.6 0 1 0 -3.2 0zM174.1 1110.4a1.0 1.0 0 1 0 1.9 0a1.0 1.0 0 1 0 -1.9 0zM191.8 1115.9a1.1 1.1 0 1 0 2.1 0a1.1 1.1 0 1 0 -2.1 0zM200.5 1092.4a1.8 1.8 0 1 0 3.7 0a1.8 1.8 0 1 0 -3.7 0zM191.1 1092.8a2.0 2.0 0 1 0 4.0 0a2.0 2.0 0 1 0 -4.0 0zM172.9 1095.4a1.5 1.5 0 1 0 2.9 0a1.5 1.5 0 1 0 -2.9 0zM305.9 1116.1a1.9 1.9 0 1 0 3.8 0a1.9 1.9 0 1 0 -3.8 0zM294.3 1143.7a1.9 1.9 0 1 0 3.9 0a1.9 1.9 0 1 0 -3.9 0zM286.4 1142.8a2.2 2.2 0 1 0 4.3 0a2.2 2.2 0 1 0 -4.3 0zM374.8 1130.6a1.0 1.0 0 1 0 2.0 0a1.0 1.0 0 1 0 -2.0 0zM360.7 1109.8a1.5 1.5 0 1 0 2.9 0a1.5 1.5 0 1 0 -2.9 0zM371.0 1112.6a1.5 1.5 0 1 0 3.1 0a1.5 1.5 0 1 0 -3.1 0zM371.9 1111.6a1.0 1.0 0 1 0 2.0 0a1.0 1.0 0 1 0 -2.0 0zM326.7 1120.2a1.0 1.0 0 1 0 2.1 0a1.0 1.0 0 1 0 -2.1 0zM341.9 1148.7a1.2 1.2 0 1 0 2.3 0a1.2 1.2 0 1 0 -2.3 0zM334.9 1153.3a1.1 1.1 0 1 0 2.1 0a1.1 1.1 0 1 0 -2.1 0zM369.5 1127.3a1.9 1.9 0 1 0 3.8 0a1.9 1.9 0 1 0 -3.8 0zM345.8 1141.7a2.2 2.2 0 1 0 4.4 0a2.2 2.2 0 1 0 -4.4 0zM358.5 1176.8a1.5 1.5 0 1 0 3.0 0a1.5 1.5 0 1 0 -3.0 0zM273.3 1082.0a1.4 1.4 0 1 0 2.7 0a1.4 1.4 0 1 0 -2.7 0zM214.1 1088.7a1.3 1.3 0 1 0 2.5 0a1.3 1.3 0 1 0 -2.5 0zM212.5 1081.9a2.1 2.1 0 1 0 4.2 0a2.1 2.1 0 1 0 -4.2 0zM222.2 1101.6a2.2 2.2 0 1 0 4.4 0a2.2 2.2 0 1 0 -4.4 0zM218.5 1107.0a1.8 1.8 0 1 0 3.6 0a1.8 1.8 0 1 0 -3.6 0zM196.9 1075.6a1.4 1.4 0 1 0 2.7 0a1.4 1.4 0 1 0 -2.7 0zM202.4 1076.7a1.6 1.6 0 1 0 3.2 0a1.6 1.6 0 1 0 -3.2 0zM204.7 1113.1a1.7 1.7 0 1 0 3.3 0a1.7 1.7 0 1 0 -3.3 0zM200.5 1118.4a1.7 1.7 0 1 0 3.4 0a1.7 1.7 0 1 0 -3.4 0zM200.4 1117.6a1.9 1.9 0 1 0 3.9 0a1.9 1.9 0 1 0 -3.9 0zM207.4 1122.2a1.6 1.6 0 1 0 3.1 0a1.6 1.6 0 1 0 -3.1 0zM263.4 1113.2a1.5 1.5 0 1 0 2.9 0a1.5 1.5 0 1 0 -2.9 0zM282.2 1125.2a1.0 1.0 0 1 0 2.0 0a1.0 1.0 0 1 0 -2.0 0zM276.7 1124.4a1.6 1.6 0 1 0 3.1 0a1.6 1.6 0 1 0 -3.1 0zM268.0 1124.4a2.1 2.1 0 1 0 4.2 0a2.1 2.1 0 1 0 -4.2 0zM170.2 1155.4a2.2 2.2 0 1 0 4.3 0a2.2 2.2 0 1 0 -4.3 0zM177.1 1150.7a1.4 1.4 0 1 0 2.9 0a1.4 1.4 0 1 0 -2.9 0zM173.0 1142.8a2.1 2.1 0 1 0 4.3 0a2.1 2.1 0 1 0 -4.3 0zM176.5 1143.0a1.3 1.3 0 1 0 2.6 0a1.3 1.3 0 1 0 -2.6 0zM190.5 1083.4a1.7 1.7 0 1 0 3.4 0a1.7 1.7 0 1 0 -3.4 0zM177.0 1103.3a1.4 1.4 0 1 0 2.9 0a1.4 1.4 0 1 0 -2.9 0zM177.7 1099.7a1.6 1.6 0 1 0 3.2 0a1.6 1.6 0 1 0 -3.2 0zM167.6 1067.7a2.2 2.2 0 1 0 4.4 0a2.2 2.2 0 1 0 -4.4 0zM331.4 1122.8a2.1 2.1 0 1 0 4.1 0a2.1 2.1 0 1 0 -4.1 0zM356.3 1176.0a1.5 1.5 0 1 0 3.1 0a1.5 1.5 0 1 0 -3.1 0zM295.7 1124.3a2.2 2.2 0 1 0 4.4 0a2.2 2.2 0 1 0 -4.4 0zM306.1 1121.0a1.1 1.1 0 1 0 2.1 0a1.1 1.1 0 1 0 -2.1 0zM315.2 1191.3a1.0 1.0 0 1 0 2.1 0a1.0 1.0 0 1 0 -2.1 0zM298.8 1178.4a2.2 2.2 0 1 0 4.3 0a2.2 2.2 0 1 0 -4.3 0zM295.9 1172.0a2.1 2.1 0 1 0 4.1 0a2.1 2.1 0 1 0 -4.1 0zM315.6 1154.6a1.1 1.1 0 1 0 2.2 0a1.1 1.1 0 1 0 -2.2 0zM303.5 1154.8a1.3 1.3 0 1 0 2.6 0a1.3 1.3 0 1 0 -2.6 0zM284.8 1163.1a2.1 2.1 0 1 0 4.2 0a2.1 2.1 0 1 0 -4.2 0zM293.4 1156.0a1.7 1.7 0 1 0 3.4 0a1.7 1.7 0 1 0 -3.4 0zM290.9 1151.9a2.2 2.2 0 1 0 4.3 0a2.2 2.2 0 1 0 -4.3 0zM330.3 1127.1a2.1 2.1 0 1 0 4.3 0a2.1 2.1 0 1 0 -4.3 0zM312.0 1125.5a2.2 2.2 0 1 0 4.5 0a2.2 2.2 0 1 0 -4.5 0zM344.8 1134.3a2.0 2.0 0 1 0 3.9 0a2.0 2.0 0 1 0 -3.9 0zM341.5 1126.6a1.0 1.0 0 1 0 2.0 0a1.0 1.0 0 1 0 -2.0 0zM339.6 1136.4a1.1 1.1 0 1 0 2.1 0a1.1 1.1 0 1 0 -2.1 0zM372.7 1174.4a1.2 1.2 0 1 0 2.5 0a1.2 1.2 0 1 0 -2.5 0zM359.9 1179.9a1.6 1.6 0 1 0 3.1 0a1.6 1.6 0 1 0 -3.1 0zM228.1 1111.1a1.6 1.6 0 1 0 3.3 0a1.6 1.6 0 1 0 -3.3 0zM202.7 1066.3a2.1 2.1 0 1 0 4.2 0a2.1 2.1 0 1 0 -4.2 0zM209.7 1075.0a2.2 2.2 0 1 0 4.5 0a2.2 2.2 0 1 0 -4.5 0zM205.1 1073.7a2.2 2.2 0 1 0 4.3 0a2.2 2.2 0 1 0 -4.3 0zM275.7 1076.0a2.0 2.0 0 1 0 3.9 0a2.0 2.0 0 1 0 -3.9 0zM250.6 1075.6a1.6 1.6 0 1 0 3.3 0a1.6 1.6 0 1 0 -3.3 0zM219.8 1110.8a2.1 2.1 0 1 0 4.2 0a2.1 2.1 0 1 0 -4.2 0zM227.1 1112.3a1.2 1.2 0 1 0 2.3 0a1.2 1.2 0 1 0 -2.3 0zM225.9 1117.5a1.7 1.7 0 1 0 3.3 0a1.7 1.7 0 1 0 -3.3 0zM219.7 1118.5a1.9 1.9 0 1 0 3.8 0a1.9 1.9 0 1 0 -3.8 0zM284.0 1164.0a1.9 1.9 0 1 0 3.7 0a1.9 1.9 0 1 0 -3.7 0zM234.3 1128.4a1.8 1.8 0 1 0 3.6 0a1.8 1.8 0 1 0 -3.6 0zM238.6 1123.8a1.0 1.0 0 1 0 2.0 0a1.0 1.0 0 1 0 -2.0 0zM274.2 1128.4a1.7 1.7 0 1 0 3.4 0a1.7 1.7 0 1 0 -3.4 0zM168.8 1094.9a1.4 1.4 0 1 0 2.7 0a1.4 1.4 0 1 0 -2.7 0zM186.3 1124.3a1.0 1.0 0 1 0 2.1 0a1.0 1.0 0 1 0 -2.1 0zM186.0 1124.7a1.9 1.9 0 1 0 3.8 0a1.9 1.9 0 1 0 -3.8 0zM209.0 1148.5a1.8 1.8 0 1 0 3.5 0a1.8 1.8 0 1 0 -3.5 0zM182.1 1051.5a1.8 1.8 0 1 0 3.6 0a1.8 1.8 0 1 0 -3.6 0zM300.3 1067.9a1.4 1.4 0 1 0 2.7 0a1.4 1.4 0 1 0 -2.7 0zM307.9 1075.5a1.7 1.7 0 1 0 3.4 0a1.7 1.7 0 1 0 -3.4 0zM308.5 1073.2a1.5 1.5 0 1 0 3.1 0a1.5 1.5 0 1 0 -3.1 0zM167.8 1079.3a1.6 1.6 0 1 0 3.3 0a1.6 1.6 0 1 0 -3.3 0zM173.7 1072.7a1.8 1.8 0 1 0 3.6 0a1.8 1.8 0 1 0 -3.6 0zM338.6 1111.3a1.3 1.3 0 1 0 2.6 0a1.3 1.3 0 1 0 -2.6 0zM348.9 1185.1a1.2 1.2 0 1 0 2.4 0a1.2 1.2 0 1 0 -2.4 0zM348.1 1182.3a1.0 1.0 0 1 0 2.0 0a1.0 1.0 0 1 0 -2.0 0zM288.6 1121.4a1.4 1.4 0 1 0 2.8 0a1.4 1.4 0 1 0 -2.8 0zM280.6 1117.8a2.1 2.1 0 1 0 4.2 0a2.1 2.1 0 1 0 -4.2 0zM284.6 1154.1a1.4 1.4 0 1 0 2.8 0a1.4 1.4 0 1 0 -2.8 0zM267.8 1148.4a1.0 1.0 0 1 0 2.0 0a1.0 1.0 0 1 0 -2.0 0zM265.2 1128.5a2.0 2.0 0 1 0 4.1 0a2.0 2.0 0 1 0 -4.1 0zM259.6 1135.2a1.6 1.6 0 1 0 3.2 0a1.6 1.6 0 1 0 -3.2 0zM261.0 1118.3a1.6 1.6 0 1 0 3.3 0a1.6 1.6 0 1 0 -3.3 0zM332.7 1137.5a2.0 2.0 0 1 0 4.1 0a2.0 2.0 0 1 0 -4.1 0zM325.6 1137.9a1.4 1.4 0 1 0 2.8 0a1.4 1.4 0 1 0 -2.8 0zM354.0 1128.2a1.4 1.4 0 1 0 2.9 0a1.4 1.4 0 1 0 -2.9 0zM366.3 1115.9a1.4 1.4 0 1 0 2.9 0a1.4 1.4 0 1 0 -2.9 0zM356.8 1102.8a2.0 2.0 0 1 0 4.0 0a2.0 2.0 0 1 0 -4.0 0zM323.7 1060.1a1.4 1.4 0 1 0 2.9 0a1.4 1.4 0 1 0 -2.9 0zM326.0 1070.5a1.4 1.4 0 1 0 2.8 0a1.4 1.4 0 1 0 -2.8 0zM368.1 1179.7a1.9 1.9 0 1 0 3.7 0a1.9 1.9 0 1 0 -3.7 0zM372.5 1184.7a1.2 1.2 0 1 0 2.4 0a1.2 1.2 0 1 0 -2.4 0zM291.0 1072.5a1.7 1.7 0 1 0 3.5 0a1.7 1.7 0 1 0 -3.5 0zM237.4 1114.5a1.2 1.2 0 1 0 2.4 0a1.2 1.2 0 1 0 -2.4 0zM236.4 1113.3a1.4 1.4 0 1 0 2.7 0a1.4 1.4 0 1 0 -2.7 0zM254.6 1092.6a1.8 1.8 0 1 0 3.7 0a1.8 1.8 0 1 0 -3.7 0zM278.3 1052.9a1.1 1.1 0 1 0 2.3 0a1.1 1.1 0 1 0 -2.3 0zM227.6 1145.3a1.9 1.9 0 1 0 3.7 0a1.9 1.9 0 1 0 -3.7 0zM218.5 1145.1a1.3 1.3 0 1 0 2.6 0a1.3 1.3 0 1 0 -2.6 0zM219.9 1142.4a2.0 2.0 0 1 0 4.1 0a2.0 2.0 0 1 0 -4.1 0zM204.4 1182.6a1.8 1.8 0 1 0 3.6 0a1.8 1.8 0 1 0 -3.6 0zM263.3 1170.6a1.1 1.1 0 1 0 2.2 0a1.1 1.1 0 1 0 -2.2 0zM268.1 1111.0a1.7 1.7 0 1 0 3.4 0a1.7 1.7 0 1 0 -3.4 0zM185.6 1139.5a1.0 1.0 0 1 0 2.1 0a1.0 1.0 0 1 0 -2.1 0zM191.8 1135.3a1.0 1.0 0 1 0 2.1 0a1.0 1.0 0 1 0 -2.1 0zM197.2 1055.9a1.9 1.9 0 1 0 3.8 0a1.9 1.9 0 1 0 -3.8 0zM203.6 1055.4a1.0 1.0 0 1 0 2.0 0a1.0 1.0 0 1 0 -2.0 0zM186.2 1057.0a1.7 1.7 0 1 0 3.4 0a1.7 1.7 0 1 0 -3.4 0zM374.9 1053.5a1.5 1.5 0 1 0 3.1 0a1.5 1.5 0 1 0 -3.1 0zM369.6 1055.1a2.1 2.1 0 1 0 4.3 0a2.1 2.1 0 1 0 -4.3 0zM348.8 1060.7a1.6 1.6 0 1 0 3.2 0a1.6 1.6 0 1 0 -3.2 0zM368.8 1058.5a1.8 1.8 0 1 0 3.6 0a1.8 1.8 0 1 0 -3.6 0zM319.8 1074.9a1.2 1.2 0 1 0 2.3 0a1.2 1.2 0 1 0 -2.3 0zM310.5 1067.9a1.6 1.6 0 1 0 3.1 0a1.6 1.6 0 1 0 -3.1 0zM287.1 1052.7a1.3 1.3 0 1 0 2.7 0a1.3 1.3 0 1 0 -2.7 0zM367.3 1050.4a1.4 1.4 0 1 0 2.9 0a1.4 1.4 0 1 0 -2.9 0zM359.3 1054.6a1.4 1.4 0 1 0 2.8 0a1.4 1.4 0 1 0 -2.8 0zM361.1 1054.7a1.8 1.8 0 1 0 3.5 0a1.8 1.8 0 1 0 -3.5 0zM190.9 1100.0a1.6 1.6 0 1 0 3.1 0a1.6 1.6 0 1 0 -3.1 0zM194.1 1103.3a1.6 1.6 0 1 0 3.2 0a1.6 1.6 0 1 0 -3.2 0zM193.2 1094.7a1.2 1.2 0 1 0 2.5 0a1.2 1.2 0 1 0 -2.5 0zM197.9 1095.4a2.1 2.1 0 1 0 4.1 0a2.1 2.1 0 1 0 -4.1 0zM200.8 1101.3a1.7 1.7 0 1 0 3.4 0a1.7 1.7 0 1 0 -3.4 0zM178.2 1065.7a2.2 2.2 0 1 0 4.3 0a2.2 2.2 0 1 0 -4.3 0zM308.1 1115.5a1.7 1.7 0 1 0 3.3 0a1.7 1.7 0 1 0 -3.3 0zM311.9 1108.5a2.1 2.1 0 1 0 4.3 0a2.1 2.1 0 1 0 -4.3 0zM327.8 1106.9a1.6 1.6 0 1 0 3.3 0a1.6 1.6 0 1 0 -3.3 0zM366.4 1135.0a1.3 1.3 0 1 0 2.6 0a1.3 1.3 0 1 0 -2.6 0zM363.6 1141.5a1.3 1.3 0 1 0 2.6 0a1.3 1.3 0 1 0 -2.6 0zM370.7 1141.5a2.2 2.2 0 1 0 4.4 0a2.2 2.2 0 1 0 -4.4 0zM319.5 1170.0a1.0 1.0 0 1 0 2.0 0a1.0 1.0 0 1 0 -2.0 0zM319.3 1166.8a2.0 2.0 0 1 0 4.0 0a2.0 2.0 0 1 0 -4.0 0zM326.5 1185.5a1.1 1.1 0 1 0 2.3 0a1.1 1.1 0 1 0 -2.3 0zM264.8 1100.4a1.6 1.6 0 1 0 3.3 0a1.6 1.6 0 1 0 -3.3 0zM295.4 1112.6a2.0 2.0 0 1 0 4.0 0a2.0 2.0 0 1 0 -4.0 0zM301.5 1107.8a2.1 2.1 0 1 0 4.1 0a2.1 2.1 0 1 0 -4.1 0zM311.3 1161.4a1.4 1.4 0 1 0 2.8 0a1.4 1.4 0 1 0 -2.8 0zM303.5 1155.2a1.1 1.1 0 1 0 2.3 0a1.1 1.1 0 1 0 -2.3 0zM258.8 1150.1a2.2 2.2 0 1 0 4.4 0a2.2 2.2 0 1 0 -4.4 0zM248.4 1151.1a2.2 2.2 0 1 0 4.4 0a2.2 2.2 0 1 0 -4.4 0zM271.4 1145.4a1.9 1.9 0 1 0 3.9 0a1.9 1.9 0 1 0 -3.9 0zM274.8 1146.0a1.4 1.4 0 1 0 2.8 0a1.4 1.4 0 1 0 -2.8 0zM251.0 1132.6a1.6 1.6 0 1 0 3.2 0a1.6 1.6 0 1 0 -3.2 0zM356.7 1113.8a1.2 1.2 0 1 0 2.4 0a1.2 1.2 0 1 0 -2.4 0zM330.8 1057.6a2.2 2.2 0 1 0 4.4 0a2.2 2.2 0 1 0 -4.4 0zM374.4 1159.6a1.5 1.5 0 1 0 3.0 0a1.5 1.5 0 1 0 -3.0 0zM372.7 1167.4a2.0 2.0 0 1 0 4.0 0a2.0 2.0 0 1 0 -4.0 0zM356.7 1165.6a1.8 1.8 0 1 0 3.6 0a1.8 1.8 0 1 0 -3.6 0zM366.9 1165.9a1.2 1.2 0 1 0 2.3 0a1.2 1.2 0 1 0 -2.3 0zM234.3 1101.8a1.9 1.9 0 1 0 3.9 0a1.9 1.9 0 1 0 -3.9 0zM239.1 1094.2a1.3 1.3 0 1 0 2.6 0a1.3 1.3 0 1 0 -2.6 0zM221.3 1088.8a1.4 1.4 0 1 0 2.9 0a1.4 1.4 0 1 0 -2.9 0zM219.0 1080.8a1.0 1.0 0 1 0 2.0 0a1.0 1.0 0 1 0 -2.0 0zM235.3 1088.0a1.6 1.6 0 1 0 3.2 0a1.6 1.6 0 1 0 -3.2 0zM235.7 1088.1a1.1 1.1 0 1 0 2.3 0a1.1 1.1 0 1 0 -2.3 0zM263.0 1085.6a2.1 2.1 0 1 0 4.3 0a2.1 2.1 0 1 0 -4.3 0zM268.1 1080.8a1.8 1.8 0 1 0 3.5 0a1.8 1.8 0 1 0 -3.5 0zM264.6 1075.2a2.1 2.1 0 1 0 4.2 0a2.1 2.1 0 1 0 -4.2 0zM247.7 1060.0a1.3 1.3 0 1 0 2.5 0a1.3 1.3 0 1 0 -2.5 0zM257.9 1063.0a1.4 1.4 0 1 0 2.9 0a1.4 1.4 0 1 0 -2.9 0zM252.9 1054.8a2.2 2.2 0 1 0 4.5 0a2.2 2.2 0 1 0 -4.5 0zM279.2 1058.1a2.0 2.0 0 1 0 4.0 0a2.0 2.0 0 1 0 -4.0 0zM267.7 1055.3a1.7 1.7 0 1 0 3.4 0a1.7 1.7 0 1 0 -3.4 0zM270.7 1057.0a1.1 1.1 0 1 0 2.2 0a1.1 1.1 0 1 0 -2.2 0zM222.1 1125.4a2.2 2.2 0 1 0 4.4 0a2.2 2.2 0 1 0 -4.4 0zM224.5 1150.2a2.1 2.1 0 1 0 4.2 0a2.1 2.1 0 1 0 -4.2 0zM199.1 1179.7a1.0 1.0 0 1 0 2.1 0a1.0 1.0 0 1 0 -2.1 0zM168.3 1161.9a1.7 1.7 0 1 0 3.4 0a1.7 1.7 0 1 0 -3.4 0zM171.8 1169.7a1.2 1.2 0 1 0 2.4 0a1.2 1.2 0 1 0 -2.4 0zM263.2 1185.2a1.5 1.5 0 1 0 3.1 0a1.5 1.5 0 1 0 -3.1 0zM237.2 1131.5a1.5 1.5 0 1 0 2.9 0a1.5 1.5 0 1 0 -2.9 0zM258.4 1160.6a1.5 1.5 0 1 0 2.9 0a1.5 1.5 0 1 0 -2.9 0zM279.7 1179.6a1.1 1.1 0 1 0 2.1 0a1.1 1.1 0 1 0 -2.1 0zM181.1 1133.0a1.7 1.7 0 1 0 3.3 0a1.7 1.7 0 1 0 -3.3 0zM179.3 1136.0a1.3 1.3 0 1 0 2.6 0a1.3 1.3 0 1 0 -2.6 0zM203.6 1055.3a1.1 1.1 0 1 0 2.3 0a1.1 1.1 0 1 0 -2.3 0zM212.6 1058.8a2.2 2.2 0 1 0 4.3 0a2.2 2.2 0 1 0 -4.3 0zM335.7 1054.5a2.0 2.0 0 1 0 4.0 0a2.0 2.0 0 1 0 -4.0 0zM341.1 1056.5a1.9 1.9 0 1 0 3.8 0a1.9 1.9 0 1 0 -3.8 0zM327.5 1078.5a1.4 1.4 0 1 0 2.8 0a1.4 1.4 0 1 0 -2.8 0zM322.2 1061.8a1.2 1.2 0 1 0 2.5 0a1.2 1.2 0 1 0 -2.5 0zM300.7 1063.3a2.2 2.2 0 1 0 4.4 0a2.2 2.2 0 1 0 -4.4 0zM297.7 1053.7a1.6 1.6 0 1 0 3.2 0a1.6 1.6 0 1 0 -3.2 0zM314.1 1052.9a1.1 1.1 0 1 0 2.2 0a1.1 1.1 0 1 0 -2.2 0zM321.4 1055.4a1.8 1.8 0 1 0 3.6 0a1.8 1.8 0 1 0 -3.6 0zM323.7 1050.5a1.8 1.8 0 1 0 3.6 0a1.8 1.8 0 1 0 -3.6 0zM176.8 1052.2a1.9 1.9 0 1 0 3.7 0a1.9 1.9 0 1 0 -3.7 0zM174.6 1049.5a1.1 1.1 0 1 0 2.3 0a1.1 1.1 0 1 0 -2.3 0zM176.0 1057.3a2.1 2.1 0 1 0 4.3 0a2.1 2.1 0 1 0 -4.3 0zM314.2 1118.2a1.4 1.4 0 1 0 2.9 0a1.4 1.4 0 1 0 -2.9 0zM318.0 1121.4a1.3 1.3 0 1 0 2.5 0a1.3 1.3 0 1 0 -2.5 0zM343.7 1079.6a1.3 1.3 0 1 0 2.5 0a1.3 1.3 0 1 0 -2.5 0zM359.3 1144.5a1.1 1.1 0 1 0 2.1 0a1.1 1.1 0 1 0 -2.1 0zM349.7 1144.7a2.1 2.1 0 1 0 4.2 0a2.1 2.1 0 1 0 -4.2 0zM350.4 1149.2a1.1 1.1 0 1 0 2.3 0a1.1 1.1 0 1 0 -2.3 0zM343.8 1179.7a2.2 2.2 0 1 0 4.4 0a2.2 2.2 0 1 0 -4.4 0zM275.8 1107.1a1.0 1.0 0 1 0 2.1 0a1.0 1.0 0 1 0 -2.1 0zM273.4 1114.5a2.2 2.2 0 1 0 4.3 0a2.2 2.2 0 1 0 -4.3 0zM303.8 1093.3a1.9 1.9 0 1 0 3.7 0a1.9 1.9 0 1 0 -3.7 0zM293.3 1091.7a2.2 2.2 0 1 0 4.4 0a2.2 2.2 0 1 0 -4.4 0zM286.0 1093.7a1.6 1.6 0 1 0 3.2 0a1.6 1.6 0 1 0 -3.2 0zM245.0 1116.5a1.0 1.0 0 1 0 2.0 0a1.0 1.0 0 1 0 -2.0 0zM351.6 1110.7a1.6 1.6 0 1 0 3.2 0a1.6 1.6 0 1 0 -3.2 0zM360.8 1088.7a1.1 1.1 0 1 0 2.2 0a1.1 1.1 0 1 0 -2.2 0zM374.0 1158.8a1.4 1.4 0 1 0 2.9 0a1.4 1.4 0 1 0 -2.9 0zM363.3 1158.3a2.2 2.2 0 1 0 4.4 0a2.2 2.2 0 1 0 -4.4 0zM249.5 1103.0a1.6 1.6 0 1 0 3.1 0a1.6 1.6 0 1 0 -3.1 0zM243.6 1103.9a1.8 1.8 0 1 0 3.6 0a1.8 1.8 0 1 0 -3.6 0zM232.0 1060.8a2.2 2.2 0 1 0 4.4 0a2.2 2.2 0 1 0 -4.4 0zM222.0 1062.7a2.0 2.0 0 1 0 4.0 0a2.0 2.0 0 1 0 -4.0 0zM228.7 1064.6a2.1 2.1 0 1 0 4.2 0a2.1 2.1 0 1 0 -4.2 0zM225.0 1150.5a1.7 1.7 0 1 0 3.3 0a1.7 1.7 0 1 0 -3.3 0zM232.9 1152.9a1.2 1.2 0 1 0 2.5 0a1.2 1.2 0 1 0 -2.5 0zM233.2 1154.9a2.0 2.0 0 1 0 4.0 0a2.0 2.0 0 1 0 -4.0 0zM211.6 1152.4a1.8 1.8 0 1 0 3.6 0a1.8 1.8 0 1 0 -3.6 0zM190.7 1178.5a1.1 1.1 0 1 0 2.3 0a1.1 1.1 0 1 0 -2.3 0zM244.2 1130.5a2.2 2.2 0 1 0 4.4 0a2.2 2.2 0 1 0 -4.4 0zM246.3 1141.6a1.5 1.5 0 1 0 3.0 0a1.5 1.5 0 1 0 -3.0 0zM244.5 1141.2a1.5 1.5 0 1 0 3.0 0a1.5 1.5 0 1 0 -3.0 0zM266.4 1156.0a1.7 1.7 0 1 0 3.3 0a1.7 1.7 0 1 0 -3.3 0zM276.5 1154.5a1.1 1.1 0 1 0 2.2 0a1.1 1.1 0 1 0 -2.2 0zM196.4 1147.3a1.5 1.5 0 1 0 3.1 0a1.5 1.5 0 1 0 -3.1 0zM196.3 1148.0a1.8 1.8 0 1 0 3.6 0a1.8 1.8 0 1 0 -3.6 0zM218.4 1051.7a1.5 1.5 0 1 0 3.0 0a1.5 1.5 0 1 0 -3.0 0zM169.4 1053.6a1.2 1.2 0 1 0 2.5 0a1.2 1.2 0 1 0 -2.5 0zM322.6 1110.5a1.3 1.3 0 1 0 2.5 0a1.3 1.3 0 1 0 -2.5 0zM321.4 1118.1a1.9 1.9 0 1 0 3.9 0a1.9 1.9 0 1 0 -3.9 0zM327.8 1115.6a1.2 1.2 0 1 0 2.4 0a1.2 1.2 0 1 0 -2.4 0zM313.3 1089.0a1.1 1.1 0 1 0 2.2 0a1.1 1.1 0 1 0 -2.2 0zM320.1 1096.0a1.1 1.1 0 1 0 2.3 0a1.1 1.1 0 1 0 -2.3 0zM336.7 1094.2a1.2 1.2 0 1 0 2.5 0a1.2 1.2 0 1 0 -2.5 0zM337.3 1098.9a1.0 1.0 0 1 0 2.0 0a1.0 1.0 0 1 0 -2.0 0zM281.5 1114.3a1.3 1.3 0 1 0 2.7 0a1.3 1.3 0 1 0 -2.7 0zM287.9 1113.8a1.2 1.2 0 1 0 2.4 0a1.2 1.2 0 1 0 -2.4 0zM303.3 1084.8a1.0 1.0 0 1 0 2.0 0a1.0 1.0 0 1 0 -2.0 0zM295.8 1081.9a2.1 2.1 0 1 0 4.3 0a2.1 2.1 0 1 0 -4.3 0zM358.1 1086.4a1.2 1.2 0 1 0 2.4 0a1.2 1.2 0 1 0 -2.4 0zM349.3 1078.6a1.4 1.4 0 1 0 2.9 0a1.4 1.4 0 1 0 -2.9 0zM346.2 1095.2a1.6 1.6 0 1 0 3.2 0a1.6 1.6 0 1 0 -3.2 0zM241.3 1078.9a2.0 2.0 0 1 0 3.9 0a2.0 2.0 0 1 0 -3.9 0zM234.7 1052.1a1.4 1.4 0 1 0 2.7 0a1.4 1.4 0 1 0 -2.7 0zM219.8 1064.1a1.9 1.9 0 1 0 3.9 0a1.9 1.9 0 1 0 -3.9 0zM212.8 1072.2a2.0 2.0 0 1 0 4.0 0a2.0 2.0 0 1 0 -4.0 0zM186.7 1168.7a1.8 1.8 0 1 0 3.7 0a1.8 1.8 0 1 0 -3.7 0zM185.7 1167.5a2.0 2.0 0 1 0 4.0 0a2.0 2.0 0 1 0 -4.0 0zM180.2 1166.8a1.0 1.0 0 1 0 2.1 0a1.0 1.0 0 1 0 -2.1 0zM179.6 1166.5a1.9 1.9 0 1 0 3.8 0a1.9 1.9 0 1 0 -3.8 0zM193.3 1172.7a1.2 1.2 0 1 0 2.3 0a1.2 1.2 0 1 0 -2.3 0zM233.8 1175.0a2.0 2.0 0 1 0 4.1 0a2.0 2.0 0 1 0 -4.1 0zM234.9 1174.5a1.3 1.3 0 1 0 2.6 0a1.3 1.3 0 1 0 -2.6 0zM240.9 1149.1a1.1 1.1 0 1 0 2.2 0a1.1 1.1 0 1 0 -2.2 0zM346.7 1095.6a1.1 1.1 0 1 0 2.1 0a1.1 1.1 0 1 0 -2.1 0zM342.1 1104.0a1.0 1.0 0 1 0 2.0 0a1.0 1.0 0 1 0 -2.0 0zM340.9 1100.9a1.4 1.4 0 1 0 2.8 0a1.4 1.4 0 1 0 -2.8 0zM222.4 1161.1a2.0 2.0 0 1 0 4.0 0a2.0 2.0 0 1 0 -4.0 0zM223.1 1170.6a1.2 1.2 0 1 0 2.4 0a1.2 1.2 0 1 0 -2.4 0zM218.0 1156.5a2.2 2.2 0 1 0 4.4 0a2.2 2.2 0 1 0 -4.4 0zM221.9 1161.0a1.8 1.8 0 1 0 3.5 0a1.8 1.8 0 1 0 -3.5 0zM184.9 1174.1a1.6 1.6 0 1 0 3.2 0a1.6 1.6 0 1 0 -3.2 0zM211.4 1165.8a1.8 1.8 0 1 0 3.7 0a1.8 1.8 0 1 0 -3.7 0zM229.0 1165.4a1.8 1.8 0 1 0 3.6 0a1.8 1.8 0 1 0 -3.6 0zM194.6 1151.2a2.0 2.0 0 1 0 3.9 0a2.0 2.0 0 1 0 -3.9 0zM209.2 1180.7a1.6 1.6 0 1 0 3.1 0a1.6 1.6 0 1 0 -3.1 0zM200.9 1161.3a1.0 1.0 0 1 0 2.0 0a1.0 1.0 0 1 0 -2.0 0zM238.0 1167.5a2.1 2.1 0 1 0 4.2 0a2.1 2.1 0 1 0 -4.2 0zM238.0 1159.9a1.8 1.8 0 1 0 3.7 0a1.8 1.8 0 1 0 -3.7 0zM236.2 1163.2a1.7 1.7 0 1 0 3.4 0a1.7 1.7 0 1 0 -3.4 0zM242.9 1184.2a2.0 2.0 0 1 0 4.0 0a2.0 2.0 0 1 0 -4.0 0zM184.5 1158.4a1.8 1.8 0 1 0 3.7 0a1.8 1.8 0 1 0 -3.7 0zM192.6 1161.8a1.7 1.7 0 1 0 3.4 0a1.7 1.7 0 1 0 -3.4 0zM207.3 1174.6a1.8 1.8 0 1 0 3.6 0a1.8 1.8 0 1 0 -3.6 0zM211.0 1172.5a1.1 1.1 0 1 0 2.2 0a1.1 1.1 0 1 0 -2.2 0zM209.8 1167.7a1.0 1.0 0 1 0 2.0 0a1.0 1.0 0 1 0 -2.0 0zM233.7 1185.4a2.2 2.2 0 1 0 4.3 0a2.2 2.2 0 1 0 -4.3 0zM226.8 1190.3a1.9 1.9 0 1 0 3.7 0a1.9 1.9 0 1 0 -3.7 0z"/><g><g transform="rotate(0 181 1110)"><ellipse cx="181" cy="1110" rx="15" ry="12" fill="#8e44a0"/><ellipse cx="181" cy="1110" rx="11.5" ry="8.5" fill="#fbfbfb"/></g><g transform="rotate(0 280 1098)"><ellipse cx="280" cy="1098" rx="5" ry="5" fill="#b060b0"/><ellipse cx="280" cy="1098" rx="3.0" ry="3.0" fill="#e090a0"/></g><line x1="341" y1="1181.5" x2="370" y2="1181.5" stroke="#222" stroke-width="0.9"/><line x1="351.5" y1="1179.9" x2="359.5" y2="1179.9" stroke="#555" stroke-width="0.7"/></g></g></g><rect x="167.5" y="1049" width="209" height="142.5" fill="none" stroke="#f25555" stroke-width="1.5"/>
<g clip-path="url(#c8)"><rect x="42" y="619" width="115" height="134" fill="#cbcbca"/><rect x="42" y="619" width="115" height="134" fill="url(#bgg)" opacity="0.5"/><g filter="url(#lt)"><path d="M84.0 630.0C85.6 627.9 90.4 626.5 94.0 626.5C97.6 626.5 103.8 627.8 105.5 630.0C107.2 632.2 104.9 637.8 104.0 640.0C103.1 642.2 100.6 635.7 100.0 643.0C99.4 650.3 102.3 677.2 100.5 684.0C98.7 690.8 90.8 690.8 89.0 684.0C87.2 677.2 90.2 650.5 89.5 643.0C88.8 635.5 85.4 641.2 84.5 639.0C83.6 636.8 82.4 632.1 84.0 630.0Z" fill="#e2b4aa"/><path d="M84.0 630.0C85.6 627.9 90.4 626.5 94.0 626.5C97.6 626.5 103.8 627.8 105.5 630.0C107.2 632.2 104.9 637.8 104.0 640.0C103.1 642.2 100.6 635.7 100.0 643.0C99.4 650.3 102.3 677.2 100.5 684.0C98.7 690.8 90.8 690.8 89.0 684.0C87.2 677.2 90.2 650.5 89.5 643.0C88.8 635.5 85.4 641.2 84.5 639.0C83.6 636.8 82.4 632.1 84.0 630.0Z" fill="url(#lobeg)"/><path d="M70.0 682.0C72.3 678.8 76.8 680.3 80.0 680.5C83.2 680.7 87.0 679.8 89.0 683.0C91.0 686.2 91.3 690.2 92.0 700.0C92.7 709.8 95.0 735.7 93.0 742.0C91.0 748.3 83.7 740.3 80.0 738.0C76.3 735.7 73.2 731.8 71.0 728.0C68.8 724.2 67.8 719.7 67.0 715.0C66.2 710.3 65.5 705.5 66.0 700.0C66.5 694.5 67.7 685.2 70.0 682.0Z" fill="#d47a68"/><path d="M70.0 682.0C72.3 678.8 76.8 680.3 80.0 680.5C83.2 680.7 87.0 679.8 89.0 683.0C91.0 686.2 91.3 690.2 92.0 700.0C92.7 709.8 95.0 735.7 93.0 742.0C91.0 748.3 83.7 740.3 80.0 738.0C76.3 735.7 73.2 731.8 71.0 728.0C68.8 724.2 67.8 719.7 67.0 715.0C66.2 710.3 65.5 705.5 66.0 700.0C66.5 694.5 67.7 685.2 70.0 682.0Z" fill="url(#lobeg)"/><path d="M96.0 679.0C98.5 676.6 104.7 675.2 108.0 675.5C111.3 675.8 113.7 677.8 116.0 681.0C118.3 684.2 119.8 690.7 122.0 695.0C124.2 699.3 128.1 703.5 129.0 707.0C129.9 710.5 128.4 712.8 127.5 716.0C126.6 719.2 125.5 722.7 123.5 726.0C121.5 729.3 118.6 733.7 115.5 736.0C112.4 738.3 108.2 739.0 104.8 740.0C101.3 741.0 96.8 747.0 94.8 742.0C92.8 737.0 93.3 718.7 93.0 710.0C92.7 701.3 92.5 695.2 93.0 690.0C93.5 684.8 93.5 681.4 96.0 679.0Z" fill="#d07462"/><path d="M96.0 679.0C98.5 676.6 104.7 675.2 108.0 675.5C111.3 675.8 113.7 677.8 116.0 681.0C118.3 684.2 119.8 690.7 122.0 695.0C124.2 699.3 128.1 703.5 129.0 707.0C129.9 710.5 128.4 712.8 127.5 716.0C126.6 719.2 125.5 722.7 123.5 726.0C121.5 729.3 118.6 733.7 115.5 736.0C112.4 738.3 108.2 739.0 104.8 740.0C101.3 741.0 96.8 747.0 94.8 742.0C92.8 737.0 93.3 718.7 93.0 710.0C92.7 701.3 92.5 695.2 93.0 690.0C93.5 684.8 93.5 681.4 96.0 679.0Z" fill="url(#lobeg)"/><path d="M89.0 692.0C89.3 689.5 91.2 687.8 92.0 690.0C92.8 692.2 93.8 699.7 94.0 705.0C94.2 710.3 93.7 719.3 93.0 722.0C92.3 724.7 90.5 723.8 90.0 721.0C89.5 718.2 90.2 709.8 90.0 705.0C89.8 700.2 88.7 694.5 89.0 692.0Z" fill="#94808a"/><path d="M89.0 692.0C89.3 689.5 91.2 687.8 92.0 690.0C92.8 692.2 93.8 699.7 94.0 705.0C94.2 710.3 93.7 719.3 93.0 722.0C92.3 724.7 90.5 723.8 90.0 721.0C89.5 718.2 90.2 709.8 90.0 705.0C89.8 700.2 88.7 694.5 89.0 692.0Z" fill="url(#lobeg)"/></g><g fill="#fff" opacity="0.75" filter="url(#soft)"><ellipse cx="110" cy="695" rx="2" ry="1.2" transform="rotate(-30 110 695)"/><ellipse cx="84" cy="700" rx="1.5" ry="1" transform="rotate(0 84 700)"/></g><rect x="42" y="619" width="3" height="134" fill="#8a8886" opacity="0.45"/></g><g stroke="#e83a3a" fill="none"><path d="M167 619L121.6 645.6V726L167 753.5" stroke-width="1.3"/><path d="M121.6 645.6L100.5 703M104 721.6L121.6 726" stroke-width="0.8"/><ellipse cx="103.7" cy="712.2" rx="7" ry="9.5" stroke-width="1.2"/></g>
<g clip-path="url(#c9)"><rect x="596" y="619" width="115" height="134" fill="#cfcfcd"/><rect x="596" y="619" width="115" height="134" fill="url(#bgg)" opacity="0.5"/><g filter="url(#lt)"><path d="M642.0 632.0C643.6 629.6 648.6 626.7 652.0 626.5C655.4 626.3 661.0 628.4 662.5 631.0C664.0 633.6 661.8 639.2 661.0 642.0C660.2 644.8 658.2 640.0 657.5 648.0C656.8 656.0 659.8 682.7 657.0 690.0C654.2 697.3 642.8 699.0 641.0 692.0C639.2 685.0 645.8 656.5 646.0 648.0C646.2 639.5 643.2 643.7 642.5 641.0C641.8 638.3 640.4 634.4 642.0 632.0Z" fill="#dcb0a2"/><path d="M642.0 632.0C643.6 629.6 648.6 626.7 652.0 626.5C655.4 626.3 661.0 628.4 662.5 631.0C664.0 633.6 661.8 639.2 661.0 642.0C660.2 644.8 658.2 640.0 657.5 648.0C656.8 656.0 659.8 682.7 657.0 690.0C654.2 697.3 642.8 699.0 641.0 692.0C639.2 685.0 645.8 656.5 646.0 648.0C646.2 639.5 643.2 643.7 642.5 641.0C641.8 638.3 640.4 634.4 642.0 632.0Z" fill="url(#lobeg)"/><path d="M625.0 687.5C630.7 685.3 638.2 684.0 645.0 683.0C651.8 682.0 658.4 679.0 666.0 681.7C673.6 684.4 685.4 693.4 690.8 699.2C696.1 705.0 697.1 711.4 698.1 716.7C699.1 722.1 698.7 726.9 696.7 731.3C694.8 735.7 692.2 741.2 686.4 743.0C680.6 744.8 668.9 741.2 662.0 742.0C655.1 742.8 651.1 746.9 645.0 748.0C638.9 749.1 631.4 750.4 625.2 748.8C619.0 747.2 611.7 742.5 607.7 738.6C603.7 734.7 601.8 729.5 601.1 725.4C600.4 721.3 601.7 718.6 603.3 713.8C604.9 708.9 607.0 700.7 610.6 696.3C614.2 691.9 619.3 689.7 625.0 687.5Z" fill="#cc8a78"/><path d="M625.0 687.5C630.7 685.3 638.2 684.0 645.0 683.0C651.8 682.0 658.4 679.0 666.0 681.7C673.6 684.4 685.4 693.4 690.8 699.2C696.1 705.0 697.1 711.4 698.1 716.7C699.1 722.1 698.7 726.9 696.7 731.3C694.8 735.7 692.2 741.2 686.4 743.0C680.6 744.8 668.9 741.2 662.0 742.0C655.1 742.8 651.1 746.9 645.0 748.0C638.9 749.1 631.4 750.4 625.2 748.8C619.0 747.2 611.7 742.5 607.7 738.6C603.7 734.7 601.8 729.5 601.1 725.4C600.4 721.3 601.7 718.6 603.3 713.8C604.9 708.9 607.0 700.7 610.6 696.3C614.2 691.9 619.3 689.7 625.0 687.5Z" fill="url(#lobeg)"/><path d="M625.0 687.5C620.8 687.7 614.2 691.9 610.6 696.3C607.0 700.7 604.9 708.9 603.3 713.8C601.7 718.6 600.4 721.3 601.1 725.4C601.8 729.5 603.7 734.7 607.7 738.6C611.7 742.5 621.0 747.6 625.2 748.8C629.4 750.0 631.2 750.8 633.0 746.0C634.8 741.2 635.5 728.5 636.0 720.0C636.5 711.5 637.8 700.4 636.0 695.0C634.2 689.6 629.2 687.3 625.0 687.5Z" fill="#d09080"/><path d="M625.0 687.5C620.8 687.7 614.2 691.9 610.6 696.3C607.0 700.7 604.9 708.9 603.3 713.8C601.7 718.6 600.4 721.3 601.1 725.4C601.8 729.5 603.7 734.7 607.7 738.6C611.7 742.5 621.0 747.6 625.2 748.8C629.4 750.0 631.2 750.8 633.0 746.0C634.8 741.2 635.5 728.5 636.0 720.0C636.5 711.5 637.8 700.4 636.0 695.0C634.2 689.6 629.2 687.3 625.0 687.5Z" fill="url(#lobeg)"/><path d="M632.5 725.4C634.8 723.1 641.4 728.1 646.0 730.0C650.6 731.9 659.0 734.5 660.0 737.0C661.0 739.5 655.3 743.3 652.0 745.0C648.7 746.7 643.3 747.2 640.0 747.0C636.7 746.8 633.2 747.6 632.0 744.0C630.8 740.4 630.2 727.7 632.5 725.4Z" fill="#cc8e7c"/><path d="M632.5 725.4C634.8 723.1 641.4 728.1 646.0 730.0C650.6 731.9 659.0 734.5 660.0 737.0C661.0 739.5 655.3 743.3 652.0 745.0C648.7 746.7 643.3 747.2 640.0 747.0C636.7 746.8 633.2 747.6 632.0 744.0C630.8 740.4 630.2 727.7 632.5 725.4Z" fill="url(#lobeg)"/><path d="M654.4 684.6C656.6 681.6 662.1 681.5 666.0 681.7C669.9 681.9 673.6 683.1 677.7 686.0C681.8 688.9 687.4 694.1 690.8 699.2C694.2 704.3 697.1 711.4 698.1 716.7C699.1 722.1 698.7 726.9 696.7 731.3C694.8 735.7 690.3 740.6 686.4 743.0C682.5 745.4 677.7 746.6 673.3 745.9C668.9 745.2 663.2 742.9 660.2 738.6C657.2 734.3 656.2 726.4 655.0 720.0C653.8 713.6 653.1 705.9 653.0 700.0C652.9 694.1 652.2 687.6 654.4 684.6Z" fill="#d29483"/><path d="M654.4 684.6C656.6 681.6 662.1 681.5 666.0 681.7C669.9 681.9 673.6 683.1 677.7 686.0C681.8 688.9 687.4 694.1 690.8 699.2C694.2 704.3 697.1 711.4 698.1 716.7C699.1 722.1 698.7 726.9 696.7 731.3C694.8 735.7 690.3 740.6 686.4 743.0C682.5 745.4 677.7 746.6 673.3 745.9C668.9 745.2 663.2 742.9 660.2 738.6C657.2 734.3 656.2 726.4 655.0 720.0C653.8 713.6 653.1 705.9 653.0 700.0C652.9 694.1 652.2 687.6 654.4 684.6Z" fill="url(#lobeg)"/><path d="M637.0 686.0C638.7 683.3 644.0 682.3 647.0 684.0C650.0 685.7 653.2 690.8 655.0 696.0C656.8 701.2 657.8 709.7 658.0 715.0C658.2 720.3 657.7 725.8 656.0 728.0C654.3 730.2 650.5 729.7 648.0 728.0C645.5 726.3 642.8 722.7 641.0 718.0C639.2 713.3 637.7 705.3 637.0 700.0C636.3 694.7 635.3 688.7 637.0 686.0Z" fill="#a59c80"/><path d="M637.0 686.0C638.7 683.3 644.0 682.3 647.0 684.0C650.0 685.7 653.2 690.8 655.0 696.0C656.8 701.2 657.8 709.7 658.0 715.0C658.2 720.3 657.7 725.8 656.0 728.0C654.3 730.2 650.5 729.7 648.0 728.0C645.5 726.3 642.8 722.7 641.0 718.0C639.2 713.3 637.7 705.3 637.0 700.0C636.3 694.7 635.3 688.7 637.0 686.0Z" fill="url(#lobeg)"/><path d="M635.0 700.0C635.7 696.7 638.7 696.0 640.0 698.0C641.3 700.0 642.8 708.0 643.0 712.0C643.2 716.0 642.2 721.0 641.0 722.0C639.8 723.0 637.0 721.7 636.0 718.0C635.0 714.3 634.3 703.3 635.0 700.0Z" fill="#7a6e78"/><path d="M635.0 700.0C635.7 696.7 638.7 696.0 640.0 698.0C641.3 700.0 642.8 708.0 643.0 712.0C643.2 716.0 642.2 721.0 641.0 722.0C639.8 723.0 637.0 721.7 636.0 718.0C635.0 714.3 634.3 703.3 635.0 700.0Z" fill="url(#lobeg)"/></g><g fill="#fff" opacity="0.75" filter="url(#soft)"><ellipse cx="651" cy="684" rx="1.5" ry="1" transform="rotate(0 651 684)"/><ellipse cx="663" cy="691" rx="1.2" ry="0.8" transform="rotate(0 663 691)"/><ellipse cx="676" cy="700" rx="1.2" ry="1" transform="rotate(0 676 700)"/><ellipse cx="628" cy="710" rx="1.5" ry="1" transform="rotate(0 628 710)"/><ellipse cx="684" cy="720" rx="1.2" ry="0.8" transform="rotate(0 684 720)"/><ellipse cx="678" cy="733" rx="1.2" ry="0.8" transform="rotate(0 678 733)"/><ellipse cx="653" cy="729" rx="1.2" ry="0.8" transform="rotate(0 653 729)"/></g></g><g stroke="#e83a3a" fill="none"><path d="M586 619L631.4 647.2V726.8L586 753.5" stroke-width="1.3"/><path d="M631.4 647.2L680.7 707M680 726.8L631.4 726.8" stroke-width="0.8"/><ellipse cx="680" cy="716.5" rx="7.2" ry="9.2" stroke-width="1.2"/></g>
<g clip-path="url(#c10)"><rect x="42" y="757" width="114.5" height="134" fill="#cbcac8"/><rect x="42" y="757" width="114.5" height="134" fill="url(#bgg)" opacity="0.5"/><g filter="url(#lt)"><path d="M96.0 768.0C97.5 766.2 101.6 764.2 104.5 764.0C107.4 763.8 112.1 765.0 113.5 767.0C114.9 769.0 114.2 773.8 113.0 776.0C111.8 778.2 108.2 773.3 106.5 780.0C104.8 786.7 105.6 809.7 103.0 816.0C100.4 822.3 92.5 824.0 91.0 818.0C89.5 812.0 93.2 787.2 94.0 780.0C94.8 772.8 95.2 777.0 95.5 775.0C95.8 773.0 94.5 769.8 96.0 768.0Z" fill="#c2544f"/><path d="M96.0 768.0C97.5 766.2 101.6 764.2 104.5 764.0C107.4 763.8 112.1 765.0 113.5 767.0C114.9 769.0 114.2 773.8 113.0 776.0C111.8 778.2 108.2 773.3 106.5 780.0C104.8 786.7 105.6 809.7 103.0 816.0C100.4 822.3 92.5 824.0 91.0 818.0C89.5 812.0 93.2 787.2 94.0 780.0C94.8 772.8 95.2 777.0 95.5 775.0C95.8 773.0 94.5 769.8 96.0 768.0Z" fill="url(#lobeg)"/><path d="M83.1 815.9C86.8 816.3 90.4 819.6 92.4 822.5C94.4 825.4 94.6 826.8 95.0 833.0C95.4 839.2 95.8 851.2 95.0 860.0C94.2 868.8 92.6 882.1 90.0 886.0C87.4 889.9 83.2 885.3 79.2 883.6C75.2 881.9 69.7 879.2 65.9 875.6C62.1 872.0 58.5 867.2 56.6 862.3C54.7 857.4 54.2 851.7 54.6 846.4C55.0 841.1 56.8 834.9 59.3 830.5C61.8 826.1 65.9 822.3 69.9 819.9C73.9 817.5 79.3 815.5 83.1 815.9Z" fill="#b6625a"/><path d="M83.1 815.9C86.8 816.3 90.4 819.6 92.4 822.5C94.4 825.4 94.6 826.8 95.0 833.0C95.4 839.2 95.8 851.2 95.0 860.0C94.2 868.8 92.6 882.1 90.0 886.0C87.4 889.9 83.2 885.3 79.2 883.6C75.2 881.9 69.7 879.2 65.9 875.6C62.1 872.0 58.5 867.2 56.6 862.3C54.7 857.4 54.2 851.7 54.6 846.4C55.0 841.1 56.8 834.9 59.3 830.5C61.8 826.1 65.9 822.3 69.9 819.9C73.9 817.5 79.3 815.5 83.1 815.9Z" fill="url(#lobeg)"/><path d="M97.7 815.9C99.1 809.7 100.6 813.3 104.4 812.6C108.2 811.9 115.0 810.7 120.3 811.9C125.6 813.1 132.8 816.6 136.2 819.9C139.6 823.2 140.6 827.8 140.8 831.8C141.0 835.8 138.7 840.3 137.5 843.8C136.3 847.3 134.4 849.9 133.5 853.0C132.6 856.1 133.5 858.8 132.2 862.3C130.9 865.8 129.3 871.0 125.6 874.3C121.8 877.6 114.8 880.2 109.7 882.2C104.6 884.2 97.3 891.6 95.0 886.2C92.7 880.8 95.5 861.7 96.0 850.0C96.5 838.3 96.3 822.1 97.7 815.9Z" fill="#aa5650"/><path d="M97.7 815.9C99.1 809.7 100.6 813.3 104.4 812.6C108.2 811.9 115.0 810.7 120.3 811.9C125.6 813.1 132.8 816.6 136.2 819.9C139.6 823.2 140.6 827.8 140.8 831.8C141.0 835.8 138.7 840.3 137.5 843.8C136.3 847.3 134.4 849.9 133.5 853.0C132.6 856.1 133.5 858.8 132.2 862.3C130.9 865.8 129.3 871.0 125.6 874.3C121.8 877.6 114.8 880.2 109.7 882.2C104.6 884.2 97.3 891.6 95.0 886.2C92.7 880.8 95.5 861.7 96.0 850.0C96.5 838.3 96.3 822.1 97.7 815.9Z" fill="url(#lobeg)"/><path d="M93.0 836.0C93.7 833.0 95.3 831.3 96.0 834.0C96.7 836.7 97.3 845.7 97.0 852.0C96.7 858.3 95.2 868.7 94.0 872.0C92.8 875.3 90.3 875.3 90.0 872.0C89.7 868.7 91.5 858.0 92.0 852.0C92.5 846.0 92.3 839.0 93.0 836.0Z" fill="#7e6a68"/><path d="M93.0 836.0C93.7 833.0 95.3 831.3 96.0 834.0C96.7 836.7 97.3 845.7 97.0 852.0C96.7 858.3 95.2 868.7 94.0 872.0C92.8 875.3 90.3 875.3 90.0 872.0C89.7 868.7 91.5 858.0 92.0 852.0C92.5 846.0 92.3 839.0 93.0 836.0Z" fill="url(#lobeg)"/></g><g fill="#fff" opacity="0.75" filter="url(#soft)"><ellipse cx="93" cy="858" rx="1.2" ry="3" transform="rotate(10 93 858)"/><ellipse cx="95" cy="868" rx="1.2" ry="2" transform="rotate(0 95 868)"/><ellipse cx="112" cy="845" rx="1.5" ry="1" transform="rotate(0 112 845)"/><ellipse cx="120" cy="830" rx="1.2" ry="0.8" transform="rotate(0 120 830)"/><ellipse cx="72" cy="858" rx="1.2" ry="0.8" transform="rotate(0 72 858)"/></g></g><g stroke="#e83a3a" fill="none"><path d="M167 758.2L121.6 786.5V866.4L167 895" stroke-width="1.3"/><path d="M121.6 786.5L103.7 841.7M107 858L121.6 866.4" stroke-width="0.8"/><ellipse cx="106.8" cy="848.9" rx="7" ry="9.5" stroke-width="1.2"/></g>
<g clip-path="url(#c11)"><rect x="596" y="760" width="115" height="134" fill="#d1d0cd"/><rect x="596" y="760" width="115" height="134" fill="url(#bgg)" opacity="0.5"/><g filter="url(#lt)"><path d="M629.0 780.0C630.9 772.0 638.5 772.0 640.5 780.0C642.5 788.0 642.9 820.0 641.0 828.0C639.1 836.0 631.0 836.0 629.0 828.0C627.0 820.0 627.1 788.0 629.0 780.0Z" fill="#d6a89e"/><path d="M629.0 780.0C630.9 772.0 638.5 772.0 640.5 780.0C642.5 788.0 642.9 820.0 641.0 828.0C639.1 836.0 631.0 836.0 629.0 828.0C627.0 820.0 627.1 788.0 629.0 780.0Z" fill="url(#lobeg)"/><path d="M626.0 768.0C627.6 765.7 632.6 761.3 636.0 761.0C639.4 760.7 645.2 763.5 646.5 766.0C647.8 768.5 645.4 773.3 644.0 776.0C642.6 778.7 640.2 781.0 638.0 782.0C635.8 783.0 632.9 783.2 631.0 782.0C629.1 780.8 627.3 777.3 626.5 775.0C625.7 772.7 624.4 770.3 626.0 768.0Z" fill="#a8443e"/><path d="M626.0 768.0C627.6 765.7 632.6 761.3 636.0 761.0C639.4 760.7 645.2 763.5 646.5 766.0C647.8 768.5 645.4 773.3 644.0 776.0C642.6 778.7 640.2 781.0 638.0 782.0C635.8 783.0 632.9 783.2 631.0 782.0C629.1 780.8 627.3 777.3 626.5 775.0C625.7 772.7 624.4 770.3 626.0 768.0Z" fill="url(#lobeg)"/><path d="M631.0 796.0C631.5 790.0 634.9 788.3 636.0 794.0C637.1 799.7 638.0 824.0 637.5 830.0C637.0 836.0 634.1 835.7 633.0 830.0C631.9 824.3 630.5 802.0 631.0 796.0Z" fill="#c8403e"/><path d="M631.0 796.0C631.5 790.0 634.9 788.3 636.0 794.0C637.1 799.7 638.0 824.0 637.5 830.0C637.0 836.0 634.1 835.7 633.0 830.0C631.9 824.3 630.5 802.0 631.0 796.0Z" fill="url(#lobeg)"/><path d="M609.1 831.7C613.1 827.9 619.1 827.3 623.5 825.7C627.9 824.1 631.0 822.4 635.4 822.2C639.8 822.0 645.1 823.1 649.7 824.5C654.3 825.9 658.6 827.1 662.8 830.5C667.0 833.9 672.2 839.8 674.8 844.8C677.4 849.8 678.4 855.8 678.4 860.4C678.4 865.0 677.4 868.3 674.8 872.3C672.2 876.3 667.6 881.1 662.8 884.2C658.0 887.3 651.3 889.6 646.1 890.8C640.9 892.0 636.6 892.1 631.8 891.4C627.0 890.7 621.9 889.0 617.5 886.6C613.1 884.2 608.7 881.0 605.5 877.0C602.3 873.0 599.4 867.5 598.4 862.7C597.4 857.9 597.8 853.6 599.6 848.4C601.4 843.2 605.1 835.5 609.1 831.7Z" fill="#bc6a5c"/><path d="M609.1 831.7C613.1 827.9 619.1 827.3 623.5 825.7C627.9 824.1 631.0 822.4 635.4 822.2C639.8 822.0 645.1 823.1 649.7 824.5C654.3 825.9 658.6 827.1 662.8 830.5C667.0 833.9 672.2 839.8 674.8 844.8C677.4 849.8 678.4 855.8 678.4 860.4C678.4 865.0 677.4 868.3 674.8 872.3C672.2 876.3 667.6 881.1 662.8 884.2C658.0 887.3 651.3 889.6 646.1 890.8C640.9 892.0 636.6 892.1 631.8 891.4C627.0 890.7 621.9 889.0 617.5 886.6C613.1 884.2 608.7 881.0 605.5 877.0C602.3 873.0 599.4 867.5 598.4 862.7C597.4 857.9 597.8 853.6 599.6 848.4C601.4 843.2 605.1 835.5 609.1 831.7Z" fill="url(#lobeg)"/><path d="M633.0 832.0C633.7 827.3 636.3 827.3 637.0 832.0C637.7 836.7 637.2 851.0 637.0 860.0C636.8 869.0 636.7 881.7 636.0 886.0C635.3 890.3 633.5 890.3 633.0 886.0C632.5 881.7 633.0 869.0 633.0 860.0C633.0 851.0 632.3 836.7 633.0 832.0Z" fill="#8c6c66"/><path d="M633.0 832.0C633.7 827.3 636.3 827.3 637.0 832.0C637.7 836.7 637.2 851.0 637.0 860.0C636.8 869.0 636.7 881.7 636.0 886.0C635.3 890.3 633.5 890.3 633.0 886.0C632.5 881.7 633.0 869.0 633.0 860.0C633.0 851.0 632.3 836.7 633.0 832.0Z" fill="url(#lobeg)"/><path d="M600.0 850.0C601.8 843.5 610.0 837.5 615.0 835.0C620.0 832.5 627.2 827.5 630.0 835.0C632.8 842.5 634.0 871.8 632.0 880.0C630.0 888.2 622.7 885.0 618.0 884.0C613.3 883.0 607.0 879.7 604.0 874.0C601.0 868.3 598.2 856.5 600.0 850.0Z" fill="#b46256"/><path d="M600.0 850.0C601.8 843.5 610.0 837.5 615.0 835.0C620.0 832.5 627.2 827.5 630.0 835.0C632.8 842.5 634.0 871.8 632.0 880.0C630.0 888.2 622.7 885.0 618.0 884.0C613.3 883.0 607.0 879.7 604.0 874.0C601.0 868.3 598.2 856.5 600.0 850.0Z" fill="url(#lobeg)"/></g><g fill="#fff" opacity="0.75" filter="url(#soft)"><ellipse cx="636" cy="838" rx="1.5" ry="3" transform="rotate(0 636 838)"/><ellipse cx="658" cy="870" rx="1.2" ry="1" transform="rotate(0 658 870)"/><ellipse cx="670" cy="838" rx="1" ry="0.8" transform="rotate(0 670 838)"/></g></g><g stroke="#e83a3a" fill="none"><path d="M586 759.8L652.1 786.4V867.3L586 895" stroke-width="1.3"/><path d="M652.1 786.4L668.8 846.7M660 864L652.1 867.3" stroke-width="0.8"/><ellipse cx="666.7" cy="855.7" rx="7" ry="9" stroke-width="1.2"/></g>
<g clip-path="url(#c12)"><rect x="41" y="900.5" width="115.7" height="141.8" fill="#cbcac7"/><rect x="41" y="900.5" width="115.7" height="141.8" fill="url(#bgg)" opacity="0.5"/><g filter="url(#lt)"><path d="M80.0 910.0C81.6 908.2 86.5 906.2 90.0 906.0C93.5 905.8 99.3 907.2 101.0 909.0C102.7 910.8 100.8 915.0 100.0 917.0C99.2 919.0 97.2 914.3 96.5 921.0C95.8 927.7 98.2 951.0 96.0 957.0C93.8 963.0 85.1 963.0 83.0 957.0C80.9 951.0 83.9 927.7 83.5 921.0C83.1 914.3 81.1 918.8 80.5 917.0C79.9 915.2 78.4 911.8 80.0 910.0Z" fill="#dcaaa0"/><path d="M80.0 910.0C81.6 908.2 86.5 906.2 90.0 906.0C93.5 905.8 99.3 907.2 101.0 909.0C102.7 910.8 100.8 915.0 100.0 917.0C99.2 919.0 97.2 914.3 96.5 921.0C95.8 927.7 98.2 951.0 96.0 957.0C93.8 963.0 85.1 963.0 83.0 957.0C80.9 951.0 83.9 927.7 83.5 921.0C83.1 914.3 81.1 918.8 80.5 917.0C79.9 915.2 78.4 911.8 80.0 910.0Z" fill="url(#lobeg)"/><path d="M71.5 962.9C74.7 960.7 79.6 960.5 82.2 961.7C84.8 962.9 85.9 963.6 87.0 970.0C88.1 976.4 88.6 989.6 89.0 1000.0C89.4 1010.4 90.9 1027.1 89.4 1032.1C87.9 1037.0 83.8 1031.3 79.8 1029.7C75.8 1028.1 69.1 1025.8 65.5 1022.6C61.9 1019.4 59.6 1015.6 58.4 1010.6C57.2 1005.6 57.6 998.7 58.4 992.7C59.2 986.7 60.9 979.8 63.1 974.8C65.3 969.8 68.3 965.1 71.5 962.9Z" fill="#d8866f"/><path d="M71.5 962.9C74.7 960.7 79.6 960.5 82.2 961.7C84.8 962.9 85.9 963.6 87.0 970.0C88.1 976.4 88.6 989.6 89.0 1000.0C89.4 1010.4 90.9 1027.1 89.4 1032.1C87.9 1037.0 83.8 1031.3 79.8 1029.7C75.8 1028.1 69.1 1025.8 65.5 1022.6C61.9 1019.4 59.6 1015.6 58.4 1010.6C57.2 1005.6 57.6 998.7 58.4 992.7C59.2 986.7 60.9 979.8 63.1 974.8C65.3 969.8 68.3 965.1 71.5 962.9Z" fill="url(#lobeg)"/><path d="M94.2 954.5C95.8 951.3 98.3 950.8 101.3 951.0C104.3 951.2 108.7 952.7 112.1 955.7C115.5 958.7 119.2 963.7 121.6 968.9C124.0 974.1 125.2 981.2 126.4 986.8C127.6 992.4 128.8 997.7 128.8 1002.3C128.8 1006.9 128.4 1010.2 126.4 1014.2C124.4 1018.2 120.8 1023.0 116.8 1026.2C112.8 1029.4 106.7 1032.1 102.5 1033.3C98.3 1034.5 93.5 1038.8 91.8 1033.3C90.0 1027.8 92.0 1010.5 92.0 1000.0C92.0 989.5 91.6 977.6 92.0 970.0C92.4 962.4 92.7 957.7 94.2 954.5Z" fill="#d27c68"/><path d="M94.2 954.5C95.8 951.3 98.3 950.8 101.3 951.0C104.3 951.2 108.7 952.7 112.1 955.7C115.5 958.7 119.2 963.7 121.6 968.9C124.0 974.1 125.2 981.2 126.4 986.8C127.6 992.4 128.8 997.7 128.8 1002.3C128.8 1006.9 128.4 1010.2 126.4 1014.2C124.4 1018.2 120.8 1023.0 116.8 1026.2C112.8 1029.4 106.7 1032.1 102.5 1033.3C98.3 1034.5 93.5 1038.8 91.8 1033.3C90.0 1027.8 92.0 1010.5 92.0 1000.0C92.0 989.5 91.6 977.6 92.0 970.0C92.4 962.4 92.7 957.7 94.2 954.5Z" fill="url(#lobeg)"/><path d="M87.0 972.0C87.5 967.8 90.8 966.2 92.0 970.0C93.2 973.8 94.0 986.8 94.0 995.0C94.0 1003.2 93.0 1015.0 92.0 1019.0C91.0 1023.0 88.5 1023.0 88.0 1019.0C87.5 1015.0 89.2 1002.8 89.0 995.0C88.8 987.2 86.5 976.2 87.0 972.0Z" fill="#b8aaa6"/><path d="M87.0 972.0C87.5 967.8 90.8 966.2 92.0 970.0C93.2 973.8 94.0 986.8 94.0 995.0C94.0 1003.2 93.0 1015.0 92.0 1019.0C91.0 1023.0 88.5 1023.0 88.0 1019.0C87.5 1015.0 89.2 1002.8 89.0 995.0C88.8 987.2 86.5 976.2 87.0 972.0Z" fill="url(#lobeg)"/></g><g fill="#fff" opacity="0.75" filter="url(#soft)"><ellipse cx="90" cy="985" rx="1.2" ry="4" transform="rotate(0 90 985)"/><ellipse cx="103" cy="999" rx="1" ry="3" transform="rotate(15 103 999)"/><ellipse cx="106" cy="1012" rx="1" ry="3" transform="rotate(20 106 1012)"/><ellipse cx="77" cy="1002" rx="1.2" ry="1" transform="rotate(0 77 1002)"/><ellipse cx="91" cy="1005" rx="1" ry="2" transform="rotate(0 91 1005)"/></g><rect x="41" y="900.5" width="3" height="141.8" fill="#8a8886" opacity="0.45"/></g><g stroke="#e83a3a" fill="none"><path d="M167 900.5L121.4 928.2V1014.2L167 1044" stroke-width="1.3"/><path d="M121.4 928.2L104.3 992M105.5 1011L121.4 1014.2" stroke-width="0.8"/><ellipse cx="105.5" cy="1001.5" rx="7.5" ry="9.5" stroke-width="1.2"/></g>
<g clip-path="url(#c13)"><rect x="596" y="899.5" width="115" height="141.9" fill="#d0cfcc"/><rect x="596" y="899.5" width="115" height="141.9" fill="url(#bgg)" opacity="0.5"/><g filter="url(#lt)"><path d="M620.0 906.0C621.5 903.8 626.2 901.3 630.0 901.0C633.8 900.7 640.5 901.7 643.0 904.0C645.5 906.3 644.8 911.5 645.0 915.0C645.2 918.5 643.5 917.5 644.0 925.0C644.5 932.5 647.0 945.8 648.0 960.0C649.0 974.2 651.3 1001.5 650.0 1010.0C648.7 1018.5 643.0 1019.3 640.0 1011.0C637.0 1002.7 634.0 974.8 632.0 960.0C630.0 945.2 629.8 929.7 628.0 922.0C626.2 914.3 622.3 916.7 621.0 914.0C619.7 911.3 618.5 908.2 620.0 906.0Z" fill="#e2c0b6"/><path d="M620.0 906.0C621.5 903.8 626.2 901.3 630.0 901.0C633.8 900.7 640.5 901.7 643.0 904.0C645.5 906.3 644.8 911.5 645.0 915.0C645.2 918.5 643.5 917.5 644.0 925.0C644.5 932.5 647.0 945.8 648.0 960.0C649.0 974.2 651.3 1001.5 650.0 1010.0C648.7 1018.5 643.0 1019.3 640.0 1011.0C637.0 1002.7 634.0 974.8 632.0 960.0C630.0 945.2 629.8 929.7 628.0 922.0C626.2 914.3 622.3 916.7 621.0 914.0C619.7 911.3 618.5 908.2 620.0 906.0Z" fill="url(#lobeg)"/><path d="M643.0 912.0C644.2 910.5 649.2 911.0 652.0 912.0C654.8 913.0 659.7 916.3 660.0 918.0C660.3 919.7 656.5 921.5 654.0 922.0C651.5 922.5 646.8 922.7 645.0 921.0C643.2 919.3 641.8 913.5 643.0 912.0Z" fill="#d8aea4"/><path d="M643.0 912.0C644.2 910.5 649.2 911.0 652.0 912.0C654.8 913.0 659.7 916.3 660.0 918.0C660.3 919.7 656.5 921.5 654.0 922.0C651.5 922.5 646.8 922.7 645.0 921.0C643.2 919.3 641.8 913.5 643.0 912.0Z" fill="url(#lobeg)"/><path d="M630.0 972.0C635.5 967.8 641.9 957.6 649.0 956.9C656.1 956.1 666.5 962.6 672.9 967.5C679.3 972.4 684.4 981.0 687.5 986.1C690.6 991.2 691.3 993.8 691.5 998.0C691.7 1002.2 690.6 1006.9 688.8 1011.3C687.0 1015.7 684.9 1021.1 680.9 1024.6C676.9 1028.1 670.1 1030.7 665.0 1032.5C659.9 1034.3 654.4 1034.3 650.4 1035.2C646.4 1036.1 645.3 1037.8 641.1 1037.8C636.9 1037.8 630.5 1037.4 625.2 1035.2C619.9 1033.0 613.5 1028.6 609.3 1024.6C605.1 1020.6 601.9 1015.3 600.0 1011.3C598.1 1007.3 597.3 1004.0 598.0 1000.7C598.7 997.4 601.0 994.5 604.0 991.4C607.0 988.3 611.6 985.3 615.9 982.1C620.2 978.9 624.5 976.2 630.0 972.0Z" fill="#c27868"/><path d="M630.0 972.0C635.5 967.8 641.9 957.6 649.0 956.9C656.1 956.1 666.5 962.6 672.9 967.5C679.3 972.4 684.4 981.0 687.5 986.1C690.6 991.2 691.3 993.8 691.5 998.0C691.7 1002.2 690.6 1006.9 688.8 1011.3C687.0 1015.7 684.9 1021.1 680.9 1024.6C676.9 1028.1 670.1 1030.7 665.0 1032.5C659.9 1034.3 654.4 1034.3 650.4 1035.2C646.4 1036.1 645.3 1037.8 641.1 1037.8C636.9 1037.8 630.5 1037.4 625.2 1035.2C619.9 1033.0 613.5 1028.6 609.3 1024.6C605.1 1020.6 601.9 1015.3 600.0 1011.3C598.1 1007.3 597.3 1004.0 598.0 1000.7C598.7 997.4 601.0 994.5 604.0 991.4C607.0 988.3 611.6 985.3 615.9 982.1C620.2 978.9 624.5 976.2 630.0 972.0Z" fill="url(#lobeg)"/><path d="M630.5 975.5C626.5 975.9 620.3 979.5 615.9 982.1C611.5 984.8 607.0 988.3 604.0 991.4C601.0 994.5 598.7 997.4 598.0 1000.7C597.3 1004.0 598.1 1007.3 600.0 1011.3C601.9 1015.3 605.1 1020.6 609.3 1024.6C613.5 1028.6 619.9 1033.0 625.2 1035.2C630.5 1037.4 636.9 1037.8 641.1 1037.8C645.3 1037.8 649.8 1041.5 650.4 1035.2C651.0 1028.9 646.7 1009.2 645.0 1000.0C643.3 990.8 642.4 984.1 640.0 980.0C637.6 975.9 634.5 975.1 630.5 975.5Z" fill="#c87c6c"/><path d="M630.5 975.5C626.5 975.9 620.3 979.5 615.9 982.1C611.5 984.8 607.0 988.3 604.0 991.4C601.0 994.5 598.7 997.4 598.0 1000.7C597.3 1004.0 598.1 1007.3 600.0 1011.3C601.9 1015.3 605.1 1020.6 609.3 1024.6C613.5 1028.6 619.9 1033.0 625.2 1035.2C630.5 1037.4 636.9 1037.8 641.1 1037.8C645.3 1037.8 649.8 1041.5 650.4 1035.2C651.0 1028.9 646.7 1009.2 645.0 1000.0C643.3 990.8 642.4 984.1 640.0 980.0C637.6 975.9 634.5 975.1 630.5 975.5Z" fill="url(#lobeg)"/><path d="M649.0 956.9C651.3 955.4 655.7 959.1 659.7 960.9C663.7 962.7 670.0 965.1 672.9 967.5C675.8 969.9 674.5 972.4 676.9 975.5C679.3 978.6 685.1 982.4 687.5 986.1C689.9 989.9 691.3 993.8 691.5 998.0C691.7 1002.2 690.6 1006.9 688.8 1011.3C687.0 1015.7 684.9 1021.1 680.9 1024.6C676.9 1028.1 669.9 1031.0 665.0 1032.5C660.1 1034.0 654.5 1039.3 651.7 1033.9C648.9 1028.5 649.0 1010.6 648.0 1000.0C647.0 989.4 645.8 977.2 646.0 970.0C646.2 962.8 646.7 958.4 649.0 956.9Z" fill="#c4766a"/><path d="M649.0 956.9C651.3 955.4 655.7 959.1 659.7 960.9C663.7 962.7 670.0 965.1 672.9 967.5C675.8 969.9 674.5 972.4 676.9 975.5C679.3 978.6 685.1 982.4 687.5 986.1C689.9 989.9 691.3 993.8 691.5 998.0C691.7 1002.2 690.6 1006.9 688.8 1011.3C687.0 1015.7 684.9 1021.1 680.9 1024.6C676.9 1028.1 669.9 1031.0 665.0 1032.5C660.1 1034.0 654.5 1039.3 651.7 1033.9C648.9 1028.5 649.0 1010.6 648.0 1000.0C647.0 989.4 645.8 977.2 646.0 970.0C646.2 962.8 646.7 958.4 649.0 956.9Z" fill="url(#lobeg)"/><path d="M638.0 965.0C638.7 960.5 643.3 958.8 645.0 963.0C646.7 967.2 647.2 980.8 648.0 990.0C648.8 999.2 650.5 1013.0 650.0 1018.0C649.5 1023.0 646.5 1024.7 645.0 1020.0C643.5 1015.3 642.2 999.2 641.0 990.0C639.8 980.8 637.3 969.5 638.0 965.0Z" fill="#b4aa9c"/><path d="M638.0 965.0C638.7 960.5 643.3 958.8 645.0 963.0C646.7 967.2 647.2 980.8 648.0 990.0C648.8 999.2 650.5 1013.0 650.0 1018.0C649.5 1023.0 646.5 1024.7 645.0 1020.0C643.5 1015.3 642.2 999.2 641.0 990.0C639.8 980.8 637.3 969.5 638.0 965.0Z" fill="url(#lobeg)"/></g><g fill="#fff" opacity="0.75" filter="url(#soft)"><ellipse cx="672" cy="1005" rx="1.2" ry="1.5" transform="rotate(0 672 1005)"/><ellipse cx="680" cy="988" rx="1.2" ry="0.8" transform="rotate(0 680 988)"/><ellipse cx="650" cy="985" rx="1" ry="1.5" transform="rotate(0 650 985)"/></g></g><g stroke="#e83a3a" fill="none"><path d="M585 900.2L630.9 928V1014L585 1043.4" stroke-width="1.3"/><path d="M630.9 928L672.8 999M673.6 1018L630.9 1014" stroke-width="0.8"/><ellipse cx="674.4" cy="1008.4" rx="7.3" ry="9.5" stroke-width="1.2"/></g>
<g clip-path="url(#c14)"><rect x="41" y="1050.2" width="115.7" height="142.6" fill="#d2d0cd"/><rect x="41" y="1050.2" width="115.7" height="142.6" fill="url(#bgg)" opacity="0.5"/><g filter="url(#lt)"><path d="M67.7 1067.5C68.0 1063.4 72.6 1056.8 76.5 1054.4C80.4 1052.0 88.1 1052.2 91.0 1052.9C93.9 1053.6 92.3 1054.0 94.0 1058.8C95.7 1063.6 100.6 1073.7 101.3 1082.0C102.0 1090.3 99.3 1101.7 98.4 1108.4C97.5 1115.1 99.1 1119.7 96.0 1122.0C92.9 1124.3 83.0 1123.8 80.0 1122.0C77.0 1120.2 78.7 1118.4 77.9 1111.3C77.1 1104.2 76.7 1086.5 75.0 1079.2C73.3 1071.9 67.5 1071.6 67.7 1067.5Z" fill="#c8746a"/><path d="M67.7 1067.5C68.0 1063.4 72.6 1056.8 76.5 1054.4C80.4 1052.0 88.1 1052.2 91.0 1052.9C93.9 1053.6 92.3 1054.0 94.0 1058.8C95.7 1063.6 100.6 1073.7 101.3 1082.0C102.0 1090.3 99.3 1101.7 98.4 1108.4C97.5 1115.1 99.1 1119.7 96.0 1122.0C92.9 1124.3 83.0 1123.8 80.0 1122.0C77.0 1120.2 78.7 1118.4 77.9 1111.3C77.1 1104.2 76.7 1086.5 75.0 1079.2C73.3 1071.9 67.5 1071.6 67.7 1067.5Z" fill="url(#lobeg)"/><path d="M62.0 1091.0C64.2 1089.0 73.5 1087.2 76.0 1089.0C78.5 1090.8 79.2 1100.0 77.0 1102.0C74.8 1104.0 65.5 1102.8 63.0 1101.0C60.5 1099.2 59.8 1093.0 62.0 1091.0Z" fill="#ddd3cf"/><path d="M62.0 1091.0C64.2 1089.0 73.5 1087.2 76.0 1089.0C78.5 1090.8 79.2 1100.0 77.0 1102.0C74.8 1104.0 65.5 1102.8 63.0 1101.0C60.5 1099.2 59.8 1093.0 62.0 1091.0Z" fill="url(#lobeg)"/><path d="M82.0 1066.0C82.7 1062.0 86.3 1062.0 88.0 1066.0C89.7 1070.0 91.7 1081.0 92.0 1090.0C92.3 1099.0 91.3 1115.0 90.0 1120.0C88.7 1125.0 85.0 1125.0 84.0 1120.0C83.0 1115.0 84.3 1099.0 84.0 1090.0C83.7 1081.0 81.3 1070.0 82.0 1066.0Z" fill="#dcbab0"/><path d="M82.0 1066.0C82.7 1062.0 86.3 1062.0 88.0 1066.0C89.7 1070.0 91.7 1081.0 92.0 1090.0C92.3 1099.0 91.3 1115.0 90.0 1120.0C88.7 1125.0 85.0 1125.0 84.0 1120.0C83.0 1115.0 84.3 1099.0 84.0 1090.0C83.7 1081.0 81.3 1070.0 82.0 1066.0Z" fill="url(#lobeg)"/><path d="M63.3 1122.9C67.9 1120.7 73.7 1117.4 76.5 1118.6C79.3 1119.8 79.3 1119.5 80.0 1130.0C80.7 1140.5 82.6 1172.5 80.8 1181.3C79.0 1190.1 73.8 1183.7 69.2 1182.7C64.6 1181.7 57.2 1178.7 53.1 1175.5C49.0 1172.3 46.1 1168.2 44.4 1163.8C42.7 1159.4 42.2 1154.5 42.9 1149.2C43.6 1143.9 45.4 1136.1 48.8 1131.7C52.2 1127.3 58.7 1125.1 63.3 1122.9Z" fill="#c65c52"/><path d="M63.3 1122.9C67.9 1120.7 73.7 1117.4 76.5 1118.6C79.3 1119.8 79.3 1119.5 80.0 1130.0C80.7 1140.5 82.6 1172.5 80.8 1181.3C79.0 1190.1 73.8 1183.7 69.2 1182.7C64.6 1181.7 57.2 1178.7 53.1 1175.5C49.0 1172.3 46.1 1168.2 44.4 1163.8C42.7 1159.4 42.2 1154.5 42.9 1149.2C43.6 1143.9 45.4 1136.1 48.8 1131.7C52.2 1127.3 58.7 1125.1 63.3 1122.9Z" fill="url(#lobeg)"/><path d="M95.4 1112.7C99.2 1112.7 104.7 1117.8 108.6 1120.0C112.5 1122.2 114.4 1124.4 118.8 1125.9C123.2 1127.4 131.2 1127.3 134.8 1128.8C138.5 1130.2 140.4 1131.2 140.7 1134.6C140.9 1138.0 138.5 1144.8 136.3 1149.2C134.1 1153.6 129.9 1156.0 127.5 1160.9C125.1 1165.8 125.4 1174.3 121.7 1178.4C118.0 1182.5 111.2 1184.2 105.6 1185.7C100.0 1187.2 92.2 1187.8 88.1 1187.1C84.0 1186.4 81.8 1189.1 80.8 1181.3C79.8 1173.5 81.1 1150.2 82.0 1140.0C82.9 1129.8 83.8 1124.5 86.0 1120.0C88.2 1115.5 91.6 1112.7 95.4 1112.7Z" fill="#c2574e"/><path d="M95.4 1112.7C99.2 1112.7 104.7 1117.8 108.6 1120.0C112.5 1122.2 114.4 1124.4 118.8 1125.9C123.2 1127.4 131.2 1127.3 134.8 1128.8C138.5 1130.2 140.4 1131.2 140.7 1134.6C140.9 1138.0 138.5 1144.8 136.3 1149.2C134.1 1153.6 129.9 1156.0 127.5 1160.9C125.1 1165.8 125.4 1174.3 121.7 1178.4C118.0 1182.5 111.2 1184.2 105.6 1185.7C100.0 1187.2 92.2 1187.8 88.1 1187.1C84.0 1186.4 81.8 1189.1 80.8 1181.3C79.8 1173.5 81.1 1150.2 82.0 1140.0C82.9 1129.8 83.8 1124.5 86.0 1120.0C88.2 1115.5 91.6 1112.7 95.4 1112.7Z" fill="url(#lobeg)"/></g><g fill="#fff" opacity="0.75" filter="url(#soft)"><ellipse cx="86" cy="1110" rx="1.5" ry="3.5" transform="rotate(0 86 1110)"/><ellipse cx="64" cy="1096" rx="2.5" ry="1" transform="rotate(0 64 1096)"/><ellipse cx="60" cy="1142" rx="1.5" ry="1" transform="rotate(0 60 1142)"/></g></g><g stroke="#e83a3a" fill="none"><path d="M167 1049L121.4 1077.2V1164.8L167 1192" stroke-width="1.3"/><path d="M121.4 1077.2L98.7 1148M101 1166L121.4 1164.8" stroke-width="0.8"/><ellipse cx="100.8" cy="1156.8" rx="7.3" ry="9.5" stroke-width="1.2"/></g>
<text x="22.50" y="688.60" font-size="8.4" text-anchor="middle" letter-spacing="0.1">Control</text>
<text x="18.90" y="814.20" font-size="8.4" text-anchor="middle" letter-spacing="0.1">AGKP-L</text>
<text x="18.90" y="977.70" font-size="8.4" text-anchor="middle" letter-spacing="0.1">AGKP-H</text>
<text x="23.40" y="1122.00" font-size="8.4" text-anchor="middle" letter-spacing="0.1">GK</text>
<text x="717.40" y="688.00" font-size="8.4" letter-spacing="0.1">Model</text>
<text x="717.40" y="814.30" font-size="8.4" letter-spacing="0.1">AGKP-M</text>
<text x="722.80" y="979.00" font-size="8.4" letter-spacing="0.1">Mont</text>
</svg>
</body></html>
